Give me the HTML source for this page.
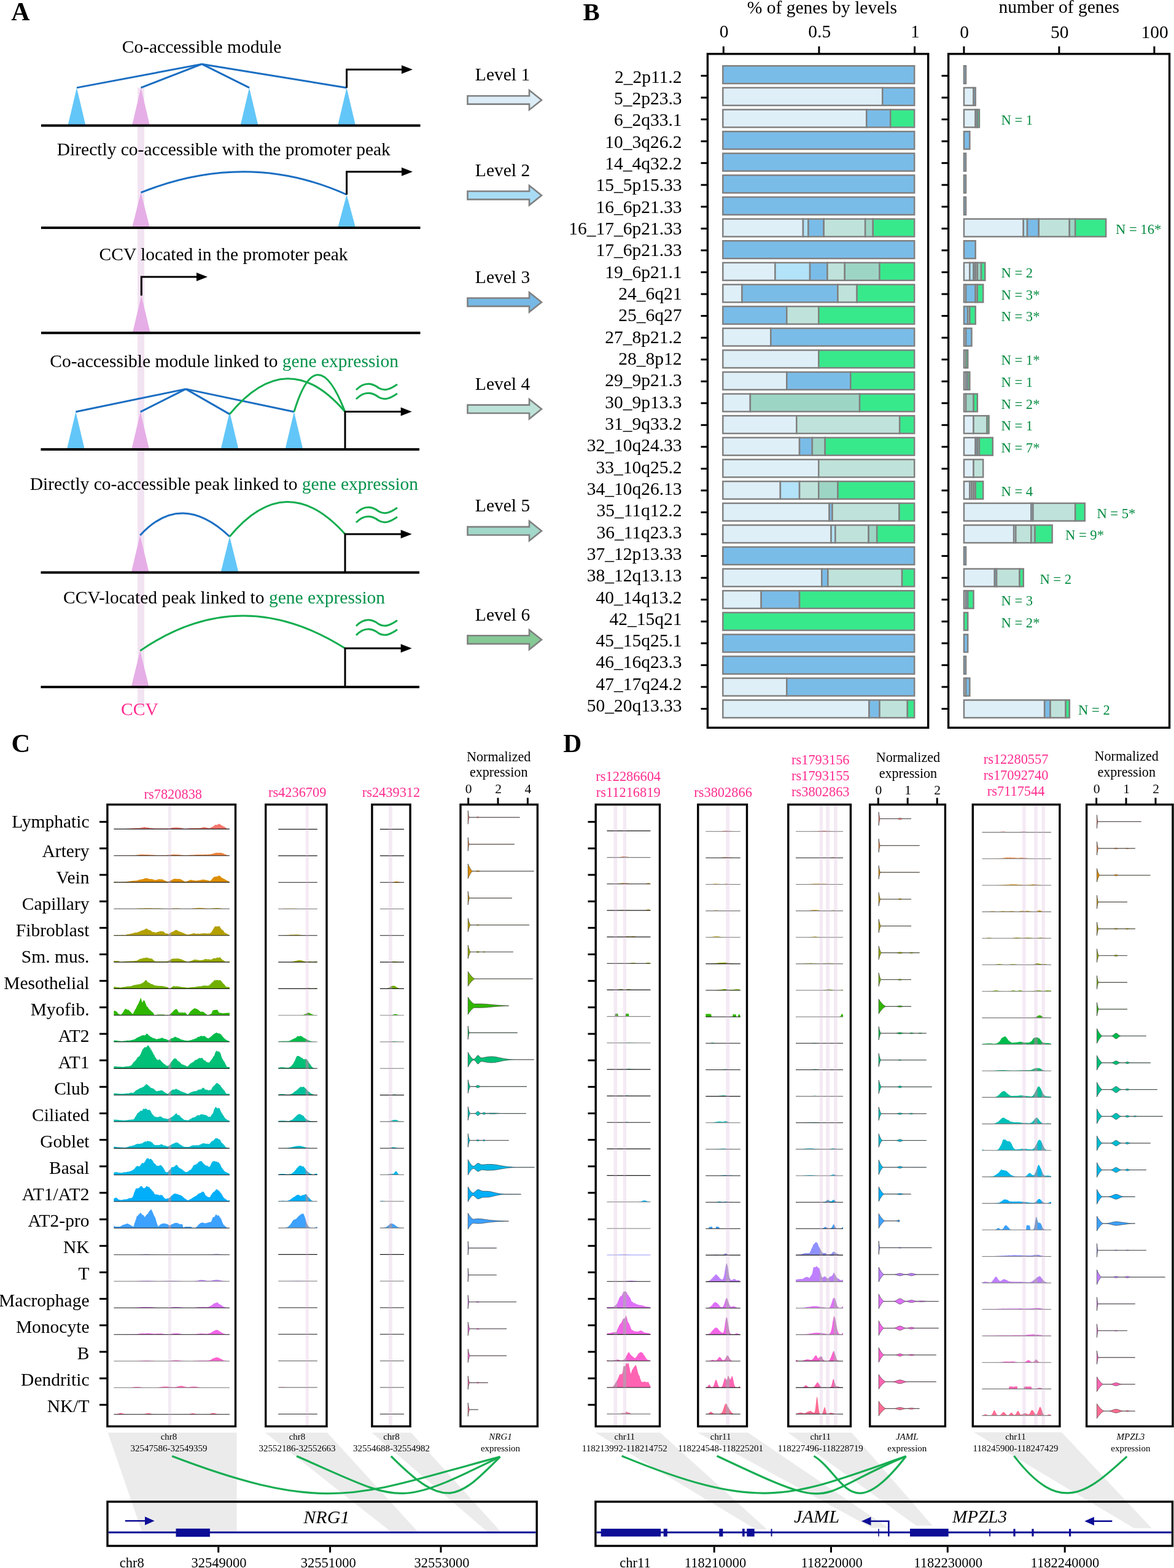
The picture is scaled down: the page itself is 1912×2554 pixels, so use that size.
<!DOCTYPE html><html><head><meta charset="utf-8"><title>Figure</title><style>html,body{margin:0;padding:0;background:#fff;}svg{display:block;}</style></head><body><svg xmlns="http://www.w3.org/2000/svg" width="1912" height="2554" viewBox="0 0 1912 2554" font-family="'Liberation Serif','Times New Roman',serif"><rect x="0" y="0" width="1912" height="2554" fill="#fff"/>
<text x="18.3" y="33.2" font-size="42" text-anchor="start" fill="#000" font-weight="bold">A</text>
<rect x="224.00" y="143.00" width="11.00" height="1010.00" fill="#f2e3f2" stroke="none" stroke-width="0"/>
<text x="328.6" y="85.8" font-size="29.5" text-anchor="middle" fill="#000">Co-accessible module</text>
<text x="364.3" y="252.7" font-size="29.5" text-anchor="middle" fill="#000">Directly co-accessible with the promoter peak</text>
<text x="364.1" y="423.5" font-size="29.5" text-anchor="middle" fill="#000">CCV located in the promoter peak</text>
<text x="365.2" y="597.7" font-size="29.5" text-anchor="middle" fill="#000">Co-accessible module linked to <tspan fill="#05924a">gene expression</tspan></text>
<text x="364.9" y="797.5" font-size="29.5" text-anchor="middle" fill="#000">Directly co-accessible peak linked to <tspan fill="#05924a">gene expression</tspan></text>
<text x="365.1" y="983.0" font-size="29.5" text-anchor="middle" fill="#000">CCV-located peak linked to <tspan fill="#05924a">gene expression</tspan></text>
<text x="227.4" y="1165.0" font-size="29.5" text-anchor="middle" fill="#ff2c90">CCV</text>
<polygon points="125.0,142.9 110.5,204.6 139.5,204.6" fill="#62c6f8" stroke="none" stroke-width="0"/>
<polygon points="229.5,142.9 215.0,204.6 244.0,204.6" fill="#e6aee6" stroke="none" stroke-width="0"/>
<polygon points="406.0,142.9 391.5,204.6 420.5,204.6" fill="#62c6f8" stroke="none" stroke-width="0"/>
<polygon points="564.6,142.9 550.1,204.6 579.1,204.6" fill="#62c6f8" stroke="none" stroke-width="0"/>
<line x1="328.8" y1="104.4" x2="125.0" y2="142.9" stroke="#1a6ec2" stroke-width="3"/>
<line x1="328.8" y1="104.4" x2="229.5" y2="142.9" stroke="#1a6ec2" stroke-width="3"/>
<line x1="328.8" y1="104.4" x2="406.0" y2="142.9" stroke="#1a6ec2" stroke-width="3"/>
<line x1="328.8" y1="104.4" x2="564.6" y2="142.9" stroke="#1a6ec2" stroke-width="3"/>
<path d="M564.6,142.9 L564.6,113.3 L656,113.3" fill="none" stroke="#000" stroke-width="3" stroke-linejoin="miter"/>
<polygon points="672.0,113.3 654.0,106.3 654.0,120.3" fill="#000" stroke="none" stroke-width="0"/>
<line x1="67.0" y1="204.6" x2="684.5" y2="204.6" stroke="#000" stroke-width="4"/>
<polygon points="229.5,313.6 215.0,371.0 244.0,371.0" fill="#e6aee6" stroke="none" stroke-width="0"/>
<polygon points="564.6,317.0 550.1,371.0 579.1,371.0" fill="#62c6f8" stroke="none" stroke-width="0"/>
<path d="M229.5,313.6 Q402.9,244.3 564.6,317.0" fill="none" stroke="#1a6ec2" stroke-width="3"/>
<path d="M564.6,317 L564.6,279.8 L656,279.8" fill="none" stroke="#000" stroke-width="3" stroke-linejoin="miter"/>
<polygon points="672.0,279.8 654.0,272.8 654.0,286.8" fill="#000" stroke="none" stroke-width="0"/>
<line x1="67.0" y1="371.0" x2="684.5" y2="371.0" stroke="#000" stroke-width="4"/>
<polygon points="230.3,481.4 215.8,542.3 244.8,542.3" fill="#e6aee6" stroke="none" stroke-width="0"/>
<path d="M230.3,481.4 L230.3,451 L322,451" fill="none" stroke="#000" stroke-width="3" stroke-linejoin="miter"/>
<polygon points="338.0,451.0 320.0,444.0 320.0,458.0" fill="#000" stroke="none" stroke-width="0"/>
<line x1="67.0" y1="542.3" x2="684.5" y2="542.3" stroke="#000" stroke-width="4"/>
<polygon points="123.4,670.8 108.9,732.0 137.9,732.0" fill="#62c6f8" stroke="none" stroke-width="0"/>
<polygon points="228.7,670.8 214.2,732.0 243.2,732.0" fill="#e6aee6" stroke="none" stroke-width="0"/>
<polygon points="374.0,670.8 359.5,732.0 388.5,732.0" fill="#62c6f8" stroke="none" stroke-width="0"/>
<polygon points="478.9,670.8 464.4,732.0 493.4,732.0" fill="#62c6f8" stroke="none" stroke-width="0"/>
<line x1="302.6" y1="633.6" x2="123.4" y2="670.8" stroke="#1a6ec2" stroke-width="3"/>
<line x1="302.6" y1="633.6" x2="228.7" y2="670.8" stroke="#1a6ec2" stroke-width="3"/>
<line x1="302.6" y1="633.6" x2="374.0" y2="674.6" stroke="#1a6ec2" stroke-width="3"/>
<line x1="302.6" y1="633.6" x2="478.9" y2="670.8" stroke="#1a6ec2" stroke-width="3"/>
<path d="M374.0,674.6 Q468.0,560.7 562.0,670.8" fill="none" stroke="#13ad4f" stroke-width="3"/>
<path d="M478.9,670.8 Q515.5,550.2 562.0,670.8" fill="none" stroke="#13ad4f" stroke-width="3"/>
<path d="M562,732 L562,670.5 L654.7,670.5" fill="none" stroke="#000" stroke-width="3" stroke-linejoin="miter"/>
<polygon points="670.7,670.5 652.7,663.5 652.7,677.5" fill="#000" stroke="none" stroke-width="0"/>
<path d="M580,635 C594.74,620 608.14,625 616.85,632 C626.9,638 636.95,633 647,626" fill="none" stroke="#13ad4f" stroke-width="3"/>
<path d="M580,650 C594.74,635 608.14,640 616.85,647 C626.9,653 636.95,648 647,641" fill="none" stroke="#13ad4f" stroke-width="3"/>
<line x1="66.5" y1="732.0" x2="683.0" y2="732.0" stroke="#000" stroke-width="4"/>
<polygon points="228.2,872.0 213.7,932.4 242.7,932.4" fill="#e6aee6" stroke="none" stroke-width="0"/>
<polygon points="374.0,874.0 359.5,932.4 388.5,932.4" fill="#62c6f8" stroke="none" stroke-width="0"/>
<path d="M228.2,872.0 Q294.9,799.0 374.0,874.0" fill="none" stroke="#1a6ec2" stroke-width="3"/>
<path d="M374.0,874.0 Q466.0,763.0 562.0,870.0" fill="none" stroke="#13ad4f" stroke-width="3"/>
<path d="M562,932.4 L562,870 L654.7,870" fill="none" stroke="#000" stroke-width="3" stroke-linejoin="miter"/>
<polygon points="670.7,870.0 652.7,863.0 652.7,877.0" fill="#000" stroke="none" stroke-width="0"/>
<path d="M580,836 C594.74,821 608.14,826 616.85,833 C626.9,839 636.95,834 647,827" fill="none" stroke="#13ad4f" stroke-width="3"/>
<path d="M580,851 C594.74,836 608.14,841 616.85,848 C626.9,854 636.95,849 647,842" fill="none" stroke="#13ad4f" stroke-width="3"/>
<line x1="66.5" y1="932.4" x2="683.0" y2="932.4" stroke="#000" stroke-width="4"/>
<polygon points="228.2,1060.0 213.7,1119.0 242.7,1119.0" fill="#e6aee6" stroke="none" stroke-width="0"/>
<path d="M228.2,1060.0 Q390.9,948.0 562.0,1056.0" fill="none" stroke="#13ad4f" stroke-width="3"/>
<path d="M562,1119 L562,1056 L654.7,1056" fill="none" stroke="#000" stroke-width="3" stroke-linejoin="miter"/>
<polygon points="670.7,1056.0 652.7,1049.0 652.7,1063.0" fill="#000" stroke="none" stroke-width="0"/>
<path d="M580,1019.6 C594.74,1004.6 608.14,1009.6 616.85,1016.6 C626.9,1022.6 636.95,1017.6 647,1010.6" fill="none" stroke="#13ad4f" stroke-width="3"/>
<path d="M580,1034.6 C594.74,1019.5999999999999 608.14,1024.6 616.85,1031.6 C626.9,1037.6 636.95,1032.6 647,1025.6" fill="none" stroke="#13ad4f" stroke-width="3"/>
<line x1="66.5" y1="1119.0" x2="683.0" y2="1119.0" stroke="#000" stroke-width="4"/>
<text x="818.5" y="131.4" font-size="29.5" text-anchor="middle" fill="#000">Level 1</text>
<polygon points="761.5,156.2 862.0,156.2 862.0,146.9 882.0,162.9 862.0,178.9 862.0,169.6 761.5,169.6" fill="#dcedf7" stroke="#808080" stroke-width="2.6"/>
<text x="818.5" y="287.2" font-size="29.5" text-anchor="middle" fill="#000">Level 2</text>
<polygon points="761.5,311.5 862.0,311.5 862.0,302.2 882.0,318.2 862.0,334.2 862.0,324.9 761.5,324.9" fill="#a8dcf5" stroke="#808080" stroke-width="2.6"/>
<text x="818.5" y="461.0" font-size="29.5" text-anchor="middle" fill="#000">Level 3</text>
<polygon points="761.5,485.5 862.0,485.5 862.0,476.2 882.0,492.2 862.0,508.2 862.0,498.9 761.5,498.9" fill="#76b9e6" stroke="#808080" stroke-width="2.6"/>
<text x="818.5" y="634.9" font-size="29.5" text-anchor="middle" fill="#000">Level 4</text>
<polygon points="761.5,659.6 862.0,659.6 862.0,650.3 882.0,666.3 862.0,682.3 862.0,673.0 761.5,673.0" fill="#bde3d9" stroke="#808080" stroke-width="2.6"/>
<text x="818.5" y="832.7" font-size="29.5" text-anchor="middle" fill="#000">Level 5</text>
<polygon points="761.5,858.1 862.0,858.1 862.0,848.8 882.0,864.8 862.0,880.8 862.0,871.5 761.5,871.5" fill="#a2d8c9" stroke="#808080" stroke-width="2.6"/>
<text x="818.5" y="1010.6" font-size="29.5" text-anchor="middle" fill="#000">Level 6</text>
<polygon points="761.5,1035.3 862.0,1035.3 862.0,1026.0 882.0,1042.0 862.0,1058.0 862.0,1048.7 761.5,1048.7" fill="#85c995" stroke="#808080" stroke-width="2.6"/>
<text x="949.6" y="33.2" font-size="40.8" text-anchor="start" fill="#000" font-weight="bold">B</text>
<text x="1338.9" y="21.7" font-size="29.5" text-anchor="middle" fill="#000">% of genes by levels</text>
<text x="1724.8" y="20.8" font-size="29.5" text-anchor="middle" fill="#000">number of genes</text>
<line x1="1178.3" y1="75.5" x2="1178.3" y2="88.0" stroke="#000" stroke-width="3"/>
<text x="1179.1" y="60.9" font-size="29.5" text-anchor="middle" fill="#000">0</text>
<line x1="1333.9" y1="75.5" x2="1333.9" y2="88.0" stroke="#000" stroke-width="3"/>
<text x="1334.7" y="60.9" font-size="29.5" text-anchor="middle" fill="#000">0.5</text>
<line x1="1489.6" y1="75.5" x2="1489.6" y2="88.0" stroke="#000" stroke-width="3"/>
<text x="1490.4" y="60.9" font-size="29.5" text-anchor="middle" fill="#000">1</text>
<line x1="1569.9" y1="75.5" x2="1569.9" y2="88.0" stroke="#000" stroke-width="3"/>
<text x="1570.7" y="62.0" font-size="29.5" text-anchor="middle" fill="#000">0</text>
<line x1="1724.9" y1="75.5" x2="1724.9" y2="88.0" stroke="#000" stroke-width="3"/>
<text x="1725.7" y="62.0" font-size="29.5" text-anchor="middle" fill="#000">50</text>
<line x1="1879.9" y1="75.5" x2="1879.9" y2="88.0" stroke="#000" stroke-width="3"/>
<text x="1880.7" y="62.0" font-size="29.5" text-anchor="middle" fill="#000">100</text>
<rect x="1152.40" y="87.80" width="359.30" height="1097.50" fill="none" stroke="#000" stroke-width="3.4"/>
<rect x="1544.60" y="87.80" width="360.00" height="1097.50" fill="none" stroke="#000" stroke-width="3.4"/>
<line x1="1141.5" y1="123.4" x2="1153.0" y2="123.4" stroke="#000" stroke-width="3"/>
<line x1="1533.5" y1="123.4" x2="1544.6" y2="123.4" stroke="#000" stroke-width="3"/>
<text x="1110.5" y="134.8" font-size="29.5" text-anchor="end" fill="#000">2_2p11.2</text>
<rect x="1177.30" y="107.30" width="311.90" height="28.80" fill="#7abce8" stroke="#808080" stroke-width="2.5"/>
<rect x="1569.90" y="107.30" width="3.12" height="28.80" fill="#7abce8" stroke="#808080" stroke-width="2.5"/>
<line x1="1141.5" y1="159.0" x2="1153.0" y2="159.0" stroke="#000" stroke-width="3"/>
<line x1="1533.5" y1="159.0" x2="1544.6" y2="159.0" stroke="#000" stroke-width="3"/>
<text x="1110.5" y="170.1" font-size="29.5" text-anchor="end" fill="#000">5_2p23.3</text>
<rect x="1177.30" y="142.92" width="259.92" height="28.80" fill="#dfeff8" stroke="#808080" stroke-width="2.5"/>
<rect x="1437.22" y="142.92" width="51.98" height="28.80" fill="#7abce8" stroke="#808080" stroke-width="2.5"/>
<rect x="1569.90" y="142.92" width="15.62" height="28.80" fill="#dfeff8" stroke="#808080" stroke-width="2.5"/>
<rect x="1585.53" y="142.92" width="3.12" height="28.80" fill="#7abce8" stroke="#808080" stroke-width="2.5"/>
<line x1="1141.5" y1="194.5" x2="1153.0" y2="194.5" stroke="#000" stroke-width="3"/>
<line x1="1533.5" y1="194.5" x2="1544.6" y2="194.5" stroke="#000" stroke-width="3"/>
<text x="1110.5" y="205.4" font-size="29.5" text-anchor="end" fill="#000">6_2q33.1</text>
<rect x="1177.30" y="178.54" width="233.92" height="28.80" fill="#dfeff8" stroke="#808080" stroke-width="2.5"/>
<rect x="1411.22" y="178.54" width="38.99" height="28.80" fill="#7abce8" stroke="#808080" stroke-width="2.5"/>
<rect x="1450.21" y="178.54" width="38.99" height="28.80" fill="#38e98c" stroke="#808080" stroke-width="2.5"/>
<rect x="1569.90" y="178.54" width="18.75" height="28.80" fill="#dfeff8" stroke="#808080" stroke-width="2.5"/>
<rect x="1588.65" y="178.54" width="3.12" height="28.80" fill="#7abce8" stroke="#808080" stroke-width="2.5"/>
<rect x="1591.78" y="178.54" width="3.12" height="28.80" fill="#38e98c" stroke="#808080" stroke-width="2.5"/>
<text x="1630.5" y="202.5" font-size="22.6" text-anchor="start" fill="#078c42">N = 1</text>
<line x1="1141.5" y1="230.1" x2="1153.0" y2="230.1" stroke="#000" stroke-width="3"/>
<line x1="1533.5" y1="230.1" x2="1544.6" y2="230.1" stroke="#000" stroke-width="3"/>
<text x="1110.5" y="240.8" font-size="29.5" text-anchor="end" fill="#000">10_3q26.2</text>
<rect x="1177.30" y="214.16" width="311.90" height="28.80" fill="#7abce8" stroke="#808080" stroke-width="2.5"/>
<rect x="1569.90" y="214.16" width="9.38" height="28.80" fill="#7abce8" stroke="#808080" stroke-width="2.5"/>
<line x1="1141.5" y1="265.6" x2="1153.0" y2="265.6" stroke="#000" stroke-width="3"/>
<line x1="1533.5" y1="265.6" x2="1544.6" y2="265.6" stroke="#000" stroke-width="3"/>
<text x="1110.5" y="276.1" font-size="29.5" text-anchor="end" fill="#000">14_4q32.2</text>
<rect x="1177.30" y="249.78" width="311.90" height="28.80" fill="#7abce8" stroke="#808080" stroke-width="2.5"/>
<rect x="1569.90" y="249.78" width="3.12" height="28.80" fill="#7abce8" stroke="#808080" stroke-width="2.5"/>
<line x1="1141.5" y1="301.2" x2="1153.0" y2="301.2" stroke="#000" stroke-width="3"/>
<line x1="1533.5" y1="301.2" x2="1544.6" y2="301.2" stroke="#000" stroke-width="3"/>
<text x="1110.5" y="311.4" font-size="29.5" text-anchor="end" fill="#000">15_5p15.33</text>
<rect x="1177.30" y="285.40" width="311.90" height="28.80" fill="#7abce8" stroke="#808080" stroke-width="2.5"/>
<rect x="1569.90" y="285.40" width="3.12" height="28.80" fill="#7abce8" stroke="#808080" stroke-width="2.5"/>
<line x1="1141.5" y1="336.7" x2="1153.0" y2="336.7" stroke="#000" stroke-width="3"/>
<line x1="1533.5" y1="336.7" x2="1544.6" y2="336.7" stroke="#000" stroke-width="3"/>
<text x="1110.5" y="346.7" font-size="29.5" text-anchor="end" fill="#000">16_6p21.33</text>
<rect x="1177.30" y="321.02" width="311.90" height="28.80" fill="#7abce8" stroke="#808080" stroke-width="2.5"/>
<rect x="1569.90" y="321.02" width="3.12" height="28.80" fill="#7abce8" stroke="#808080" stroke-width="2.5"/>
<line x1="1141.5" y1="372.3" x2="1153.0" y2="372.3" stroke="#000" stroke-width="3"/>
<line x1="1533.5" y1="372.3" x2="1544.6" y2="372.3" stroke="#000" stroke-width="3"/>
<text x="1110.5" y="382.0" font-size="29.5" text-anchor="end" fill="#000">16_17_6p21.33</text>
<rect x="1177.30" y="356.64" width="130.66" height="28.80" fill="#dfeff8" stroke="#808080" stroke-width="2.5"/>
<rect x="1307.96" y="356.64" width="8.43" height="28.80" fill="#b3e3f8" stroke="#808080" stroke-width="2.5"/>
<rect x="1316.39" y="356.64" width="25.29" height="28.80" fill="#7abce8" stroke="#808080" stroke-width="2.5"/>
<rect x="1341.68" y="356.64" width="67.44" height="28.80" fill="#bfe3da" stroke="#808080" stroke-width="2.5"/>
<rect x="1409.12" y="356.64" width="12.64" height="28.80" fill="#9dd5c5" stroke="#808080" stroke-width="2.5"/>
<rect x="1421.76" y="356.64" width="67.44" height="28.80" fill="#38e98c" stroke="#808080" stroke-width="2.5"/>
<rect x="1569.90" y="356.64" width="96.88" height="28.80" fill="#dfeff8" stroke="#808080" stroke-width="2.5"/>
<rect x="1666.78" y="356.64" width="6.25" height="28.80" fill="#b3e3f8" stroke="#808080" stroke-width="2.5"/>
<rect x="1673.03" y="356.64" width="18.75" height="28.80" fill="#7abce8" stroke="#808080" stroke-width="2.5"/>
<rect x="1691.78" y="356.64" width="50.00" height="28.80" fill="#bfe3da" stroke="#808080" stroke-width="2.5"/>
<rect x="1741.78" y="356.64" width="9.38" height="28.80" fill="#9dd5c5" stroke="#808080" stroke-width="2.5"/>
<rect x="1751.15" y="356.64" width="50.00" height="28.80" fill="#38e98c" stroke="#808080" stroke-width="2.5"/>
<text x="1817.0" y="380.6" font-size="22.6" text-anchor="start" fill="#078c42">N = 16*</text>
<line x1="1141.5" y1="407.8" x2="1153.0" y2="407.8" stroke="#000" stroke-width="3"/>
<line x1="1533.5" y1="407.8" x2="1544.6" y2="407.8" stroke="#000" stroke-width="3"/>
<text x="1110.5" y="417.4" font-size="29.5" text-anchor="end" fill="#000">17_6p21.33</text>
<rect x="1177.30" y="392.26" width="311.90" height="28.80" fill="#7abce8" stroke="#808080" stroke-width="2.5"/>
<rect x="1569.90" y="392.26" width="18.75" height="28.80" fill="#7abce8" stroke="#808080" stroke-width="2.5"/>
<line x1="1141.5" y1="443.4" x2="1153.0" y2="443.4" stroke="#000" stroke-width="3"/>
<line x1="1533.5" y1="443.4" x2="1544.6" y2="443.4" stroke="#000" stroke-width="3"/>
<text x="1110.5" y="452.7" font-size="29.5" text-anchor="end" fill="#000">19_6p21.1</text>
<rect x="1177.30" y="427.88" width="85.06" height="28.80" fill="#dfeff8" stroke="#808080" stroke-width="2.5"/>
<rect x="1262.36" y="427.88" width="56.71" height="28.80" fill="#b3e3f8" stroke="#808080" stroke-width="2.5"/>
<rect x="1319.07" y="427.88" width="28.35" height="28.80" fill="#7abce8" stroke="#808080" stroke-width="2.5"/>
<rect x="1347.43" y="427.88" width="28.35" height="28.80" fill="#bfe3da" stroke="#808080" stroke-width="2.5"/>
<rect x="1375.78" y="427.88" width="56.71" height="28.80" fill="#9dd5c5" stroke="#808080" stroke-width="2.5"/>
<rect x="1432.49" y="427.88" width="56.71" height="28.80" fill="#38e98c" stroke="#808080" stroke-width="2.5"/>
<rect x="1569.90" y="427.88" width="9.38" height="28.80" fill="#dfeff8" stroke="#808080" stroke-width="2.5"/>
<rect x="1579.28" y="427.88" width="6.25" height="28.80" fill="#b3e3f8" stroke="#808080" stroke-width="2.5"/>
<rect x="1585.53" y="427.88" width="3.12" height="28.80" fill="#7abce8" stroke="#808080" stroke-width="2.5"/>
<rect x="1588.65" y="427.88" width="3.12" height="28.80" fill="#bfe3da" stroke="#808080" stroke-width="2.5"/>
<rect x="1591.78" y="427.88" width="6.25" height="28.80" fill="#9dd5c5" stroke="#808080" stroke-width="2.5"/>
<rect x="1598.03" y="427.88" width="6.25" height="28.80" fill="#38e98c" stroke="#808080" stroke-width="2.5"/>
<text x="1630.5" y="451.9" font-size="22.6" text-anchor="start" fill="#078c42">N = 2</text>
<line x1="1141.5" y1="479.0" x2="1153.0" y2="479.0" stroke="#000" stroke-width="3"/>
<line x1="1533.5" y1="479.0" x2="1544.6" y2="479.0" stroke="#000" stroke-width="3"/>
<text x="1110.5" y="488.0" font-size="29.5" text-anchor="end" fill="#000">24_6q21</text>
<rect x="1177.30" y="463.50" width="31.19" height="28.80" fill="#dfeff8" stroke="#808080" stroke-width="2.5"/>
<rect x="1208.49" y="463.50" width="155.95" height="28.80" fill="#7abce8" stroke="#808080" stroke-width="2.5"/>
<rect x="1364.44" y="463.50" width="31.19" height="28.80" fill="#bfe3da" stroke="#808080" stroke-width="2.5"/>
<rect x="1395.63" y="463.50" width="93.57" height="28.80" fill="#38e98c" stroke="#808080" stroke-width="2.5"/>
<rect x="1569.90" y="463.50" width="3.12" height="28.80" fill="#dfeff8" stroke="#808080" stroke-width="2.5"/>
<rect x="1573.03" y="463.50" width="15.62" height="28.80" fill="#7abce8" stroke="#808080" stroke-width="2.5"/>
<rect x="1588.65" y="463.50" width="3.12" height="28.80" fill="#bfe3da" stroke="#808080" stroke-width="2.5"/>
<rect x="1591.78" y="463.50" width="9.38" height="28.80" fill="#38e98c" stroke="#808080" stroke-width="2.5"/>
<text x="1630.5" y="487.5" font-size="22.6" text-anchor="start" fill="#078c42">N = 3*</text>
<line x1="1141.5" y1="514.5" x2="1153.0" y2="514.5" stroke="#000" stroke-width="3"/>
<line x1="1533.5" y1="514.5" x2="1544.6" y2="514.5" stroke="#000" stroke-width="3"/>
<text x="1110.5" y="523.3" font-size="29.5" text-anchor="end" fill="#000">25_6q27</text>
<rect x="1177.30" y="499.12" width="103.97" height="28.80" fill="#7abce8" stroke="#808080" stroke-width="2.5"/>
<rect x="1281.27" y="499.12" width="51.98" height="28.80" fill="#bfe3da" stroke="#808080" stroke-width="2.5"/>
<rect x="1333.25" y="499.12" width="155.95" height="28.80" fill="#38e98c" stroke="#808080" stroke-width="2.5"/>
<rect x="1569.90" y="499.12" width="6.25" height="28.80" fill="#7abce8" stroke="#808080" stroke-width="2.5"/>
<rect x="1576.15" y="499.12" width="3.12" height="28.80" fill="#bfe3da" stroke="#808080" stroke-width="2.5"/>
<rect x="1579.28" y="499.12" width="9.38" height="28.80" fill="#38e98c" stroke="#808080" stroke-width="2.5"/>
<text x="1630.5" y="523.1" font-size="22.6" text-anchor="start" fill="#078c42">N = 3*</text>
<line x1="1141.5" y1="550.1" x2="1153.0" y2="550.1" stroke="#000" stroke-width="3"/>
<line x1="1533.5" y1="550.1" x2="1544.6" y2="550.1" stroke="#000" stroke-width="3"/>
<text x="1110.5" y="558.6" font-size="29.5" text-anchor="end" fill="#000">27_8p21.2</text>
<rect x="1177.30" y="534.74" width="77.98" height="28.80" fill="#dfeff8" stroke="#808080" stroke-width="2.5"/>
<rect x="1255.28" y="534.74" width="233.92" height="28.80" fill="#7abce8" stroke="#808080" stroke-width="2.5"/>
<rect x="1569.90" y="534.74" width="3.12" height="28.80" fill="#dfeff8" stroke="#808080" stroke-width="2.5"/>
<rect x="1573.03" y="534.74" width="9.38" height="28.80" fill="#7abce8" stroke="#808080" stroke-width="2.5"/>
<line x1="1141.5" y1="585.6" x2="1153.0" y2="585.6" stroke="#000" stroke-width="3"/>
<line x1="1533.5" y1="585.6" x2="1544.6" y2="585.6" stroke="#000" stroke-width="3"/>
<text x="1110.5" y="594.0" font-size="29.5" text-anchor="end" fill="#000">28_8p12</text>
<rect x="1177.30" y="570.36" width="155.95" height="28.80" fill="#dfeff8" stroke="#808080" stroke-width="2.5"/>
<rect x="1333.25" y="570.36" width="155.95" height="28.80" fill="#38e98c" stroke="#808080" stroke-width="2.5"/>
<rect x="1569.90" y="570.36" width="3.12" height="28.80" fill="#dfeff8" stroke="#808080" stroke-width="2.5"/>
<rect x="1573.03" y="570.36" width="3.12" height="28.80" fill="#38e98c" stroke="#808080" stroke-width="2.5"/>
<text x="1630.5" y="594.4" font-size="22.6" text-anchor="start" fill="#078c42">N = 1*</text>
<line x1="1141.5" y1="621.2" x2="1153.0" y2="621.2" stroke="#000" stroke-width="3"/>
<line x1="1533.5" y1="621.2" x2="1544.6" y2="621.2" stroke="#000" stroke-width="3"/>
<text x="1110.5" y="629.3" font-size="29.5" text-anchor="end" fill="#000">29_9p21.3</text>
<rect x="1177.30" y="605.98" width="103.97" height="28.80" fill="#dfeff8" stroke="#808080" stroke-width="2.5"/>
<rect x="1281.27" y="605.98" width="103.97" height="28.80" fill="#7abce8" stroke="#808080" stroke-width="2.5"/>
<rect x="1385.23" y="605.98" width="103.97" height="28.80" fill="#38e98c" stroke="#808080" stroke-width="2.5"/>
<rect x="1569.90" y="605.98" width="3.12" height="28.80" fill="#dfeff8" stroke="#808080" stroke-width="2.5"/>
<rect x="1573.03" y="605.98" width="3.12" height="28.80" fill="#7abce8" stroke="#808080" stroke-width="2.5"/>
<rect x="1576.15" y="605.98" width="3.12" height="28.80" fill="#38e98c" stroke="#808080" stroke-width="2.5"/>
<text x="1630.5" y="630.0" font-size="22.6" text-anchor="start" fill="#078c42">N = 1</text>
<line x1="1141.5" y1="656.7" x2="1153.0" y2="656.7" stroke="#000" stroke-width="3"/>
<line x1="1533.5" y1="656.7" x2="1544.6" y2="656.7" stroke="#000" stroke-width="3"/>
<text x="1110.5" y="664.6" font-size="29.5" text-anchor="end" fill="#000">30_9p13.3</text>
<rect x="1177.30" y="641.60" width="44.56" height="28.80" fill="#dfeff8" stroke="#808080" stroke-width="2.5"/>
<rect x="1221.86" y="641.60" width="178.23" height="28.80" fill="#9dd5c5" stroke="#808080" stroke-width="2.5"/>
<rect x="1400.09" y="641.60" width="89.11" height="28.80" fill="#38e98c" stroke="#808080" stroke-width="2.5"/>
<rect x="1569.90" y="641.60" width="3.12" height="28.80" fill="#dfeff8" stroke="#808080" stroke-width="2.5"/>
<rect x="1573.03" y="641.60" width="12.50" height="28.80" fill="#9dd5c5" stroke="#808080" stroke-width="2.5"/>
<rect x="1585.53" y="641.60" width="6.25" height="28.80" fill="#38e98c" stroke="#808080" stroke-width="2.5"/>
<text x="1630.5" y="665.6" font-size="22.6" text-anchor="start" fill="#078c42">N = 2*</text>
<line x1="1141.5" y1="692.3" x2="1153.0" y2="692.3" stroke="#000" stroke-width="3"/>
<line x1="1533.5" y1="692.3" x2="1544.6" y2="692.3" stroke="#000" stroke-width="3"/>
<text x="1110.5" y="699.9" font-size="29.5" text-anchor="end" fill="#000">31_9q33.2</text>
<rect x="1177.30" y="677.22" width="119.96" height="28.80" fill="#dfeff8" stroke="#808080" stroke-width="2.5"/>
<rect x="1297.26" y="677.22" width="167.95" height="28.80" fill="#bfe3da" stroke="#808080" stroke-width="2.5"/>
<rect x="1465.21" y="677.22" width="23.99" height="28.80" fill="#38e98c" stroke="#808080" stroke-width="2.5"/>
<rect x="1569.90" y="677.22" width="15.62" height="28.80" fill="#dfeff8" stroke="#808080" stroke-width="2.5"/>
<rect x="1585.53" y="677.22" width="21.88" height="28.80" fill="#bfe3da" stroke="#808080" stroke-width="2.5"/>
<rect x="1607.40" y="677.22" width="3.12" height="28.80" fill="#38e98c" stroke="#808080" stroke-width="2.5"/>
<text x="1630.5" y="701.2" font-size="22.6" text-anchor="start" fill="#078c42">N = 1</text>
<line x1="1141.5" y1="727.8" x2="1153.0" y2="727.8" stroke="#000" stroke-width="3"/>
<line x1="1533.5" y1="727.8" x2="1544.6" y2="727.8" stroke="#000" stroke-width="3"/>
<text x="1110.5" y="735.2" font-size="29.5" text-anchor="end" fill="#000">32_10q24.33</text>
<rect x="1177.30" y="712.84" width="124.76" height="28.80" fill="#dfeff8" stroke="#808080" stroke-width="2.5"/>
<rect x="1302.06" y="712.84" width="20.79" height="28.80" fill="#7abce8" stroke="#808080" stroke-width="2.5"/>
<rect x="1322.85" y="712.84" width="20.79" height="28.80" fill="#9dd5c5" stroke="#808080" stroke-width="2.5"/>
<rect x="1343.65" y="712.84" width="145.55" height="28.80" fill="#38e98c" stroke="#808080" stroke-width="2.5"/>
<rect x="1569.90" y="712.84" width="18.75" height="28.80" fill="#dfeff8" stroke="#808080" stroke-width="2.5"/>
<rect x="1588.65" y="712.84" width="3.12" height="28.80" fill="#7abce8" stroke="#808080" stroke-width="2.5"/>
<rect x="1591.78" y="712.84" width="3.12" height="28.80" fill="#9dd5c5" stroke="#808080" stroke-width="2.5"/>
<rect x="1594.90" y="712.84" width="21.88" height="28.80" fill="#38e98c" stroke="#808080" stroke-width="2.5"/>
<text x="1630.5" y="736.8" font-size="22.6" text-anchor="start" fill="#078c42">N = 7*</text>
<line x1="1141.5" y1="763.4" x2="1153.0" y2="763.4" stroke="#000" stroke-width="3"/>
<line x1="1533.5" y1="763.4" x2="1544.6" y2="763.4" stroke="#000" stroke-width="3"/>
<text x="1110.5" y="770.6" font-size="29.5" text-anchor="end" fill="#000">33_10q25.2</text>
<rect x="1177.30" y="748.46" width="155.95" height="28.80" fill="#dfeff8" stroke="#808080" stroke-width="2.5"/>
<rect x="1333.25" y="748.46" width="155.95" height="28.80" fill="#bfe3da" stroke="#808080" stroke-width="2.5"/>
<rect x="1569.90" y="748.46" width="15.62" height="28.80" fill="#dfeff8" stroke="#808080" stroke-width="2.5"/>
<rect x="1585.53" y="748.46" width="15.62" height="28.80" fill="#bfe3da" stroke="#808080" stroke-width="2.5"/>
<line x1="1141.5" y1="798.9" x2="1153.0" y2="798.9" stroke="#000" stroke-width="3"/>
<line x1="1533.5" y1="798.9" x2="1544.6" y2="798.9" stroke="#000" stroke-width="3"/>
<text x="1110.5" y="805.9" font-size="29.5" text-anchor="end" fill="#000">34_10q26.13</text>
<rect x="1177.30" y="784.08" width="93.57" height="28.80" fill="#dfeff8" stroke="#808080" stroke-width="2.5"/>
<rect x="1270.87" y="784.08" width="31.19" height="28.80" fill="#b3e3f8" stroke="#808080" stroke-width="2.5"/>
<rect x="1302.06" y="784.08" width="31.19" height="28.80" fill="#bfe3da" stroke="#808080" stroke-width="2.5"/>
<rect x="1333.25" y="784.08" width="31.19" height="28.80" fill="#9dd5c5" stroke="#808080" stroke-width="2.5"/>
<rect x="1364.44" y="784.08" width="124.76" height="28.80" fill="#38e98c" stroke="#808080" stroke-width="2.5"/>
<rect x="1569.90" y="784.08" width="9.38" height="28.80" fill="#dfeff8" stroke="#808080" stroke-width="2.5"/>
<rect x="1579.28" y="784.08" width="3.12" height="28.80" fill="#b3e3f8" stroke="#808080" stroke-width="2.5"/>
<rect x="1582.40" y="784.08" width="3.12" height="28.80" fill="#bfe3da" stroke="#808080" stroke-width="2.5"/>
<rect x="1585.53" y="784.08" width="3.12" height="28.80" fill="#9dd5c5" stroke="#808080" stroke-width="2.5"/>
<rect x="1588.65" y="784.08" width="12.50" height="28.80" fill="#38e98c" stroke="#808080" stroke-width="2.5"/>
<text x="1630.5" y="808.1" font-size="22.6" text-anchor="start" fill="#078c42">N = 4</text>
<line x1="1141.5" y1="834.5" x2="1153.0" y2="834.5" stroke="#000" stroke-width="3"/>
<line x1="1533.5" y1="834.5" x2="1544.6" y2="834.5" stroke="#000" stroke-width="3"/>
<text x="1110.5" y="841.2" font-size="29.5" text-anchor="end" fill="#000">35_11q12.2</text>
<rect x="1177.30" y="819.70" width="173.28" height="28.80" fill="#dfeff8" stroke="#808080" stroke-width="2.5"/>
<rect x="1350.58" y="819.70" width="4.95" height="28.80" fill="#7abce8" stroke="#808080" stroke-width="2.5"/>
<rect x="1355.53" y="819.70" width="108.92" height="28.80" fill="#bfe3da" stroke="#808080" stroke-width="2.5"/>
<rect x="1464.45" y="819.70" width="24.75" height="28.80" fill="#38e98c" stroke="#808080" stroke-width="2.5"/>
<rect x="1569.90" y="819.70" width="109.38" height="28.80" fill="#dfeff8" stroke="#808080" stroke-width="2.5"/>
<rect x="1679.28" y="819.70" width="3.12" height="28.80" fill="#7abce8" stroke="#808080" stroke-width="2.5"/>
<rect x="1682.40" y="819.70" width="68.75" height="28.80" fill="#bfe3da" stroke="#808080" stroke-width="2.5"/>
<rect x="1751.15" y="819.70" width="15.62" height="28.80" fill="#38e98c" stroke="#808080" stroke-width="2.5"/>
<text x="1786.4" y="843.7" font-size="22.6" text-anchor="start" fill="#078c42">N = 5*</text>
<line x1="1141.5" y1="870.1" x2="1153.0" y2="870.1" stroke="#000" stroke-width="3"/>
<line x1="1533.5" y1="870.1" x2="1544.6" y2="870.1" stroke="#000" stroke-width="3"/>
<text x="1110.5" y="876.5" font-size="29.5" text-anchor="end" fill="#000">36_11q23.3</text>
<rect x="1177.30" y="855.32" width="176.29" height="28.80" fill="#dfeff8" stroke="#808080" stroke-width="2.5"/>
<rect x="1353.59" y="855.32" width="6.78" height="28.80" fill="#b3e3f8" stroke="#808080" stroke-width="2.5"/>
<rect x="1360.37" y="855.32" width="54.24" height="28.80" fill="#bfe3da" stroke="#808080" stroke-width="2.5"/>
<rect x="1414.62" y="855.32" width="13.56" height="28.80" fill="#9dd5c5" stroke="#808080" stroke-width="2.5"/>
<rect x="1428.18" y="855.32" width="61.02" height="28.80" fill="#38e98c" stroke="#808080" stroke-width="2.5"/>
<rect x="1569.90" y="855.32" width="81.25" height="28.80" fill="#dfeff8" stroke="#808080" stroke-width="2.5"/>
<rect x="1651.15" y="855.32" width="3.12" height="28.80" fill="#b3e3f8" stroke="#808080" stroke-width="2.5"/>
<rect x="1654.28" y="855.32" width="25.00" height="28.80" fill="#bfe3da" stroke="#808080" stroke-width="2.5"/>
<rect x="1679.28" y="855.32" width="6.25" height="28.80" fill="#9dd5c5" stroke="#808080" stroke-width="2.5"/>
<rect x="1685.53" y="855.32" width="28.12" height="28.80" fill="#38e98c" stroke="#808080" stroke-width="2.5"/>
<text x="1735.0" y="879.3" font-size="22.6" text-anchor="start" fill="#078c42">N = 9*</text>
<line x1="1141.5" y1="905.6" x2="1153.0" y2="905.6" stroke="#000" stroke-width="3"/>
<line x1="1533.5" y1="905.6" x2="1544.6" y2="905.6" stroke="#000" stroke-width="3"/>
<text x="1110.5" y="911.8" font-size="29.5" text-anchor="end" fill="#000">37_12p13.33</text>
<rect x="1177.30" y="890.94" width="311.90" height="28.80" fill="#7abce8" stroke="#808080" stroke-width="2.5"/>
<rect x="1569.90" y="890.94" width="3.12" height="28.80" fill="#7abce8" stroke="#808080" stroke-width="2.5"/>
<line x1="1141.5" y1="941.2" x2="1153.0" y2="941.2" stroke="#000" stroke-width="3"/>
<line x1="1533.5" y1="941.2" x2="1544.6" y2="941.2" stroke="#000" stroke-width="3"/>
<text x="1110.5" y="947.2" font-size="29.5" text-anchor="end" fill="#000">38_12q13.13</text>
<rect x="1177.30" y="926.56" width="160.98" height="28.80" fill="#dfeff8" stroke="#808080" stroke-width="2.5"/>
<rect x="1338.28" y="926.56" width="10.06" height="28.80" fill="#7abce8" stroke="#808080" stroke-width="2.5"/>
<rect x="1348.34" y="926.56" width="120.74" height="28.80" fill="#bfe3da" stroke="#808080" stroke-width="2.5"/>
<rect x="1469.08" y="926.56" width="20.12" height="28.80" fill="#38e98c" stroke="#808080" stroke-width="2.5"/>
<rect x="1569.90" y="926.56" width="50.00" height="28.80" fill="#dfeff8" stroke="#808080" stroke-width="2.5"/>
<rect x="1619.90" y="926.56" width="3.12" height="28.80" fill="#7abce8" stroke="#808080" stroke-width="2.5"/>
<rect x="1623.03" y="926.56" width="37.50" height="28.80" fill="#bfe3da" stroke="#808080" stroke-width="2.5"/>
<rect x="1660.53" y="926.56" width="6.25" height="28.80" fill="#38e98c" stroke="#808080" stroke-width="2.5"/>
<text x="1693.4" y="950.6" font-size="22.6" text-anchor="start" fill="#078c42">N = 2</text>
<line x1="1141.5" y1="976.7" x2="1153.0" y2="976.7" stroke="#000" stroke-width="3"/>
<line x1="1533.5" y1="976.7" x2="1544.6" y2="976.7" stroke="#000" stroke-width="3"/>
<text x="1110.5" y="982.5" font-size="29.5" text-anchor="end" fill="#000">40_14q13.2</text>
<rect x="1177.30" y="962.18" width="62.38" height="28.80" fill="#dfeff8" stroke="#808080" stroke-width="2.5"/>
<rect x="1239.68" y="962.18" width="62.38" height="28.80" fill="#7abce8" stroke="#808080" stroke-width="2.5"/>
<rect x="1302.06" y="962.18" width="187.14" height="28.80" fill="#38e98c" stroke="#808080" stroke-width="2.5"/>
<rect x="1569.90" y="962.18" width="3.12" height="28.80" fill="#dfeff8" stroke="#808080" stroke-width="2.5"/>
<rect x="1573.03" y="962.18" width="3.12" height="28.80" fill="#7abce8" stroke="#808080" stroke-width="2.5"/>
<rect x="1576.15" y="962.18" width="9.38" height="28.80" fill="#38e98c" stroke="#808080" stroke-width="2.5"/>
<text x="1630.5" y="986.2" font-size="22.6" text-anchor="start" fill="#078c42">N = 3</text>
<line x1="1141.5" y1="1012.3" x2="1153.0" y2="1012.3" stroke="#000" stroke-width="3"/>
<line x1="1533.5" y1="1012.3" x2="1544.6" y2="1012.3" stroke="#000" stroke-width="3"/>
<text x="1110.5" y="1017.8" font-size="29.5" text-anchor="end" fill="#000">42_15q21</text>
<rect x="1177.30" y="997.80" width="311.90" height="28.80" fill="#38e98c" stroke="#808080" stroke-width="2.5"/>
<rect x="1569.90" y="997.80" width="6.25" height="28.80" fill="#38e98c" stroke="#808080" stroke-width="2.5"/>
<text x="1630.5" y="1021.8" font-size="22.6" text-anchor="start" fill="#078c42">N = 2*</text>
<line x1="1141.5" y1="1047.8" x2="1153.0" y2="1047.8" stroke="#000" stroke-width="3"/>
<line x1="1533.5" y1="1047.8" x2="1544.6" y2="1047.8" stroke="#000" stroke-width="3"/>
<text x="1110.5" y="1053.1" font-size="29.5" text-anchor="end" fill="#000">45_15q25.1</text>
<rect x="1177.30" y="1033.42" width="311.90" height="28.80" fill="#7abce8" stroke="#808080" stroke-width="2.5"/>
<rect x="1569.90" y="1033.42" width="6.25" height="28.80" fill="#7abce8" stroke="#808080" stroke-width="2.5"/>
<line x1="1141.5" y1="1083.4" x2="1153.0" y2="1083.4" stroke="#000" stroke-width="3"/>
<line x1="1533.5" y1="1083.4" x2="1544.6" y2="1083.4" stroke="#000" stroke-width="3"/>
<text x="1110.5" y="1088.4" font-size="29.5" text-anchor="end" fill="#000">46_16q23.3</text>
<rect x="1177.30" y="1069.04" width="311.90" height="28.80" fill="#7abce8" stroke="#808080" stroke-width="2.5"/>
<rect x="1569.90" y="1069.04" width="3.12" height="28.80" fill="#7abce8" stroke="#808080" stroke-width="2.5"/>
<line x1="1141.5" y1="1118.9" x2="1153.0" y2="1118.9" stroke="#000" stroke-width="3"/>
<line x1="1533.5" y1="1118.9" x2="1544.6" y2="1118.9" stroke="#000" stroke-width="3"/>
<text x="1110.5" y="1123.8" font-size="29.5" text-anchor="end" fill="#000">47_17q24.2</text>
<rect x="1177.30" y="1104.66" width="103.97" height="28.80" fill="#dfeff8" stroke="#808080" stroke-width="2.5"/>
<rect x="1281.27" y="1104.66" width="207.93" height="28.80" fill="#7abce8" stroke="#808080" stroke-width="2.5"/>
<rect x="1569.90" y="1104.66" width="3.12" height="28.80" fill="#dfeff8" stroke="#808080" stroke-width="2.5"/>
<rect x="1573.03" y="1104.66" width="6.25" height="28.80" fill="#7abce8" stroke="#808080" stroke-width="2.5"/>
<line x1="1141.5" y1="1154.5" x2="1153.0" y2="1154.5" stroke="#000" stroke-width="3"/>
<line x1="1533.5" y1="1154.5" x2="1544.6" y2="1154.5" stroke="#000" stroke-width="3"/>
<text x="1110.5" y="1159.1" font-size="29.5" text-anchor="end" fill="#000">50_20q13.33</text>
<rect x="1177.30" y="1140.28" width="238.18" height="28.80" fill="#dfeff8" stroke="#808080" stroke-width="2.5"/>
<rect x="1415.48" y="1140.28" width="17.01" height="28.80" fill="#7abce8" stroke="#808080" stroke-width="2.5"/>
<rect x="1432.49" y="1140.28" width="45.37" height="28.80" fill="#bfe3da" stroke="#808080" stroke-width="2.5"/>
<rect x="1477.86" y="1140.28" width="11.34" height="28.80" fill="#38e98c" stroke="#808080" stroke-width="2.5"/>
<rect x="1569.90" y="1140.28" width="131.25" height="28.80" fill="#dfeff8" stroke="#808080" stroke-width="2.5"/>
<rect x="1701.15" y="1140.28" width="9.38" height="28.80" fill="#7abce8" stroke="#808080" stroke-width="2.5"/>
<rect x="1710.53" y="1140.28" width="25.00" height="28.80" fill="#bfe3da" stroke="#808080" stroke-width="2.5"/>
<rect x="1735.53" y="1140.28" width="6.25" height="28.80" fill="#38e98c" stroke="#808080" stroke-width="2.5"/>
<text x="1756.1" y="1164.3" font-size="22.6" text-anchor="start" fill="#078c42">N = 2</text>
<text x="18.6" y="1225.2" font-size="42.5" text-anchor="start" fill="#000" font-weight="bold">C</text>
<text x="917.3" y="1224.8" font-size="41.5" text-anchor="start" fill="#000" font-weight="bold">D</text>
<line x1="162.0" y1="1338.7" x2="175.0" y2="1338.7" stroke="#000" stroke-width="3"/>
<line x1="957.5" y1="1338.7" x2="970.0" y2="1338.7" stroke="#000" stroke-width="3"/>
<text x="145.5" y="1348.4" font-size="29.5" text-anchor="end" fill="#000">Lymphatic</text>
<line x1="162.0" y1="1381.9" x2="175.0" y2="1381.9" stroke="#000" stroke-width="3"/>
<line x1="957.5" y1="1381.9" x2="970.0" y2="1381.9" stroke="#000" stroke-width="3"/>
<text x="145.5" y="1395.8" font-size="29.5" text-anchor="end" fill="#000">Artery</text>
<line x1="162.0" y1="1425.0" x2="175.0" y2="1425.0" stroke="#000" stroke-width="3"/>
<line x1="957.5" y1="1425.0" x2="970.0" y2="1425.0" stroke="#000" stroke-width="3"/>
<text x="145.5" y="1438.8" font-size="29.5" text-anchor="end" fill="#000">Vein</text>
<line x1="162.0" y1="1468.2" x2="175.0" y2="1468.2" stroke="#000" stroke-width="3"/>
<line x1="957.5" y1="1468.2" x2="970.0" y2="1468.2" stroke="#000" stroke-width="3"/>
<text x="145.5" y="1481.9" font-size="29.5" text-anchor="end" fill="#000">Capillary</text>
<line x1="162.0" y1="1511.3" x2="175.0" y2="1511.3" stroke="#000" stroke-width="3"/>
<line x1="957.5" y1="1511.3" x2="970.0" y2="1511.3" stroke="#000" stroke-width="3"/>
<text x="145.5" y="1524.9" font-size="29.5" text-anchor="end" fill="#000">Fibroblast</text>
<line x1="162.0" y1="1554.5" x2="175.0" y2="1554.5" stroke="#000" stroke-width="3"/>
<line x1="957.5" y1="1554.5" x2="970.0" y2="1554.5" stroke="#000" stroke-width="3"/>
<text x="145.5" y="1568.0" font-size="29.5" text-anchor="end" fill="#000">Sm. mus.</text>
<line x1="162.0" y1="1597.7" x2="175.0" y2="1597.7" stroke="#000" stroke-width="3"/>
<line x1="957.5" y1="1597.7" x2="970.0" y2="1597.7" stroke="#000" stroke-width="3"/>
<text x="145.5" y="1611.0" font-size="29.5" text-anchor="end" fill="#000">Mesothelial</text>
<line x1="162.0" y1="1640.8" x2="175.0" y2="1640.8" stroke="#000" stroke-width="3"/>
<line x1="957.5" y1="1640.8" x2="970.0" y2="1640.8" stroke="#000" stroke-width="3"/>
<text x="145.5" y="1654.0" font-size="29.5" text-anchor="end" fill="#000">Myofib.</text>
<line x1="162.0" y1="1684.0" x2="175.0" y2="1684.0" stroke="#000" stroke-width="3"/>
<line x1="957.5" y1="1684.0" x2="970.0" y2="1684.0" stroke="#000" stroke-width="3"/>
<text x="145.5" y="1697.1" font-size="29.5" text-anchor="end" fill="#000">AT2</text>
<line x1="162.0" y1="1727.1" x2="175.0" y2="1727.1" stroke="#000" stroke-width="3"/>
<line x1="957.5" y1="1727.1" x2="970.0" y2="1727.1" stroke="#000" stroke-width="3"/>
<text x="145.5" y="1740.1" font-size="29.5" text-anchor="end" fill="#000">AT1</text>
<line x1="162.0" y1="1770.3" x2="175.0" y2="1770.3" stroke="#000" stroke-width="3"/>
<line x1="957.5" y1="1770.3" x2="970.0" y2="1770.3" stroke="#000" stroke-width="3"/>
<text x="145.5" y="1783.2" font-size="29.5" text-anchor="end" fill="#000">Club</text>
<line x1="162.0" y1="1813.5" x2="175.0" y2="1813.5" stroke="#000" stroke-width="3"/>
<line x1="957.5" y1="1813.5" x2="970.0" y2="1813.5" stroke="#000" stroke-width="3"/>
<text x="145.5" y="1826.2" font-size="29.5" text-anchor="end" fill="#000">Ciliated</text>
<line x1="162.0" y1="1856.6" x2="175.0" y2="1856.6" stroke="#000" stroke-width="3"/>
<line x1="957.5" y1="1856.6" x2="970.0" y2="1856.6" stroke="#000" stroke-width="3"/>
<text x="145.5" y="1869.2" font-size="29.5" text-anchor="end" fill="#000">Goblet</text>
<line x1="162.0" y1="1899.8" x2="175.0" y2="1899.8" stroke="#000" stroke-width="3"/>
<line x1="957.5" y1="1899.8" x2="970.0" y2="1899.8" stroke="#000" stroke-width="3"/>
<text x="145.5" y="1912.3" font-size="29.5" text-anchor="end" fill="#000">Basal</text>
<line x1="162.0" y1="1942.9" x2="175.0" y2="1942.9" stroke="#000" stroke-width="3"/>
<line x1="957.5" y1="1942.9" x2="970.0" y2="1942.9" stroke="#000" stroke-width="3"/>
<text x="145.5" y="1955.3" font-size="29.5" text-anchor="end" fill="#000">AT1/AT2</text>
<line x1="162.0" y1="1986.1" x2="175.0" y2="1986.1" stroke="#000" stroke-width="3"/>
<line x1="957.5" y1="1986.1" x2="970.0" y2="1986.1" stroke="#000" stroke-width="3"/>
<text x="145.5" y="1998.4" font-size="29.5" text-anchor="end" fill="#000">AT2-pro</text>
<line x1="162.0" y1="2029.3" x2="175.0" y2="2029.3" stroke="#000" stroke-width="3"/>
<line x1="957.5" y1="2029.3" x2="970.0" y2="2029.3" stroke="#000" stroke-width="3"/>
<text x="145.5" y="2041.4" font-size="29.5" text-anchor="end" fill="#000">NK</text>
<line x1="162.0" y1="2072.4" x2="175.0" y2="2072.4" stroke="#000" stroke-width="3"/>
<line x1="957.5" y1="2072.4" x2="970.0" y2="2072.4" stroke="#000" stroke-width="3"/>
<text x="145.5" y="2084.4" font-size="29.5" text-anchor="end" fill="#000">T</text>
<line x1="162.0" y1="2115.6" x2="175.0" y2="2115.6" stroke="#000" stroke-width="3"/>
<line x1="957.5" y1="2115.6" x2="970.0" y2="2115.6" stroke="#000" stroke-width="3"/>
<text x="145.5" y="2127.5" font-size="29.5" text-anchor="end" fill="#000">Macrophage</text>
<line x1="162.0" y1="2158.7" x2="175.0" y2="2158.7" stroke="#000" stroke-width="3"/>
<line x1="957.5" y1="2158.7" x2="970.0" y2="2158.7" stroke="#000" stroke-width="3"/>
<text x="145.5" y="2170.5" font-size="29.5" text-anchor="end" fill="#000">Monocyte</text>
<line x1="162.0" y1="2201.9" x2="175.0" y2="2201.9" stroke="#000" stroke-width="3"/>
<line x1="957.5" y1="2201.9" x2="970.0" y2="2201.9" stroke="#000" stroke-width="3"/>
<text x="145.5" y="2213.6" font-size="29.5" text-anchor="end" fill="#000">B</text>
<line x1="162.0" y1="2245.1" x2="175.0" y2="2245.1" stroke="#000" stroke-width="3"/>
<line x1="957.5" y1="2245.1" x2="970.0" y2="2245.1" stroke="#000" stroke-width="3"/>
<text x="145.5" y="2256.6" font-size="29.5" text-anchor="end" fill="#000">Dendritic</text>
<line x1="162.0" y1="2288.2" x2="175.0" y2="2288.2" stroke="#000" stroke-width="3"/>
<line x1="957.5" y1="2288.2" x2="970.0" y2="2288.2" stroke="#000" stroke-width="3"/>
<text x="145.5" y="2299.6" font-size="29.5" text-anchor="end" fill="#000">NK/T</text>
<path d="M185.4,1350.4 185.4,1350.4 186.2,1350.4 187.0,1350.4 187.8,1350.3 188.6,1350.3 189.4,1350.3 190.2,1350.3 191.0,1350.2 191.8,1350.2 192.6,1350.2 193.4,1350.2 194.2,1350.1 195.0,1350.1 195.8,1350.1 196.6,1350.1 197.4,1350.1 198.2,1350.0 199.0,1350.0 199.8,1349.9 200.6,1349.9 201.4,1349.9 202.2,1349.9 203.0,1349.9 203.8,1349.9 204.7,1349.9 205.5,1349.8 206.3,1349.8 207.1,1349.8 207.9,1349.8 208.7,1349.8 209.5,1349.8 210.3,1349.7 211.1,1349.6 211.9,1349.5 212.7,1349.4 213.5,1349.4 214.3,1349.3 215.1,1349.3 215.9,1349.3 216.7,1349.3 217.5,1349.2 218.3,1349.1 219.1,1349.1 219.9,1349.0 220.7,1348.9 221.5,1348.8 222.3,1348.8 223.1,1348.8 223.9,1348.8 224.7,1348.8 225.5,1348.7 226.3,1348.7 227.1,1348.6 227.9,1348.4 228.7,1348.4 229.5,1348.3 230.3,1348.2 231.1,1348.0 231.9,1347.8 232.7,1347.6 233.5,1347.5 234.3,1347.2 235.1,1347.0 235.9,1347.1 236.7,1347.3 237.5,1347.6 238.3,1347.9 239.1,1347.9 239.9,1347.8 240.7,1348.0 241.5,1348.1 242.4,1348.3 243.2,1348.5 244.0,1348.6 244.8,1348.5 245.6,1348.7 246.4,1348.7 247.2,1348.8 248.0,1348.9 248.8,1349.1 249.6,1349.2 250.4,1349.3 251.2,1349.4 252.0,1349.4 252.8,1349.4 253.6,1349.4 254.4,1349.5 255.2,1349.5 256.0,1349.5 256.8,1349.6 257.6,1349.6 258.4,1349.6 259.2,1349.6 260.0,1349.6 260.8,1349.5 261.6,1349.5 262.4,1349.5 263.2,1349.5 264.0,1349.6 264.8,1349.6 265.6,1349.6 266.4,1349.7 267.2,1349.7 268.0,1349.6 268.8,1349.6 269.6,1349.6 270.4,1349.6 271.2,1349.6 272.0,1349.6 272.8,1349.5 273.6,1349.4 274.4,1349.3 275.2,1349.2 276.0,1349.0 276.8,1348.9 277.6,1348.8 278.4,1348.6 279.2,1348.4 280.1,1348.3 280.9,1348.1 281.7,1348.0 282.5,1347.9 283.3,1347.9 284.1,1348.0 284.9,1347.7 285.7,1347.7 286.5,1347.7 287.3,1347.7 288.1,1347.7 288.9,1347.7 289.7,1347.9 290.5,1348.0 291.3,1348.2 292.1,1348.2 292.9,1348.2 293.7,1348.3 294.5,1348.3 295.3,1348.6 296.1,1348.7 296.9,1349.0 297.7,1349.2 298.5,1349.5 299.3,1349.6 300.1,1349.9 300.9,1350.0 301.7,1350.0 302.5,1349.8 303.3,1349.7 304.1,1349.6 304.9,1349.5 305.7,1349.5 306.5,1349.4 307.3,1349.3 308.1,1349.2 308.9,1349.2 309.7,1349.1 310.5,1349.0 311.3,1349.1 312.1,1349.1 312.9,1349.1 313.7,1349.1 314.5,1349.1 315.3,1349.0 316.1,1349.0 316.9,1349.0 317.8,1348.9 318.6,1348.9 319.4,1348.9 320.2,1348.8 321.0,1348.8 321.8,1348.8 322.6,1348.8 323.4,1348.8 324.2,1348.8 325.0,1348.8 325.8,1348.7 326.6,1348.5 327.4,1348.5 328.2,1348.2 329.0,1348.0 329.8,1347.7 330.6,1347.5 331.4,1347.4 332.2,1347.1 333.0,1347.2 333.8,1347.6 334.6,1347.7 335.4,1347.8 336.2,1348.0 337.0,1348.1 337.8,1348.3 338.6,1348.5 339.4,1348.7 340.2,1348.8 341.0,1348.9 341.8,1349.0 342.6,1348.6 343.4,1348.1 344.2,1347.6 345.0,1347.1 345.8,1346.9 346.6,1346.4 347.4,1345.9 348.2,1345.2 349.0,1344.6 349.8,1344.0 350.6,1343.8 351.4,1343.3 352.2,1343.4 353.0,1343.5 353.8,1343.7 354.6,1342.9 355.5,1342.6 356.3,1341.8 357.1,1341.9 357.9,1342.4 358.7,1342.9 359.5,1343.3 360.3,1344.1 361.1,1344.6 361.9,1344.9 362.7,1345.2 363.5,1345.7 364.3,1346.0 365.1,1346.4 365.9,1346.7 366.7,1347.4 367.5,1348.1 368.3,1348.7 369.1,1349.3 369.9,1349.8 370.7,1349.9 371.5,1350.0 372.3,1350.1 373.1,1350.3 373.9,1350.4 373.9,1350.4Z" fill="#F8766D" stroke="none" stroke-width="0"/>
<line x1="185.4" y1="1350.4" x2="373.9" y2="1350.4" stroke="#1a1a1a" stroke-width="1.1"/>
<path d="M185.4,1393.7 185.4,1393.7 186.2,1393.7 187.0,1393.7 187.8,1393.7 188.6,1393.7 189.4,1393.7 190.2,1393.7 191.0,1393.6 191.8,1393.6 192.6,1393.6 193.4,1393.6 194.2,1393.6 195.0,1393.6 195.8,1393.6 196.6,1393.6 197.4,1393.6 198.2,1393.5 199.0,1393.5 199.8,1393.5 200.6,1393.5 201.4,1393.5 202.2,1393.5 203.0,1393.5 203.8,1393.5 204.7,1393.5 205.5,1393.4 206.3,1393.4 207.1,1393.4 207.9,1393.4 208.7,1393.4 209.5,1393.4 210.3,1393.4 211.1,1393.3 211.9,1393.3 212.7,1393.3 213.5,1393.3 214.3,1393.4 215.1,1393.3 215.9,1393.3 216.7,1393.3 217.5,1393.3 218.3,1393.3 219.1,1393.2 219.9,1393.1 220.7,1392.9 221.5,1392.8 222.3,1392.7 223.1,1392.6 223.9,1392.5 224.7,1392.4 225.5,1392.3 226.3,1392.2 227.1,1392.0 227.9,1391.9 228.7,1391.9 229.5,1391.7 230.3,1391.7 231.1,1391.7 231.9,1391.8 232.7,1391.8 233.5,1391.8 234.3,1391.9 235.1,1392.0 235.9,1392.0 236.7,1392.0 237.5,1392.0 238.3,1392.0 239.1,1392.0 239.9,1392.1 240.7,1392.1 241.5,1392.2 242.4,1392.3 243.2,1392.4 244.0,1392.3 244.8,1392.3 245.6,1392.3 246.4,1392.4 247.2,1392.4 248.0,1392.5 248.8,1392.6 249.6,1392.6 250.4,1392.7 251.2,1392.7 252.0,1392.8 252.8,1392.8 253.6,1392.8 254.4,1392.9 255.2,1392.9 256.0,1392.9 256.8,1392.9 257.6,1392.9 258.4,1392.9 259.2,1392.9 260.0,1392.9 260.8,1392.9 261.6,1392.9 262.4,1392.9 263.2,1392.9 264.0,1392.9 264.8,1392.8 265.6,1392.9 266.4,1392.9 267.2,1392.9 268.0,1392.9 268.8,1392.9 269.6,1392.9 270.4,1392.9 271.2,1392.8 272.0,1392.7 272.8,1392.7 273.6,1392.6 274.4,1392.5 275.2,1392.5 276.0,1392.5 276.8,1392.4 277.6,1392.2 278.4,1392.1 279.2,1392.0 280.1,1392.0 280.9,1392.0 281.7,1392.0 282.5,1391.8 283.3,1391.7 284.1,1391.7 284.9,1391.8 285.7,1391.8 286.5,1392.0 287.3,1392.1 288.1,1392.1 288.9,1392.1 289.7,1392.1 290.5,1392.1 291.3,1392.2 292.1,1392.3 292.9,1392.3 293.7,1392.5 294.5,1392.5 295.3,1392.6 296.1,1392.7 296.9,1392.7 297.7,1392.8 298.5,1392.8 299.3,1392.9 300.1,1393.0 300.9,1393.1 301.7,1393.1 302.5,1393.0 303.3,1393.0 304.1,1393.0 304.9,1392.9 305.7,1392.9 306.5,1392.8 307.3,1392.8 308.1,1392.8 308.9,1392.7 309.7,1392.7 310.5,1392.6 311.3,1392.6 312.1,1392.5 312.9,1392.5 313.7,1392.4 314.5,1392.5 315.3,1392.4 316.1,1392.3 316.9,1392.3 317.8,1392.2 318.6,1392.2 319.4,1392.1 320.2,1392.1 321.0,1392.0 321.8,1392.0 322.6,1391.9 323.4,1392.1 324.2,1392.0 325.0,1392.1 325.8,1392.0 326.6,1392.0 327.4,1391.9 328.2,1392.0 329.0,1391.9 329.8,1391.9 330.6,1391.9 331.4,1391.9 332.2,1391.9 333.0,1391.8 333.8,1391.8 334.6,1391.7 335.4,1391.8 336.2,1391.8 337.0,1391.9 337.8,1391.8 338.6,1391.8 339.4,1391.6 340.2,1391.6 341.0,1391.6 341.8,1391.7 342.6,1391.5 343.4,1391.3 344.2,1391.1 345.0,1391.0 345.8,1390.8 346.6,1390.6 347.4,1390.3 348.2,1390.2 349.0,1389.8 349.8,1389.6 350.6,1389.5 351.4,1389.1 352.2,1389.1 353.0,1389.0 353.8,1389.0 354.6,1389.2 355.5,1389.1 356.3,1389.3 357.1,1389.2 357.9,1389.0 358.7,1389.0 359.5,1389.1 360.3,1389.1 361.1,1389.4 361.9,1389.5 362.7,1389.7 363.5,1390.1 364.3,1390.5 365.1,1390.9 365.9,1391.4 366.7,1391.6 367.5,1391.8 368.3,1392.1 369.1,1392.5 369.9,1392.9 370.7,1393.2 371.5,1393.3 372.3,1393.5 373.1,1393.6 373.9,1393.7 373.9,1393.7Z" fill="#EC823C" stroke="none" stroke-width="0"/>
<line x1="185.4" y1="1393.7" x2="373.9" y2="1393.7" stroke="#1a1a1a" stroke-width="1.1"/>
<path d="M185.4,1437.1 185.4,1436.2 186.2,1436.2 187.0,1436.3 187.8,1436.4 188.6,1436.5 189.4,1436.6 190.2,1436.7 191.0,1436.7 191.8,1436.8 192.6,1436.8 193.4,1436.8 194.2,1436.8 195.0,1436.7 195.8,1436.7 196.6,1436.7 197.4,1436.7 198.2,1436.7 199.0,1436.7 199.8,1436.6 200.6,1436.6 201.4,1436.6 202.2,1436.6 203.0,1436.6 203.8,1436.5 204.7,1436.4 205.5,1436.3 206.3,1436.1 207.1,1436.0 207.9,1435.9 208.7,1435.8 209.5,1435.7 210.3,1435.6 211.1,1435.5 211.9,1435.4 212.7,1435.2 213.5,1435.1 214.3,1434.9 215.1,1434.8 215.9,1434.8 216.7,1434.7 217.5,1434.7 218.3,1434.6 219.1,1434.6 219.9,1434.5 220.7,1434.5 221.5,1434.4 222.3,1434.3 223.1,1434.2 223.9,1434.1 224.7,1433.7 225.5,1433.4 226.3,1433.0 227.1,1432.8 227.9,1432.8 228.7,1432.7 229.5,1432.4 230.3,1432.3 231.1,1432.2 231.9,1432.1 232.7,1432.0 233.5,1431.6 234.3,1431.4 235.1,1431.0 235.9,1430.6 236.7,1430.6 237.5,1430.3 238.3,1430.7 239.1,1430.5 239.9,1430.5 240.7,1430.5 241.5,1431.2 242.4,1431.4 243.2,1431.7 244.0,1431.7 244.8,1431.7 245.6,1431.8 246.4,1431.8 247.2,1432.0 248.0,1432.2 248.8,1432.3 249.6,1432.5 250.4,1432.8 251.2,1433.0 252.0,1433.4 252.8,1433.4 253.6,1433.3 254.4,1433.2 255.2,1433.1 256.0,1432.8 256.8,1432.5 257.6,1432.2 258.4,1432.3 259.2,1432.0 260.0,1432.2 260.8,1432.2 261.6,1432.3 262.4,1432.4 263.2,1432.2 264.0,1432.3 264.8,1432.4 265.6,1432.9 266.4,1433.4 267.2,1433.7 268.0,1434.1 268.8,1434.5 269.6,1434.8 270.4,1435.2 271.2,1435.5 272.0,1435.8 272.8,1436.2 273.6,1436.1 274.4,1435.8 275.2,1435.4 276.0,1435.0 276.8,1434.6 277.6,1434.3 278.4,1433.7 279.2,1433.4 280.1,1433.0 280.9,1432.5 281.7,1432.2 282.5,1431.9 283.3,1431.6 284.1,1431.4 284.9,1431.3 285.7,1431.3 286.5,1431.5 287.3,1431.6 288.1,1431.6 288.9,1431.7 289.7,1431.7 290.5,1431.7 291.3,1431.6 292.1,1431.6 292.9,1431.7 293.7,1431.9 294.5,1432.4 295.3,1432.6 296.1,1433.1 296.9,1433.5 297.7,1434.1 298.5,1434.5 299.3,1434.9 300.1,1435.4 300.9,1435.8 301.7,1436.2 302.5,1436.1 303.3,1435.8 304.1,1435.5 304.9,1435.2 305.7,1435.0 306.5,1434.7 307.3,1434.3 308.1,1434.1 308.9,1433.7 309.7,1433.3 310.5,1433.1 311.3,1433.2 312.1,1433.4 312.9,1433.5 313.7,1433.6 314.5,1433.9 315.3,1434.0 316.1,1434.0 316.9,1434.1 317.8,1434.2 318.6,1434.2 319.4,1434.4 320.2,1434.5 321.0,1434.3 321.8,1434.1 322.6,1434.0 323.4,1433.8 324.2,1433.8 325.0,1433.7 325.8,1433.6 326.6,1433.4 327.4,1433.3 328.2,1433.1 329.0,1433.0 329.8,1432.7 330.6,1432.6 331.4,1432.7 332.2,1432.7 333.0,1432.9 333.8,1433.2 334.6,1433.3 335.4,1433.3 336.2,1433.5 337.0,1433.4 337.8,1433.8 338.6,1434.0 339.4,1434.1 340.2,1434.4 341.0,1434.7 341.8,1435.0 342.6,1434.5 343.4,1433.8 344.2,1433.2 345.0,1432.2 345.8,1431.2 346.6,1430.1 347.4,1429.4 348.2,1428.8 349.0,1427.9 349.8,1427.9 350.6,1428.0 351.4,1428.1 352.2,1427.8 353.0,1427.6 353.8,1427.8 354.6,1427.2 355.5,1426.8 356.3,1426.2 357.1,1426.3 357.9,1426.8 358.7,1426.9 359.5,1428.0 360.3,1428.7 361.1,1429.8 361.9,1429.9 362.7,1430.2 363.5,1430.9 364.3,1431.2 365.1,1431.4 365.9,1431.9 366.7,1432.5 367.5,1433.1 368.3,1433.5 369.1,1433.9 369.9,1434.2 370.7,1434.7 371.5,1435.2 372.3,1435.5 373.1,1436.0 373.9,1436.4 373.9,1437.1Z" fill="#DD8D00" stroke="none" stroke-width="0"/>
<line x1="185.4" y1="1437.1" x2="373.9" y2="1437.1" stroke="#1a1a1a" stroke-width="1.1"/>
<path d="M185.4,1480.4 185.4,1480.3 186.2,1480.3 187.0,1480.3 187.8,1480.3 188.6,1480.3 189.4,1480.3 190.2,1480.3 191.0,1480.3 191.8,1480.3 192.6,1480.3 193.4,1480.3 194.2,1480.3 195.0,1480.3 195.8,1480.3 196.6,1480.3 197.4,1480.3 198.2,1480.3 199.0,1480.3 199.8,1480.3 200.6,1480.3 201.4,1480.3 202.2,1480.3 203.0,1480.3 203.8,1480.3 204.7,1480.3 205.5,1480.3 206.3,1480.3 207.1,1480.2 207.9,1480.2 208.7,1480.2 209.5,1480.2 210.3,1480.2 211.1,1480.2 211.9,1480.2 212.7,1480.2 213.5,1480.2 214.3,1480.2 215.1,1480.1 215.9,1480.1 216.7,1480.1 217.5,1480.0 218.3,1480.0 219.1,1480.0 219.9,1479.9 220.7,1479.9 221.5,1479.9 222.3,1479.9 223.1,1479.8 223.9,1479.8 224.7,1479.8 225.5,1479.7 226.3,1479.7 227.1,1479.6 227.9,1479.6 228.7,1479.6 229.5,1479.5 230.3,1479.4 231.1,1479.4 231.9,1479.4 232.7,1479.4 233.5,1479.4 234.3,1479.3 235.1,1479.3 235.9,1479.2 236.7,1479.2 237.5,1479.2 238.3,1479.1 239.1,1479.2 239.9,1479.2 240.7,1479.2 241.5,1479.2 242.4,1479.2 243.2,1479.3 244.0,1479.3 244.8,1479.3 245.6,1479.3 246.4,1479.3 247.2,1479.4 248.0,1479.4 248.8,1479.4 249.6,1479.4 250.4,1479.4 251.2,1479.5 252.0,1479.6 252.8,1479.6 253.6,1479.6 254.4,1479.6 255.2,1479.6 256.0,1479.6 256.8,1479.6 257.6,1479.6 258.4,1479.6 259.2,1479.6 260.0,1479.6 260.8,1479.6 261.6,1479.6 262.4,1479.7 263.2,1479.8 264.0,1479.8 264.8,1479.9 265.6,1479.9 266.4,1480.0 267.2,1480.0 268.0,1480.1 268.8,1480.1 269.6,1480.1 270.4,1480.1 271.2,1480.2 272.0,1480.2 272.8,1480.2 273.6,1480.1 274.4,1480.1 275.2,1480.1 276.0,1480.1 276.8,1480.0 277.6,1479.9 278.4,1479.9 279.2,1479.8 280.1,1479.7 280.9,1479.7 281.7,1479.6 282.5,1479.6 283.3,1479.5 284.1,1479.4 284.9,1479.4 285.7,1479.4 286.5,1479.4 287.3,1479.4 288.1,1479.4 288.9,1479.4 289.7,1479.5 290.5,1479.6 291.3,1479.7 292.1,1479.7 292.9,1479.8 293.7,1479.8 294.5,1479.9 295.3,1480.0 296.1,1480.0 296.9,1480.1 297.7,1480.1 298.5,1480.2 299.3,1480.2 300.1,1480.2 300.9,1480.2 301.7,1480.2 302.5,1480.2 303.3,1480.2 304.1,1480.2 304.9,1480.2 305.7,1480.1 306.5,1480.1 307.3,1480.1 308.1,1480.0 308.9,1480.0 309.7,1480.0 310.5,1479.9 311.3,1479.9 312.1,1479.8 312.9,1479.7 313.7,1479.6 314.5,1479.5 315.3,1479.4 316.1,1479.3 316.9,1479.3 317.8,1479.2 318.6,1479.2 319.4,1479.1 320.2,1479.1 321.0,1479.0 321.8,1478.9 322.6,1478.8 323.4,1478.8 324.2,1478.8 325.0,1478.7 325.8,1478.7 326.6,1478.8 327.4,1478.8 328.2,1478.9 329.0,1478.9 329.8,1478.9 330.6,1478.9 331.4,1479.0 332.2,1479.1 333.0,1479.2 333.8,1479.3 334.6,1479.4 335.4,1479.5 336.2,1479.6 337.0,1479.6 337.8,1479.7 338.6,1479.8 339.4,1479.8 340.2,1479.8 341.0,1479.8 341.8,1479.8 342.6,1479.8 343.4,1479.8 344.2,1479.7 345.0,1479.6 345.8,1479.5 346.6,1479.4 347.4,1479.4 348.2,1479.3 349.0,1479.2 349.8,1479.1 350.6,1479.0 351.4,1478.9 352.2,1478.9 353.0,1478.9 353.8,1478.8 354.6,1478.9 355.5,1479.0 356.3,1479.1 357.1,1479.2 357.9,1479.3 358.7,1479.4 359.5,1479.5 360.3,1479.6 361.1,1479.7 361.9,1479.9 362.7,1479.9 363.5,1480.0 364.3,1480.1 365.1,1480.1 365.9,1480.2 366.7,1480.2 367.5,1480.2 368.3,1480.2 369.1,1480.3 369.9,1480.3 370.7,1480.3 371.5,1480.3 372.3,1480.3 373.1,1480.3 373.9,1480.3 373.9,1480.4Z" fill="#CA9700" stroke="none" stroke-width="0"/>
<line x1="185.4" y1="1480.4" x2="373.9" y2="1480.4" stroke="#777" stroke-width="1.1"/>
<path d="M185.4,1523.7 185.4,1523.1 186.2,1523.0 187.0,1523.0 187.8,1523.0 188.6,1523.0 189.4,1523.0 190.2,1523.0 191.0,1523.0 191.8,1523.0 192.6,1523.0 193.4,1523.0 194.2,1523.0 195.0,1523.0 195.8,1522.9 196.6,1522.9 197.4,1522.9 198.2,1522.8 199.0,1522.8 199.8,1522.8 200.6,1522.8 201.4,1522.9 202.2,1522.9 203.0,1522.9 203.8,1522.8 204.7,1522.7 205.5,1522.5 206.3,1522.3 207.1,1522.0 207.9,1521.9 208.7,1521.8 209.5,1521.8 210.3,1521.5 211.1,1521.2 211.9,1521.0 212.7,1520.9 213.5,1520.8 214.3,1520.7 215.1,1520.4 215.9,1520.2 216.7,1520.0 217.5,1519.7 218.3,1519.6 219.1,1519.3 219.9,1519.1 220.7,1519.0 221.5,1519.0 222.3,1519.0 223.1,1518.6 223.9,1518.4 224.7,1518.3 225.5,1518.0 226.3,1517.5 227.1,1517.4 227.9,1517.0 228.7,1516.5 229.5,1516.0 230.3,1515.9 231.1,1515.4 231.9,1515.2 232.7,1515.3 233.5,1514.9 234.3,1514.6 235.1,1513.9 235.9,1513.7 236.7,1513.4 237.5,1512.8 238.3,1512.3 239.1,1512.6 239.9,1513.2 240.7,1513.7 241.5,1514.2 242.4,1514.7 243.2,1515.1 244.0,1515.1 244.8,1515.5 245.6,1515.6 246.4,1516.4 247.2,1517.2 248.0,1517.7 248.8,1517.9 249.6,1517.9 250.4,1518.2 251.2,1518.2 252.0,1518.6 252.8,1518.8 253.6,1519.3 254.4,1518.9 255.2,1518.5 256.0,1518.1 256.8,1517.9 257.6,1517.8 258.4,1517.4 259.2,1517.4 260.0,1517.3 260.8,1517.1 261.6,1516.6 262.4,1516.7 263.2,1516.7 264.0,1517.2 264.8,1517.3 265.6,1517.0 266.4,1517.4 267.2,1517.9 268.0,1518.7 268.8,1519.7 269.6,1520.4 270.4,1520.3 271.2,1520.3 272.0,1520.4 272.8,1520.8 273.6,1521.1 274.4,1521.2 275.2,1520.8 276.0,1520.3 276.8,1519.7 277.6,1519.3 278.4,1518.8 279.2,1518.3 280.1,1518.1 280.9,1517.7 281.7,1517.7 282.5,1517.1 283.3,1516.6 284.1,1516.0 284.9,1515.7 285.7,1515.1 286.5,1514.4 287.3,1514.9 288.1,1515.3 288.9,1515.3 289.7,1516.1 290.5,1516.6 291.3,1517.2 292.1,1517.5 292.9,1517.5 293.7,1517.4 294.5,1517.9 295.3,1518.3 296.1,1518.9 296.9,1518.9 297.7,1519.2 298.5,1519.4 299.3,1519.9 300.1,1520.3 300.9,1520.7 301.7,1521.1 302.5,1521.4 303.3,1521.7 304.1,1521.9 304.9,1522.2 305.7,1522.5 306.5,1522.3 307.3,1522.1 308.1,1522.0 308.9,1521.9 309.7,1521.7 310.5,1521.4 311.3,1521.3 312.1,1521.1 312.9,1521.0 313.7,1520.7 314.5,1520.3 315.3,1519.9 316.1,1520.2 316.9,1520.2 317.8,1520.5 318.6,1520.7 319.4,1520.7 320.2,1520.9 321.0,1520.8 321.8,1520.8 322.6,1520.8 323.4,1520.8 324.2,1520.8 325.0,1521.0 325.8,1520.9 326.6,1520.8 327.4,1520.6 328.2,1520.6 329.0,1520.4 329.8,1520.4 330.6,1520.2 331.4,1520.2 332.2,1520.1 333.0,1520.2 333.8,1520.2 334.6,1520.2 335.4,1520.3 336.2,1520.4 337.0,1520.5 337.8,1520.5 338.6,1520.4 339.4,1520.3 340.2,1520.5 341.0,1520.4 341.8,1520.0 342.6,1519.4 343.4,1519.0 344.2,1518.6 345.0,1517.3 345.8,1516.0 346.6,1514.6 347.4,1513.0 348.2,1511.9 349.0,1510.5 349.8,1509.1 350.6,1509.1 351.4,1509.2 352.2,1509.0 353.0,1509.0 353.8,1508.9 354.6,1508.7 355.5,1508.7 356.3,1508.8 357.1,1508.7 357.9,1508.8 358.7,1510.4 359.5,1511.7 360.3,1513.1 361.1,1514.0 361.9,1514.6 362.7,1515.0 363.5,1515.3 364.3,1516.5 365.1,1517.9 365.9,1518.9 366.7,1519.4 367.5,1519.8 368.3,1520.2 369.1,1520.5 369.9,1521.0 370.7,1521.4 371.5,1521.9 372.3,1522.4 373.1,1522.8 373.9,1523.2 373.9,1523.7Z" fill="#B3A000" stroke="none" stroke-width="0"/>
<line x1="185.4" y1="1523.7" x2="373.9" y2="1523.7" stroke="#1a1a1a" stroke-width="1.1"/>
<path d="M185.4,1567.1 185.4,1565.0 186.2,1565.0 187.0,1565.2 187.8,1565.3 188.6,1565.3 189.4,1565.2 190.2,1565.3 191.0,1565.3 191.8,1565.3 192.6,1565.3 193.4,1565.5 194.2,1566.1 195.0,1566.6 195.8,1567.0 196.6,1566.9 197.4,1566.8 198.2,1566.7 199.0,1566.6 199.8,1566.5 200.6,1566.4 201.4,1566.3 202.2,1566.2 203.0,1566.1 203.8,1566.1 204.7,1566.0 205.5,1566.0 206.3,1565.8 207.1,1565.7 207.9,1565.7 208.7,1565.7 209.5,1565.8 210.3,1565.7 211.1,1565.6 211.9,1565.5 212.7,1565.4 213.5,1565.5 214.3,1565.4 215.1,1565.4 215.9,1565.4 216.7,1565.4 217.5,1565.3 218.3,1565.2 219.1,1565.1 219.9,1565.0 220.7,1565.1 221.5,1565.0 222.3,1564.9 223.1,1564.6 223.9,1564.1 224.7,1563.7 225.5,1563.3 226.3,1562.8 227.1,1562.5 227.9,1562.1 228.7,1561.7 229.5,1561.6 230.3,1561.6 231.1,1561.4 231.9,1561.2 232.7,1560.7 233.5,1560.4 234.3,1560.3 235.1,1560.5 235.9,1560.6 236.7,1560.3 237.5,1559.7 238.3,1559.6 239.1,1559.8 239.9,1560.2 240.7,1560.2 241.5,1560.3 242.4,1560.6 243.2,1560.9 244.0,1561.2 244.8,1561.3 245.6,1561.3 246.4,1561.2 247.2,1561.6 248.0,1562.1 248.8,1562.7 249.6,1563.4 250.4,1564.1 251.2,1564.9 252.0,1565.6 252.8,1566.1 253.6,1566.1 254.4,1566.1 255.2,1566.2 256.0,1566.1 256.8,1566.0 257.6,1566.0 258.4,1566.0 259.2,1566.0 260.0,1566.0 260.8,1566.0 261.6,1566.0 262.4,1566.0 263.2,1566.0 264.0,1566.0 264.8,1566.0 265.6,1566.0 266.4,1566.0 267.2,1566.0 268.0,1566.0 268.8,1566.0 269.6,1566.0 270.4,1566.0 271.2,1566.1 272.0,1566.0 272.8,1565.5 273.6,1565.2 274.4,1564.8 275.2,1564.4 276.0,1564.0 276.8,1563.6 277.6,1563.0 278.4,1562.7 279.2,1562.2 280.1,1561.7 280.9,1561.6 281.7,1561.6 282.5,1561.5 283.3,1561.4 284.1,1561.3 284.9,1561.3 285.7,1561.4 286.5,1561.4 287.3,1561.4 288.1,1561.2 288.9,1561.3 289.7,1561.1 290.5,1561.5 291.3,1561.4 292.1,1561.7 292.9,1562.1 293.7,1562.1 294.5,1562.4 295.3,1562.6 296.1,1562.8 296.9,1563.2 297.7,1563.5 298.5,1563.8 299.3,1564.2 300.1,1564.7 300.9,1565.1 301.7,1565.3 302.5,1565.6 303.3,1565.9 304.1,1566.2 304.9,1566.5 305.7,1566.7 306.5,1566.4 307.3,1566.2 308.1,1565.9 308.9,1565.7 309.7,1565.5 310.5,1565.2 311.3,1565.0 312.1,1564.7 312.9,1564.4 313.7,1564.2 314.5,1563.8 315.3,1563.5 316.1,1563.1 316.9,1563.0 317.8,1563.0 318.6,1563.1 319.4,1563.3 320.2,1563.3 321.0,1563.4 321.8,1563.6 322.6,1563.6 323.4,1563.8 324.2,1564.0 325.0,1564.2 325.8,1564.1 326.6,1564.1 327.4,1564.0 328.2,1563.9 329.0,1563.7 329.8,1563.5 330.6,1563.4 331.4,1563.3 332.2,1563.1 333.0,1562.8 333.8,1562.3 334.6,1562.0 335.4,1562.0 336.2,1562.3 337.0,1562.7 337.8,1562.6 338.6,1562.5 339.4,1562.5 340.2,1562.5 341.0,1562.7 341.8,1562.8 342.6,1562.9 343.4,1563.0 344.2,1562.9 345.0,1562.6 345.8,1562.0 346.6,1561.5 347.4,1561.3 348.2,1560.9 349.0,1560.5 349.8,1560.7 350.6,1560.9 351.4,1560.9 352.2,1560.4 353.0,1560.1 353.8,1559.6 354.6,1559.8 355.5,1560.0 356.3,1560.0 357.1,1559.4 357.9,1559.1 358.7,1559.5 359.5,1560.4 360.3,1561.4 361.1,1562.2 361.9,1562.9 362.7,1563.5 363.5,1564.0 364.3,1564.5 365.1,1565.0 365.9,1565.5 366.7,1566.2 367.5,1566.7 368.3,1566.6 369.1,1566.6 369.9,1566.5 370.7,1566.4 371.5,1566.3 372.3,1566.2 373.1,1566.1 373.9,1566.0 373.9,1567.1Z" fill="#97A900" stroke="none" stroke-width="0"/>
<line x1="185.4" y1="1567.1" x2="373.9" y2="1567.1" stroke="#1a1a1a" stroke-width="1.1"/>
<path d="M185.4,1610.4 185.4,1607.3 186.2,1607.2 187.0,1607.4 187.8,1607.5 188.6,1607.7 189.4,1607.9 190.2,1608.2 191.0,1608.1 191.8,1608.1 192.6,1608.0 193.4,1608.2 194.2,1608.2 195.0,1608.4 195.8,1608.5 196.6,1608.5 197.4,1608.5 198.2,1608.3 199.0,1608.1 199.8,1607.8 200.6,1607.7 201.4,1607.5 202.2,1607.4 203.0,1607.4 203.8,1607.4 204.7,1607.4 205.5,1607.1 206.3,1606.9 207.1,1606.5 207.9,1606.7 208.7,1606.7 209.5,1606.7 210.3,1606.6 211.1,1606.5 211.9,1606.4 212.7,1606.4 213.5,1606.2 214.3,1605.9 215.1,1605.6 215.9,1605.4 216.7,1605.1 217.5,1604.9 218.3,1604.6 219.1,1604.3 219.9,1604.2 220.7,1604.3 221.5,1604.4 222.3,1603.8 223.1,1603.7 223.9,1603.3 224.7,1603.4 225.5,1603.4 226.3,1603.3 227.1,1603.3 227.9,1602.8 228.7,1602.8 229.5,1602.3 230.3,1602.0 231.1,1601.4 231.9,1601.2 232.7,1600.5 233.5,1600.3 234.3,1599.6 235.1,1598.6 235.9,1597.9 236.7,1596.4 237.5,1596.6 238.3,1596.6 239.1,1597.5 239.9,1598.7 240.7,1599.9 241.5,1599.9 242.4,1600.4 243.2,1600.5 244.0,1601.2 244.8,1602.0 245.6,1602.6 246.4,1602.9 247.2,1602.9 248.0,1603.0 248.8,1603.6 249.6,1604.1 250.4,1604.6 251.2,1604.7 252.0,1604.9 252.8,1605.2 253.6,1605.2 254.4,1605.4 255.2,1605.4 256.0,1605.4 256.8,1605.5 257.6,1605.9 258.4,1605.7 259.2,1605.7 260.0,1605.9 260.8,1605.9 261.6,1605.8 262.4,1606.0 263.2,1606.1 264.0,1606.1 264.8,1606.2 265.6,1606.3 266.4,1606.6 267.2,1606.7 268.0,1606.9 268.8,1607.0 269.6,1607.2 270.4,1607.3 271.2,1607.5 272.0,1607.7 272.8,1608.0 273.6,1608.4 274.4,1608.8 275.2,1609.1 276.0,1609.6 276.8,1609.7 277.6,1609.2 278.4,1608.8 279.2,1608.3 280.1,1607.7 280.9,1607.2 281.7,1606.6 282.5,1606.1 283.3,1606.3 284.1,1606.4 284.9,1606.4 285.7,1606.5 286.5,1606.5 287.3,1606.4 288.1,1606.3 288.9,1606.4 289.7,1606.6 290.5,1606.8 291.3,1607.1 292.1,1607.1 292.9,1607.1 293.7,1607.2 294.5,1607.4 295.3,1607.6 296.1,1607.8 296.9,1607.9 297.7,1607.9 298.5,1608.0 299.3,1608.1 300.1,1608.1 300.9,1608.2 301.7,1608.3 302.5,1608.5 303.3,1608.6 304.1,1608.7 304.9,1608.8 305.7,1608.8 306.5,1608.8 307.3,1608.6 308.1,1608.5 308.9,1608.4 309.7,1608.3 310.5,1608.2 311.3,1608.1 312.1,1608.2 312.9,1608.1 313.7,1608.0 314.5,1607.9 315.3,1607.7 316.1,1607.7 316.9,1607.7 317.8,1607.7 318.6,1607.5 319.4,1607.3 320.2,1607.2 321.0,1607.1 321.8,1606.8 322.6,1606.8 323.4,1606.7 324.2,1606.5 325.0,1606.4 325.8,1606.5 326.6,1606.4 327.4,1606.4 328.2,1606.1 329.0,1606.0 329.8,1605.8 330.6,1605.6 331.4,1605.4 332.2,1605.3 333.0,1605.2 333.8,1605.3 334.6,1605.2 335.4,1605.5 336.2,1605.4 337.0,1605.7 337.8,1605.5 338.6,1605.6 339.4,1605.4 340.2,1605.3 341.0,1604.7 341.8,1603.8 342.6,1602.9 343.4,1602.2 344.2,1601.4 345.0,1600.7 345.8,1599.8 346.6,1599.4 347.4,1598.7 348.2,1597.8 349.0,1596.6 349.8,1596.4 350.6,1596.6 351.4,1596.6 352.2,1596.8 353.0,1596.2 353.8,1596.0 354.6,1596.6 355.5,1596.6 356.3,1597.1 357.1,1596.8 357.9,1596.0 358.7,1596.7 359.5,1597.1 360.3,1598.1 361.1,1598.9 361.9,1599.7 362.7,1600.9 363.5,1602.0 364.3,1602.6 365.1,1603.3 365.9,1604.2 366.7,1605.2 367.5,1606.3 368.3,1607.2 369.1,1607.5 369.9,1607.5 370.7,1607.5 371.5,1607.5 372.3,1607.7 373.1,1607.8 373.9,1608.0 373.9,1610.4Z" fill="#71B000" stroke="none" stroke-width="0"/>
<line x1="185.4" y1="1610.4" x2="373.9" y2="1610.4" stroke="#1a1a1a" stroke-width="1.1"/>
<path d="M185.4,1653.7 185.4,1646.3 186.2,1646.4 187.0,1646.3 187.8,1646.6 188.6,1647.1 189.4,1647.6 190.2,1648.1 191.0,1648.8 191.8,1649.9 192.6,1650.9 193.4,1651.7 194.2,1652.0 195.0,1652.3 195.8,1652.5 196.6,1652.8 197.4,1652.3 198.2,1651.4 199.0,1650.5 199.8,1649.7 200.6,1648.4 201.4,1647.0 202.2,1645.5 203.0,1644.5 203.8,1643.6 204.7,1643.0 205.5,1643.6 206.3,1644.1 207.1,1644.9 207.9,1644.6 208.7,1644.8 209.5,1644.9 210.3,1646.0 211.1,1646.5 211.9,1647.5 212.7,1648.1 213.5,1648.9 214.3,1649.9 215.1,1650.8 215.9,1651.8 216.7,1651.3 217.5,1649.6 218.3,1647.9 219.1,1646.5 219.9,1644.9 220.7,1643.6 221.5,1642.4 222.3,1640.3 223.1,1639.1 223.9,1637.1 224.7,1635.7 225.5,1634.6 226.3,1632.3 227.1,1630.8 227.9,1628.7 228.7,1626.6 229.5,1625.3 230.3,1628.2 231.1,1631.5 231.9,1633.3 232.7,1631.2 233.5,1629.8 234.3,1629.3 235.1,1629.9 235.9,1630.6 236.7,1633.4 237.5,1635.3 238.3,1637.5 239.1,1639.3 239.9,1639.8 240.7,1640.2 241.5,1642.0 242.4,1642.9 243.2,1644.2 244.0,1644.8 244.8,1645.7 245.6,1646.3 246.4,1647.0 247.2,1647.8 248.0,1648.6 248.8,1649.1 249.6,1649.8 250.4,1651.2 251.2,1653.5 252.0,1653.6 252.8,1653.4 253.6,1653.2 254.4,1653.1 255.2,1653.0 256.0,1652.8 256.8,1652.6 257.6,1652.5 258.4,1652.5 259.2,1652.5 260.0,1652.5 260.8,1652.5 261.6,1652.5 262.4,1652.6 263.2,1652.6 264.0,1652.5 264.8,1652.5 265.6,1652.5 266.4,1652.5 267.2,1652.6 268.0,1653.0 268.8,1653.4 269.6,1653.7 270.4,1653.6 271.2,1653.5 272.0,1653.4 272.8,1653.3 273.6,1653.3 274.4,1653.2 275.2,1653.1 276.0,1652.5 276.8,1651.8 277.6,1651.3 278.4,1650.6 279.2,1650.1 280.1,1649.1 280.9,1648.4 281.7,1647.5 282.5,1646.4 283.3,1645.7 284.1,1645.1 284.9,1644.5 285.7,1644.2 286.5,1643.6 287.3,1643.4 288.1,1643.9 288.9,1645.1 289.7,1646.5 290.5,1648.0 291.3,1649.2 292.1,1649.1 292.9,1649.2 293.7,1649.3 294.5,1649.2 295.3,1649.2 296.1,1649.2 296.9,1649.2 297.7,1649.2 298.5,1649.4 299.3,1649.4 300.1,1649.3 300.9,1649.2 301.7,1649.3 302.5,1649.9 303.3,1650.8 304.1,1651.9 304.9,1652.9 305.7,1653.6 306.5,1652.6 307.3,1651.5 308.1,1650.4 308.9,1649.4 309.7,1648.1 310.5,1647.0 311.3,1646.3 312.1,1645.9 312.9,1645.0 313.7,1644.3 314.5,1643.9 315.3,1643.2 316.1,1642.5 316.9,1642.2 317.8,1642.4 318.6,1643.0 319.4,1642.9 320.2,1643.1 321.0,1643.9 321.8,1644.3 322.6,1644.4 323.4,1645.1 324.2,1646.1 325.0,1646.5 325.8,1647.3 326.6,1648.0 327.4,1647.9 328.2,1648.0 329.0,1647.9 329.8,1647.8 330.6,1648.1 331.4,1648.3 332.2,1649.0 333.0,1649.5 333.8,1650.2 334.6,1650.7 335.4,1651.4 336.2,1652.0 337.0,1652.7 337.8,1653.4 338.6,1653.6 339.4,1653.3 340.2,1653.0 341.0,1652.6 341.8,1652.3 342.6,1651.9 343.4,1651.6 344.2,1651.2 345.0,1649.4 345.8,1647.7 346.6,1645.8 347.4,1645.5 348.2,1645.4 349.0,1645.1 349.8,1645.0 350.6,1645.0 351.4,1645.0 352.2,1645.0 353.0,1644.7 353.8,1644.4 354.6,1645.7 355.5,1647.2 356.3,1648.9 357.1,1649.4 357.9,1649.6 358.7,1649.7 359.5,1649.8 360.3,1649.9 361.1,1649.9 361.9,1650.2 362.7,1650.3 363.5,1650.5 364.3,1650.3 365.1,1650.3 365.9,1650.1 366.7,1650.1 367.5,1649.9 368.3,1649.9 369.1,1649.9 369.9,1649.7 370.7,1649.7 371.5,1649.7 372.3,1649.8 373.1,1649.8 373.9,1649.8 373.9,1653.7Z" fill="#2FB600" stroke="none" stroke-width="0"/>
<line x1="185.4" y1="1653.7" x2="373.9" y2="1653.7" stroke="#1a1a1a" stroke-width="1.1"/>
<path d="M185.4,1697.0 185.4,1694.8 186.2,1694.8 187.0,1694.7 187.8,1694.7 188.6,1694.8 189.4,1694.9 190.2,1695.0 191.0,1695.0 191.8,1695.2 192.6,1695.4 193.4,1695.4 194.2,1695.5 195.0,1695.6 195.8,1695.7 196.6,1695.8 197.4,1695.8 198.2,1695.9 199.0,1695.8 199.8,1695.8 200.6,1695.7 201.4,1695.6 202.2,1695.5 203.0,1695.5 203.8,1695.3 204.7,1695.3 205.5,1695.2 206.3,1694.9 207.1,1694.8 207.9,1694.8 208.7,1694.8 209.5,1694.9 210.3,1694.8 211.1,1694.7 211.9,1694.7 212.7,1694.4 213.5,1694.2 214.3,1694.0 215.1,1694.0 215.9,1693.8 216.7,1693.5 217.5,1693.3 218.3,1693.2 219.1,1692.9 219.9,1692.5 220.7,1692.1 221.5,1691.6 222.3,1690.9 223.1,1690.2 223.9,1689.7 224.7,1689.5 225.5,1689.2 226.3,1689.0 227.1,1688.6 227.9,1687.9 228.7,1687.7 229.5,1687.5 230.3,1686.9 231.1,1686.8 231.9,1686.2 232.7,1686.0 233.5,1686.2 234.3,1686.2 235.1,1686.1 235.9,1686.7 236.7,1685.9 237.5,1685.2 238.3,1684.0 239.1,1683.4 239.9,1684.0 240.7,1684.4 241.5,1685.7 242.4,1686.2 243.2,1686.9 244.0,1687.6 244.8,1688.4 245.6,1689.0 246.4,1689.0 247.2,1689.5 248.0,1690.0 248.8,1690.5 249.6,1691.0 250.4,1691.1 251.2,1691.3 252.0,1691.6 252.8,1691.8 253.6,1692.0 254.4,1692.4 255.2,1692.9 256.0,1692.6 256.8,1692.1 257.6,1691.9 258.4,1691.7 259.2,1691.8 260.0,1691.8 260.8,1691.3 261.6,1691.2 262.4,1690.7 263.2,1690.6 264.0,1690.6 264.8,1690.4 265.6,1690.9 266.4,1691.6 267.2,1691.9 268.0,1692.1 268.8,1692.3 269.6,1692.3 270.4,1692.6 271.2,1692.9 272.0,1693.2 272.8,1693.7 273.6,1694.1 274.4,1694.3 275.2,1693.9 276.0,1693.4 276.8,1693.0 277.6,1692.3 278.4,1691.8 279.2,1691.1 280.1,1691.0 280.9,1690.9 281.7,1690.7 282.5,1690.2 283.3,1689.7 284.1,1689.0 284.9,1688.6 285.7,1688.9 286.5,1689.0 287.3,1689.5 288.1,1690.2 288.9,1690.3 289.7,1690.6 290.5,1690.9 291.3,1691.0 292.1,1691.6 292.9,1692.1 293.7,1692.6 294.5,1692.9 295.3,1693.2 296.1,1693.4 296.9,1693.6 297.7,1693.8 298.5,1693.9 299.3,1694.2 300.1,1694.5 300.9,1694.7 301.7,1694.8 302.5,1694.8 303.3,1694.8 304.1,1695.0 304.9,1695.2 305.7,1695.3 306.5,1695.1 307.3,1694.9 308.1,1694.6 308.9,1694.5 309.7,1694.4 310.5,1694.3 311.3,1694.0 312.1,1693.7 312.9,1693.4 313.7,1693.1 314.5,1693.1 315.3,1693.0 316.1,1692.6 316.9,1692.0 317.8,1691.8 318.6,1691.4 319.4,1691.2 320.2,1690.9 321.0,1689.9 321.8,1689.6 322.6,1688.6 323.4,1688.9 324.2,1688.8 325.0,1688.6 325.8,1688.3 326.6,1687.5 327.4,1687.1 328.2,1687.2 329.0,1687.8 329.8,1688.0 330.6,1687.8 331.4,1687.5 332.2,1687.1 333.0,1687.6 333.8,1687.9 334.6,1688.4 335.4,1689.1 336.2,1690.0 337.0,1690.6 337.8,1690.8 338.6,1691.0 339.4,1691.2 340.2,1690.7 341.0,1690.4 341.8,1689.8 342.6,1689.2 343.4,1688.5 344.2,1688.1 345.0,1687.4 345.8,1686.3 346.6,1685.5 347.4,1685.1 348.2,1684.4 349.0,1683.5 349.8,1683.4 350.6,1682.9 351.4,1682.5 352.2,1682.1 353.0,1681.9 353.8,1682.6 354.6,1682.9 355.5,1682.8 356.3,1683.4 357.1,1683.2 357.9,1683.5 358.7,1684.3 359.5,1684.5 360.3,1685.1 361.1,1686.6 361.9,1687.1 362.7,1688.4 363.5,1689.4 364.3,1690.2 365.1,1690.9 365.9,1691.7 366.7,1692.5 367.5,1693.3 368.3,1693.5 369.1,1694.0 369.9,1694.4 370.7,1694.9 371.5,1695.1 372.3,1695.5 373.1,1695.9 373.9,1696.2 373.9,1697.0Z" fill="#00BB4B" stroke="none" stroke-width="0"/>
<line x1="185.4" y1="1697.0" x2="373.9" y2="1697.0" stroke="#1a1a1a" stroke-width="1.1"/>
<path d="M185.4,1740.4 185.4,1736.9 186.2,1736.9 187.0,1736.9 187.8,1736.9 188.6,1736.9 189.4,1737.1 190.2,1737.2 191.0,1737.3 191.8,1737.4 192.6,1737.6 193.4,1737.5 194.2,1737.6 195.0,1737.6 195.8,1737.4 196.6,1737.5 197.4,1737.5 198.2,1737.7 199.0,1737.7 199.8,1737.8 200.6,1738.0 201.4,1737.7 202.2,1737.7 203.0,1737.5 203.8,1737.3 204.7,1737.1 205.5,1737.0 206.3,1737.1 207.1,1737.0 207.9,1737.0 208.7,1736.9 209.5,1736.7 210.3,1736.6 211.1,1736.3 211.9,1735.9 212.7,1735.9 213.5,1735.4 214.3,1734.8 215.1,1733.7 215.9,1732.7 216.7,1731.5 217.5,1730.3 218.3,1729.8 219.1,1728.6 219.9,1728.5 220.7,1727.3 221.5,1726.2 222.3,1725.3 223.1,1723.5 223.9,1722.6 224.7,1721.8 225.5,1721.4 226.3,1720.7 227.1,1720.2 227.9,1718.8 228.7,1717.8 229.5,1715.7 230.3,1714.0 231.1,1711.8 231.9,1710.3 232.7,1708.6 233.5,1708.0 234.3,1707.2 235.1,1705.9 235.9,1705.6 236.7,1705.7 237.5,1705.7 238.3,1706.1 239.1,1704.3 239.9,1703.9 240.7,1702.3 241.5,1703.5 242.4,1703.5 243.2,1705.5 244.0,1706.2 244.8,1707.0 245.6,1709.7 246.4,1709.5 247.2,1711.7 248.0,1712.8 248.8,1714.3 249.6,1715.9 250.4,1717.8 251.2,1718.3 252.0,1720.2 252.8,1721.7 253.6,1723.2 254.4,1723.8 255.2,1725.5 256.0,1725.9 256.8,1726.3 257.6,1726.8 258.4,1726.4 259.2,1725.6 260.0,1725.3 260.8,1726.6 261.6,1727.1 262.4,1728.1 263.2,1728.9 264.0,1729.7 264.8,1730.8 265.6,1731.5 266.4,1731.9 267.2,1732.9 268.0,1733.2 268.8,1733.8 269.6,1734.6 270.4,1735.5 271.2,1735.9 272.0,1735.7 272.8,1735.9 273.6,1735.8 274.4,1735.6 275.2,1734.7 276.0,1733.5 276.8,1732.4 277.6,1731.5 278.4,1730.3 279.2,1729.5 280.1,1728.4 280.9,1727.2 281.7,1726.1 282.5,1725.3 283.3,1724.4 284.1,1724.0 284.9,1724.1 285.7,1724.0 286.5,1724.5 287.3,1724.7 288.1,1725.8 288.9,1727.5 289.7,1727.5 290.5,1728.4 291.3,1728.8 292.1,1729.6 292.9,1730.1 293.7,1731.0 294.5,1731.9 295.3,1732.7 296.1,1733.5 296.9,1733.7 297.7,1734.0 298.5,1734.3 299.3,1734.5 300.1,1734.7 300.9,1735.3 301.7,1735.6 302.5,1736.1 303.3,1736.5 304.1,1736.6 304.9,1736.9 305.7,1737.1 306.5,1736.2 307.3,1735.3 308.1,1734.4 308.9,1733.6 309.7,1732.7 310.5,1732.0 311.3,1731.7 312.1,1731.1 312.9,1730.8 313.7,1730.3 314.5,1730.0 315.3,1729.4 316.1,1728.4 316.9,1727.6 317.8,1726.7 318.6,1726.2 319.4,1726.3 320.2,1726.3 321.0,1725.5 321.8,1725.1 322.6,1724.5 323.4,1724.3 324.2,1723.5 325.0,1723.0 325.8,1723.6 326.6,1723.7 327.4,1723.6 328.2,1723.0 329.0,1722.9 329.8,1724.0 330.6,1724.5 331.4,1726.2 332.2,1726.7 333.0,1727.4 333.8,1727.3 334.6,1727.4 335.4,1728.7 336.2,1729.5 337.0,1730.1 337.8,1730.3 338.6,1730.3 339.4,1730.7 340.2,1730.5 341.0,1730.4 341.8,1729.5 342.6,1728.1 343.4,1727.4 344.2,1726.2 345.0,1724.9 345.8,1724.2 346.6,1722.6 347.4,1721.1 348.2,1720.4 349.0,1719.2 349.8,1716.7 350.6,1714.3 351.4,1713.1 352.2,1712.1 353.0,1711.0 353.8,1712.6 354.6,1712.8 355.5,1712.7 356.3,1712.3 357.1,1713.3 357.9,1714.2 358.7,1714.8 359.5,1716.7 360.3,1719.5 361.1,1722.0 361.9,1723.9 362.7,1725.1 363.5,1727.1 364.3,1727.9 365.1,1729.1 365.9,1730.3 366.7,1732.1 367.5,1733.8 368.3,1735.2 369.1,1736.8 369.9,1737.9 370.7,1737.8 371.5,1737.9 372.3,1737.9 373.1,1738.0 373.9,1738.0 373.9,1740.4Z" fill="#00BF76" stroke="none" stroke-width="0"/>
<line x1="185.4" y1="1740.4" x2="373.9" y2="1740.4" stroke="#1a1a1a" stroke-width="1.1"/>
<path d="M185.4,1783.7 185.4,1780.6 186.2,1780.8 187.0,1780.9 187.8,1781.0 188.6,1781.0 189.4,1781.0 190.2,1781.0 191.0,1781.1 191.8,1781.3 192.6,1781.4 193.4,1781.4 194.2,1781.4 195.0,1781.4 195.8,1781.6 196.6,1781.6 197.4,1781.7 198.2,1781.7 199.0,1781.5 199.8,1781.4 200.6,1781.4 201.4,1781.4 202.2,1781.4 203.0,1781.4 203.8,1781.2 204.7,1781.1 205.5,1781.1 206.3,1781.0 207.1,1781.0 207.9,1780.9 208.7,1781.0 209.5,1780.9 210.3,1780.6 211.1,1780.5 211.9,1780.1 212.7,1780.0 213.5,1780.0 214.3,1779.8 215.1,1779.9 215.9,1780.0 216.7,1780.2 217.5,1780.0 218.3,1779.2 219.1,1778.3 219.9,1777.7 220.7,1776.8 221.5,1776.1 222.3,1775.8 223.1,1775.1 223.9,1774.7 224.7,1774.6 225.5,1773.9 226.3,1773.5 227.1,1773.0 227.9,1772.3 228.7,1772.2 229.5,1771.9 230.3,1771.7 231.1,1771.5 231.9,1770.9 232.7,1770.5 233.5,1770.3 234.3,1769.8 235.1,1768.8 235.9,1768.3 236.7,1767.4 237.5,1766.6 238.3,1765.2 239.1,1766.3 239.9,1766.9 240.7,1767.1 241.5,1768.2 242.4,1768.7 243.2,1769.4 244.0,1770.2 244.8,1771.2 245.6,1771.6 246.4,1771.9 247.2,1772.4 248.0,1772.4 248.8,1772.8 249.6,1773.1 250.4,1773.7 251.2,1774.2 252.0,1775.1 252.8,1775.7 253.6,1776.4 254.4,1777.1 255.2,1777.7 256.0,1777.3 256.8,1777.1 257.6,1776.7 258.4,1776.8 259.2,1776.8 260.0,1776.5 260.8,1776.4 261.6,1776.0 262.4,1775.9 263.2,1776.1 264.0,1776.3 264.8,1776.6 265.6,1777.1 266.4,1777.8 267.2,1778.4 268.0,1779.0 268.8,1779.4 269.6,1779.9 270.4,1780.4 271.2,1780.9 272.0,1781.3 272.8,1781.7 273.6,1781.3 274.4,1780.7 275.2,1780.0 276.0,1779.1 276.8,1778.3 277.6,1777.6 278.4,1776.8 279.2,1776.1 280.1,1775.7 280.9,1774.9 281.7,1774.6 282.5,1774.7 283.3,1774.7 284.1,1775.1 284.9,1774.5 285.7,1773.9 286.5,1773.3 287.3,1773.5 288.1,1774.4 288.9,1774.8 289.7,1774.8 290.5,1775.3 291.3,1775.4 292.1,1775.9 292.9,1776.5 293.7,1777.2 294.5,1777.5 295.3,1777.8 296.1,1778.1 296.9,1778.3 297.7,1778.7 298.5,1779.0 299.3,1779.2 300.1,1779.5 300.9,1779.8 301.7,1780.1 302.5,1780.5 303.3,1780.7 304.1,1781.1 304.9,1781.4 305.7,1781.7 306.5,1781.4 307.3,1781.1 308.1,1780.9 308.9,1780.3 309.7,1779.8 310.5,1779.3 311.3,1778.9 312.1,1779.0 312.9,1778.6 313.7,1778.2 314.5,1777.9 315.3,1777.5 316.1,1777.4 316.9,1777.3 317.8,1777.3 318.6,1777.3 319.4,1777.2 320.2,1777.1 321.0,1776.4 321.8,1775.7 322.6,1774.8 323.4,1774.9 324.2,1774.7 325.0,1774.8 325.8,1774.5 326.6,1774.8 327.4,1774.5 328.2,1773.8 329.0,1772.8 329.8,1772.3 330.6,1771.9 331.4,1771.6 332.2,1772.3 333.0,1773.3 333.8,1774.4 334.6,1775.1 335.4,1774.8 336.2,1774.8 337.0,1774.7 337.8,1775.2 338.6,1775.8 339.4,1775.9 340.2,1775.9 341.0,1775.6 341.8,1775.6 342.6,1775.6 343.4,1775.4 344.2,1774.4 345.0,1772.9 345.8,1771.6 346.6,1770.0 347.4,1769.6 348.2,1768.6 349.0,1768.3 349.8,1767.5 350.6,1766.1 351.4,1765.5 352.2,1764.6 353.0,1763.7 353.8,1764.2 354.6,1764.5 355.5,1765.0 356.3,1766.0 357.1,1766.5 357.9,1767.3 358.7,1767.6 359.5,1769.0 360.3,1770.3 361.1,1771.3 361.9,1772.4 362.7,1773.2 363.5,1774.3 364.3,1775.2 365.1,1775.9 365.9,1777.1 366.7,1778.5 367.5,1779.8 368.3,1781.0 369.1,1781.4 369.9,1781.4 370.7,1781.6 371.5,1781.6 372.3,1781.6 373.1,1781.7 373.9,1781.8 373.9,1783.7Z" fill="#00C098" stroke="none" stroke-width="0"/>
<line x1="185.4" y1="1783.7" x2="373.9" y2="1783.7" stroke="#1a1a1a" stroke-width="1.1"/>
<path d="M185.4,1827.0 185.4,1823.3 186.2,1823.5 187.0,1823.7 187.8,1823.9 188.6,1823.8 189.4,1823.8 190.2,1823.7 191.0,1823.9 191.8,1824.1 192.6,1824.2 193.4,1824.2 194.2,1824.4 195.0,1824.4 195.8,1824.4 196.6,1824.5 197.4,1824.6 198.2,1824.7 199.0,1824.8 199.8,1825.0 200.6,1825.0 201.4,1825.1 202.2,1825.1 203.0,1824.9 203.8,1824.8 204.7,1824.7 205.5,1824.6 206.3,1824.6 207.1,1824.5 207.9,1824.4 208.7,1824.2 209.5,1824.0 210.3,1823.9 211.1,1823.9 211.9,1823.8 212.7,1823.7 213.5,1823.7 214.3,1823.6 215.1,1823.6 215.9,1823.4 216.7,1823.4 217.5,1823.3 218.3,1822.2 219.1,1821.4 219.9,1819.8 220.7,1818.8 221.5,1817.4 222.3,1816.0 223.1,1814.4 223.9,1813.2 224.7,1812.4 225.5,1812.2 226.3,1811.9 227.1,1810.8 227.9,1810.2 228.7,1809.3 229.5,1809.1 230.3,1809.4 231.1,1809.6 231.9,1808.4 232.7,1806.7 233.5,1805.9 234.3,1805.9 235.1,1806.3 235.9,1806.7 236.7,1805.3 237.5,1805.9 238.3,1805.9 239.1,1806.6 239.9,1807.5 240.7,1808.2 241.5,1807.8 242.4,1807.4 243.2,1807.7 244.0,1808.1 244.8,1809.3 245.6,1810.0 246.4,1812.0 247.2,1813.4 248.0,1814.7 248.8,1815.6 249.6,1816.3 250.4,1817.6 251.2,1818.0 252.0,1818.8 252.8,1818.9 253.6,1819.3 254.4,1819.3 255.2,1819.5 256.0,1819.5 256.8,1819.5 257.6,1819.5 258.4,1819.2 259.2,1819.0 260.0,1818.6 260.8,1818.5 261.6,1818.6 262.4,1818.8 263.2,1819.2 264.0,1819.9 264.8,1820.8 265.6,1821.0 266.4,1821.3 267.2,1821.5 268.0,1821.7 268.8,1821.6 269.6,1821.9 270.4,1822.0 271.2,1822.1 272.0,1822.4 272.8,1822.8 273.6,1822.6 274.4,1822.1 275.2,1821.7 276.0,1821.4 276.8,1821.0 277.6,1820.6 278.4,1820.0 279.2,1819.5 280.1,1819.1 280.9,1818.7 281.7,1818.2 282.5,1817.5 283.3,1816.8 284.1,1816.3 284.9,1815.3 285.7,1814.4 286.5,1813.4 287.3,1813.1 288.1,1814.4 288.9,1815.8 289.7,1816.1 290.5,1816.3 291.3,1816.2 292.1,1816.8 292.9,1817.6 293.7,1818.5 294.5,1819.6 295.3,1820.3 296.1,1821.3 296.9,1821.7 297.7,1822.1 298.5,1822.7 299.3,1823.5 300.1,1823.9 300.9,1824.2 301.7,1824.2 302.5,1824.2 303.3,1824.2 304.1,1824.5 304.9,1824.7 305.7,1824.9 306.5,1824.4 307.3,1824.2 308.1,1823.8 308.9,1823.4 309.7,1822.8 310.5,1822.5 311.3,1821.9 312.1,1821.4 312.9,1820.7 313.7,1820.5 314.5,1820.3 315.3,1820.4 316.1,1820.1 316.9,1819.7 317.8,1819.5 318.6,1818.9 319.4,1818.0 320.2,1817.4 321.0,1816.9 321.8,1816.5 322.6,1816.2 323.4,1816.4 324.2,1816.4 325.0,1817.0 325.8,1816.1 326.6,1815.6 327.4,1814.4 328.2,1815.0 329.0,1815.1 329.8,1815.6 330.6,1815.5 331.4,1815.4 332.2,1815.5 333.0,1815.7 333.8,1816.0 334.6,1815.9 335.4,1816.4 336.2,1816.8 337.0,1816.8 337.8,1817.7 338.6,1818.7 339.4,1819.5 340.2,1819.1 341.0,1819.0 341.8,1818.7 342.6,1818.9 343.4,1818.3 344.2,1816.4 345.0,1815.3 345.8,1814.4 346.6,1814.1 347.4,1811.4 348.2,1808.7 349.0,1806.4 349.8,1805.0 350.6,1804.0 351.4,1802.4 352.2,1803.5 353.0,1804.9 353.8,1805.1 354.6,1805.4 355.5,1805.1 356.3,1804.2 357.1,1805.3 357.9,1805.7 358.7,1808.2 359.5,1809.7 360.3,1811.4 361.1,1813.1 361.9,1813.9 362.7,1815.3 363.5,1816.7 364.3,1817.6 365.1,1819.2 365.9,1820.2 366.7,1821.6 367.5,1822.4 368.3,1822.6 369.1,1823.3 369.9,1823.8 370.7,1824.4 371.5,1824.7 372.3,1824.9 373.1,1825.2 373.9,1825.5 373.9,1827.0Z" fill="#00C0B7" stroke="none" stroke-width="0"/>
<line x1="185.4" y1="1827.0" x2="373.9" y2="1827.0" stroke="#1a1a1a" stroke-width="1.1"/>
<path d="M185.4,1870.4 185.4,1867.6 186.2,1867.7 187.0,1867.8 187.8,1868.0 188.6,1868.1 189.4,1868.2 190.2,1868.4 191.0,1868.6 191.8,1868.7 192.6,1868.7 193.4,1868.8 194.2,1868.8 195.0,1868.8 195.8,1868.9 196.6,1868.9 197.4,1869.0 198.2,1869.1 199.0,1869.2 199.8,1869.3 200.6,1869.3 201.4,1869.3 202.2,1869.3 203.0,1869.4 203.8,1869.4 204.7,1869.2 205.5,1869.0 206.3,1868.8 207.1,1868.5 207.9,1868.2 208.7,1868.0 209.5,1867.5 210.3,1867.3 211.1,1867.1 211.9,1866.9 212.7,1866.8 213.5,1866.5 214.3,1866.4 215.1,1866.2 215.9,1865.9 216.7,1865.8 217.5,1865.6 218.3,1865.4 219.1,1865.1 219.9,1864.7 220.7,1864.3 221.5,1863.8 222.3,1863.5 223.1,1863.2 223.9,1862.9 224.7,1862.9 225.5,1863.0 226.3,1863.4 227.1,1863.0 227.9,1863.1 228.7,1862.8 229.5,1862.5 230.3,1862.6 231.1,1862.5 231.9,1862.1 232.7,1861.7 233.5,1860.5 234.3,1860.5 235.1,1860.0 235.9,1859.6 236.7,1859.2 237.5,1859.3 238.3,1859.7 239.1,1859.2 239.9,1858.5 240.7,1857.8 241.5,1858.7 242.4,1858.9 243.2,1858.7 244.0,1859.0 244.8,1859.3 245.6,1859.5 246.4,1860.2 247.2,1860.5 248.0,1861.2 248.8,1862.0 249.6,1863.2 250.4,1864.0 251.2,1864.5 252.0,1865.0 252.8,1865.2 253.6,1865.3 254.4,1865.2 255.2,1865.1 256.0,1865.2 256.8,1865.1 257.6,1865.3 258.4,1865.1 259.2,1865.1 260.0,1864.9 260.8,1864.4 261.6,1864.2 262.4,1863.8 263.2,1863.7 264.0,1864.0 264.8,1864.7 265.6,1864.9 266.4,1865.4 267.2,1865.8 268.0,1866.0 268.8,1866.0 269.6,1866.1 270.4,1866.4 271.2,1866.8 272.0,1867.1 272.8,1867.5 273.6,1867.2 274.4,1866.9 275.2,1866.5 276.0,1866.0 276.8,1865.6 277.6,1865.3 278.4,1864.8 279.2,1864.5 280.1,1863.8 280.9,1863.3 281.7,1862.9 282.5,1862.6 283.3,1862.4 284.1,1862.2 284.9,1861.6 285.7,1860.9 286.5,1860.8 287.3,1861.0 288.1,1860.9 288.9,1860.9 289.7,1861.5 290.5,1862.0 291.3,1862.7 292.1,1863.1 292.9,1863.9 293.7,1864.5 294.5,1864.9 295.3,1865.3 296.1,1865.8 296.9,1866.2 297.7,1866.9 298.5,1867.3 299.3,1867.5 300.1,1867.8 300.9,1868.0 301.7,1867.9 302.5,1868.0 303.3,1868.0 304.1,1868.1 304.9,1868.0 305.7,1868.0 306.5,1868.2 307.3,1868.1 308.1,1867.9 308.9,1867.6 309.7,1867.3 310.5,1867.0 311.3,1866.6 312.1,1866.0 312.9,1865.7 313.7,1865.6 314.5,1865.5 315.3,1865.5 316.1,1865.4 316.9,1865.5 317.8,1865.4 318.6,1865.4 319.4,1865.3 320.2,1865.3 321.0,1865.3 321.8,1865.6 322.6,1865.6 323.4,1865.5 324.2,1865.1 325.0,1864.7 325.8,1864.4 326.6,1864.1 327.4,1863.6 328.2,1863.4 329.0,1862.8 329.8,1862.4 330.6,1862.5 331.4,1862.2 332.2,1862.1 333.0,1862.4 333.8,1862.8 334.6,1862.8 335.4,1863.0 336.2,1863.0 337.0,1862.8 337.8,1862.9 338.6,1863.1 339.4,1863.3 340.2,1863.6 341.0,1863.2 341.8,1862.6 342.6,1861.5 343.4,1860.4 344.2,1859.6 345.0,1858.8 345.8,1858.7 346.6,1858.2 347.4,1857.7 348.2,1856.9 349.0,1855.9 349.8,1855.5 350.6,1854.3 351.4,1854.0 352.2,1854.0 353.0,1853.8 353.8,1854.2 354.6,1854.4 355.5,1854.9 356.3,1855.5 357.1,1855.9 357.9,1856.0 358.7,1857.0 359.5,1858.4 360.3,1859.9 361.1,1861.6 361.9,1862.3 362.7,1862.6 363.5,1863.4 364.3,1864.3 365.1,1865.2 365.9,1866.1 366.7,1867.1 367.5,1868.2 368.3,1869.1 369.1,1869.4 369.9,1869.5 370.7,1869.6 371.5,1869.7 372.3,1869.9 373.1,1870.0 373.9,1870.0 373.9,1870.4Z" fill="#00BDD1" stroke="none" stroke-width="0"/>
<line x1="185.4" y1="1870.4" x2="373.9" y2="1870.4" stroke="#1a1a1a" stroke-width="1.1"/>
<path d="M185.4,1913.7 185.4,1909.9 186.2,1909.5 187.0,1909.4 187.8,1909.1 188.6,1909.3 189.4,1909.2 190.2,1909.2 191.0,1909.5 191.8,1909.6 192.6,1910.0 193.4,1909.9 194.2,1909.9 195.0,1909.9 195.8,1910.0 196.6,1910.3 197.4,1910.5 198.2,1910.4 199.0,1910.2 199.8,1909.9 200.6,1909.6 201.4,1909.6 202.2,1909.3 203.0,1909.4 203.8,1909.3 204.7,1909.4 205.5,1909.1 206.3,1909.0 207.1,1908.8 207.9,1908.6 208.7,1908.5 209.5,1908.4 210.3,1908.3 211.1,1908.1 211.9,1907.9 212.7,1907.5 213.5,1907.0 214.3,1906.7 215.1,1906.6 215.9,1906.2 216.7,1905.6 217.5,1904.9 218.3,1904.3 219.1,1903.5 219.9,1902.8 220.7,1901.4 221.5,1900.0 222.3,1899.9 223.1,1899.5 223.9,1898.8 224.7,1899.2 225.5,1899.7 226.3,1900.1 227.1,1899.6 227.9,1898.9 228.7,1897.7 229.5,1897.0 230.3,1895.5 231.1,1894.3 231.9,1894.4 232.7,1894.6 233.5,1894.7 234.3,1893.8 235.1,1893.4 235.9,1892.3 236.7,1890.6 237.5,1889.4 238.3,1888.0 239.1,1886.8 239.9,1886.7 240.7,1886.6 241.5,1886.2 242.4,1888.1 243.2,1888.5 244.0,1887.7 244.8,1887.8 245.6,1887.5 246.4,1888.1 247.2,1889.3 248.0,1890.2 248.8,1890.6 249.6,1892.3 250.4,1894.0 251.2,1894.4 252.0,1895.2 252.8,1895.9 253.6,1896.7 254.4,1897.8 255.2,1899.0 256.0,1898.5 256.8,1899.0 257.6,1899.0 258.4,1899.0 259.2,1898.5 260.0,1898.4 260.8,1897.8 261.6,1898.0 262.4,1898.1 263.2,1898.8 264.0,1899.7 264.8,1900.8 265.6,1901.5 266.4,1903.2 267.2,1904.1 268.0,1905.8 268.8,1907.5 269.6,1908.7 270.4,1908.9 271.2,1909.4 272.0,1909.5 272.8,1909.5 273.6,1908.6 274.4,1907.2 275.2,1906.5 276.0,1905.8 276.8,1905.3 277.6,1904.2 278.4,1903.1 279.2,1901.6 280.1,1901.0 280.9,1901.1 281.7,1901.2 282.5,1900.9 283.3,1900.3 284.1,1900.2 284.9,1899.2 285.7,1898.4 286.5,1897.7 287.3,1897.3 288.1,1897.7 288.9,1898.0 289.7,1899.7 290.5,1900.7 291.3,1901.8 292.1,1902.3 292.9,1902.8 293.7,1903.1 294.5,1903.6 295.3,1904.0 296.1,1904.5 296.9,1905.1 297.7,1905.6 298.5,1906.4 299.3,1906.9 300.1,1907.7 300.9,1908.3 301.7,1908.8 302.5,1909.0 303.3,1909.3 304.1,1909.0 304.9,1908.7 305.7,1908.6 306.5,1907.9 307.3,1907.2 308.1,1906.3 308.9,1905.9 309.7,1905.7 310.5,1905.6 311.3,1904.6 312.1,1903.4 312.9,1902.2 313.7,1901.0 314.5,1899.2 315.3,1898.1 316.1,1897.3 316.9,1897.6 317.8,1897.5 318.6,1896.8 319.4,1896.3 320.2,1896.5 321.0,1895.1 321.8,1895.1 322.6,1893.4 323.4,1892.7 324.2,1892.3 325.0,1891.7 325.8,1891.3 326.6,1891.4 327.4,1891.3 328.2,1891.3 329.0,1892.1 329.8,1893.3 330.6,1894.1 331.4,1895.2 332.2,1896.0 333.0,1896.2 333.8,1897.4 334.6,1898.0 335.4,1898.0 336.2,1898.7 337.0,1898.7 337.8,1898.6 338.6,1899.7 339.4,1900.2 340.2,1900.2 341.0,1900.3 341.8,1900.6 342.6,1898.6 343.4,1896.4 344.2,1895.2 345.0,1892.9 345.8,1892.4 346.6,1892.0 347.4,1891.6 348.2,1891.0 349.0,1891.0 349.8,1891.7 350.6,1891.6 351.4,1891.9 352.2,1891.9 353.0,1892.0 353.8,1892.8 354.6,1892.9 355.5,1893.1 356.3,1893.4 357.1,1894.8 357.9,1895.6 358.7,1896.6 359.5,1898.6 360.3,1900.2 361.1,1901.9 361.9,1902.7 362.7,1904.0 363.5,1904.9 364.3,1905.8 365.1,1906.9 365.9,1908.1 366.7,1908.6 367.5,1909.0 368.3,1909.3 369.1,1909.7 369.9,1910.1 370.7,1910.6 371.5,1910.8 372.3,1911.3 373.1,1911.6 373.9,1911.9 373.9,1913.7Z" fill="#00B7E8" stroke="none" stroke-width="0"/>
<line x1="185.4" y1="1913.7" x2="373.9" y2="1913.7" stroke="#1a1a1a" stroke-width="1.1"/>
<path d="M185.4,1957.0 185.4,1951.7 186.2,1951.7 187.0,1951.6 187.8,1951.2 188.6,1950.7 189.4,1950.7 190.2,1951.2 191.0,1952.1 191.8,1952.8 192.6,1953.6 193.4,1954.1 194.2,1954.1 195.0,1954.2 195.8,1954.3 196.6,1954.5 197.4,1954.7 198.2,1954.6 199.0,1954.3 199.8,1953.9 200.6,1953.9 201.4,1953.7 202.2,1953.6 203.0,1953.5 203.8,1953.5 204.7,1953.5 205.5,1953.4 206.3,1953.3 207.1,1953.2 207.9,1952.8 208.7,1952.3 209.5,1951.9 210.3,1951.8 211.1,1951.4 211.9,1951.4 212.7,1951.4 213.5,1951.2 214.3,1951.2 215.1,1951.0 215.9,1949.6 216.7,1948.2 217.5,1946.1 218.3,1943.3 219.1,1940.9 219.9,1939.5 220.7,1937.2 221.5,1936.1 222.3,1935.6 223.1,1935.9 223.9,1935.7 224.7,1935.2 225.5,1935.3 226.3,1935.6 227.1,1934.0 227.9,1933.2 228.7,1932.2 229.5,1932.2 230.3,1932.1 231.1,1932.6 231.9,1932.8 232.7,1934.7 233.5,1935.3 234.3,1935.3 235.1,1935.5 235.9,1934.6 236.7,1934.4 237.5,1933.4 238.3,1931.6 239.1,1932.2 239.9,1932.6 240.7,1933.1 241.5,1933.4 242.4,1933.3 243.2,1933.6 244.0,1935.1 244.8,1936.2 245.6,1936.7 246.4,1937.2 247.2,1938.8 248.0,1939.6 248.8,1940.4 249.6,1940.7 250.4,1942.2 251.2,1943.7 252.0,1944.9 252.8,1945.8 253.6,1945.5 254.4,1945.3 255.2,1945.4 256.0,1945.4 256.8,1945.9 257.6,1946.0 258.4,1946.3 259.2,1946.8 260.0,1947.0 260.8,1946.5 261.6,1946.5 262.4,1946.2 263.2,1946.5 264.0,1946.7 264.8,1947.2 265.6,1948.8 266.4,1949.7 267.2,1951.0 268.0,1951.6 268.8,1952.2 269.6,1952.7 270.4,1952.6 271.2,1952.4 272.0,1952.2 272.8,1952.1 273.6,1951.9 274.4,1951.5 275.2,1951.7 276.0,1950.9 276.8,1950.5 277.6,1949.6 278.4,1948.6 279.2,1947.8 280.1,1946.9 280.9,1946.4 281.7,1945.6 282.5,1945.2 283.3,1944.8 284.1,1943.7 284.9,1944.4 285.7,1944.1 286.5,1944.4 287.3,1944.4 288.1,1944.9 288.9,1944.7 289.7,1944.9 290.5,1945.8 291.3,1946.0 292.1,1946.1 292.9,1946.4 293.7,1946.5 294.5,1947.0 295.3,1947.5 296.1,1947.6 296.9,1948.6 297.7,1949.1 298.5,1949.9 299.3,1950.7 300.1,1951.2 300.9,1951.9 301.7,1952.5 302.5,1952.8 303.3,1953.4 304.1,1954.1 304.9,1954.8 305.7,1955.3 306.5,1954.9 307.3,1954.5 308.1,1954.1 308.9,1953.8 309.7,1953.4 310.5,1953.1 311.3,1952.7 312.1,1952.1 312.9,1951.5 313.7,1950.9 314.5,1950.6 315.3,1950.1 316.1,1949.7 316.9,1949.1 317.8,1948.6 318.6,1948.3 319.4,1947.5 320.2,1947.3 321.0,1946.6 321.8,1945.4 322.6,1944.8 323.4,1944.4 324.2,1943.8 325.0,1943.9 325.8,1943.1 326.6,1943.2 327.4,1942.5 328.2,1942.2 329.0,1941.1 329.8,1941.0 330.6,1940.9 331.4,1941.2 332.2,1942.0 333.0,1943.3 333.8,1945.0 334.6,1946.8 335.4,1947.5 336.2,1947.7 337.0,1948.5 337.8,1949.2 338.6,1949.5 339.4,1950.0 340.2,1950.0 341.0,1949.9 341.8,1949.9 342.6,1948.7 343.4,1947.1 344.2,1946.0 345.0,1944.6 345.8,1943.8 346.6,1942.8 347.4,1941.8 348.2,1941.2 349.0,1940.8 349.8,1940.3 350.6,1938.9 351.4,1938.2 352.2,1937.2 353.0,1936.7 353.8,1937.5 354.6,1938.4 355.5,1938.7 356.3,1939.1 357.1,1940.1 357.9,1940.9 358.7,1942.3 359.5,1942.9 360.3,1943.9 361.1,1944.9 361.9,1946.5 362.7,1948.1 363.5,1949.5 364.3,1950.7 365.1,1951.6 365.9,1952.1 366.7,1952.5 367.5,1953.1 368.3,1953.7 369.1,1954.3 369.9,1955.0 370.7,1955.6 371.5,1955.5 372.3,1955.2 373.1,1955.0 373.9,1954.7 373.9,1957.0Z" fill="#00AEFA" stroke="none" stroke-width="0"/>
<line x1="185.4" y1="1957.0" x2="373.9" y2="1957.0" stroke="#1a1a1a" stroke-width="1.1"/>
<path d="M185.4,2000.3 185.4,1995.7 186.2,1996.8 187.0,1997.8 187.8,1998.1 188.6,1998.1 189.4,1998.1 190.2,1998.1 191.0,1998.1 191.8,1998.1 192.6,1998.1 193.4,1998.0 194.2,1997.9 195.0,1997.8 195.8,1997.8 196.6,1997.2 197.4,1996.9 198.2,1996.4 199.0,1995.8 199.8,1995.3 200.6,1995.1 201.4,1994.7 202.2,1994.6 203.0,1994.5 203.8,1994.2 204.7,1993.8 205.5,1993.5 206.3,1993.3 207.1,1992.9 207.9,1992.8 208.7,1993.6 209.5,1994.1 210.3,1994.3 211.1,1994.6 211.9,1995.1 212.7,1995.6 213.5,1996.1 214.3,1996.6 215.1,1997.1 215.9,1997.4 216.7,1997.8 217.5,1997.8 218.3,1995.2 219.1,1992.5 219.9,1990.4 220.7,1987.7 221.5,1985.7 222.3,1982.6 223.1,1981.1 223.9,1980.6 224.7,1979.9 225.5,1978.4 226.3,1977.5 227.1,1977.4 227.9,1975.9 228.7,1975.3 229.5,1975.8 230.3,1976.9 231.1,1978.1 231.9,1978.7 232.7,1979.1 233.5,1979.3 234.3,1980.2 235.1,1981.4 235.9,1982.7 236.7,1981.1 237.5,1980.1 238.3,1979.0 239.1,1978.1 239.9,1977.8 240.7,1977.0 241.5,1975.5 242.4,1973.8 243.2,1972.7 244.0,1972.1 244.8,1971.0 245.6,1970.4 246.4,1969.6 247.2,1971.5 248.0,1973.2 248.8,1974.4 249.6,1976.9 250.4,1978.8 251.2,1980.4 252.0,1981.7 252.8,1983.3 253.6,1985.8 254.4,1988.4 255.2,1991.4 256.0,1993.8 256.8,1996.3 257.6,1997.6 258.4,1996.9 259.2,1996.2 260.0,1995.6 260.8,1994.8 261.6,1994.3 262.4,1993.6 263.2,1993.5 264.0,1993.3 264.8,1993.0 265.6,1992.9 266.4,1992.9 267.2,1992.5 268.0,1992.5 268.8,1992.9 269.6,1993.5 270.4,1993.3 271.2,1993.4 272.0,1993.5 272.8,1994.0 273.6,1994.4 274.4,1995.1 275.2,1995.5 276.0,1996.0 276.8,1996.2 277.6,1995.6 278.4,1994.9 279.2,1994.3 280.1,1994.1 280.9,1993.9 281.7,1993.6 282.5,1993.0 283.3,1992.7 284.1,1992.0 284.9,1992.1 285.7,1991.9 286.5,1992.1 287.3,1991.8 288.1,1992.1 288.9,1992.1 289.7,1992.3 290.5,1992.8 291.3,1993.2 292.1,1993.7 292.9,1994.0 293.7,1994.1 294.5,1994.1 295.3,1994.0 296.1,1994.0 296.9,1993.9 297.7,1996.5 298.5,1999.7 299.3,1999.3 300.1,1998.8 300.9,1998.4 301.7,1998.0 302.5,1998.0 303.3,1998.0 304.1,1998.1 304.9,1998.1 305.7,1998.2 306.5,1998.1 307.3,1998.0 308.1,1997.9 308.9,1998.1 309.7,1998.1 310.5,1998.2 311.3,1998.2 312.1,1998.6 312.9,1999.3 313.7,2000.0 314.5,2000.3 315.3,2000.2 316.1,2000.1 316.9,2000.0 317.8,1999.9 318.6,1999.8 319.4,1999.3 320.2,1998.3 321.0,1997.4 321.8,1996.4 322.6,1995.5 323.4,1994.7 324.2,1993.9 325.0,1993.4 325.8,1992.6 326.6,1992.0 327.4,1992.1 328.2,1991.9 329.0,1991.3 329.8,1991.0 330.6,1991.6 331.4,1992.0 332.2,1992.0 333.0,1992.2 333.8,1992.6 334.6,1992.6 335.4,1992.1 336.2,1992.2 337.0,1991.9 337.8,1991.4 338.6,1991.3 339.4,1991.2 340.2,1990.9 341.0,1990.8 341.8,1990.5 342.6,1990.4 343.4,1990.2 344.2,1989.4 345.0,1987.0 345.8,1984.7 346.6,1983.0 347.4,1982.2 348.2,1982.2 349.0,1982.8 349.8,1980.9 350.6,1980.0 351.4,1978.0 352.2,1978.6 353.0,1978.8 353.8,1979.9 354.6,1980.3 355.5,1979.3 356.3,1979.7 357.1,1981.0 357.9,1982.2 358.7,1984.1 359.5,1984.1 360.3,1985.8 361.1,1987.9 361.9,1990.2 362.7,1992.0 363.5,1994.1 364.3,1995.1 365.1,1995.7 365.9,1996.2 366.7,1997.0 367.5,1997.9 368.3,1998.6 369.1,1999.3 369.9,1999.8 370.7,1999.9 371.5,2000.0 372.3,2000.1 373.1,2000.2 373.9,2000.3 373.9,2000.3Z" fill="#3DA1FF" stroke="none" stroke-width="0"/>
<line x1="185.4" y1="2000.3" x2="373.9" y2="2000.3" stroke="#1a1a1a" stroke-width="1.1"/>
<path d="M185.4,2043.7 185.4,2043.7 186.2,2043.7 187.0,2043.7 187.8,2043.7 188.6,2043.7 189.4,2043.7 190.2,2043.7 191.0,2043.7 191.8,2043.7 192.6,2043.7 193.4,2043.7 194.2,2043.7 195.0,2043.7 195.8,2043.7 196.6,2043.7 197.4,2043.7 198.2,2043.7 199.0,2043.7 199.8,2043.7 200.6,2043.7 201.4,2043.7 202.2,2043.7 203.0,2043.7 203.8,2043.7 204.7,2043.7 205.5,2043.7 206.3,2043.7 207.1,2043.7 207.9,2043.7 208.7,2043.7 209.5,2043.7 210.3,2043.7 211.1,2043.7 211.9,2043.7 212.7,2043.7 213.5,2043.7 214.3,2043.7 215.1,2043.7 215.9,2043.7 216.7,2043.7 217.5,2043.7 218.3,2043.7 219.1,2043.7 219.9,2043.7 220.7,2043.7 221.5,2043.7 222.3,2043.7 223.1,2043.7 223.9,2043.6 224.7,2043.6 225.5,2043.6 226.3,2043.6 227.1,2043.5 227.9,2043.5 228.7,2043.4 229.5,2043.4 230.3,2043.3 231.1,2043.2 231.9,2043.1 232.7,2043.0 233.5,2042.9 234.3,2042.9 235.1,2042.8 235.9,2042.8 236.7,2042.7 237.5,2042.7 238.3,2042.6 239.1,2042.7 239.9,2042.7 240.7,2042.8 241.5,2042.9 242.4,2042.9 243.2,2043.0 244.0,2043.1 244.8,2043.2 245.6,2043.3 246.4,2043.4 247.2,2043.4 248.0,2043.5 248.8,2043.5 249.6,2043.6 250.4,2043.6 251.2,2043.6 252.0,2043.6 252.8,2043.6 253.6,2043.7 254.4,2043.7 255.2,2043.7 256.0,2043.7 256.8,2043.7 257.6,2043.7 258.4,2043.7 259.2,2043.7 260.0,2043.7 260.8,2043.7 261.6,2043.7 262.4,2043.7 263.2,2043.7 264.0,2043.7 264.8,2043.7 265.6,2043.7 266.4,2043.7 267.2,2043.7 268.0,2043.7 268.8,2043.7 269.6,2043.7 270.4,2043.7 271.2,2043.7 272.0,2043.7 272.8,2043.7 273.6,2043.7 274.4,2043.7 275.2,2043.7 276.0,2043.7 276.8,2043.7 277.6,2043.7 278.4,2043.7 279.2,2043.7 280.1,2043.7 280.9,2043.7 281.7,2043.7 282.5,2043.7 283.3,2043.7 284.1,2043.7 284.9,2043.7 285.7,2043.7 286.5,2043.7 287.3,2043.7 288.1,2043.7 288.9,2043.7 289.7,2043.7 290.5,2043.7 291.3,2043.7 292.1,2043.7 292.9,2043.7 293.7,2043.7 294.5,2043.7 295.3,2043.7 296.1,2043.7 296.9,2043.7 297.7,2043.7 298.5,2043.7 299.3,2043.7 300.1,2043.7 300.9,2043.7 301.7,2043.7 302.5,2043.7 303.3,2043.7 304.1,2043.7 304.9,2043.7 305.7,2043.7 306.5,2043.7 307.3,2043.7 308.1,2043.7 308.9,2043.7 309.7,2043.7 310.5,2043.7 311.3,2043.7 312.1,2043.7 312.9,2043.7 313.7,2043.7 314.5,2043.7 315.3,2043.7 316.1,2043.7 316.9,2043.7 317.8,2043.7 318.6,2043.7 319.4,2043.7 320.2,2043.7 321.0,2043.7 321.8,2043.7 322.6,2043.7 323.4,2043.7 324.2,2043.7 325.0,2043.7 325.8,2043.7 326.6,2043.7 327.4,2043.7 328.2,2043.7 329.0,2043.7 329.8,2043.7 330.6,2043.7 331.4,2043.7 332.2,2043.7 333.0,2043.7 333.8,2043.7 334.6,2043.7 335.4,2043.7 336.2,2043.7 337.0,2043.7 337.8,2043.6 338.6,2043.6 339.4,2043.6 340.2,2043.6 341.0,2043.5 341.8,2043.5 342.6,2043.4 343.4,2043.3 344.2,2043.3 345.0,2043.2 345.8,2043.1 346.6,2043.0 347.4,2042.9 348.2,2042.8 349.0,2042.7 349.8,2042.6 350.6,2042.5 351.4,2042.4 352.2,2042.4 353.0,2042.4 353.8,2042.5 354.6,2042.6 355.5,2042.6 356.3,2042.7 357.1,2042.8 357.9,2042.9 358.7,2043.0 359.5,2043.1 360.3,2043.2 361.1,2043.3 361.9,2043.4 362.7,2043.4 363.5,2043.5 364.3,2043.5 365.1,2043.6 365.9,2043.6 366.7,2043.6 367.5,2043.6 368.3,2043.7 369.1,2043.7 369.9,2043.7 370.7,2043.7 371.5,2043.7 372.3,2043.7 373.1,2043.7 373.9,2043.7 373.9,2043.7Z" fill="#8F91FF" stroke="none" stroke-width="0"/>
<line x1="185.4" y1="2043.7" x2="373.9" y2="2043.7" stroke="#333" stroke-width="1.1"/>
<path d="M185.4,2087.0 185.4,2087.0 186.2,2087.0 187.0,2087.0 187.8,2087.0 188.6,2087.0 189.4,2087.0 190.2,2087.0 191.0,2087.0 191.8,2087.0 192.6,2087.0 193.4,2087.0 194.2,2087.0 195.0,2087.0 195.8,2087.0 196.6,2087.0 197.4,2087.0 198.2,2087.0 199.0,2087.0 199.8,2087.0 200.6,2087.0 201.4,2087.0 202.2,2087.0 203.0,2087.0 203.8,2087.0 204.7,2087.0 205.5,2087.0 206.3,2087.0 207.1,2087.0 207.9,2087.0 208.7,2087.0 209.5,2087.0 210.3,2087.0 211.1,2087.0 211.9,2087.0 212.7,2087.0 213.5,2087.0 214.3,2087.0 215.1,2087.0 215.9,2087.0 216.7,2086.9 217.5,2086.9 218.3,2086.9 219.1,2086.9 219.9,2086.9 220.7,2086.8 221.5,2086.8 222.3,2086.8 223.1,2086.8 223.9,2086.7 224.7,2086.7 225.5,2086.6 226.3,2086.5 227.1,2086.5 227.9,2086.5 228.7,2086.4 229.5,2086.4 230.3,2086.3 231.1,2086.2 231.9,2086.2 232.7,2086.1 233.5,2086.1 234.3,2086.0 235.1,2086.0 235.9,2086.0 236.7,2086.0 237.5,2086.0 238.3,2086.0 239.1,2086.0 239.9,2086.0 240.7,2086.0 241.5,2086.0 242.4,2086.1 243.2,2086.1 244.0,2086.1 244.8,2086.2 245.6,2086.2 246.4,2086.3 247.2,2086.4 248.0,2086.5 248.8,2086.5 249.6,2086.6 250.4,2086.6 251.2,2086.6 252.0,2086.7 252.8,2086.7 253.6,2086.7 254.4,2086.7 255.2,2086.8 256.0,2086.8 256.8,2086.8 257.6,2086.9 258.4,2086.9 259.2,2086.9 260.0,2086.9 260.8,2086.9 261.6,2086.8 262.4,2086.8 263.2,2086.8 264.0,2086.8 264.8,2086.8 265.6,2086.7 266.4,2086.7 267.2,2086.7 268.0,2086.7 268.8,2086.6 269.6,2086.6 270.4,2086.5 271.2,2086.5 272.0,2086.4 272.8,2086.4 273.6,2086.3 274.4,2086.3 275.2,2086.2 276.0,2086.2 276.8,2086.2 277.6,2086.2 278.4,2086.2 279.2,2086.1 280.1,2086.2 280.9,2086.3 281.7,2086.3 282.5,2086.3 283.3,2086.3 284.1,2086.3 284.9,2086.3 285.7,2086.3 286.5,2086.4 287.3,2086.4 288.1,2086.4 288.9,2086.5 289.7,2086.6 290.5,2086.6 291.3,2086.6 292.1,2086.7 292.9,2086.7 293.7,2086.8 294.5,2086.8 295.3,2086.8 296.1,2086.8 296.9,2086.8 297.7,2086.9 298.5,2086.9 299.3,2086.9 300.1,2086.9 300.9,2086.9 301.7,2087.0 302.5,2087.0 303.3,2087.0 304.1,2087.0 304.9,2087.0 305.7,2087.0 306.5,2087.0 307.3,2087.0 308.1,2087.0 308.9,2087.0 309.7,2087.0 310.5,2087.0 311.3,2087.0 312.1,2087.0 312.9,2087.0 313.7,2086.9 314.5,2086.9 315.3,2086.9 316.1,2086.8 316.9,2086.7 317.8,2086.6 318.6,2086.5 319.4,2086.3 320.2,2086.2 321.0,2086.0 321.8,2085.9 322.6,2085.7 323.4,2085.5 324.2,2085.3 325.0,2085.1 325.8,2084.9 326.6,2084.8 327.4,2084.7 328.2,2084.7 329.0,2084.7 329.8,2084.9 330.6,2084.8 331.4,2084.9 332.2,2085.1 333.0,2085.2 333.8,2085.3 334.6,2085.4 335.4,2085.7 336.2,2085.9 337.0,2086.1 337.8,2086.2 338.6,2086.3 339.4,2086.4 340.2,2086.3 341.0,2086.3 341.8,2086.2 342.6,2086.1 343.4,2086.0 344.2,2085.9 345.0,2085.7 345.8,2085.5 346.6,2085.3 347.4,2085.2 348.2,2085.1 349.0,2085.0 349.8,2084.9 350.6,2084.7 351.4,2084.6 352.2,2084.6 353.0,2084.6 353.8,2084.7 354.6,2084.7 355.5,2084.7 356.3,2084.7 357.1,2085.0 357.9,2085.2 358.7,2085.4 359.5,2085.6 360.3,2085.7 361.1,2085.9 361.9,2086.0 362.7,2086.2 363.5,2086.3 364.3,2086.5 365.1,2086.6 365.9,2086.7 366.7,2086.8 367.5,2086.8 368.3,2086.9 369.1,2086.9 369.9,2086.9 370.7,2087.0 371.5,2087.0 372.3,2087.0 373.1,2087.0 373.9,2087.0 373.9,2087.0Z" fill="#BE80FF" stroke="none" stroke-width="0"/>
<line x1="185.4" y1="2087.0" x2="373.9" y2="2087.0" stroke="#777" stroke-width="1.1"/>
<path d="M185.4,2130.3 185.4,2130.3 186.2,2130.3 187.0,2130.3 187.8,2130.3 188.6,2130.3 189.4,2130.3 190.2,2130.3 191.0,2130.3 191.8,2130.3 192.6,2130.3 193.4,2130.3 194.2,2130.3 195.0,2130.3 195.8,2130.3 196.6,2130.3 197.4,2130.3 198.2,2130.3 199.0,2130.3 199.8,2130.3 200.6,2130.3 201.4,2130.3 202.2,2130.3 203.0,2130.3 203.8,2130.3 204.7,2130.3 205.5,2130.3 206.3,2130.3 207.1,2130.3 207.9,2130.3 208.7,2130.3 209.5,2130.3 210.3,2130.3 211.1,2130.3 211.9,2130.2 212.7,2130.2 213.5,2130.2 214.3,2130.2 215.1,2130.1 215.9,2130.1 216.7,2130.1 217.5,2130.0 218.3,2130.0 219.1,2130.0 219.9,2130.0 220.7,2129.9 221.5,2129.9 222.3,2129.8 223.1,2129.8 223.9,2129.7 224.7,2129.6 225.5,2129.6 226.3,2129.6 227.1,2129.4 227.9,2129.3 228.7,2129.2 229.5,2129.2 230.3,2129.0 231.1,2129.0 231.9,2129.0 232.7,2129.0 233.5,2129.0 234.3,2128.9 235.1,2128.9 235.9,2128.8 236.7,2128.8 237.5,2128.9 238.3,2129.0 239.1,2128.9 239.9,2128.8 240.7,2128.8 241.5,2128.9 242.4,2129.0 243.2,2129.1 244.0,2129.1 244.8,2129.0 245.6,2129.0 246.4,2129.1 247.2,2129.2 248.0,2129.3 248.8,2129.3 249.6,2129.4 250.4,2129.5 251.2,2129.5 252.0,2129.6 252.8,2129.7 253.6,2129.7 254.4,2129.8 255.2,2129.9 256.0,2129.9 256.8,2130.0 257.6,2130.0 258.4,2130.1 259.2,2130.1 260.0,2130.1 260.8,2130.1 261.6,2130.2 262.4,2130.2 263.2,2130.2 264.0,2130.2 264.8,2130.2 265.6,2130.2 266.4,2130.2 267.2,2130.2 268.0,2130.2 268.8,2130.2 269.6,2130.2 270.4,2130.2 271.2,2130.1 272.0,2130.1 272.8,2130.1 273.6,2130.0 274.4,2130.0 275.2,2129.9 276.0,2129.8 276.8,2129.6 277.6,2129.5 278.4,2129.4 279.2,2129.3 280.1,2129.3 280.9,2129.2 281.7,2129.2 282.5,2129.1 283.3,2128.9 284.1,2128.9 284.9,2128.8 285.7,2128.8 286.5,2128.9 287.3,2128.9 288.1,2128.9 288.9,2129.0 289.7,2129.0 290.5,2129.0 291.3,2129.0 292.1,2129.2 292.9,2129.3 293.7,2129.4 294.5,2129.5 295.3,2129.6 296.1,2129.7 296.9,2129.8 297.7,2129.8 298.5,2129.9 299.3,2130.0 300.1,2130.0 300.9,2130.1 301.7,2130.1 302.5,2130.2 303.3,2130.2 304.1,2130.2 304.9,2130.2 305.7,2130.3 306.5,2130.3 307.3,2130.3 308.1,2130.3 308.9,2130.3 309.7,2130.3 310.5,2130.3 311.3,2130.2 312.1,2130.2 312.9,2130.2 313.7,2130.1 314.5,2130.1 315.3,2130.0 316.1,2129.9 316.9,2129.9 317.8,2129.8 318.6,2129.7 319.4,2129.7 320.2,2129.6 321.0,2129.5 321.8,2129.4 322.6,2129.2 323.4,2129.1 324.2,2129.0 325.0,2128.9 325.8,2128.9 326.6,2128.9 327.4,2129.0 328.2,2128.9 329.0,2128.9 329.8,2128.8 330.6,2128.8 331.4,2128.8 332.2,2128.8 333.0,2128.9 333.8,2129.0 334.6,2129.1 335.4,2129.1 336.2,2129.0 337.0,2128.9 337.8,2128.9 338.6,2128.7 339.4,2128.7 340.2,2128.4 341.0,2128.1 341.8,2127.6 342.6,2127.3 343.4,2126.9 344.2,2126.6 345.0,2126.0 345.8,2125.2 346.6,2124.5 347.4,2123.8 348.2,2123.4 349.0,2123.1 349.8,2122.6 350.6,2122.6 351.4,2122.3 352.2,2122.0 353.0,2121.6 353.8,2121.1 354.6,2121.7 355.5,2122.8 356.3,2123.5 357.1,2124.1 357.9,2124.5 358.7,2125.1 359.5,2125.3 360.3,2125.9 361.1,2126.3 361.9,2127.1 362.7,2127.6 363.5,2128.3 364.3,2128.5 365.1,2128.8 365.9,2129.1 366.7,2129.4 367.5,2129.7 368.3,2129.8 369.1,2130.0 369.9,2130.1 370.7,2130.1 371.5,2130.2 372.3,2130.2 373.1,2130.3 373.9,2130.3 373.9,2130.3Z" fill="#DE71F9" stroke="none" stroke-width="0"/>
<line x1="185.4" y1="2130.3" x2="373.9" y2="2130.3" stroke="#1a1a1a" stroke-width="1.1"/>
<path d="M185.4,2173.7 185.4,2173.7 186.2,2173.7 187.0,2173.7 187.8,2173.7 188.6,2173.7 189.4,2173.7 190.2,2173.7 191.0,2173.7 191.8,2173.7 192.6,2173.7 193.4,2173.7 194.2,2173.7 195.0,2173.7 195.8,2173.7 196.6,2173.7 197.4,2173.7 198.2,2173.7 199.0,2173.7 199.8,2173.7 200.6,2173.7 201.4,2173.7 202.2,2173.7 203.0,2173.7 203.8,2173.7 204.7,2173.6 205.5,2173.6 206.3,2173.6 207.1,2173.6 207.9,2173.6 208.7,2173.6 209.5,2173.6 210.3,2173.6 211.1,2173.6 211.9,2173.5 212.7,2173.5 213.5,2173.5 214.3,2173.4 215.1,2173.4 215.9,2173.4 216.7,2173.4 217.5,2173.3 218.3,2173.2 219.1,2173.2 219.9,2173.1 220.7,2173.1 221.5,2173.0 222.3,2172.9 223.1,2172.9 223.9,2172.8 224.7,2172.7 225.5,2172.6 226.3,2172.5 227.1,2172.4 227.9,2172.3 228.7,2172.2 229.5,2172.1 230.3,2172.0 231.1,2172.0 231.9,2172.0 232.7,2171.9 233.5,2171.9 234.3,2171.9 235.1,2171.9 235.9,2171.9 236.7,2171.9 237.5,2171.9 238.3,2171.9 239.1,2171.8 239.9,2171.7 240.7,2171.5 241.5,2171.6 242.4,2171.7 243.2,2171.8 244.0,2171.9 244.8,2171.9 245.6,2172.0 246.4,2172.1 247.2,2172.2 248.0,2172.2 248.8,2172.3 249.6,2172.4 250.4,2172.5 251.2,2172.5 252.0,2172.5 252.8,2172.5 253.6,2172.5 254.4,2172.4 255.2,2172.3 256.0,2172.3 256.8,2172.3 257.6,2172.3 258.4,2172.3 259.2,2172.2 260.0,2172.2 260.8,2172.2 261.6,2172.1 262.4,2172.2 263.2,2172.2 264.0,2172.3 264.8,2172.5 265.6,2172.6 266.4,2172.8 267.2,2172.9 268.0,2173.0 268.8,2173.1 269.6,2173.1 270.4,2173.2 271.2,2173.2 272.0,2173.3 272.8,2173.3 273.6,2173.3 274.4,2173.2 275.2,2173.2 276.0,2173.1 276.8,2173.0 277.6,2172.9 278.4,2172.8 279.2,2172.6 280.1,2172.5 280.9,2172.4 281.7,2172.2 282.5,2172.1 283.3,2172.0 284.1,2171.9 284.9,2171.7 285.7,2171.8 286.5,2171.7 287.3,2171.7 288.1,2171.7 288.9,2171.8 289.7,2171.9 290.5,2172.0 291.3,2172.1 292.1,2172.3 292.9,2172.4 293.7,2172.6 294.5,2172.7 295.3,2172.8 296.1,2172.9 296.9,2173.0 297.7,2173.2 298.5,2173.3 299.3,2173.4 300.1,2173.4 300.9,2173.5 301.7,2173.5 302.5,2173.6 303.3,2173.6 304.1,2173.6 304.9,2173.6 305.7,2173.6 306.5,2173.6 307.3,2173.6 308.1,2173.6 308.9,2173.6 309.7,2173.6 310.5,2173.6 311.3,2173.6 312.1,2173.5 312.9,2173.5 313.7,2173.5 314.5,2173.4 315.3,2173.4 316.1,2173.3 316.9,2173.2 317.8,2173.2 318.6,2173.1 319.4,2172.9 320.2,2172.8 321.0,2172.7 321.8,2172.6 322.6,2172.5 323.4,2172.5 324.2,2172.4 325.0,2172.3 325.8,2172.2 326.6,2172.1 327.4,2172.1 328.2,2172.1 329.0,2172.2 329.8,2172.3 330.6,2172.3 331.4,2172.2 332.2,2172.2 333.0,2172.3 333.8,2172.4 334.6,2172.5 335.4,2172.5 336.2,2172.5 337.0,2172.5 337.8,2172.4 338.6,2172.3 339.4,2172.0 340.2,2171.9 341.0,2171.8 341.8,2171.6 342.6,2171.2 343.4,2170.8 344.2,2170.3 345.0,2169.8 345.8,2169.2 346.6,2168.8 347.4,2168.3 348.2,2168.1 349.0,2167.7 349.8,2167.0 350.6,2166.8 351.4,2166.4 352.2,2166.2 353.0,2166.2 353.8,2166.2 354.6,2166.5 355.5,2167.0 356.3,2167.7 357.1,2168.1 357.9,2168.5 358.7,2169.3 359.5,2169.5 360.3,2170.0 361.1,2170.4 361.9,2171.0 362.7,2171.5 363.5,2172.0 364.3,2172.3 365.1,2172.6 365.9,2172.8 366.7,2173.0 367.5,2173.1 368.3,2173.2 369.1,2173.4 369.9,2173.5 370.7,2173.5 371.5,2173.6 372.3,2173.6 373.1,2173.6 373.9,2173.6 373.9,2173.7Z" fill="#F265E7" stroke="none" stroke-width="0"/>
<line x1="185.4" y1="2173.7" x2="373.9" y2="2173.7" stroke="#1a1a1a" stroke-width="1.1"/>
<path d="M185.4,2217.0 185.4,2217.0 186.2,2217.0 187.0,2217.0 187.8,2217.0 188.6,2217.0 189.4,2217.0 190.2,2217.0 191.0,2217.0 191.8,2217.0 192.6,2217.0 193.4,2217.0 194.2,2217.0 195.0,2217.0 195.8,2217.0 196.6,2217.0 197.4,2217.0 198.2,2217.0 199.0,2217.0 199.8,2217.0 200.6,2217.0 201.4,2217.0 202.2,2217.0 203.0,2217.0 203.8,2217.0 204.7,2217.0 205.5,2217.0 206.3,2217.0 207.1,2217.0 207.9,2217.0 208.7,2217.0 209.5,2217.0 210.3,2217.0 211.1,2217.0 211.9,2217.0 212.7,2217.0 213.5,2217.0 214.3,2217.0 215.1,2217.0 215.9,2217.0 216.7,2217.0 217.5,2217.0 218.3,2217.0 219.1,2217.0 219.9,2217.0 220.7,2216.9 221.5,2216.9 222.3,2216.9 223.1,2216.9 223.9,2216.8 224.7,2216.8 225.5,2216.8 226.3,2216.7 227.1,2216.7 227.9,2216.6 228.7,2216.5 229.5,2216.5 230.3,2216.4 231.1,2216.4 231.9,2216.3 232.7,2216.3 233.5,2216.2 234.3,2216.2 235.1,2216.1 235.9,2216.1 236.7,2216.0 237.5,2216.0 238.3,2215.9 239.1,2215.9 239.9,2216.0 240.7,2216.0 241.5,2216.1 242.4,2216.2 243.2,2216.2 244.0,2216.3 244.8,2216.3 245.6,2216.3 246.4,2216.4 247.2,2216.5 248.0,2216.6 248.8,2216.6 249.6,2216.7 250.4,2216.7 251.2,2216.8 252.0,2216.8 252.8,2216.8 253.6,2216.9 254.4,2216.9 255.2,2216.9 256.0,2216.9 256.8,2217.0 257.6,2217.0 258.4,2217.0 259.2,2217.0 260.0,2217.0 260.8,2217.0 261.6,2217.0 262.4,2217.0 263.2,2217.0 264.0,2217.0 264.8,2217.0 265.6,2217.0 266.4,2217.0 267.2,2217.0 268.0,2217.0 268.8,2217.0 269.6,2216.9 270.4,2216.9 271.2,2216.9 272.0,2216.9 272.8,2216.8 273.6,2216.8 274.4,2216.7 275.2,2216.7 276.0,2216.6 276.8,2216.5 277.6,2216.4 278.4,2216.3 279.2,2216.2 280.1,2216.0 280.9,2216.0 281.7,2215.8 282.5,2215.8 283.3,2215.7 284.1,2215.7 284.9,2215.6 285.7,2215.6 286.5,2215.5 287.3,2215.5 288.1,2215.5 288.9,2215.5 289.7,2215.7 290.5,2215.7 291.3,2215.8 292.1,2216.0 292.9,2216.1 293.7,2216.2 294.5,2216.3 295.3,2216.4 296.1,2216.5 296.9,2216.5 297.7,2216.6 298.5,2216.7 299.3,2216.8 300.1,2216.8 300.9,2216.8 301.7,2216.9 302.5,2216.9 303.3,2216.9 304.1,2217.0 304.9,2217.0 305.7,2217.0 306.5,2217.0 307.3,2217.0 308.1,2217.0 308.9,2217.0 309.7,2217.0 310.5,2216.9 311.3,2216.9 312.1,2216.9 312.9,2216.9 313.7,2216.9 314.5,2216.8 315.3,2216.8 316.1,2216.7 316.9,2216.7 317.8,2216.6 318.6,2216.6 319.4,2216.6 320.2,2216.5 321.0,2216.4 321.8,2216.4 322.6,2216.3 323.4,2216.2 324.2,2216.2 325.0,2216.1 325.8,2216.0 326.6,2216.0 327.4,2215.9 328.2,2216.0 329.0,2216.0 329.8,2216.1 330.6,2216.0 331.4,2216.0 332.2,2216.0 333.0,2216.0 333.8,2216.0 334.6,2216.1 335.4,2216.1 336.2,2216.1 337.0,2216.2 337.8,2216.1 338.6,2216.0 339.4,2215.8 340.2,2215.7 341.0,2215.5 341.8,2215.3 342.6,2215.0 343.4,2214.7 344.2,2214.4 345.0,2213.9 345.8,2213.3 346.6,2212.6 347.4,2212.4 348.2,2212.2 349.0,2212.1 349.8,2211.7 350.6,2211.5 351.4,2211.3 352.2,2210.9 353.0,2210.9 353.8,2210.8 354.6,2211.2 355.5,2211.3 356.3,2211.8 357.1,2211.9 357.9,2212.5 358.7,2212.8 359.5,2213.2 360.3,2213.7 361.1,2214.1 361.9,2214.6 362.7,2215.1 363.5,2215.5 364.3,2215.8 365.1,2216.0 365.9,2216.3 366.7,2216.4 367.5,2216.5 368.3,2216.6 369.1,2216.7 369.9,2216.8 370.7,2216.9 371.5,2216.9 372.3,2216.9 373.1,2217.0 373.9,2217.0 373.9,2217.0Z" fill="#FE61CF" stroke="none" stroke-width="0"/>
<line x1="185.4" y1="2217.0" x2="373.9" y2="2217.0" stroke="#777" stroke-width="1.1"/>
<path d="M185.4,2260.3 185.4,2260.3 186.2,2260.3 187.0,2260.3 187.8,2260.3 188.6,2260.3 189.4,2260.3 190.2,2260.3 191.0,2260.3 191.8,2260.3 192.6,2260.3 193.4,2260.3 194.2,2260.3 195.0,2260.3 195.8,2260.3 196.6,2260.3 197.4,2260.3 198.2,2260.3 199.0,2260.3 199.8,2260.3 200.6,2260.3 201.4,2260.3 202.2,2260.3 203.0,2260.3 203.8,2260.3 204.7,2260.3 205.5,2260.3 206.3,2260.3 207.1,2260.3 207.9,2260.3 208.7,2260.3 209.5,2260.2 210.3,2260.2 211.1,2260.2 211.9,2260.1 212.7,2260.0 213.5,2259.9 214.3,2259.9 215.1,2259.8 215.9,2259.6 216.7,2259.5 217.5,2259.4 218.3,2259.3 219.1,2259.1 219.9,2259.0 220.7,2259.0 221.5,2259.0 222.3,2258.9 223.1,2258.9 223.9,2258.9 224.7,2258.9 225.5,2258.9 226.3,2258.9 227.1,2259.1 227.9,2259.2 228.7,2259.4 229.5,2259.5 230.3,2259.7 231.1,2259.8 231.9,2259.9 232.7,2260.0 233.5,2260.1 234.3,2260.1 235.1,2260.2 235.9,2260.2 236.7,2260.2 237.5,2260.3 238.3,2260.3 239.1,2260.3 239.9,2260.3 240.7,2260.3 241.5,2260.3 242.4,2260.3 243.2,2260.3 244.0,2260.3 244.8,2260.3 245.6,2260.3 246.4,2260.3 247.2,2260.3 248.0,2260.3 248.8,2260.3 249.6,2260.3 250.4,2260.3 251.2,2260.3 252.0,2260.2 252.8,2260.2 253.6,2260.2 254.4,2260.1 255.2,2260.1 256.0,2260.0 256.8,2259.9 257.6,2259.9 258.4,2259.8 259.2,2259.7 260.0,2259.6 260.8,2259.5 261.6,2259.3 262.4,2259.2 263.2,2259.1 264.0,2258.9 264.8,2258.7 265.6,2258.6 266.4,2258.4 267.2,2258.3 268.0,2258.4 268.8,2258.4 269.6,2258.6 270.4,2258.5 271.2,2258.5 272.0,2258.6 272.8,2258.5 273.6,2258.5 274.4,2258.5 275.2,2258.7 276.0,2258.9 276.8,2259.1 277.6,2259.2 278.4,2259.3 279.2,2259.3 280.1,2259.4 280.9,2259.4 281.7,2259.5 282.5,2259.5 283.3,2259.5 284.1,2259.5 284.9,2259.4 285.7,2259.3 286.5,2259.2 287.3,2258.9 288.1,2258.7 288.9,2258.4 289.7,2258.2 290.5,2257.9 291.3,2257.7 292.1,2257.6 292.9,2257.7 293.7,2257.7 294.5,2257.4 295.3,2257.3 296.1,2257.3 296.9,2257.5 297.7,2257.7 298.5,2258.0 299.3,2258.2 300.1,2258.4 300.9,2258.6 301.7,2258.8 302.5,2259.0 303.3,2259.2 304.1,2259.3 304.9,2259.3 305.7,2259.4 306.5,2259.4 307.3,2259.3 308.1,2259.2 308.9,2259.2 309.7,2259.1 310.5,2259.0 311.3,2258.8 312.1,2258.7 312.9,2258.6 313.7,2258.5 314.5,2258.5 315.3,2258.5 316.1,2258.5 316.9,2258.6 317.8,2258.6 318.6,2258.7 319.4,2258.7 320.2,2258.8 321.0,2259.0 321.8,2259.2 322.6,2259.3 323.4,2259.5 324.2,2259.7 325.0,2259.8 325.8,2260.0 326.6,2260.0 327.4,2260.1 328.2,2260.2 329.0,2260.2 329.8,2260.2 330.6,2260.3 331.4,2260.3 332.2,2260.3 333.0,2260.3 333.8,2260.3 334.6,2260.3 335.4,2260.3 336.2,2260.3 337.0,2260.3 337.8,2260.3 338.6,2260.3 339.4,2260.3 340.2,2260.3 341.0,2260.3 341.8,2260.3 342.6,2260.3 343.4,2260.3 344.2,2260.3 345.0,2260.3 345.8,2260.3 346.6,2260.3 347.4,2260.3 348.2,2260.3 349.0,2260.3 349.8,2260.3 350.6,2260.3 351.4,2260.3 352.2,2260.3 353.0,2260.3 353.8,2260.3 354.6,2260.3 355.5,2260.3 356.3,2260.3 357.1,2260.3 357.9,2260.3 358.7,2260.3 359.5,2260.3 360.3,2260.3 361.1,2260.3 361.9,2260.3 362.7,2260.3 363.5,2260.3 364.3,2260.3 365.1,2260.3 365.9,2260.3 366.7,2260.3 367.5,2260.3 368.3,2260.3 369.1,2260.3 369.9,2260.3 370.7,2260.3 371.5,2260.3 372.3,2260.3 373.1,2260.3 373.9,2260.3 373.9,2260.3Z" fill="#FF64B3" stroke="none" stroke-width="0"/>
<line x1="185.4" y1="2260.3" x2="373.9" y2="2260.3" stroke="#777" stroke-width="1.1"/>
<path d="M185.4,2303.7 185.4,2303.6 186.2,2303.6 187.0,2303.6 187.8,2303.5 188.6,2303.5 189.4,2303.4 190.2,2303.2 191.0,2303.0 191.8,2302.8 192.6,2302.5 193.4,2302.2 194.2,2302.0 195.0,2301.7 195.8,2301.6 196.6,2301.5 197.4,2301.6 198.2,2301.7 199.0,2302.0 199.8,2302.3 200.6,2302.5 201.4,2302.7 202.2,2302.9 203.0,2303.1 203.8,2303.3 204.7,2303.4 205.5,2303.5 206.3,2303.6 207.1,2303.6 207.9,2303.6 208.7,2303.6 209.5,2303.7 210.3,2303.7 211.1,2303.7 211.9,2303.7 212.7,2303.7 213.5,2303.7 214.3,2303.7 215.1,2303.7 215.9,2303.7 216.7,2303.7 217.5,2303.7 218.3,2303.7 219.1,2303.7 219.9,2303.7 220.7,2303.7 221.5,2303.7 222.3,2303.7 223.1,2303.7 223.9,2303.7 224.7,2303.7 225.5,2303.7 226.3,2303.7 227.1,2303.7 227.9,2303.7 228.7,2303.7 229.5,2303.7 230.3,2303.6 231.1,2303.6 231.9,2303.6 232.7,2303.6 233.5,2303.5 234.3,2303.4 235.1,2303.2 235.9,2303.0 236.7,2302.8 237.5,2302.6 238.3,2302.4 239.1,2302.2 239.9,2301.9 240.7,2301.8 241.5,2301.7 242.4,2301.8 243.2,2301.9 244.0,2302.0 244.8,2302.2 245.6,2302.4 246.4,2302.7 247.2,2302.9 248.0,2303.1 248.8,2303.3 249.6,2303.4 250.4,2303.5 251.2,2303.6 252.0,2303.6 252.8,2303.6 253.6,2303.6 254.4,2303.7 255.2,2303.7 256.0,2303.7 256.8,2303.7 257.6,2303.7 258.4,2303.7 259.2,2303.7 260.0,2303.7 260.8,2303.7 261.6,2303.7 262.4,2303.7 263.2,2303.7 264.0,2303.7 264.8,2303.7 265.6,2303.7 266.4,2303.7 267.2,2303.7 268.0,2303.7 268.8,2303.7 269.6,2303.7 270.4,2303.7 271.2,2303.7 272.0,2303.7 272.8,2303.7 273.6,2303.7 274.4,2303.7 275.2,2303.7 276.0,2303.7 276.8,2303.7 277.6,2303.7 278.4,2303.7 279.2,2303.7 280.1,2303.7 280.9,2303.7 281.7,2303.7 282.5,2303.7 283.3,2303.7 284.1,2303.7 284.9,2303.7 285.7,2303.7 286.5,2303.7 287.3,2303.7 288.1,2303.7 288.9,2303.7 289.7,2303.7 290.5,2303.7 291.3,2303.7 292.1,2303.7 292.9,2303.7 293.7,2303.7 294.5,2303.7 295.3,2303.7 296.1,2303.7 296.9,2303.7 297.7,2303.7 298.5,2303.7 299.3,2303.7 300.1,2303.7 300.9,2303.7 301.7,2303.6 302.5,2303.6 303.3,2303.6 304.1,2303.6 304.9,2303.6 305.7,2303.5 306.5,2303.4 307.3,2303.3 308.1,2303.1 308.9,2302.9 309.7,2302.8 310.5,2302.7 311.3,2302.5 312.1,2302.3 312.9,2302.2 313.7,2302.1 314.5,2302.1 315.3,2302.2 316.1,2302.4 316.9,2302.6 317.8,2302.8 318.6,2303.0 319.4,2303.2 320.2,2303.3 321.0,2303.4 321.8,2303.5 322.6,2303.6 323.4,2303.6 324.2,2303.6 325.0,2303.6 325.8,2303.7 326.6,2303.7 327.4,2303.7 328.2,2303.7 329.0,2303.7 329.8,2303.7 330.6,2303.7 331.4,2303.7 332.2,2303.7 333.0,2303.7 333.8,2303.7 334.6,2303.7 335.4,2303.6 336.2,2303.6 337.0,2303.6 337.8,2303.6 338.6,2303.5 339.4,2303.5 340.2,2303.4 341.0,2303.2 341.8,2303.1 342.6,2302.8 343.4,2302.5 344.2,2302.2 345.0,2301.9 345.8,2301.8 346.6,2301.6 347.4,2301.5 348.2,2301.5 349.0,2301.7 349.8,2302.0 350.6,2302.3 351.4,2302.6 352.2,2302.8 353.0,2303.0 353.8,2303.2 354.6,2303.3 355.5,2303.5 356.3,2303.5 357.1,2303.6 357.9,2303.6 358.7,2303.6 359.5,2303.6 360.3,2303.7 361.1,2303.7 361.9,2303.7 362.7,2303.7 363.5,2303.7 364.3,2303.7 365.1,2303.7 365.9,2303.7 366.7,2303.7 367.5,2303.7 368.3,2303.7 369.1,2303.7 369.9,2303.7 370.7,2303.7 371.5,2303.7 372.3,2303.7 373.1,2303.7 373.9,2303.7 373.9,2303.7Z" fill="#FF6C92" stroke="none" stroke-width="0"/>
<line x1="185.4" y1="2303.7" x2="373.9" y2="2303.7" stroke="#1a1a1a" stroke-width="1.1"/>
<rect x="273.90" y="1312.20" width="4.90" height="1009.40" fill="#808080" stroke="none" stroke-width="0" opacity="0.6" style="mix-blend-mode:saturation"/>
<rect x="273.90" y="1312.20" width="4.90" height="1009.40" fill="#d2aad2" stroke="none" stroke-width="0" fill-opacity="0.25"/>
<line x1="453.2" y1="1350.6" x2="516.8" y2="1350.6" stroke="#1a1a1a" stroke-width="1.1"/>
<line x1="453.2" y1="1393.9" x2="516.8" y2="1393.9" stroke="#1a1a1a" stroke-width="1.1"/>
<line x1="453.2" y1="1437.2" x2="516.8" y2="1437.2" stroke="#1a1a1a" stroke-width="1.1"/>
<path d="M453.2,1480.5 453.2,1480.1 454.0,1480.0 454.8,1480.0 455.6,1479.9 456.4,1479.9 457.2,1479.9 458.0,1479.9 458.8,1479.9 459.6,1479.9 460.4,1479.9 461.3,1479.8 462.1,1479.8 462.9,1479.7 463.7,1479.8 464.5,1479.7 465.3,1479.8 466.1,1479.7 466.9,1479.7 467.7,1479.7 468.5,1479.7 469.3,1479.7 470.1,1479.7 470.9,1479.7 471.7,1479.7 472.5,1479.7 473.3,1479.7 474.1,1479.7 474.9,1479.7 475.7,1479.7 476.5,1479.7 477.4,1479.7 478.2,1479.8 479.0,1479.8 479.8,1479.8 480.6,1479.8 481.4,1479.8 482.2,1479.7 483.0,1479.8 483.8,1479.9 484.6,1479.9 485.4,1479.9 486.2,1479.9 487.0,1479.9 487.8,1479.9 488.6,1479.9 489.4,1479.9 490.2,1480.0 491.0,1480.0 491.8,1480.0 492.6,1480.1 493.5,1480.1 494.3,1480.1 495.1,1480.1 495.9,1480.1 496.7,1480.2 497.5,1480.2 498.3,1480.2 499.1,1480.2 499.9,1480.2 500.7,1480.2 501.5,1480.2 502.3,1480.3 503.1,1480.3 503.9,1480.3 504.7,1480.3 505.5,1480.3 506.3,1480.3 507.1,1480.4 507.9,1480.4 508.7,1480.4 509.6,1480.4 510.4,1480.4 511.2,1480.4 512.0,1480.4 512.8,1480.4 513.6,1480.4 514.4,1480.4 515.2,1480.4 516.0,1480.4 516.8,1480.4 516.8,1480.5Z" fill="#CA9700" stroke="none" stroke-width="0"/>
<line x1="453.2" y1="1480.5" x2="516.8" y2="1480.5" stroke="#777" stroke-width="1.1"/>
<path d="M453.2,1523.8 453.2,1523.8 454.0,1523.8 454.8,1523.8 455.6,1523.8 456.4,1523.8 457.2,1523.8 458.0,1523.7 458.8,1523.7 459.6,1523.7 460.4,1523.7 461.3,1523.6 462.1,1523.6 462.9,1523.5 463.7,1523.5 464.5,1523.4 465.3,1523.3 466.1,1523.3 466.9,1523.1 467.7,1523.0 468.5,1523.0 469.3,1523.0 470.1,1522.9 470.9,1522.8 471.7,1522.7 472.5,1522.6 473.3,1522.6 474.1,1522.6 474.9,1522.7 475.7,1522.6 476.5,1522.6 477.4,1522.6 478.2,1522.5 479.0,1522.4 479.8,1522.4 480.6,1522.4 481.4,1522.3 482.2,1522.3 483.0,1522.3 483.8,1522.3 484.6,1522.4 485.4,1522.4 486.2,1522.4 487.0,1522.5 487.8,1522.6 488.6,1522.7 489.4,1522.8 490.2,1522.9 491.0,1523.0 491.8,1523.0 492.6,1523.1 493.5,1523.2 494.3,1523.2 495.1,1523.3 495.9,1523.4 496.7,1523.4 497.5,1523.5 498.3,1523.6 499.1,1523.6 499.9,1523.6 500.7,1523.7 501.5,1523.7 502.3,1523.7 503.1,1523.7 503.9,1523.7 504.7,1523.8 505.5,1523.8 506.3,1523.8 507.1,1523.8 507.9,1523.8 508.7,1523.8 509.6,1523.8 510.4,1523.8 511.2,1523.8 512.0,1523.8 512.8,1523.8 513.6,1523.8 514.4,1523.8 515.2,1523.8 516.0,1523.8 516.8,1523.8 516.8,1523.8Z" fill="#B3A000" stroke="none" stroke-width="0"/>
<line x1="453.2" y1="1523.8" x2="516.8" y2="1523.8" stroke="#1a1a1a" stroke-width="1.1"/>
<path d="M453.2,1567.1 453.2,1567.1 454.0,1567.1 454.8,1567.1 455.6,1567.1 456.4,1567.1 457.2,1567.1 458.0,1567.1 458.8,1567.1 459.6,1567.1 460.4,1567.1 461.3,1567.1 462.1,1567.1 462.9,1567.1 463.7,1567.1 464.5,1567.1 465.3,1567.1 466.1,1567.1 466.9,1567.1 467.7,1567.1 468.5,1567.1 469.3,1567.1 470.1,1567.0 470.9,1567.0 471.7,1567.0 472.5,1566.9 473.3,1566.9 474.1,1566.8 474.9,1566.7 475.7,1566.5 476.5,1566.4 477.4,1566.3 478.2,1566.1 479.0,1565.8 479.8,1565.5 480.6,1565.4 481.4,1565.1 482.2,1564.9 483.0,1564.8 483.8,1564.7 484.6,1564.6 485.4,1564.2 486.2,1564.1 487.0,1563.9 487.8,1564.0 488.6,1564.2 489.4,1564.3 490.2,1564.3 491.0,1564.4 491.8,1564.6 492.6,1564.8 493.5,1565.2 494.3,1565.6 495.1,1565.7 495.9,1565.9 496.7,1566.0 497.5,1566.1 498.3,1566.2 499.1,1566.2 499.9,1566.2 500.7,1566.2 501.5,1566.1 502.3,1566.1 503.1,1566.0 503.9,1566.0 504.7,1566.1 505.5,1566.2 506.3,1566.3 507.1,1566.4 507.9,1566.5 508.7,1566.6 509.6,1566.6 510.4,1566.5 511.2,1566.4 512.0,1566.2 512.8,1566.1 513.6,1566.1 514.4,1566.1 515.2,1566.3 516.0,1566.4 516.8,1566.6 516.8,1567.1Z" fill="#97A900" stroke="none" stroke-width="0"/>
<line x1="453.2" y1="1567.1" x2="516.8" y2="1567.1" stroke="#1a1a1a" stroke-width="1.1"/>
<path d="M453.2,1610.4 453.2,1610.4 454.0,1610.4 454.8,1610.4 455.6,1610.4 456.4,1610.4 457.2,1610.4 458.0,1610.4 458.8,1610.4 459.6,1610.4 460.4,1610.4 461.3,1610.4 462.1,1610.4 462.9,1610.4 463.7,1610.4 464.5,1610.4 465.3,1610.4 466.1,1610.4 466.9,1610.4 467.7,1610.4 468.5,1610.4 469.3,1610.4 470.1,1610.4 470.9,1610.4 471.7,1610.4 472.5,1610.4 473.3,1610.4 474.1,1610.4 474.9,1610.4 475.7,1610.4 476.5,1610.4 477.4,1610.4 478.2,1610.4 479.0,1610.4 479.8,1610.4 480.6,1610.4 481.4,1610.4 482.2,1610.4 483.0,1610.4 483.8,1610.4 484.6,1610.4 485.4,1610.4 486.2,1610.4 487.0,1610.4 487.8,1610.4 488.6,1610.4 489.4,1610.4 490.2,1610.4 491.0,1610.4 491.8,1610.4 492.6,1610.3 493.5,1610.3 494.3,1610.2 495.1,1610.2 495.9,1610.1 496.7,1610.0 497.5,1609.8 498.3,1609.7 499.1,1609.6 499.9,1609.5 500.7,1609.4 501.5,1609.3 502.3,1609.4 503.1,1609.5 503.9,1609.6 504.7,1609.7 505.5,1609.8 506.3,1610.0 507.1,1610.1 507.9,1610.1 508.7,1610.1 509.6,1610.1 510.4,1610.0 511.2,1609.8 512.0,1609.7 512.8,1609.6 513.6,1609.6 514.4,1609.6 515.2,1609.7 516.0,1609.9 516.8,1610.0 516.8,1610.4Z" fill="#71B000" stroke="none" stroke-width="0"/>
<line x1="453.2" y1="1610.4" x2="516.8" y2="1610.4" stroke="#1a1a1a" stroke-width="1.1"/>
<path d="M453.2,1653.7 453.2,1653.7 454.0,1653.7 454.8,1653.7 455.6,1653.7 456.4,1653.7 457.2,1653.7 458.0,1653.7 458.8,1653.7 459.6,1653.7 460.4,1653.7 461.3,1653.7 462.1,1653.7 462.9,1653.7 463.7,1653.7 464.5,1653.7 465.3,1653.7 466.1,1653.7 466.9,1653.7 467.7,1653.7 468.5,1653.7 469.3,1653.7 470.1,1653.7 470.9,1653.7 471.7,1653.7 472.5,1653.7 473.3,1653.7 474.1,1653.7 474.9,1653.7 475.7,1653.7 476.5,1653.7 477.4,1653.7 478.2,1653.7 479.0,1653.7 479.8,1653.7 480.6,1653.7 481.4,1653.7 482.2,1653.7 483.0,1653.7 483.8,1653.7 484.6,1653.7 485.4,1653.7 486.2,1653.7 487.0,1653.7 487.8,1653.7 488.6,1653.7 489.4,1653.6 490.2,1653.6 491.0,1653.5 491.8,1653.4 492.6,1653.3 493.5,1653.2 494.3,1652.9 495.1,1652.6 495.9,1652.3 496.7,1652.0 497.5,1651.6 498.3,1651.3 499.1,1650.9 499.9,1650.3 500.7,1649.8 501.5,1649.6 502.3,1649.5 503.1,1649.7 503.9,1649.8 504.7,1650.3 505.5,1650.7 506.3,1651.2 507.1,1651.6 507.9,1651.9 508.7,1652.3 509.6,1652.6 510.4,1652.9 511.2,1653.1 512.0,1653.3 512.8,1653.5 513.6,1653.6 514.4,1653.6 515.2,1653.6 516.0,1653.7 516.8,1653.7 516.8,1653.7Z" fill="#2FB600" stroke="none" stroke-width="0"/>
<line x1="453.2" y1="1653.7" x2="516.8" y2="1653.7" stroke="#888" stroke-width="1.1"/>
<path d="M453.2,1697.0 453.2,1696.3 454.0,1696.2 454.8,1696.1 455.6,1696.0 456.4,1695.9 457.2,1695.9 458.0,1695.9 458.8,1695.8 459.6,1695.7 460.4,1695.7 461.3,1695.7 462.1,1695.8 462.9,1695.9 463.7,1695.8 464.5,1695.8 465.3,1695.8 466.1,1695.8 466.9,1695.8 467.7,1695.7 468.5,1695.7 469.3,1695.7 470.1,1695.6 470.9,1695.4 471.7,1695.2 472.5,1694.8 473.3,1694.4 474.1,1694.1 474.9,1693.5 475.7,1693.3 476.5,1692.8 477.4,1692.5 478.2,1692.1 479.0,1691.5 479.8,1691.2 480.6,1691.0 481.4,1690.4 482.2,1690.2 483.0,1689.1 483.8,1688.3 484.6,1687.6 485.4,1687.7 486.2,1688.1 487.0,1687.9 487.8,1687.9 488.6,1687.4 489.4,1687.0 490.2,1687.6 491.0,1687.9 491.8,1688.2 492.6,1688.8 493.5,1689.5 494.3,1690.3 495.1,1690.5 495.9,1690.9 496.7,1691.2 497.5,1691.6 498.3,1692.2 499.1,1692.6 499.9,1693.0 500.7,1693.5 501.5,1693.9 502.3,1694.3 503.1,1694.8 503.9,1695.2 504.7,1695.4 505.5,1695.6 506.3,1695.8 507.1,1696.0 507.9,1696.2 508.7,1696.4 509.6,1696.5 510.4,1696.6 511.2,1696.7 512.0,1696.7 512.8,1696.8 513.6,1696.8 514.4,1696.9 515.2,1696.9 516.0,1696.9 516.8,1696.9 516.8,1697.0Z" fill="#00BB4B" stroke="none" stroke-width="0"/>
<line x1="453.2" y1="1697.0" x2="516.8" y2="1697.0" stroke="#777" stroke-width="1.1"/>
<path d="M453.2,1740.3 453.2,1739.1 454.0,1739.0 454.8,1738.9 455.6,1738.8 456.4,1738.6 457.2,1738.4 458.0,1738.2 458.8,1738.2 459.6,1738.3 460.4,1738.4 461.3,1738.4 462.1,1738.5 462.9,1738.5 463.7,1738.7 464.5,1738.8 465.3,1739.0 466.1,1739.0 466.9,1739.1 467.7,1739.2 468.5,1739.1 469.3,1739.0 470.1,1738.9 470.9,1738.6 471.7,1738.2 472.5,1737.7 473.3,1737.2 474.1,1736.6 474.9,1735.8 475.7,1734.9 476.5,1733.7 477.4,1732.6 478.2,1731.4 479.0,1729.6 479.8,1728.5 480.6,1726.7 481.4,1724.6 482.2,1722.6 483.0,1721.3 483.8,1720.0 484.6,1719.7 485.4,1720.0 486.2,1720.3 487.0,1719.9 487.8,1721.0 488.6,1721.0 489.4,1722.0 490.2,1722.4 491.0,1722.7 491.8,1723.1 492.6,1723.6 493.5,1724.8 494.3,1725.0 495.1,1725.5 495.9,1725.2 496.7,1725.3 497.5,1725.1 498.3,1724.8 499.1,1725.2 499.9,1725.9 500.7,1726.9 501.5,1727.9 502.3,1729.0 503.1,1730.7 503.9,1732.0 504.7,1733.1 505.5,1734.1 506.3,1735.3 507.1,1736.5 507.9,1737.5 508.7,1738.3 509.6,1738.9 510.4,1739.4 511.2,1739.7 512.0,1739.9 512.8,1740.1 513.6,1740.2 514.4,1740.2 515.2,1740.3 516.0,1740.3 516.8,1740.3 516.8,1740.3Z" fill="#00BF76" stroke="none" stroke-width="0"/>
<line x1="453.2" y1="1740.3" x2="516.8" y2="1740.3" stroke="#1a1a1a" stroke-width="1.1"/>
<path d="M453.2,1783.6 453.2,1782.7 454.0,1782.6 454.8,1782.5 455.6,1782.3 456.4,1782.2 457.2,1782.2 458.0,1782.0 458.8,1782.1 459.6,1782.1 460.4,1782.1 461.3,1782.2 462.1,1782.3 462.9,1782.3 463.7,1782.4 464.5,1782.5 465.3,1782.6 466.1,1782.7 466.9,1782.7 467.7,1782.8 468.5,1782.8 469.3,1782.8 470.1,1782.8 470.9,1782.7 471.7,1782.6 472.5,1782.5 473.3,1782.3 474.1,1781.9 474.9,1781.6 475.7,1781.2 476.5,1780.7 477.4,1780.3 478.2,1779.5 479.0,1778.8 479.8,1777.9 480.6,1777.5 481.4,1777.0 482.2,1776.7 483.0,1775.8 483.8,1775.1 484.6,1774.7 485.4,1773.8 486.2,1773.0 487.0,1772.2 487.8,1771.6 488.6,1771.1 489.4,1770.1 490.2,1770.6 491.0,1770.8 491.8,1770.5 492.6,1770.5 493.5,1770.2 494.3,1770.0 495.1,1770.4 495.9,1771.3 496.7,1772.0 497.5,1772.4 498.3,1773.4 499.1,1774.0 499.9,1774.9 500.7,1776.1 501.5,1777.2 502.3,1777.9 503.1,1778.2 503.9,1778.7 504.7,1779.6 505.5,1780.4 506.3,1781.1 507.1,1781.3 507.9,1781.7 508.7,1782.0 509.6,1782.3 510.4,1782.6 511.2,1782.7 512.0,1783.0 512.8,1783.1 513.6,1783.2 514.4,1783.3 515.2,1783.4 516.0,1783.4 516.8,1783.5 516.8,1783.6Z" fill="#00C098" stroke="none" stroke-width="0"/>
<line x1="453.2" y1="1783.6" x2="516.8" y2="1783.6" stroke="#1a1a1a" stroke-width="1.1"/>
<path d="M453.2,1826.9 453.2,1826.0 454.0,1825.8 454.8,1825.7 455.6,1825.6 456.4,1825.6 457.2,1825.6 458.0,1825.6 458.8,1825.5 459.6,1825.4 460.4,1825.3 461.3,1825.4 462.1,1825.5 462.9,1825.5 463.7,1825.6 464.5,1825.7 465.3,1825.7 466.1,1825.8 466.9,1825.8 467.7,1825.8 468.5,1825.9 469.3,1825.9 470.1,1825.9 470.9,1825.7 471.7,1825.5 472.5,1825.2 473.3,1824.9 474.1,1824.5 474.9,1824.1 475.7,1823.7 476.5,1823.4 477.4,1823.0 478.2,1822.0 479.0,1821.1 479.8,1820.2 480.6,1819.6 481.4,1819.0 482.2,1818.3 483.0,1817.1 483.8,1816.4 484.6,1815.7 485.4,1815.2 486.2,1814.9 487.0,1814.6 487.8,1814.7 488.6,1814.6 489.4,1814.9 490.2,1815.2 491.0,1815.9 491.8,1816.5 492.6,1816.9 493.5,1817.0 494.3,1817.5 495.1,1818.8 495.9,1819.9 496.7,1821.0 497.5,1821.7 498.3,1822.4 499.1,1822.9 499.9,1823.5 500.7,1823.8 501.5,1824.2 502.3,1824.8 503.1,1825.1 503.9,1825.5 504.7,1825.7 505.5,1826.0 506.3,1826.1 507.1,1826.3 507.9,1826.5 508.7,1826.6 509.6,1826.7 510.4,1826.7 511.2,1826.8 512.0,1826.8 512.8,1826.8 513.6,1826.8 514.4,1826.9 515.2,1826.9 516.0,1826.9 516.8,1826.9 516.8,1826.9Z" fill="#00C0B7" stroke="none" stroke-width="0"/>
<line x1="453.2" y1="1826.9" x2="516.8" y2="1826.9" stroke="#1a1a1a" stroke-width="1.1"/>
<path d="M453.2,1870.2 453.2,1870.2 454.0,1870.2 454.8,1870.2 455.6,1870.2 456.4,1870.2 457.2,1870.2 458.0,1870.2 458.8,1870.2 459.6,1870.2 460.4,1870.2 461.3,1870.2 462.1,1870.1 462.9,1870.1 463.7,1870.1 464.5,1870.1 465.3,1870.1 466.1,1870.0 466.9,1870.0 467.7,1869.9 468.5,1869.8 469.3,1869.7 470.1,1869.6 470.9,1869.4 471.7,1869.3 472.5,1869.1 473.3,1869.0 474.1,1868.8 474.9,1868.6 475.7,1868.4 476.5,1868.2 477.4,1867.8 478.2,1867.8 479.0,1867.5 479.8,1867.5 480.6,1867.3 481.4,1867.1 482.2,1866.9 483.0,1866.8 483.8,1866.5 484.6,1866.5 485.4,1866.5 486.2,1866.5 487.0,1866.5 487.8,1866.5 488.6,1866.2 489.4,1866.4 490.2,1866.6 491.0,1866.9 491.8,1867.3 492.6,1867.3 493.5,1867.6 494.3,1867.7 495.1,1868.0 495.9,1868.3 496.7,1868.6 497.5,1868.7 498.3,1868.9 499.1,1869.1 499.9,1869.2 500.7,1869.3 501.5,1869.5 502.3,1869.6 503.1,1869.7 503.9,1869.8 504.7,1869.9 505.5,1869.9 506.3,1870.0 507.1,1870.0 507.9,1870.1 508.7,1870.1 509.6,1870.1 510.4,1870.1 511.2,1870.2 512.0,1870.2 512.8,1870.2 513.6,1870.2 514.4,1870.2 515.2,1870.2 516.0,1870.2 516.8,1870.2 516.8,1870.2Z" fill="#00BDD1" stroke="none" stroke-width="0"/>
<line x1="453.2" y1="1870.2" x2="516.8" y2="1870.2" stroke="#1a1a1a" stroke-width="1.1"/>
<path d="M453.2,1913.5 453.2,1912.7 454.0,1912.5 454.8,1912.4 455.6,1912.3 456.4,1912.3 457.2,1912.2 458.0,1912.2 458.8,1912.1 459.6,1912.1 460.4,1912.1 461.3,1912.1 462.1,1912.1 462.9,1912.2 463.7,1912.2 464.5,1912.4 465.3,1912.4 466.1,1912.5 466.9,1912.6 467.7,1912.6 468.5,1912.7 469.3,1912.7 470.1,1912.6 470.9,1912.6 471.7,1912.5 472.5,1912.3 473.3,1912.1 474.1,1911.8 474.9,1911.5 475.7,1911.0 476.5,1910.4 477.4,1909.8 478.2,1909.0 479.0,1908.3 479.8,1907.6 480.6,1906.5 481.4,1905.6 482.2,1904.4 483.0,1903.2 483.8,1902.3 484.6,1901.7 485.4,1900.9 486.2,1899.7 487.0,1899.3 487.8,1899.3 488.6,1898.3 489.4,1898.6 490.2,1898.8 491.0,1899.4 491.8,1899.5 492.6,1899.8 493.5,1900.0 494.3,1899.7 495.1,1901.1 495.9,1902.0 496.7,1902.9 497.5,1904.1 498.3,1905.5 499.1,1906.4 499.9,1907.2 500.7,1908.1 501.5,1909.0 502.3,1909.6 503.1,1910.1 503.9,1910.6 504.7,1911.2 505.5,1911.7 506.3,1912.0 507.1,1912.3 507.9,1912.6 508.7,1912.8 509.6,1912.9 510.4,1913.0 511.2,1912.9 512.0,1912.6 512.8,1912.3 513.6,1911.9 514.4,1911.6 515.2,1911.6 516.0,1911.9 516.8,1912.3 516.8,1913.5Z" fill="#00B7E8" stroke="none" stroke-width="0"/>
<line x1="453.2" y1="1913.5" x2="516.8" y2="1913.5" stroke="#1a1a1a" stroke-width="1.1"/>
<path d="M453.2,1956.8 453.2,1956.3 454.0,1956.3 454.8,1956.2 455.6,1956.1 456.4,1956.0 457.2,1955.9 458.0,1955.9 458.8,1955.8 459.6,1955.8 460.4,1955.8 461.3,1955.7 462.1,1955.8 462.9,1955.8 463.7,1955.9 464.5,1955.9 465.3,1956.0 466.1,1955.9 466.9,1955.9 467.7,1955.9 468.5,1955.7 469.3,1955.5 470.1,1955.3 470.9,1954.9 471.7,1954.4 472.5,1953.9 473.3,1953.5 474.1,1952.9 474.9,1952.3 475.7,1951.7 476.5,1951.0 477.4,1950.5 478.2,1950.0 479.0,1949.5 479.8,1949.4 480.6,1948.4 481.4,1948.1 482.2,1947.3 483.0,1946.8 483.8,1946.5 484.6,1945.9 485.4,1946.2 486.2,1946.2 487.0,1946.2 487.8,1946.8 488.6,1947.6 489.4,1948.2 490.2,1948.0 491.0,1947.4 491.8,1946.8 492.6,1946.8 493.5,1946.5 494.3,1946.3 495.1,1946.2 495.9,1946.0 496.7,1945.4 497.5,1945.0 498.3,1945.3 499.1,1945.0 499.9,1946.5 500.7,1947.8 501.5,1949.0 502.3,1950.0 503.1,1950.8 503.9,1951.7 504.7,1952.6 505.5,1953.5 506.3,1954.2 507.1,1954.9 507.9,1955.5 508.7,1955.9 509.6,1956.2 510.4,1956.4 511.2,1956.5 512.0,1956.7 512.8,1956.7 513.6,1956.7 514.4,1956.8 515.2,1956.8 516.0,1956.8 516.8,1956.8 516.8,1956.8Z" fill="#00AEFA" stroke="none" stroke-width="0"/>
<line x1="453.2" y1="1956.8" x2="516.8" y2="1956.8" stroke="#666" stroke-width="1.1"/>
<path d="M453.2,2000.1 453.2,2000.1 454.0,2000.1 454.8,2000.1 455.6,2000.1 456.4,2000.1 457.2,2000.1 458.0,2000.1 458.8,2000.1 459.6,2000.1 460.4,2000.0 461.3,2000.0 462.1,2000.0 462.9,1999.9 463.7,1999.9 464.5,1999.8 465.3,1999.6 466.1,1999.4 466.9,1999.2 467.7,1998.8 468.5,1998.4 469.3,1997.9 470.1,1997.2 470.9,1996.4 471.7,1995.7 472.5,1994.7 473.3,1993.8 474.1,1992.7 474.9,1991.6 475.7,1990.1 476.5,1988.7 477.4,1987.9 478.2,1986.8 479.0,1986.7 479.8,1986.3 480.6,1985.9 481.4,1985.8 482.2,1985.5 483.0,1984.4 483.8,1983.7 484.6,1982.6 485.4,1982.2 486.2,1980.8 487.0,1980.0 487.8,1979.8 488.6,1979.5 489.4,1978.0 490.2,1978.1 491.0,1977.7 491.8,1977.0 492.6,1976.7 493.5,1976.8 494.3,1977.0 495.1,1979.1 495.9,1980.6 496.7,1983.0 497.5,1985.3 498.3,1988.5 499.1,1991.1 499.9,1993.0 500.7,1994.8 501.5,1996.2 502.3,1997.4 503.1,1998.2 503.9,1998.8 504.7,1999.3 505.5,1999.6 506.3,1999.8 507.1,1999.9 507.9,2000.0 508.7,2000.0 509.6,2000.1 510.4,2000.1 511.2,2000.1 512.0,2000.1 512.8,1999.9 513.6,1999.5 514.4,1998.8 515.2,1998.2 516.0,1998.2 516.8,1998.9 516.8,2000.1Z" fill="#3DA1FF" stroke="none" stroke-width="0"/>
<line x1="453.2" y1="2000.1" x2="516.8" y2="2000.1" stroke="#777" stroke-width="1.1"/>
<line x1="453.2" y1="2043.4" x2="516.8" y2="2043.4" stroke="#1a1a1a" stroke-width="1.1"/>
<path d="M453.2,2086.7 453.2,2086.7 454.0,2086.7 454.8,2086.7 455.6,2086.7 456.4,2086.7 457.2,2086.7 458.0,2086.7 458.8,2086.7 459.6,2086.7 460.4,2086.7 461.3,2086.7 462.1,2086.7 462.9,2086.7 463.7,2086.7 464.5,2086.7 465.3,2086.7 466.1,2086.7 466.9,2086.7 467.7,2086.7 468.5,2086.7 469.3,2086.7 470.1,2086.6 470.9,2086.6 471.7,2086.6 472.5,2086.6 473.3,2086.6 474.1,2086.5 474.9,2086.5 475.7,2086.4 476.5,2086.4 477.4,2086.3 478.2,2086.3 479.0,2086.2 479.8,2086.2 480.6,2086.1 481.4,2086.1 482.2,2086.0 483.0,2085.9 483.8,2085.9 484.6,2085.9 485.4,2085.9 486.2,2085.9 487.0,2086.0 487.8,2086.0 488.6,2086.1 489.4,2086.1 490.2,2086.2 491.0,2086.2 491.8,2086.2 492.6,2086.3 493.5,2086.3 494.3,2086.4 495.1,2086.5 495.9,2086.5 496.7,2086.5 497.5,2086.6 498.3,2086.6 499.1,2086.6 499.9,2086.7 500.7,2086.7 501.5,2086.7 502.3,2086.7 503.1,2086.7 503.9,2086.7 504.7,2086.7 505.5,2086.7 506.3,2086.7 507.1,2086.7 507.9,2086.7 508.7,2086.7 509.6,2086.7 510.4,2086.7 511.2,2086.7 512.0,2086.7 512.8,2086.7 513.6,2086.7 514.4,2086.7 515.2,2086.7 516.0,2086.7 516.8,2086.7 516.8,2086.7Z" fill="#BE80FF" stroke="none" stroke-width="0"/>
<line x1="453.2" y1="2086.7" x2="516.8" y2="2086.7" stroke="#777" stroke-width="1.1"/>
<line x1="453.2" y1="2130.0" x2="516.8" y2="2130.0" stroke="#1a1a1a" stroke-width="1.1"/>
<line x1="453.2" y1="2173.3" x2="516.8" y2="2173.3" stroke="#1a1a1a" stroke-width="1.1"/>
<line x1="453.2" y1="2216.6" x2="516.8" y2="2216.6" stroke="#777" stroke-width="1.1"/>
<path d="M453.2,2259.9 453.2,2259.9 454.0,2259.8 454.8,2259.7 455.6,2259.6 456.4,2259.5 457.2,2259.3 458.0,2259.1 458.8,2259.0 459.6,2258.9 460.4,2258.9 461.3,2259.1 462.1,2259.3 462.9,2259.5 463.7,2259.6 464.5,2259.7 465.3,2259.8 466.1,2259.9 466.9,2259.9 467.7,2259.9 468.5,2259.9 469.3,2259.9 470.1,2259.9 470.9,2259.9 471.7,2259.9 472.5,2259.9 473.3,2259.9 474.1,2259.9 474.9,2259.9 475.7,2259.9 476.5,2259.9 477.4,2259.9 478.2,2259.9 479.0,2259.9 479.8,2259.9 480.6,2259.9 481.4,2259.9 482.2,2259.9 483.0,2259.9 483.8,2259.9 484.6,2259.9 485.4,2259.9 486.2,2259.9 487.0,2259.9 487.8,2259.9 488.6,2259.9 489.4,2259.9 490.2,2259.9 491.0,2259.9 491.8,2259.9 492.6,2259.9 493.5,2259.9 494.3,2259.9 495.1,2259.9 495.9,2259.9 496.7,2259.9 497.5,2259.9 498.3,2259.9 499.1,2259.9 499.9,2259.9 500.7,2259.9 501.5,2259.9 502.3,2259.9 503.1,2259.9 503.9,2259.9 504.7,2259.9 505.5,2259.9 506.3,2259.9 507.1,2259.9 507.9,2259.9 508.7,2259.9 509.6,2259.9 510.4,2259.9 511.2,2259.9 512.0,2259.9 512.8,2259.9 513.6,2259.9 514.4,2259.9 515.2,2259.9 516.0,2259.9 516.8,2259.9 516.8,2259.9Z" fill="#FF64B3" stroke="none" stroke-width="0"/>
<line x1="453.2" y1="2259.9" x2="516.8" y2="2259.9" stroke="#777" stroke-width="1.1"/>
<line x1="453.2" y1="2303.2" x2="516.8" y2="2303.2" stroke="#1a1a1a" stroke-width="1.1"/>
<rect x="497.70" y="1312.20" width="5.00" height="1009.40" fill="#808080" stroke="none" stroke-width="0" opacity="0.6" style="mix-blend-mode:saturation"/>
<rect x="497.70" y="1312.20" width="5.00" height="1009.40" fill="#d2aad2" stroke="none" stroke-width="0" fill-opacity="0.25"/>
<line x1="618.8" y1="1350.6" x2="657.9" y2="1350.6" stroke="#1a1a1a" stroke-width="1.1"/>
<line x1="618.8" y1="1393.9" x2="657.9" y2="1393.9" stroke="#1a1a1a" stroke-width="1.1"/>
<path d="M618.8,1437.2 618.8,1437.2 619.6,1437.2 620.4,1437.2 621.2,1437.2 622.1,1437.2 622.9,1437.2 623.7,1437.2 624.5,1437.2 625.3,1437.2 626.1,1437.2 626.9,1437.2 627.8,1437.2 628.6,1437.2 629.4,1437.2 630.2,1437.2 631.0,1437.2 631.8,1437.2 632.6,1437.2 633.5,1437.2 634.3,1437.2 635.1,1437.2 635.9,1437.2 636.7,1437.2 637.5,1437.2 638.3,1437.1 639.2,1437.1 640.0,1437.0 640.8,1436.9 641.6,1436.7 642.4,1436.4 643.2,1436.1 644.1,1435.9 644.9,1435.8 645.7,1435.8 646.5,1435.8 647.3,1435.8 648.1,1436.0 648.9,1436.2 649.8,1436.5 650.6,1436.7 651.4,1436.8 652.2,1437.0 653.0,1437.1 653.8,1437.1 654.6,1437.2 655.5,1437.2 656.3,1437.2 657.1,1437.2 657.9,1437.2 657.9,1437.2Z" fill="#DD8D00" stroke="none" stroke-width="0"/>
<line x1="618.8" y1="1437.2" x2="657.9" y2="1437.2" stroke="#1a1a1a" stroke-width="1.1"/>
<line x1="618.8" y1="1480.5" x2="657.9" y2="1480.5" stroke="#777" stroke-width="1.1"/>
<line x1="618.8" y1="1523.8" x2="657.9" y2="1523.8" stroke="#1a1a1a" stroke-width="1.1"/>
<path d="M618.8,1567.1 618.8,1567.1 619.6,1567.1 620.4,1567.1 621.2,1567.1 622.1,1567.1 622.9,1567.1 623.7,1567.1 624.5,1567.1 625.3,1567.1 626.1,1567.1 626.9,1567.1 627.8,1567.1 628.6,1567.1 629.4,1567.1 630.2,1567.1 631.0,1567.1 631.8,1567.1 632.6,1567.1 633.5,1567.0 634.3,1567.0 635.1,1566.9 635.9,1566.8 636.7,1566.8 637.5,1566.6 638.3,1566.5 639.2,1566.3 640.0,1566.2 640.8,1566.1 641.6,1566.1 642.4,1566.0 643.2,1566.1 644.1,1566.2 644.9,1566.2 645.7,1566.4 646.5,1566.5 647.3,1566.6 648.1,1566.7 648.9,1566.9 649.8,1566.9 650.6,1567.0 651.4,1567.0 652.2,1567.1 653.0,1567.1 653.8,1567.1 654.6,1567.1 655.5,1567.1 656.3,1567.1 657.1,1567.1 657.9,1567.1 657.9,1567.1Z" fill="#97A900" stroke="none" stroke-width="0"/>
<line x1="618.8" y1="1567.1" x2="657.9" y2="1567.1" stroke="#1a1a1a" stroke-width="1.1"/>
<path d="M618.8,1610.4 618.8,1610.4 619.6,1610.4 620.4,1610.4 621.2,1610.4 622.1,1610.4 622.9,1610.4 623.7,1610.4 624.5,1610.4 625.3,1610.4 626.1,1610.4 626.9,1610.3 627.8,1610.3 628.6,1610.2 629.4,1610.1 630.2,1609.9 631.0,1609.7 631.8,1609.5 632.6,1609.1 633.5,1608.8 634.3,1608.4 635.1,1607.7 635.9,1607.2 636.7,1606.7 637.5,1606.1 638.3,1605.7 639.2,1605.7 640.0,1605.7 640.8,1605.9 641.6,1605.6 642.4,1605.8 643.2,1605.8 644.1,1606.5 644.9,1607.3 645.7,1607.9 646.5,1608.3 647.3,1608.6 648.1,1609.0 648.9,1609.4 649.8,1609.7 650.6,1610.0 651.4,1610.1 652.2,1610.2 653.0,1610.2 653.8,1610.3 654.6,1610.3 655.5,1610.4 656.3,1610.4 657.1,1610.4 657.9,1610.4 657.9,1610.4Z" fill="#71B000" stroke="none" stroke-width="0"/>
<line x1="618.8" y1="1610.4" x2="657.9" y2="1610.4" stroke="#1a1a1a" stroke-width="1.1"/>
<path d="M618.8,1653.7 618.8,1653.7 619.6,1653.7 620.4,1653.7 621.2,1653.7 622.1,1653.7 622.9,1653.7 623.7,1653.7 624.5,1653.7 625.3,1653.7 626.1,1653.7 626.9,1653.7 627.8,1653.7 628.6,1653.7 629.4,1653.7 630.2,1653.7 631.0,1653.7 631.8,1653.7 632.6,1653.7 633.5,1653.7 634.3,1653.7 635.1,1653.7 635.9,1653.6 636.7,1653.6 637.5,1653.4 638.3,1653.3 639.2,1653.1 640.0,1652.8 640.8,1652.5 641.6,1652.2 642.4,1652.0 643.2,1651.8 644.1,1651.7 644.9,1651.8 645.7,1651.9 646.5,1652.3 647.3,1652.6 648.1,1652.9 648.9,1653.2 649.8,1653.3 650.6,1653.5 651.4,1653.6 652.2,1653.6 653.0,1653.7 653.8,1653.7 654.6,1653.7 655.5,1653.7 656.3,1653.7 657.1,1653.7 657.9,1653.7 657.9,1653.7Z" fill="#2FB600" stroke="none" stroke-width="0"/>
<line x1="618.8" y1="1653.7" x2="657.9" y2="1653.7" stroke="#888" stroke-width="1.1"/>
<path d="M618.8,1697.0 618.8,1697.0 619.6,1697.0 620.4,1697.0 621.2,1697.0 622.1,1697.0 622.9,1697.0 623.7,1697.0 624.5,1697.0 625.3,1697.0 626.1,1697.0 626.9,1697.0 627.8,1697.0 628.6,1697.0 629.4,1697.0 630.2,1697.0 631.0,1697.0 631.8,1697.0 632.6,1697.0 633.5,1696.9 634.3,1696.9 635.1,1696.8 635.9,1696.8 636.7,1696.7 637.5,1696.6 638.3,1696.5 639.2,1696.4 640.0,1696.3 640.8,1696.3 641.6,1696.3 642.4,1696.2 643.2,1696.3 644.1,1696.3 644.9,1696.4 645.7,1696.4 646.5,1696.6 647.3,1696.7 648.1,1696.8 648.9,1696.8 649.8,1696.9 650.6,1696.9 651.4,1697.0 652.2,1697.0 653.0,1697.0 653.8,1697.0 654.6,1697.0 655.5,1697.0 656.3,1697.0 657.1,1697.0 657.9,1697.0 657.9,1697.0Z" fill="#00BB4B" stroke="none" stroke-width="0"/>
<line x1="618.8" y1="1697.0" x2="657.9" y2="1697.0" stroke="#777" stroke-width="1.1"/>
<line x1="618.8" y1="1740.3" x2="657.9" y2="1740.3" stroke="#777" stroke-width="1.1"/>
<path d="M618.8,1783.6 618.8,1783.6 619.6,1783.6 620.4,1783.6 621.2,1783.6 622.1,1783.6 622.9,1783.6 623.7,1783.6 624.5,1783.6 625.3,1783.6 626.1,1783.6 626.9,1783.6 627.8,1783.6 628.6,1783.6 629.4,1783.6 630.2,1783.6 631.0,1783.6 631.8,1783.6 632.6,1783.6 633.5,1783.5 634.3,1783.5 635.1,1783.4 635.9,1783.3 636.7,1783.2 637.5,1783.1 638.3,1783.0 639.2,1782.9 640.0,1782.8 640.8,1782.7 641.6,1782.6 642.4,1782.6 643.2,1782.6 644.1,1782.7 644.9,1782.7 645.7,1782.9 646.5,1783.0 647.3,1783.2 648.1,1783.3 648.9,1783.4 649.8,1783.4 650.6,1783.5 651.4,1783.5 652.2,1783.6 653.0,1783.6 653.8,1783.6 654.6,1783.6 655.5,1783.6 656.3,1783.6 657.1,1783.6 657.9,1783.6 657.9,1783.6Z" fill="#00C098" stroke="none" stroke-width="0"/>
<line x1="618.8" y1="1783.6" x2="657.9" y2="1783.6" stroke="#1a1a1a" stroke-width="1.1"/>
<path d="M618.8,1826.9 618.8,1826.9 619.6,1826.9 620.4,1826.9 621.2,1826.9 622.1,1826.9 622.9,1826.9 623.7,1826.9 624.5,1826.9 625.3,1826.9 626.1,1826.9 626.9,1826.9 627.8,1826.9 628.6,1826.9 629.4,1826.8 630.2,1826.8 631.0,1826.8 631.8,1826.7 632.6,1826.6 633.5,1826.5 634.3,1826.3 635.1,1826.1 635.9,1825.8 636.7,1825.6 637.5,1825.3 638.3,1825.0 639.2,1824.7 640.0,1824.5 640.8,1824.3 641.6,1824.0 642.4,1824.0 643.2,1824.0 644.1,1824.1 644.9,1824.2 645.7,1824.3 646.5,1824.6 647.3,1825.0 648.1,1825.3 648.9,1825.7 649.8,1825.9 650.6,1826.2 651.4,1826.3 652.2,1826.5 653.0,1826.6 653.8,1826.7 654.6,1826.8 655.5,1826.8 656.3,1826.9 657.1,1826.9 657.9,1826.9 657.9,1826.9Z" fill="#00C0B7" stroke="none" stroke-width="0"/>
<line x1="618.8" y1="1826.9" x2="657.9" y2="1826.9" stroke="#777" stroke-width="1.1"/>
<path d="M618.8,1870.2 618.8,1870.2 619.6,1870.2 620.4,1870.2 621.2,1870.2 622.1,1870.2 622.9,1870.2 623.7,1870.2 624.5,1870.2 625.3,1870.2 626.1,1870.2 626.9,1870.2 627.8,1870.2 628.6,1870.2 629.4,1870.2 630.2,1870.1 631.0,1870.1 631.8,1870.1 632.6,1870.0 633.5,1869.9 634.3,1869.7 635.1,1869.6 635.9,1869.4 636.7,1869.2 637.5,1869.0 638.3,1868.7 639.2,1868.7 640.0,1868.6 640.8,1868.6 641.6,1868.7 642.4,1868.9 643.2,1869.1 644.1,1869.3 644.9,1869.5 645.7,1869.6 646.5,1869.8 647.3,1869.9 648.1,1870.0 648.9,1870.1 649.8,1870.1 650.6,1870.1 651.4,1870.2 652.2,1870.2 653.0,1870.2 653.8,1870.2 654.6,1870.2 655.5,1870.2 656.3,1870.2 657.1,1870.2 657.9,1870.2 657.9,1870.2Z" fill="#00BDD1" stroke="none" stroke-width="0"/>
<line x1="618.8" y1="1870.2" x2="657.9" y2="1870.2" stroke="#1a1a1a" stroke-width="1.1"/>
<path d="M618.8,1913.5 618.8,1913.5 619.6,1913.5 620.4,1913.5 621.2,1913.5 622.1,1913.5 622.9,1913.5 623.7,1913.5 624.5,1913.5 625.3,1913.5 626.1,1913.4 626.9,1913.4 627.8,1913.4 628.6,1913.3 629.4,1913.2 630.2,1913.1 631.0,1912.9 631.8,1912.8 632.6,1912.6 633.5,1912.4 634.3,1912.3 635.1,1912.2 635.9,1912.2 636.7,1912.1 637.5,1912.1 638.3,1912.1 639.2,1912.1 640.0,1912.0 640.8,1911.7 641.6,1910.9 642.4,1910.1 643.2,1909.0 644.1,1908.1 644.9,1907.6 645.7,1907.9 646.5,1909.0 647.3,1910.3 648.1,1911.4 648.9,1912.2 649.8,1912.9 650.6,1913.2 651.4,1913.4 652.2,1913.5 653.0,1913.5 653.8,1913.5 654.6,1913.5 655.5,1913.5 656.3,1913.5 657.1,1913.5 657.9,1913.5 657.9,1913.5Z" fill="#00B7E8" stroke="none" stroke-width="0"/>
<line x1="618.8" y1="1913.5" x2="657.9" y2="1913.5" stroke="#777" stroke-width="1.1"/>
<path d="M618.8,1956.8 618.8,1956.5 619.6,1956.3 620.4,1956.1 621.2,1955.9 622.1,1955.7 622.9,1955.7 623.7,1955.8 624.5,1956.0 625.3,1956.2 626.1,1956.4 626.9,1956.6 627.8,1956.7 628.6,1956.7 629.4,1956.8 630.2,1956.8 631.0,1956.8 631.8,1956.8 632.6,1956.8 633.5,1956.8 634.3,1956.8 635.1,1956.8 635.9,1956.8 636.7,1956.8 637.5,1956.8 638.3,1956.8 639.2,1956.8 640.0,1956.8 640.8,1956.8 641.6,1956.8 642.4,1956.8 643.2,1956.8 644.1,1956.8 644.9,1956.8 645.7,1956.8 646.5,1956.8 647.3,1956.8 648.1,1956.8 648.9,1956.8 649.8,1956.8 650.6,1956.8 651.4,1956.8 652.2,1956.8 653.0,1956.8 653.8,1956.8 654.6,1956.8 655.5,1956.8 656.3,1956.8 657.1,1956.8 657.9,1956.8 657.9,1956.8Z" fill="#00AEFA" stroke="none" stroke-width="0"/>
<line x1="618.8" y1="1956.8" x2="657.9" y2="1956.8" stroke="#777" stroke-width="1.1"/>
<path d="M618.8,2000.1 618.8,2000.1 619.6,2000.1 620.4,2000.1 621.2,2000.0 622.1,2000.0 622.9,2000.0 623.7,1999.9 624.5,1999.8 625.3,1999.7 626.1,1999.5 626.9,1999.3 627.8,1999.0 628.6,1998.7 629.4,1998.3 630.2,1997.8 631.0,1997.2 631.8,1996.5 632.6,1995.9 633.5,1995.3 634.3,1994.6 635.1,1993.6 635.9,1992.9 636.7,1992.8 637.5,1992.8 638.3,1993.1 639.2,1993.1 640.0,1993.5 640.8,1994.0 641.6,1994.2 642.4,1995.0 643.2,1995.4 644.1,1996.1 644.9,1996.7 645.7,1997.2 646.5,1997.7 647.3,1998.2 648.1,1998.6 648.9,1998.9 649.8,1999.2 650.6,1999.4 651.4,1999.6 652.2,1999.8 653.0,1999.9 653.8,2000.0 654.6,2000.0 655.5,2000.0 656.3,2000.1 657.1,2000.1 657.9,2000.1 657.9,2000.1Z" fill="#3DA1FF" stroke="none" stroke-width="0"/>
<line x1="618.8" y1="2000.1" x2="657.9" y2="2000.1" stroke="#777" stroke-width="1.1"/>
<line x1="618.8" y1="2043.4" x2="657.9" y2="2043.4" stroke="#1a1a1a" stroke-width="1.1"/>
<line x1="618.8" y1="2086.7" x2="657.9" y2="2086.7" stroke="#777" stroke-width="1.1"/>
<line x1="618.8" y1="2130.0" x2="657.9" y2="2130.0" stroke="#1a1a1a" stroke-width="1.1"/>
<line x1="618.8" y1="2173.3" x2="657.9" y2="2173.3" stroke="#1a1a1a" stroke-width="1.1"/>
<line x1="618.8" y1="2216.6" x2="657.9" y2="2216.6" stroke="#777" stroke-width="1.1"/>
<line x1="618.8" y1="2259.9" x2="657.9" y2="2259.9" stroke="#777" stroke-width="1.1"/>
<line x1="618.8" y1="2303.2" x2="657.9" y2="2303.2" stroke="#1a1a1a" stroke-width="1.1"/>
<rect x="632.90" y="1312.20" width="5.90" height="1009.40" fill="#808080" stroke="none" stroke-width="0" opacity="0.6" style="mix-blend-mode:saturation"/>
<rect x="632.90" y="1312.20" width="5.90" height="1009.40" fill="#d2aad2" stroke="none" stroke-width="0" fill-opacity="0.25"/>
<path d="M762.2,1320.3 762.6,1323.4 762.9,1326.1 763.2,1328.4 763.6,1330.1 764.0,1331.2 774.0,1331.2 776.0,1331.0 778.0,1330.5 778.8,1330.6 779.6,1330.8 780.4,1331.0 782.4,1331.2 846.5,1331.2 846.5,1331.4 782.4,1331.4 780.4,1331.6 779.6,1331.8 778.8,1332.0 778.0,1332.1 776.0,1331.6 774.0,1331.4 764.0,1331.4 763.6,1332.5 763.2,1334.2 762.9,1336.5 762.6,1339.2 762.2,1342.3Z" fill="#F8766D" stroke="#1a1a1a" stroke-width="0.55" stroke-linejoin="round"/>
<path d="M762.2,1364.1 762.6,1367.3 762.9,1370.0 763.2,1372.2 763.6,1374.0 764.0,1375.0 837.8,1375.0 837.8,1375.2 764.0,1375.3 763.6,1376.3 763.2,1378.1 762.9,1380.3 762.6,1383.0 762.2,1386.1Z" fill="#EC823C" stroke="#1a1a1a" stroke-width="0.55" stroke-linejoin="round"/>
<path d="M762.2,1407.0 762.6,1407.9 762.9,1408.7 763.2,1409.5 763.6,1410.3 764.0,1411.0 764.3,1411.8 764.7,1412.5 765.0,1413.1 765.4,1413.8 766.2,1415.2 767.0,1416.4 767.8,1417.4 768.6,1418.2 769.4,1418.8 771.4,1418.9 773.4,1418.9 775.4,1418.7 777.4,1418.3 779.0,1418.3 779.8,1418.4 780.6,1418.6 781.4,1418.8 783.4,1418.9 869.6,1418.9 869.6,1419.1 783.4,1419.1 781.4,1419.2 780.6,1419.4 779.8,1419.6 779.0,1419.7 777.4,1419.7 775.4,1419.3 773.4,1419.1 771.4,1419.1 769.4,1419.2 768.6,1419.8 767.8,1420.6 767.0,1421.6 766.2,1422.8 765.4,1424.2 765.0,1424.9 764.7,1425.5 764.3,1426.2 764.0,1427.0 763.6,1427.7 763.2,1428.5 762.9,1429.3 762.6,1430.1 762.2,1431.0Z" fill="#DD8D00" stroke="#1a1a1a" stroke-width="0.55" stroke-linejoin="round"/>
<path d="M762.2,1451.8 762.6,1454.2 762.9,1456.4 763.2,1458.3 763.6,1459.9 764.0,1461.3 764.3,1462.3 764.7,1462.8 833.8,1462.8 833.8,1462.9 764.7,1462.9 764.3,1463.4 764.0,1464.4 763.6,1465.8 763.2,1467.4 762.9,1469.3 762.6,1471.5 762.2,1473.8Z" fill="#CA9700" stroke="#1a1a1a" stroke-width="0.55" stroke-linejoin="round"/>
<path d="M762.2,1495.7 762.6,1497.1 762.9,1498.4 763.2,1499.6 763.6,1500.8 764.0,1501.9 764.3,1502.9 764.7,1503.8 765.0,1504.6 765.4,1505.3 766.2,1506.5 768.2,1506.6 774.2,1506.6 776.2,1506.4 778.2,1506.0 779.0,1506.1 779.8,1506.3 780.6,1506.5 782.6,1506.6 861.9,1506.6 861.9,1506.8 782.6,1506.8 780.6,1506.9 779.8,1507.1 779.0,1507.3 778.2,1507.4 776.2,1507.0 774.2,1506.8 768.2,1506.8 766.2,1506.9 765.4,1508.1 765.0,1508.8 764.7,1509.6 764.3,1510.5 764.0,1511.5 763.6,1512.6 763.2,1513.8 762.9,1515.0 762.6,1516.3 762.2,1517.7Z" fill="#B3A000" stroke="#1a1a1a" stroke-width="0.55" stroke-linejoin="round"/>
<path d="M762.2,1539.5 762.6,1540.9 762.9,1542.2 763.2,1543.5 763.6,1544.7 764.0,1545.7 764.3,1546.7 764.7,1547.6 765.0,1548.5 765.4,1549.2 766.2,1550.3 768.2,1550.5 774.2,1550.5 776.2,1550.2 778.2,1549.6 779.0,1549.7 779.8,1550.0 780.6,1550.3 782.6,1550.5 784.6,1550.5 786.6,1550.2 788.6,1550.0 789.4,1550.1 790.2,1550.3 792.2,1550.5 835.8,1550.5 835.8,1550.6 792.2,1550.6 790.2,1550.8 789.4,1551.0 788.6,1551.1 786.6,1550.9 784.6,1550.6 782.6,1550.6 780.6,1550.8 779.8,1551.1 779.0,1551.4 778.2,1551.5 776.2,1550.9 774.2,1550.6 768.2,1550.6 766.2,1550.8 765.4,1551.9 765.0,1552.6 764.7,1553.5 764.3,1554.4 764.0,1555.4 763.6,1556.4 763.2,1557.6 762.9,1558.9 762.6,1560.2 762.2,1561.5Z" fill="#97A900" stroke="#1a1a1a" stroke-width="0.55" stroke-linejoin="round"/>
<path d="M762.2,1582.4 762.6,1583.0 762.9,1583.5 763.2,1584.1 763.6,1584.6 764.0,1585.1 764.3,1585.6 764.7,1586.1 765.0,1586.6 765.4,1587.1 766.2,1588.2 767.0,1589.1 767.8,1590.1 768.6,1590.9 769.4,1591.7 770.2,1592.4 771.0,1593.0 771.8,1593.6 772.6,1594.0 773.4,1594.3 867.8,1594.3 867.8,1594.5 773.4,1594.5 772.6,1594.8 771.8,1595.2 771.0,1595.8 770.2,1596.4 769.4,1597.1 768.6,1597.9 767.8,1598.7 767.0,1599.7 766.2,1600.6 765.4,1601.7 765.0,1602.2 764.7,1602.7 764.3,1603.2 764.0,1603.7 763.6,1604.2 763.2,1604.7 762.9,1605.3 762.6,1605.8 762.2,1606.4Z" fill="#71B000" stroke="#1a1a1a" stroke-width="0.55" stroke-linejoin="round"/>
<path d="M762.2,1624.1 762.6,1624.7 762.9,1625.3 763.2,1625.8 763.6,1626.4 764.0,1626.9 764.3,1627.4 764.7,1627.9 765.0,1628.4 765.4,1628.9 766.2,1629.9 767.0,1630.9 767.8,1631.8 768.6,1632.6 769.4,1633.3 770.2,1634.0 771.0,1634.5 771.8,1634.9 772.6,1635.2 776.6,1635.1 786.2,1635.2 787.8,1635.3 789.4,1635.4 791.0,1635.5 792.6,1635.6 794.2,1635.7 795.8,1635.9 797.4,1636.0 799.0,1636.2 800.6,1636.3 802.2,1636.5 803.8,1636.7 805.4,1636.8 807.0,1636.9 808.6,1637.1 810.1,1637.2 811.8,1637.3 813.4,1637.4 815.0,1637.5 816.5,1637.6 818.1,1637.7 820.5,1637.8 823.4,1637.9 827.3,1638.1 828.6,1638.1 828.6,1638.4 827.3,1638.4 823.4,1638.6 820.5,1638.7 818.1,1638.8 816.5,1638.9 815.0,1639.0 813.4,1639.1 811.8,1639.2 810.1,1639.3 808.6,1639.4 807.0,1639.6 805.4,1639.7 803.8,1639.8 802.2,1640.0 800.6,1640.2 799.0,1640.3 797.4,1640.5 795.8,1640.6 794.2,1640.8 792.6,1640.9 791.0,1641.0 789.4,1641.1 787.8,1641.2 786.2,1641.3 776.6,1641.4 772.6,1641.3 771.8,1641.6 771.0,1642.0 770.2,1642.5 769.4,1643.2 768.6,1643.9 767.8,1644.7 767.0,1645.6 766.2,1646.6 765.4,1647.6 765.0,1648.1 764.7,1648.6 764.3,1649.1 764.0,1649.6 763.6,1650.1 763.2,1650.7 762.9,1651.2 762.6,1651.8 762.2,1652.4Z" fill="#2FB600" stroke="#1a1a1a" stroke-width="0.55" stroke-linejoin="round"/>
<path d="M762.2,1671.1 762.6,1673.8 762.9,1676.2 763.2,1678.3 763.6,1680.0 764.0,1681.3 764.3,1682.0 842.7,1682.0 842.7,1682.2 764.3,1682.2 764.0,1682.9 763.6,1684.2 763.2,1685.9 762.9,1688.0 762.6,1690.4 762.2,1693.1Z" fill="#00BB4B" stroke="#1a1a1a" stroke-width="0.55" stroke-linejoin="round"/>
<path d="M762.2,1713.8 762.6,1714.5 762.9,1715.2 763.2,1715.9 763.6,1716.5 764.0,1717.2 764.3,1717.8 764.7,1718.4 765.0,1719.0 765.4,1719.5 766.2,1720.7 767.0,1721.8 767.8,1722.8 768.6,1723.6 769.4,1724.3 770.2,1724.9 771.0,1725.2 771.8,1725.1 772.6,1724.8 773.4,1724.3 774.2,1723.6 775.0,1722.6 775.8,1721.5 776.6,1720.3 777.4,1719.4 778.2,1719.0 779.0,1719.1 779.8,1719.7 780.6,1720.5 781.4,1721.4 782.2,1722.2 783.0,1722.7 783.8,1723.0 785.4,1723.0 786.2,1722.9 787.0,1722.7 787.8,1722.6 788.6,1722.4 789.4,1722.2 790.2,1722.1 791.0,1721.9 791.8,1721.8 792.6,1721.6 793.4,1721.5 794.2,1721.4 795.0,1721.3 795.8,1721.2 797.4,1721.1 799.0,1721.0 803.8,1721.1 804.6,1721.2 805.4,1721.3 806.1,1721.4 807.0,1721.5 807.8,1721.6 808.6,1721.8 809.4,1721.9 810.1,1722.1 811.0,1722.2 811.8,1722.4 812.5,1722.6 813.4,1722.7 814.1,1722.9 815.0,1723.1 815.8,1723.3 816.5,1723.4 817.4,1723.6 818.1,1723.8 818.9,1723.9 819.8,1724.1 820.5,1724.2 821.4,1724.4 822.1,1724.5 822.9,1724.6 823.8,1724.7 824.5,1724.8 825.3,1725.0 826.1,1725.1 826.9,1725.1 827.8,1725.2 829.3,1725.4 830.9,1725.5 831.8,1725.6 833.8,1725.7 835.8,1725.8 839.8,1725.9 869.7,1725.9 869.7,1726.0 839.8,1726.0 835.8,1726.1 833.8,1726.2 831.8,1726.3 830.9,1726.4 829.3,1726.5 827.8,1726.7 826.9,1726.8 826.1,1726.8 825.3,1726.9 824.5,1727.1 823.8,1727.2 822.9,1727.3 822.1,1727.4 821.4,1727.5 820.5,1727.7 819.8,1727.8 818.9,1728.0 818.1,1728.1 817.4,1728.3 816.5,1728.5 815.8,1728.6 815.0,1728.8 814.1,1729.0 813.4,1729.2 812.5,1729.3 811.8,1729.5 811.0,1729.7 810.1,1729.8 809.4,1730.0 808.6,1730.1 807.8,1730.3 807.0,1730.4 806.1,1730.5 805.4,1730.6 804.6,1730.7 803.8,1730.8 799.0,1730.9 797.4,1730.8 795.8,1730.7 795.0,1730.6 794.2,1730.5 793.4,1730.4 792.6,1730.3 791.8,1730.1 791.0,1730.0 790.2,1729.8 789.4,1729.7 788.6,1729.5 787.8,1729.3 787.0,1729.2 786.2,1729.0 785.4,1728.9 783.8,1728.9 783.0,1729.2 782.2,1729.7 781.4,1730.5 780.6,1731.4 779.8,1732.2 779.0,1732.8 778.2,1732.9 777.4,1732.5 776.6,1731.6 775.8,1730.4 775.0,1729.3 774.2,1728.3 773.4,1727.6 772.6,1727.1 771.8,1726.8 771.0,1726.7 770.2,1727.0 769.4,1727.6 768.6,1728.3 767.8,1729.1 767.0,1730.1 766.2,1731.2 765.4,1732.4 765.0,1732.9 764.7,1733.5 764.3,1734.1 764.0,1734.7 763.6,1735.4 763.2,1736.0 762.9,1736.7 762.6,1737.4 762.2,1738.1Z" fill="#00BF76" stroke="#1a1a1a" stroke-width="0.55" stroke-linejoin="round"/>
<path d="M762.2,1758.8 762.6,1760.4 762.9,1761.9 763.2,1763.3 763.6,1764.6 764.0,1765.8 764.3,1766.9 764.7,1767.8 765.0,1768.6 765.4,1769.3 766.2,1769.7 772.2,1769.7 774.2,1769.5 776.2,1768.6 777.0,1768.2 777.8,1767.8 778.6,1767.8 779.4,1768.1 780.2,1768.6 781.0,1769.0 781.8,1769.4 782.6,1769.6 784.6,1769.7 857.9,1769.7 857.9,1769.9 784.6,1769.9 782.6,1770.0 781.8,1770.2 781.0,1770.6 780.2,1771.0 779.4,1771.5 778.6,1771.8 777.8,1771.8 777.0,1771.4 776.2,1771.0 774.2,1770.1 772.2,1769.9 766.2,1769.9 765.4,1770.3 765.0,1771.0 764.7,1771.8 764.3,1772.7 764.0,1773.8 763.6,1775.0 763.2,1776.3 762.9,1777.7 762.6,1779.2 762.2,1780.8Z" fill="#00C098" stroke="#1a1a1a" stroke-width="0.55" stroke-linejoin="round"/>
<path d="M762.2,1802.6 762.6,1804.3 762.9,1805.8 763.2,1807.2 763.6,1808.5 764.0,1809.7 764.3,1810.7 764.7,1811.7 765.0,1812.5 765.4,1813.1 766.2,1813.6 772.2,1813.6 774.2,1813.2 775.0,1812.7 775.8,1812.0 776.6,1811.2 777.4,1810.4 778.2,1810.1 779.0,1810.4 779.8,1811.0 780.6,1811.9 781.4,1812.6 782.2,1813.1 783.0,1813.4 785.0,1813.4 787.0,1812.5 787.8,1812.1 788.6,1812.0 789.4,1812.3 790.2,1812.8 791.0,1813.1 791.8,1813.3 795.4,1813.2 797.8,1813.1 801.0,1813.0 806.5,1813.0 809.0,1813.2 810.5,1813.2 811.4,1813.3 813.4,1813.4 815.4,1813.5 819.4,1813.6 856.6,1813.6 856.6,1813.8 819.4,1813.8 815.4,1813.8 813.4,1813.9 811.4,1814.0 810.5,1814.1 809.0,1814.1 806.5,1814.3 801.0,1814.3 797.8,1814.2 795.4,1814.1 791.8,1814.0 791.0,1814.2 790.2,1814.5 789.4,1815.0 788.6,1815.3 787.8,1815.2 787.0,1814.8 785.0,1813.9 783.0,1813.9 782.2,1814.2 781.4,1814.7 780.6,1815.4 779.8,1816.3 779.0,1816.9 778.2,1817.2 777.4,1816.9 776.6,1816.1 775.8,1815.3 775.0,1814.6 774.2,1814.1 772.2,1813.8 766.2,1813.8 765.4,1814.2 765.0,1814.8 764.7,1815.6 764.3,1816.6 764.0,1817.6 763.6,1818.8 763.2,1820.1 762.9,1821.5 762.6,1823.0 762.2,1824.7Z" fill="#00C0B7" stroke="#1a1a1a" stroke-width="0.55" stroke-linejoin="round"/>
<path d="M762.2,1846.5 762.6,1848.4 762.9,1850.2 763.2,1851.8 763.6,1853.3 764.0,1854.6 764.3,1855.7 764.7,1856.6 765.0,1857.2 767.0,1857.4 775.0,1857.4 777.0,1856.8 777.8,1856.5 778.6,1856.5 779.4,1856.8 780.2,1857.1 781.0,1857.3 785.0,1857.4 787.0,1856.9 787.8,1856.6 788.6,1856.6 789.4,1856.9 790.2,1857.3 792.2,1857.4 828.6,1857.4 828.6,1857.6 792.2,1857.6 790.2,1857.7 789.4,1858.1 788.6,1858.4 787.8,1858.4 787.0,1858.1 785.0,1857.6 781.0,1857.7 780.2,1857.9 779.4,1858.2 778.6,1858.5 777.8,1858.5 777.0,1858.2 775.0,1857.6 767.0,1857.6 765.0,1857.8 764.7,1858.4 764.3,1859.3 764.0,1860.4 763.6,1861.7 763.2,1863.2 762.9,1864.8 762.6,1866.6 762.2,1868.5Z" fill="#00BDD1" stroke="#1a1a1a" stroke-width="0.55" stroke-linejoin="round"/>
<path d="M762.2,1888.7 762.6,1889.4 762.9,1890.1 763.2,1890.8 763.6,1891.4 764.0,1892.0 764.3,1892.6 764.7,1893.2 765.0,1893.8 765.4,1894.3 766.2,1895.5 767.0,1896.5 767.8,1897.4 768.6,1898.2 769.4,1898.8 770.2,1899.3 771.0,1899.5 771.8,1899.3 772.6,1898.9 773.4,1898.4 774.2,1897.7 775.0,1897.0 775.8,1896.2 776.6,1895.5 777.4,1895.0 778.2,1894.7 779.0,1894.7 779.8,1894.9 780.6,1895.3 781.4,1895.8 782.2,1896.3 783.0,1896.7 783.8,1897.0 784.6,1897.1 787.0,1897.1 787.8,1897.0 788.6,1896.9 789.4,1896.9 790.2,1896.8 791.0,1896.7 792.6,1896.5 794.2,1896.4 802.2,1896.6 803.8,1896.7 804.6,1896.8 805.4,1896.9 806.1,1897.0 807.0,1897.1 807.8,1897.2 808.6,1897.3 809.4,1897.5 810.1,1897.6 811.0,1897.7 811.8,1897.9 812.5,1898.0 813.4,1898.2 814.1,1898.3 815.0,1898.5 815.8,1898.6 816.5,1898.7 817.4,1898.9 818.1,1899.0 818.9,1899.1 819.8,1899.3 820.5,1899.4 821.4,1899.5 822.1,1899.6 822.9,1899.8 823.8,1899.9 824.5,1900.0 825.3,1900.1 826.1,1900.2 826.9,1900.3 827.8,1900.4 828.5,1900.4 830.1,1900.6 831.8,1900.7 833.3,1900.8 834.9,1900.9 835.7,1901.0 837.7,1901.1 841.7,1901.2 870.3,1901.2 870.3,1901.4 841.7,1901.5 837.7,1901.6 835.7,1901.7 834.9,1901.8 833.3,1901.9 831.8,1902.0 830.1,1902.1 828.5,1902.3 827.8,1902.3 826.9,1902.4 826.1,1902.5 825.3,1902.6 824.5,1902.7 823.8,1902.8 822.9,1902.9 822.1,1903.1 821.4,1903.2 820.5,1903.3 819.8,1903.4 818.9,1903.6 818.1,1903.7 817.4,1903.8 816.5,1904.0 815.8,1904.1 815.0,1904.2 814.1,1904.4 813.4,1904.5 812.5,1904.7 811.8,1904.8 811.0,1905.0 810.1,1905.1 809.4,1905.2 808.6,1905.4 807.8,1905.5 807.0,1905.6 806.1,1905.7 805.4,1905.8 804.6,1905.9 803.8,1906.0 802.2,1906.1 794.2,1906.3 792.6,1906.2 791.0,1906.0 790.2,1905.9 789.4,1905.8 788.6,1905.8 787.8,1905.7 787.0,1905.6 784.6,1905.6 783.8,1905.7 783.0,1906.0 782.2,1906.4 781.4,1906.9 780.6,1907.4 779.8,1907.8 779.0,1908.0 778.2,1908.0 777.4,1907.7 776.6,1907.2 775.8,1906.5 775.0,1905.7 774.2,1905.0 773.4,1904.3 772.6,1903.8 771.8,1903.4 771.0,1903.2 770.2,1903.4 769.4,1903.9 768.6,1904.5 767.8,1905.3 767.0,1906.2 766.2,1907.2 765.4,1908.4 765.0,1908.9 764.7,1909.5 764.3,1910.1 764.0,1910.7 763.6,1911.3 763.2,1911.9 762.9,1912.6 762.6,1913.3 762.2,1914.0Z" fill="#00B7E8" stroke="#1a1a1a" stroke-width="0.55" stroke-linejoin="round"/>
<path d="M762.2,1933.0 762.6,1933.7 762.9,1934.4 763.2,1935.0 763.6,1935.7 764.0,1936.3 764.3,1936.9 764.7,1937.5 765.0,1938.0 765.4,1938.6 766.2,1939.7 767.0,1940.7 767.8,1941.6 768.6,1942.3 769.4,1942.8 770.2,1943.1 771.0,1943.1 771.8,1942.7 772.6,1942.0 773.4,1941.3 774.2,1940.6 775.0,1939.8 775.8,1939.1 776.6,1938.5 777.4,1938.0 778.2,1937.7 779.0,1937.6 779.8,1937.6 780.6,1937.9 781.4,1938.2 782.2,1938.6 783.0,1939.0 783.8,1939.4 784.6,1939.7 785.4,1939.9 786.2,1940.1 787.0,1940.2 795.0,1940.3 795.8,1940.4 796.6,1940.5 797.4,1940.6 798.2,1940.8 799.0,1940.9 799.8,1941.1 800.6,1941.3 801.4,1941.5 802.2,1941.7 803.0,1941.9 803.8,1942.1 804.6,1942.3 805.4,1942.5 806.1,1942.7 807.0,1942.9 807.8,1943.0 808.6,1943.2 809.4,1943.4 810.1,1943.6 811.0,1943.7 811.8,1943.9 812.5,1944.0 813.4,1944.1 814.1,1944.3 815.0,1944.4 815.8,1944.5 816.5,1944.6 817.4,1944.6 818.9,1944.8 819.8,1944.8 821.8,1945.0 823.8,1945.0 848.5,1945.1 848.5,1945.3 823.8,1945.4 821.8,1945.4 819.8,1945.6 818.9,1945.6 817.4,1945.8 816.5,1945.8 815.8,1945.9 815.0,1946.0 814.1,1946.1 813.4,1946.3 812.5,1946.4 811.8,1946.5 811.0,1946.7 810.1,1946.8 809.4,1947.0 808.6,1947.2 807.8,1947.4 807.0,1947.5 806.1,1947.7 805.4,1947.9 804.6,1948.1 803.8,1948.3 803.0,1948.5 802.2,1948.7 801.4,1948.9 800.6,1949.1 799.8,1949.3 799.0,1949.5 798.2,1949.6 797.4,1949.8 796.6,1949.9 795.8,1950.0 795.0,1950.1 787.0,1950.2 786.2,1950.3 785.4,1950.5 784.6,1950.7 783.8,1951.0 783.0,1951.4 782.2,1951.8 781.4,1952.2 780.6,1952.5 779.8,1952.8 779.0,1952.8 778.2,1952.7 777.4,1952.4 776.6,1951.9 775.8,1951.3 775.0,1950.6 774.2,1949.8 773.4,1949.1 772.6,1948.4 771.8,1947.7 771.0,1947.3 770.2,1947.3 769.4,1947.6 768.6,1948.1 767.8,1948.8 767.0,1949.7 766.2,1950.7 765.4,1951.8 765.0,1952.4 764.7,1952.9 764.3,1953.5 764.0,1954.1 763.6,1954.7 763.2,1955.4 762.9,1956.0 762.6,1956.7 762.2,1957.4Z" fill="#00AEFA" stroke="#1a1a1a" stroke-width="0.55" stroke-linejoin="round"/>
<path d="M762.2,1975.9 762.6,1976.5 762.9,1977.2 763.2,1977.8 763.6,1978.4 764.0,1979.0 764.3,1979.5 764.7,1980.1 765.0,1980.6 765.4,1981.1 766.2,1982.1 767.0,1983.1 767.8,1983.9 768.6,1984.6 769.4,1985.2 770.2,1985.7 771.0,1985.9 771.8,1985.9 772.6,1985.7 773.4,1985.6 774.2,1985.5 775.0,1985.4 775.8,1985.3 777.4,1985.1 783.0,1985.3 783.8,1985.3 784.6,1985.4 785.4,1985.5 786.2,1985.7 787.0,1985.8 787.8,1985.9 788.6,1986.0 789.4,1986.1 790.2,1986.3 791.0,1986.4 791.8,1986.5 792.6,1986.6 793.4,1986.7 794.2,1986.8 795.0,1987.0 795.8,1987.1 796.6,1987.2 797.4,1987.2 798.2,1987.3 799.0,1987.4 800.6,1987.6 802.2,1987.7 803.8,1987.8 805.4,1988.0 807.0,1988.1 808.6,1988.2 810.1,1988.3 811.8,1988.4 813.4,1988.5 815.0,1988.6 817.4,1988.7 821.4,1988.8 825.4,1988.9 828.6,1989.0 828.6,1989.1 825.4,1989.2 821.4,1989.3 817.4,1989.4 815.0,1989.5 813.4,1989.6 811.8,1989.7 810.1,1989.8 808.6,1989.9 807.0,1990.0 805.4,1990.1 803.8,1990.3 802.2,1990.4 800.6,1990.5 799.0,1990.7 798.2,1990.8 797.4,1990.9 796.6,1990.9 795.8,1991.0 795.0,1991.1 794.2,1991.3 793.4,1991.4 792.6,1991.5 791.8,1991.6 791.0,1991.7 790.2,1991.8 789.4,1992.0 788.6,1992.1 787.8,1992.2 787.0,1992.3 786.2,1992.4 785.4,1992.6 784.6,1992.7 783.8,1992.8 783.0,1992.8 777.4,1993.0 775.8,1992.8 775.0,1992.7 774.2,1992.6 773.4,1992.5 772.6,1992.4 771.8,1992.2 771.0,1992.2 770.2,1992.4 769.4,1992.9 768.6,1993.5 767.8,1994.2 767.0,1995.0 766.2,1996.0 765.4,1997.0 765.0,1997.5 764.7,1998.0 764.3,1998.6 764.0,1999.1 763.6,1999.7 763.2,2000.3 762.9,2000.9 762.6,2001.6 762.2,2002.2Z" fill="#3DA1FF" stroke="#1a1a1a" stroke-width="0.55" stroke-linejoin="round"/>
<path d="M762.2,2021.9 762.6,2026.4 762.9,2030.0 763.2,2032.4 763.6,2032.8 808.7,2032.8 808.7,2033.0 763.6,2033.0 763.2,2033.4 762.9,2035.8 762.6,2039.4 762.2,2043.9Z" fill="#8F91FF" stroke="#1a1a1a" stroke-width="0.55" stroke-linejoin="round"/>
<path d="M762.2,2065.8 762.6,2070.3 762.9,2073.8 763.2,2076.2 763.6,2076.7 808.7,2076.7 808.7,2076.8 763.6,2076.8 763.2,2077.3 762.9,2079.7 762.6,2083.2 762.2,2087.8Z" fill="#BE80FF" stroke="#1a1a1a" stroke-width="0.55" stroke-linejoin="round"/>
<path d="M762.2,2109.6 762.6,2112.7 762.9,2115.4 763.2,2117.7 763.6,2119.4 764.0,2120.5 774.0,2120.5 776.0,2120.3 778.0,2119.8 778.8,2119.9 779.6,2120.1 780.4,2120.3 782.4,2120.5 840.9,2120.5 840.9,2120.7 782.4,2120.7 780.4,2120.9 779.6,2121.1 778.8,2121.3 778.0,2121.4 776.0,2120.9 774.0,2120.7 764.0,2120.7 763.6,2121.8 763.2,2123.5 762.9,2125.8 762.6,2128.5 762.2,2131.6Z" fill="#DE71F9" stroke="#1a1a1a" stroke-width="0.55" stroke-linejoin="round"/>
<path d="M762.2,2153.4 762.6,2155.6 762.9,2157.5 763.2,2159.3 763.6,2160.8 764.0,2162.2 764.3,2163.3 764.7,2164.1 766.7,2164.3 774.7,2164.3 776.7,2164.0 777.5,2163.7 778.2,2163.7 779.1,2163.8 779.9,2164.0 780.7,2164.2 782.7,2164.3 825.0,2164.3 825.0,2164.5 782.7,2164.5 780.7,2164.7 779.9,2164.9 779.1,2165.1 778.2,2165.2 777.5,2165.2 776.7,2164.9 774.7,2164.5 766.7,2164.5 764.7,2164.8 764.3,2165.6 764.0,2166.7 763.6,2168.1 763.2,2169.6 762.9,2171.4 762.6,2173.3 762.2,2175.4Z" fill="#F265E7" stroke="#1a1a1a" stroke-width="0.55" stroke-linejoin="round"/>
<path d="M762.2,2197.3 762.6,2199.2 762.9,2201.0 763.2,2202.6 763.6,2204.1 764.0,2205.4 764.3,2206.5 764.7,2207.4 765.0,2208.0 767.0,2208.2 825.0,2208.2 825.0,2208.4 767.0,2208.4 765.0,2208.6 764.7,2209.2 764.3,2210.1 764.0,2211.2 763.6,2212.5 763.2,2214.0 762.9,2215.6 762.6,2217.4 762.2,2219.3Z" fill="#FE61CF" stroke="#1a1a1a" stroke-width="0.55" stroke-linejoin="round"/>
<path d="M762.2,2241.2 762.6,2243.5 762.9,2245.7 763.2,2247.6 763.6,2249.2 764.0,2250.6 764.3,2251.6 764.7,2252.1 774.7,2252.1 776.7,2251.7 777.5,2251.4 778.2,2251.4 779.1,2251.5 779.9,2251.7 780.7,2251.9 782.7,2252.1 794.7,2252.1 794.7,2252.2 782.7,2252.2 780.7,2252.4 779.9,2252.6 779.1,2252.8 778.2,2252.9 777.5,2252.9 776.7,2252.6 774.7,2252.2 764.7,2252.2 764.3,2252.7 764.0,2253.7 763.6,2255.1 763.2,2256.7 762.9,2258.6 762.6,2260.8 762.2,2263.2Z" fill="#FF64B3" stroke="#1a1a1a" stroke-width="0.55" stroke-linejoin="round"/>
<path d="M762.2,2285.0 762.6,2287.4 762.9,2289.5 763.2,2291.4 763.6,2293.1 764.0,2294.4 764.3,2295.5 764.7,2295.9 778.8,2295.9 778.8,2296.1 764.7,2296.1 764.3,2296.5 764.0,2297.6 763.6,2298.9 763.2,2300.6 762.9,2302.5 762.6,2304.6 762.2,2307.0Z" fill="#FF6C92" stroke="#1a1a1a" stroke-width="0.55" stroke-linejoin="round"/>
<line x1="988.4" y1="1353.4" x2="1059.4" y2="1353.4" stroke="#1a1a1a" stroke-width="1.1"/>
<path d="M988.4,1396.6 988.4,1396.6 989.2,1396.6 990.0,1396.6 990.8,1396.6 991.6,1396.6 992.4,1396.6 993.2,1396.6 994.0,1396.6 994.9,1396.6 995.7,1396.6 996.5,1396.6 997.3,1396.6 998.1,1396.6 998.9,1396.6 999.7,1396.6 1000.5,1396.5 1001.3,1396.5 1002.1,1396.5 1002.9,1396.5 1003.7,1396.5 1004.5,1396.4 1005.3,1396.4 1006.1,1396.3 1007.0,1396.2 1007.8,1396.1 1008.6,1396.0 1009.4,1395.9 1010.2,1395.8 1011.0,1395.7 1011.8,1395.6 1012.6,1395.5 1013.4,1395.3 1014.2,1395.1 1015.0,1395.0 1015.8,1395.0 1016.6,1395.0 1017.4,1395.1 1018.3,1395.1 1019.1,1395.2 1019.9,1395.4 1020.7,1395.4 1021.5,1395.5 1022.3,1395.6 1023.1,1395.7 1023.9,1395.9 1024.7,1396.0 1025.5,1396.1 1026.3,1396.2 1027.1,1396.3 1027.9,1396.4 1028.7,1396.4 1029.5,1396.5 1030.4,1396.5 1031.2,1396.5 1032.0,1396.5 1032.8,1396.5 1033.6,1396.5 1034.4,1396.6 1035.2,1396.6 1036.0,1396.6 1036.8,1396.6 1037.6,1396.6 1038.4,1396.6 1039.2,1396.6 1040.0,1396.6 1040.8,1396.6 1041.7,1396.6 1042.5,1396.6 1043.3,1396.6 1044.1,1396.6 1044.9,1396.6 1045.7,1396.6 1046.5,1396.6 1047.3,1396.6 1048.1,1396.6 1048.9,1396.6 1049.7,1396.6 1050.5,1396.6 1051.3,1396.6 1052.1,1396.6 1052.9,1396.6 1053.8,1396.6 1054.6,1396.6 1055.4,1396.6 1056.2,1396.6 1057.0,1396.6 1057.8,1396.6 1058.6,1396.6 1059.4,1396.6 1059.4,1396.6Z" fill="#EC823C" stroke="none" stroke-width="0"/>
<line x1="988.4" y1="1396.6" x2="1059.4" y2="1396.6" stroke="#777" stroke-width="1.1"/>
<path d="M988.4,1439.7 988.4,1439.7 989.2,1439.7 990.0,1439.7 990.8,1439.7 991.6,1439.7 992.4,1439.7 993.2,1439.7 994.0,1439.7 994.9,1439.7 995.7,1439.7 996.5,1439.7 997.3,1439.7 998.1,1439.7 998.9,1439.7 999.7,1439.7 1000.5,1439.7 1001.3,1439.7 1002.1,1439.7 1002.9,1439.7 1003.7,1439.6 1004.5,1439.6 1005.3,1439.5 1006.1,1439.5 1007.0,1439.4 1007.8,1439.3 1008.6,1439.2 1009.4,1439.1 1010.2,1439.0 1011.0,1438.9 1011.8,1438.7 1012.6,1438.6 1013.4,1438.4 1014.2,1438.3 1015.0,1438.3 1015.8,1438.2 1016.6,1438.2 1017.4,1438.2 1018.3,1438.3 1019.1,1438.3 1019.9,1438.4 1020.7,1438.5 1021.5,1438.6 1022.3,1438.8 1023.1,1438.9 1023.9,1439.0 1024.7,1439.2 1025.5,1439.3 1026.3,1439.4 1027.1,1439.5 1027.9,1439.5 1028.7,1439.6 1029.5,1439.6 1030.4,1439.6 1031.2,1439.7 1032.0,1439.7 1032.8,1439.7 1033.6,1439.7 1034.4,1439.7 1035.2,1439.7 1036.0,1439.7 1036.8,1439.7 1037.6,1439.7 1038.4,1439.7 1039.2,1439.7 1040.0,1439.7 1040.8,1439.7 1041.7,1439.7 1042.5,1439.7 1043.3,1439.7 1044.1,1439.7 1044.9,1439.7 1045.7,1439.7 1046.5,1439.7 1047.3,1439.7 1048.1,1439.7 1048.9,1439.7 1049.7,1439.7 1050.5,1439.7 1051.3,1439.6 1052.1,1439.4 1052.9,1439.1 1053.8,1438.8 1054.6,1438.5 1055.4,1438.3 1056.2,1438.3 1057.0,1438.5 1057.8,1438.8 1058.6,1439.1 1059.4,1439.4 1059.4,1439.7Z" fill="#DD8D00" stroke="none" stroke-width="0"/>
<line x1="988.4" y1="1439.7" x2="1059.4" y2="1439.7" stroke="#1a1a1a" stroke-width="1.1"/>
<path d="M988.4,1482.9 988.4,1482.9 989.2,1482.9 990.0,1482.9 990.8,1482.9 991.6,1482.9 992.4,1482.9 993.2,1482.9 994.0,1482.9 994.9,1482.9 995.7,1482.9 996.5,1482.9 997.3,1482.9 998.1,1482.9 998.9,1482.9 999.7,1482.9 1000.5,1482.9 1001.3,1482.9 1002.1,1482.9 1002.9,1482.9 1003.7,1482.9 1004.5,1482.9 1005.3,1482.9 1006.1,1482.9 1007.0,1482.8 1007.8,1482.8 1008.6,1482.7 1009.4,1482.7 1010.2,1482.6 1011.0,1482.5 1011.8,1482.4 1012.6,1482.3 1013.4,1482.1 1014.2,1482.0 1015.0,1481.9 1015.8,1481.9 1016.6,1481.9 1017.4,1481.9 1018.3,1482.0 1019.1,1482.0 1019.9,1482.1 1020.7,1482.2 1021.5,1482.3 1022.3,1482.4 1023.1,1482.6 1023.9,1482.6 1024.7,1482.7 1025.5,1482.8 1026.3,1482.8 1027.1,1482.9 1027.9,1482.9 1028.7,1482.9 1029.5,1482.9 1030.4,1482.9 1031.2,1482.9 1032.0,1482.9 1032.8,1482.9 1033.6,1482.9 1034.4,1482.9 1035.2,1482.9 1036.0,1482.9 1036.8,1482.9 1037.6,1482.9 1038.4,1482.9 1039.2,1482.9 1040.0,1482.9 1040.8,1482.9 1041.7,1482.9 1042.5,1482.9 1043.3,1482.9 1044.1,1482.9 1044.9,1482.9 1045.7,1482.9 1046.5,1482.9 1047.3,1482.9 1048.1,1482.9 1048.9,1482.8 1049.7,1482.8 1050.5,1482.6 1051.3,1482.5 1052.1,1482.2 1052.9,1482.0 1053.8,1481.7 1054.6,1481.4 1055.4,1481.3 1056.2,1481.2 1057.0,1481.4 1057.8,1481.7 1058.6,1481.9 1059.4,1482.2 1059.4,1482.9Z" fill="#CA9700" stroke="none" stroke-width="0"/>
<line x1="988.4" y1="1482.9" x2="1059.4" y2="1482.9" stroke="#1a1a1a" stroke-width="1.1"/>
<path d="M988.4,1526.1 988.4,1526.1 989.2,1526.1 990.0,1526.1 990.8,1526.1 991.6,1526.1 992.4,1526.1 993.2,1526.1 994.0,1526.1 994.9,1526.1 995.7,1526.1 996.5,1526.1 997.3,1526.1 998.1,1526.1 998.9,1526.1 999.7,1526.1 1000.5,1526.1 1001.3,1526.1 1002.1,1526.1 1002.9,1526.1 1003.7,1526.1 1004.5,1526.1 1005.3,1526.1 1006.1,1526.1 1007.0,1526.1 1007.8,1526.1 1008.6,1526.1 1009.4,1526.1 1010.2,1526.1 1011.0,1526.0 1011.8,1526.0 1012.6,1526.0 1013.4,1525.9 1014.2,1525.9 1015.0,1525.7 1015.8,1525.6 1016.6,1525.5 1017.4,1525.4 1018.3,1525.3 1019.1,1525.2 1019.9,1525.1 1020.7,1525.1 1021.5,1525.1 1022.3,1525.2 1023.1,1525.3 1023.9,1525.4 1024.7,1525.5 1025.5,1525.6 1026.3,1525.6 1027.1,1525.5 1027.9,1525.4 1028.7,1525.2 1029.5,1525.0 1030.4,1524.9 1031.2,1524.9 1032.0,1525.0 1032.8,1525.1 1033.6,1525.3 1034.4,1525.5 1035.2,1525.7 1036.0,1525.8 1036.8,1525.9 1037.6,1526.0 1038.4,1526.0 1039.2,1526.1 1040.0,1526.1 1040.8,1526.1 1041.7,1526.1 1042.5,1526.1 1043.3,1526.1 1044.1,1526.1 1044.9,1526.1 1045.7,1526.1 1046.5,1526.1 1047.3,1526.1 1048.1,1526.1 1048.9,1526.1 1049.7,1526.1 1050.5,1526.1 1051.3,1526.1 1052.1,1526.1 1052.9,1526.1 1053.8,1526.1 1054.6,1526.1 1055.4,1526.1 1056.2,1526.1 1057.0,1526.1 1057.8,1526.1 1058.6,1526.1 1059.4,1526.1 1059.4,1526.1Z" fill="#B3A000" stroke="none" stroke-width="0"/>
<line x1="988.4" y1="1526.1" x2="1059.4" y2="1526.1" stroke="#1a1a1a" stroke-width="1.1"/>
<path d="M988.4,1569.2 988.4,1569.2 989.2,1569.2 990.0,1569.2 990.8,1569.2 991.6,1569.2 992.4,1569.2 993.2,1569.2 994.0,1569.2 994.9,1569.2 995.7,1569.2 996.5,1569.2 997.3,1569.2 998.1,1569.2 998.9,1569.2 999.7,1569.2 1000.5,1569.2 1001.3,1569.2 1002.1,1569.2 1002.9,1569.2 1003.7,1569.2 1004.5,1569.2 1005.3,1569.2 1006.1,1569.2 1007.0,1569.2 1007.8,1569.2 1008.6,1569.2 1009.4,1569.2 1010.2,1569.2 1011.0,1569.2 1011.8,1569.2 1012.6,1569.2 1013.4,1569.2 1014.2,1569.2 1015.0,1569.2 1015.8,1569.2 1016.6,1569.2 1017.4,1569.2 1018.3,1569.2 1019.1,1569.2 1019.9,1569.2 1020.7,1569.2 1021.5,1569.2 1022.3,1569.2 1023.1,1569.2 1023.9,1569.1 1024.7,1569.0 1025.5,1568.9 1026.3,1568.8 1027.1,1568.7 1027.9,1568.6 1028.7,1568.5 1029.5,1568.4 1030.4,1568.3 1031.2,1568.2 1032.0,1568.2 1032.8,1568.3 1033.6,1568.4 1034.4,1568.6 1035.2,1568.8 1036.0,1568.9 1036.8,1569.0 1037.6,1569.1 1038.4,1569.1 1039.2,1569.2 1040.0,1569.2 1040.8,1569.2 1041.7,1569.2 1042.5,1569.2 1043.3,1569.2 1044.1,1569.2 1044.9,1569.2 1045.7,1569.2 1046.5,1569.2 1047.3,1569.2 1048.1,1569.2 1048.9,1569.2 1049.7,1569.1 1050.5,1569.0 1051.3,1568.9 1052.1,1568.7 1052.9,1568.5 1053.8,1568.3 1054.6,1568.1 1055.4,1568.1 1056.2,1568.1 1057.0,1568.1 1057.8,1568.3 1058.6,1568.5 1059.4,1568.7 1059.4,1569.2Z" fill="#97A900" stroke="none" stroke-width="0"/>
<line x1="988.4" y1="1569.2" x2="1059.4" y2="1569.2" stroke="#1a1a1a" stroke-width="1.1"/>
<path d="M988.4,1612.4 988.4,1612.4 989.2,1612.4 990.0,1612.4 990.8,1612.4 991.6,1612.4 992.4,1612.4 993.2,1612.4 994.0,1612.4 994.9,1612.4 995.7,1612.4 996.5,1612.4 997.3,1612.4 998.1,1612.4 998.9,1612.4 999.7,1612.4 1000.5,1612.4 1001.3,1612.4 1002.1,1612.4 1002.9,1612.4 1003.7,1612.4 1004.5,1612.3 1005.3,1612.3 1006.1,1612.2 1007.0,1612.0 1007.8,1611.8 1008.6,1611.7 1009.4,1611.5 1010.2,1611.3 1011.0,1611.2 1011.8,1611.2 1012.6,1611.2 1013.4,1611.5 1014.2,1611.7 1015.0,1611.9 1015.8,1612.1 1016.6,1612.2 1017.4,1612.2 1018.3,1612.2 1019.1,1612.1 1019.9,1612.0 1020.7,1611.8 1021.5,1611.6 1022.3,1611.3 1023.1,1611.2 1023.9,1611.2 1024.7,1611.2 1025.5,1611.3 1026.3,1611.5 1027.1,1611.8 1027.9,1612.0 1028.7,1612.1 1029.5,1612.3 1030.4,1612.3 1031.2,1612.4 1032.0,1612.4 1032.8,1612.4 1033.6,1612.4 1034.4,1612.4 1035.2,1612.4 1036.0,1612.4 1036.8,1612.4 1037.6,1612.4 1038.4,1612.4 1039.2,1612.4 1040.0,1612.4 1040.8,1612.4 1041.7,1612.4 1042.5,1612.4 1043.3,1612.4 1044.1,1612.4 1044.9,1612.4 1045.7,1612.4 1046.5,1612.4 1047.3,1612.4 1048.1,1612.4 1048.9,1612.4 1049.7,1612.4 1050.5,1612.4 1051.3,1612.4 1052.1,1612.4 1052.9,1612.4 1053.8,1612.4 1054.6,1612.4 1055.4,1612.4 1056.2,1612.4 1057.0,1612.4 1057.8,1612.4 1058.6,1612.4 1059.4,1612.4 1059.4,1612.4Z" fill="#71B000" stroke="none" stroke-width="0"/>
<line x1="988.4" y1="1612.4" x2="1059.4" y2="1612.4" stroke="#1a1a1a" stroke-width="1.1"/>
<path d="M988.4,1655.6 988.4,1655.6 989.2,1655.6 990.0,1655.6 990.8,1655.6 991.6,1655.6 992.4,1655.6 993.2,1655.6 994.0,1655.6 994.9,1655.6 995.7,1655.6 996.5,1655.6 997.3,1655.6 998.1,1655.6 998.9,1655.6 999.7,1655.6 1000.5,1655.6 1001.3,1655.6 1002.1,1650.9 1002.9,1651.0 1003.7,1651.0 1004.5,1650.9 1005.3,1651.1 1006.1,1651.2 1007.0,1655.6 1007.8,1655.6 1008.6,1655.6 1009.4,1655.6 1010.2,1655.6 1011.0,1655.6 1011.8,1655.6 1012.6,1655.6 1013.4,1655.6 1014.2,1655.6 1015.0,1655.6 1015.8,1655.6 1016.6,1655.6 1017.4,1655.6 1018.3,1655.6 1019.1,1650.9 1019.9,1651.1 1020.7,1651.0 1021.5,1651.2 1022.3,1651.1 1023.1,1651.3 1023.9,1651.4 1024.7,1655.6 1025.5,1655.6 1026.3,1655.6 1027.1,1655.6 1027.9,1655.6 1028.7,1655.6 1029.5,1655.6 1030.4,1655.6 1031.2,1655.6 1032.0,1655.6 1032.8,1655.6 1033.6,1655.6 1034.4,1655.6 1035.2,1655.6 1036.0,1655.6 1036.8,1655.6 1037.6,1655.6 1038.4,1655.6 1039.2,1655.6 1040.0,1655.6 1040.8,1655.6 1041.7,1655.6 1042.5,1655.6 1043.3,1655.6 1044.1,1655.6 1044.9,1655.6 1045.7,1655.6 1046.5,1655.6 1047.3,1655.6 1048.1,1655.6 1048.9,1655.6 1049.7,1655.6 1050.5,1655.6 1051.3,1655.6 1052.1,1655.6 1052.9,1655.6 1053.8,1655.6 1054.6,1655.6 1055.4,1655.6 1056.2,1655.6 1057.0,1655.6 1057.8,1655.6 1058.6,1655.6 1059.4,1655.6 1059.4,1655.6Z" fill="#2FB600" stroke="none" stroke-width="0"/>
<line x1="988.4" y1="1655.6" x2="1059.4" y2="1655.6" stroke="#888" stroke-width="1.1"/>
<path d="M988.4,1698.8 988.4,1698.8 989.2,1698.8 990.0,1698.8 990.8,1698.8 991.6,1698.8 992.4,1698.8 993.2,1698.8 994.0,1698.8 994.9,1698.8 995.7,1698.8 996.5,1698.8 997.3,1698.8 998.1,1698.8 998.9,1698.8 999.7,1698.8 1000.5,1698.8 1001.3,1698.8 1002.1,1698.8 1002.9,1698.8 1003.7,1698.7 1004.5,1698.7 1005.3,1698.7 1006.1,1698.7 1007.0,1698.7 1007.8,1698.7 1008.6,1698.7 1009.4,1698.7 1010.2,1698.6 1011.0,1698.6 1011.8,1698.6 1012.6,1698.5 1013.4,1698.5 1014.2,1698.4 1015.0,1698.4 1015.8,1698.3 1016.6,1698.3 1017.4,1698.2 1018.3,1698.2 1019.1,1698.1 1019.9,1698.1 1020.7,1698.0 1021.5,1698.0 1022.3,1698.0 1023.1,1697.9 1023.9,1697.9 1024.7,1697.9 1025.5,1697.9 1026.3,1697.9 1027.1,1698.0 1027.9,1698.1 1028.7,1698.2 1029.5,1698.2 1030.4,1698.3 1031.2,1698.3 1032.0,1698.4 1032.8,1698.4 1033.6,1698.5 1034.4,1698.5 1035.2,1698.6 1036.0,1698.6 1036.8,1698.6 1037.6,1698.6 1038.4,1698.7 1039.2,1698.7 1040.0,1698.7 1040.8,1698.7 1041.7,1698.7 1042.5,1698.7 1043.3,1698.7 1044.1,1698.7 1044.9,1698.7 1045.7,1698.8 1046.5,1698.8 1047.3,1698.8 1048.1,1698.8 1048.9,1698.8 1049.7,1698.8 1050.5,1698.8 1051.3,1698.8 1052.1,1698.8 1052.9,1698.8 1053.8,1698.8 1054.6,1698.8 1055.4,1698.8 1056.2,1698.8 1057.0,1698.8 1057.8,1698.8 1058.6,1698.8 1059.4,1698.8 1059.4,1698.8Z" fill="#00BB4B" stroke="none" stroke-width="0"/>
<line x1="988.4" y1="1698.8" x2="1059.4" y2="1698.8" stroke="#777" stroke-width="1.1"/>
<path d="M988.4,1741.9 988.4,1741.9 989.2,1741.9 990.0,1741.9 990.8,1741.9 991.6,1741.9 992.4,1741.9 993.2,1741.9 994.0,1741.9 994.9,1741.9 995.7,1741.9 996.5,1741.9 997.3,1741.9 998.1,1741.9 998.9,1741.9 999.7,1741.9 1000.5,1741.9 1001.3,1741.9 1002.1,1741.9 1002.9,1741.9 1003.7,1741.9 1004.5,1741.9 1005.3,1741.9 1006.1,1741.9 1007.0,1741.9 1007.8,1741.9 1008.6,1741.9 1009.4,1741.9 1010.2,1741.9 1011.0,1741.9 1011.8,1741.9 1012.6,1741.9 1013.4,1741.9 1014.2,1741.8 1015.0,1741.8 1015.8,1741.7 1016.6,1741.7 1017.4,1741.6 1018.3,1741.4 1019.1,1741.3 1019.9,1741.2 1020.7,1741.0 1021.5,1741.0 1022.3,1740.9 1023.1,1740.8 1023.9,1740.7 1024.7,1740.7 1025.5,1740.8 1026.3,1740.9 1027.1,1741.0 1027.9,1741.2 1028.7,1741.3 1029.5,1741.5 1030.4,1741.6 1031.2,1741.7 1032.0,1741.7 1032.8,1741.8 1033.6,1741.8 1034.4,1741.9 1035.2,1741.9 1036.0,1741.9 1036.8,1741.9 1037.6,1741.9 1038.4,1741.9 1039.2,1741.9 1040.0,1741.9 1040.8,1741.9 1041.7,1741.9 1042.5,1741.9 1043.3,1741.9 1044.1,1741.9 1044.9,1741.9 1045.7,1741.9 1046.5,1741.9 1047.3,1741.9 1048.1,1741.9 1048.9,1741.9 1049.7,1741.9 1050.5,1741.9 1051.3,1741.9 1052.1,1741.9 1052.9,1741.9 1053.8,1741.9 1054.6,1741.9 1055.4,1741.9 1056.2,1741.9 1057.0,1741.9 1057.8,1741.9 1058.6,1741.9 1059.4,1741.9 1059.4,1741.9Z" fill="#00BF76" stroke="none" stroke-width="0"/>
<line x1="988.4" y1="1741.9" x2="1059.4" y2="1741.9" stroke="#1a1a1a" stroke-width="1.1"/>
<path d="M988.4,1785.1 988.4,1785.1 989.2,1785.1 990.0,1785.1 990.8,1785.1 991.6,1785.1 992.4,1785.1 993.2,1785.1 994.0,1785.1 994.9,1785.1 995.7,1785.1 996.5,1785.1 997.3,1785.1 998.1,1785.1 998.9,1785.1 999.7,1785.1 1000.5,1785.1 1001.3,1785.1 1002.1,1785.1 1002.9,1785.1 1003.7,1785.1 1004.5,1785.1 1005.3,1785.1 1006.1,1785.1 1007.0,1785.1 1007.8,1785.1 1008.6,1785.1 1009.4,1785.1 1010.2,1785.1 1011.0,1785.1 1011.8,1785.1 1012.6,1785.1 1013.4,1785.1 1014.2,1785.1 1015.0,1785.1 1015.8,1785.0 1016.6,1784.9 1017.4,1784.7 1018.3,1784.5 1019.1,1784.3 1019.9,1784.2 1020.7,1784.2 1021.5,1784.3 1022.3,1784.5 1023.1,1784.7 1023.9,1784.9 1024.7,1785.0 1025.5,1785.0 1026.3,1785.1 1027.1,1785.1 1027.9,1785.1 1028.7,1785.1 1029.5,1785.1 1030.4,1785.1 1031.2,1785.1 1032.0,1785.1 1032.8,1785.1 1033.6,1785.1 1034.4,1785.1 1035.2,1785.1 1036.0,1785.1 1036.8,1785.1 1037.6,1785.1 1038.4,1785.1 1039.2,1785.1 1040.0,1785.1 1040.8,1785.1 1041.7,1785.1 1042.5,1785.1 1043.3,1785.1 1044.1,1785.1 1044.9,1785.1 1045.7,1785.1 1046.5,1785.1 1047.3,1785.1 1048.1,1785.1 1048.9,1785.1 1049.7,1785.1 1050.5,1785.1 1051.3,1785.1 1052.1,1785.1 1052.9,1785.1 1053.8,1785.1 1054.6,1785.1 1055.4,1785.1 1056.2,1785.1 1057.0,1785.1 1057.8,1785.1 1058.6,1785.1 1059.4,1785.1 1059.4,1785.1Z" fill="#00C098" stroke="none" stroke-width="0"/>
<line x1="988.4" y1="1785.1" x2="1059.4" y2="1785.1" stroke="#1a1a1a" stroke-width="1.1"/>
<path d="M988.4,1828.3 988.4,1828.3 989.2,1828.3 990.0,1828.3 990.8,1828.3 991.6,1828.3 992.4,1828.3 993.2,1828.3 994.0,1828.3 994.9,1828.3 995.7,1828.3 996.5,1828.3 997.3,1828.3 998.1,1828.3 998.9,1828.3 999.7,1828.3 1000.5,1828.3 1001.3,1828.3 1002.1,1828.3 1002.9,1828.3 1003.7,1828.3 1004.5,1828.3 1005.3,1828.3 1006.1,1828.3 1007.0,1828.3 1007.8,1828.3 1008.6,1828.3 1009.4,1828.3 1010.2,1828.3 1011.0,1828.3 1011.8,1828.3 1012.6,1828.3 1013.4,1828.3 1014.2,1828.3 1015.0,1828.2 1015.8,1828.2 1016.6,1828.1 1017.4,1827.9 1018.3,1827.8 1019.1,1827.6 1019.9,1827.5 1020.7,1827.5 1021.5,1827.6 1022.3,1827.7 1023.1,1827.9 1023.9,1828.1 1024.7,1828.2 1025.5,1828.2 1026.3,1828.3 1027.1,1828.3 1027.9,1828.3 1028.7,1828.3 1029.5,1828.3 1030.4,1828.3 1031.2,1828.3 1032.0,1828.3 1032.8,1828.3 1033.6,1828.3 1034.4,1828.3 1035.2,1828.3 1036.0,1828.3 1036.8,1828.3 1037.6,1828.3 1038.4,1828.3 1039.2,1828.3 1040.0,1828.3 1040.8,1828.3 1041.7,1828.3 1042.5,1828.3 1043.3,1828.3 1044.1,1828.3 1044.9,1828.3 1045.7,1828.3 1046.5,1828.3 1047.3,1828.3 1048.1,1828.3 1048.9,1828.3 1049.7,1828.3 1050.5,1828.3 1051.3,1828.3 1052.1,1828.3 1052.9,1828.3 1053.8,1828.3 1054.6,1828.3 1055.4,1828.3 1056.2,1828.3 1057.0,1828.3 1057.8,1828.3 1058.6,1828.3 1059.4,1828.3 1059.4,1828.3Z" fill="#00C0B7" stroke="none" stroke-width="0"/>
<line x1="988.4" y1="1828.3" x2="1059.4" y2="1828.3" stroke="#1a1a1a" stroke-width="1.1"/>
<line x1="988.4" y1="1871.4" x2="1059.4" y2="1871.4" stroke="#1a1a1a" stroke-width="1.1"/>
<line x1="988.4" y1="1914.6" x2="1059.4" y2="1914.6" stroke="#1a1a1a" stroke-width="1.1"/>
<path d="M988.4,1957.8 988.4,1957.8 989.2,1957.8 990.0,1957.8 990.8,1957.8 991.6,1957.8 992.4,1957.8 993.2,1957.8 994.0,1957.8 994.9,1957.8 995.7,1957.8 996.5,1957.8 997.3,1957.8 998.1,1957.8 998.9,1957.8 999.7,1957.8 1000.5,1957.8 1001.3,1957.8 1002.1,1957.8 1002.9,1957.8 1003.7,1957.8 1004.5,1957.8 1005.3,1957.8 1006.1,1957.8 1007.0,1957.8 1007.8,1957.8 1008.6,1957.8 1009.4,1957.8 1010.2,1957.8 1011.0,1957.8 1011.8,1957.8 1012.6,1957.8 1013.4,1957.8 1014.2,1957.8 1015.0,1957.8 1015.8,1957.8 1016.6,1957.8 1017.4,1957.8 1018.3,1957.8 1019.1,1957.8 1019.9,1957.8 1020.7,1957.8 1021.5,1957.8 1022.3,1957.8 1023.1,1957.8 1023.9,1957.8 1024.7,1957.8 1025.5,1957.8 1026.3,1957.8 1027.1,1957.8 1027.9,1957.8 1028.7,1957.8 1029.5,1957.8 1030.4,1957.8 1031.2,1957.8 1032.0,1957.8 1032.8,1957.8 1033.6,1957.8 1034.4,1957.8 1035.2,1957.8 1036.0,1957.8 1036.8,1957.8 1037.6,1957.7 1038.4,1957.7 1039.2,1957.7 1040.0,1957.6 1040.8,1957.5 1041.7,1957.3 1042.5,1957.2 1043.3,1957.0 1044.1,1956.9 1044.9,1956.5 1045.7,1956.2 1046.5,1955.8 1047.3,1955.7 1048.1,1955.5 1048.9,1955.4 1049.7,1955.3 1050.5,1955.4 1051.3,1955.6 1052.1,1955.9 1052.9,1956.1 1053.8,1956.5 1054.6,1956.7 1055.4,1956.9 1056.2,1957.1 1057.0,1957.3 1057.8,1957.4 1058.6,1957.6 1059.4,1957.6 1059.4,1957.8Z" fill="#00AEFA" stroke="none" stroke-width="0"/>
<line x1="988.4" y1="1957.8" x2="1059.4" y2="1957.8" stroke="#777" stroke-width="1.1"/>
<line x1="988.4" y1="2001.0" x2="1059.4" y2="2001.0" stroke="#777" stroke-width="1.1"/>
<path d="M988.4,2044.1 988.4,2044.1 989.2,2044.1 990.0,2044.1 990.8,2044.1 991.6,2044.1 992.4,2044.1 993.2,2044.1 994.0,2044.1 994.9,2044.1 995.7,2044.1 996.5,2044.1 997.3,2044.1 998.1,2044.1 998.9,2044.1 999.7,2044.1 1000.5,2044.1 1001.3,2044.1 1002.1,2044.0 1002.9,2044.0 1003.7,2044.0 1004.5,2043.9 1005.3,2043.9 1006.1,2043.9 1007.0,2043.8 1007.8,2043.8 1008.6,2043.7 1009.4,2043.6 1010.2,2043.6 1011.0,2043.5 1011.8,2043.5 1012.6,2043.4 1013.4,2043.4 1014.2,2043.4 1015.0,2043.4 1015.8,2043.3 1016.6,2043.3 1017.4,2043.2 1018.3,2043.3 1019.1,2043.3 1019.9,2043.4 1020.7,2043.4 1021.5,2043.4 1022.3,2043.5 1023.1,2043.6 1023.9,2043.6 1024.7,2043.7 1025.5,2043.8 1026.3,2043.8 1027.1,2043.9 1027.9,2043.9 1028.7,2043.9 1029.5,2044.0 1030.4,2044.0 1031.2,2044.0 1032.0,2044.0 1032.8,2044.1 1033.6,2044.1 1034.4,2044.1 1035.2,2044.1 1036.0,2044.1 1036.8,2044.1 1037.6,2044.1 1038.4,2044.1 1039.2,2044.1 1040.0,2044.1 1040.8,2044.1 1041.7,2044.1 1042.5,2044.1 1043.3,2044.1 1044.1,2044.1 1044.9,2044.1 1045.7,2044.1 1046.5,2044.1 1047.3,2044.1 1048.1,2044.1 1048.9,2044.1 1049.7,2044.1 1050.5,2044.1 1051.3,2044.1 1052.1,2044.1 1052.9,2044.1 1053.8,2044.1 1054.6,2044.1 1055.4,2044.1 1056.2,2044.1 1057.0,2044.1 1057.8,2044.1 1058.6,2044.1 1059.4,2044.1 1059.4,2044.1Z" fill="#8F91FF" stroke="none" stroke-width="0"/>
<line x1="988.4" y1="2044.1" x2="1059.4" y2="2044.1" stroke="#aaf" stroke-width="1.1"/>
<path d="M988.4,2087.3 988.4,2087.3 989.2,2087.3 990.0,2087.3 990.8,2087.3 991.6,2087.3 992.4,2087.3 993.2,2087.3 994.0,2087.3 994.9,2087.3 995.7,2087.3 996.5,2087.3 997.3,2087.3 998.1,2087.3 998.9,2087.3 999.7,2087.3 1000.5,2087.3 1001.3,2087.3 1002.1,2087.3 1002.9,2087.3 1003.7,2087.3 1004.5,2087.3 1005.3,2087.3 1006.1,2087.3 1007.0,2087.3 1007.8,2087.3 1008.6,2087.3 1009.4,2087.2 1010.2,2087.2 1011.0,2087.2 1011.8,2087.2 1012.6,2087.2 1013.4,2087.1 1014.2,2087.1 1015.0,2087.0 1015.8,2087.0 1016.6,2086.9 1017.4,2086.9 1018.3,2086.8 1019.1,2086.7 1019.9,2086.7 1020.7,2086.6 1021.5,2086.5 1022.3,2086.4 1023.1,2086.3 1023.9,2086.2 1024.7,2086.2 1025.5,2086.1 1026.3,2086.0 1027.1,2086.0 1027.9,2086.0 1028.7,2086.1 1029.5,2086.1 1030.4,2086.2 1031.2,2086.3 1032.0,2086.4 1032.8,2086.5 1033.6,2086.5 1034.4,2086.5 1035.2,2086.6 1036.0,2086.7 1036.8,2086.8 1037.6,2086.9 1038.4,2086.9 1039.2,2087.0 1040.0,2087.1 1040.8,2087.1 1041.7,2087.1 1042.5,2087.2 1043.3,2087.2 1044.1,2087.2 1044.9,2087.2 1045.7,2087.2 1046.5,2087.3 1047.3,2087.3 1048.1,2087.3 1048.9,2087.3 1049.7,2087.3 1050.5,2087.3 1051.3,2087.3 1052.1,2087.3 1052.9,2087.3 1053.8,2087.3 1054.6,2087.3 1055.4,2087.3 1056.2,2087.3 1057.0,2087.3 1057.8,2087.3 1058.6,2087.3 1059.4,2087.3 1059.4,2087.3Z" fill="#BE80FF" stroke="none" stroke-width="0"/>
<line x1="988.4" y1="2087.3" x2="1059.4" y2="2087.3" stroke="#1a1a1a" stroke-width="1.1"/>
<path d="M988.4,2130.5 988.4,2129.0 989.2,2129.1 990.0,2129.0 990.8,2129.1 991.6,2129.0 992.4,2129.1 993.2,2129.1 994.0,2129.0 994.9,2129.0 995.7,2128.9 996.5,2129.0 997.3,2129.0 998.1,2129.1 998.9,2129.0 999.7,2128.2 1000.5,2127.3 1001.3,2126.7 1002.1,2126.3 1002.9,2125.8 1003.7,2124.8 1004.5,2124.1 1005.3,2122.8 1006.1,2120.4 1007.0,2118.5 1007.8,2115.8 1008.6,2114.5 1009.4,2112.9 1010.2,2111.5 1011.0,2111.1 1011.8,2111.2 1012.6,2110.3 1013.4,2108.8 1014.2,2106.9 1015.0,2104.2 1015.8,2104.3 1016.6,2103.6 1017.4,2103.9 1018.3,2103.5 1019.1,2102.9 1019.9,2104.1 1020.7,2105.4 1021.5,2106.9 1022.3,2109.0 1023.1,2109.4 1023.9,2110.2 1024.7,2111.9 1025.5,2112.9 1026.3,2114.2 1027.1,2115.2 1027.9,2118.0 1028.7,2119.8 1029.5,2120.1 1030.4,2120.7 1031.2,2121.6 1032.0,2122.6 1032.8,2122.4 1033.6,2122.8 1034.4,2122.6 1035.2,2123.4 1036.0,2123.8 1036.8,2124.6 1037.6,2124.6 1038.4,2124.8 1039.2,2124.9 1040.0,2125.3 1040.8,2125.4 1041.7,2125.7 1042.5,2125.8 1043.3,2125.9 1044.1,2125.7 1044.9,2126.0 1045.7,2126.2 1046.5,2126.4 1047.3,2126.6 1048.1,2126.8 1048.9,2127.2 1049.7,2127.5 1050.5,2127.7 1051.3,2127.9 1052.1,2128.1 1052.9,2128.3 1053.8,2128.5 1054.6,2128.6 1055.4,2128.6 1056.2,2128.7 1057.0,2128.9 1057.8,2129.1 1058.6,2129.3 1059.4,2129.4 1059.4,2130.5Z" fill="#DE71F9" stroke="none" stroke-width="0"/>
<line x1="988.4" y1="2130.5" x2="1059.4" y2="2130.5" stroke="#1a1a1a" stroke-width="1.1"/>
<path d="M988.4,2173.6 988.4,2172.1 989.2,2171.9 990.0,2171.8 990.8,2171.5 991.6,2171.5 992.4,2171.4 993.2,2171.3 994.0,2171.3 994.9,2171.0 995.7,2170.8 996.5,2170.6 997.3,2170.4 998.1,2170.1 998.9,2170.1 999.7,2170.0 1000.5,2170.1 1001.3,2170.0 1002.1,2169.8 1002.9,2169.7 1003.7,2169.4 1004.5,2167.9 1005.3,2165.8 1006.1,2164.1 1007.0,2161.9 1007.8,2160.1 1008.6,2158.6 1009.4,2157.3 1010.2,2156.4 1011.0,2155.1 1011.8,2154.7 1012.6,2153.3 1013.4,2151.2 1014.2,2149.6 1015.0,2147.7 1015.8,2148.1 1016.6,2147.4 1017.4,2147.6 1018.3,2145.7 1019.1,2143.4 1019.9,2142.7 1020.7,2146.1 1021.5,2148.3 1022.3,2152.4 1023.1,2153.6 1023.9,2155.0 1024.7,2155.9 1025.5,2158.0 1026.3,2159.9 1027.1,2162.6 1027.9,2164.3 1028.7,2166.3 1029.5,2166.5 1030.4,2166.7 1031.2,2167.1 1032.0,2167.7 1032.8,2167.9 1033.6,2168.4 1034.4,2168.6 1035.2,2168.7 1036.0,2168.7 1036.8,2168.6 1037.6,2168.8 1038.4,2168.7 1039.2,2168.7 1040.0,2168.5 1040.8,2168.2 1041.7,2167.7 1042.5,2167.2 1043.3,2166.9 1044.1,2167.5 1044.9,2167.6 1045.7,2168.1 1046.5,2168.6 1047.3,2169.1 1048.1,2169.6 1048.9,2169.9 1049.7,2170.4 1050.5,2170.5 1051.3,2170.7 1052.1,2170.7 1052.9,2170.9 1053.8,2171.0 1054.6,2171.1 1055.4,2171.3 1056.2,2171.5 1057.0,2171.7 1057.8,2171.9 1058.6,2172.1 1059.4,2172.2 1059.4,2173.6Z" fill="#F265E7" stroke="none" stroke-width="0"/>
<line x1="988.4" y1="2173.6" x2="1059.4" y2="2173.6" stroke="#1a1a1a" stroke-width="1.1"/>
<path d="M988.4,2216.8 988.4,2215.4 989.2,2215.5 990.0,2215.7 990.8,2215.8 991.6,2216.0 992.4,2216.2 993.2,2216.5 994.0,2216.6 994.9,2216.8 995.7,2216.6 996.5,2216.4 997.3,2216.2 998.1,2216.0 998.9,2215.7 999.7,2215.5 1000.5,2215.3 1001.3,2215.2 1002.1,2215.1 1002.9,2215.0 1003.7,2214.8 1004.5,2214.5 1005.3,2214.5 1006.1,2214.6 1007.0,2214.8 1007.8,2214.8 1008.6,2215.2 1009.4,2215.5 1010.2,2215.7 1011.0,2215.9 1011.8,2216.0 1012.6,2216.2 1013.4,2215.9 1014.2,2215.5 1015.0,2215.1 1015.8,2214.6 1016.6,2214.1 1017.4,2213.7 1018.3,2212.3 1019.1,2210.7 1019.9,2208.8 1020.7,2207.5 1021.5,2206.0 1022.3,2204.4 1023.1,2202.7 1023.9,2202.6 1024.7,2202.8 1025.5,2204.4 1026.3,2205.3 1027.1,2206.6 1027.9,2207.5 1028.7,2208.0 1029.5,2209.0 1030.4,2209.6 1031.2,2210.1 1032.0,2211.0 1032.8,2211.4 1033.6,2212.1 1034.4,2212.3 1035.2,2211.3 1036.0,2210.3 1036.8,2209.4 1037.6,2208.0 1038.4,2207.1 1039.2,2205.6 1040.0,2204.6 1040.8,2204.2 1041.7,2203.4 1042.5,2202.6 1043.3,2202.0 1044.1,2202.9 1044.9,2202.8 1045.7,2202.9 1046.5,2203.2 1047.3,2204.9 1048.1,2205.8 1048.9,2207.2 1049.7,2208.2 1050.5,2209.7 1051.3,2210.7 1052.1,2212.0 1052.9,2213.3 1053.8,2214.4 1054.6,2214.6 1055.4,2214.9 1056.2,2215.1 1057.0,2215.4 1057.8,2215.7 1058.6,2216.0 1059.4,2216.3 1059.4,2216.8Z" fill="#FE61CF" stroke="none" stroke-width="0"/>
<line x1="988.4" y1="2216.8" x2="1059.4" y2="2216.8" stroke="#1a1a1a" stroke-width="1.1"/>
<path d="M988.4,2260.0 988.4,2259.5 989.2,2259.5 990.0,2259.5 990.8,2259.5 991.6,2259.5 992.4,2259.4 993.2,2259.4 994.0,2259.5 994.9,2259.5 995.7,2259.5 996.5,2259.5 997.3,2259.5 998.1,2259.2 998.9,2258.0 999.7,2256.8 1000.5,2255.6 1001.3,2254.3 1002.1,2252.9 1002.9,2251.4 1003.7,2250.2 1004.5,2249.3 1005.3,2247.9 1006.1,2246.2 1007.0,2243.9 1007.8,2241.7 1008.6,2240.1 1009.4,2238.6 1010.2,2238.8 1011.0,2238.3 1011.8,2238.0 1012.6,2238.6 1013.4,2236.8 1014.2,2233.9 1015.0,2227.0 1015.8,2225.6 1016.6,2224.5 1017.4,2226.1 1018.3,2224.4 1019.1,2222.3 1019.9,2219.6 1020.7,2221.1 1021.5,2221.2 1022.3,2221.3 1023.1,2220.7 1023.9,2220.2 1024.7,2225.4 1025.5,2228.6 1026.3,2233.7 1027.1,2237.5 1027.9,2236.2 1028.7,2233.7 1029.5,2231.2 1030.4,2229.9 1031.2,2229.1 1032.0,2227.6 1032.8,2226.3 1033.6,2225.4 1034.4,2224.0 1035.2,2223.3 1036.0,2224.6 1036.8,2226.2 1037.6,2230.1 1038.4,2233.2 1039.2,2236.3 1040.0,2239.0 1040.8,2239.9 1041.7,2241.7 1042.5,2245.0 1043.3,2247.3 1044.1,2249.5 1044.9,2250.1 1045.7,2251.1 1046.5,2251.2 1047.3,2250.9 1048.1,2250.4 1048.9,2250.3 1049.7,2250.3 1050.5,2250.8 1051.3,2250.7 1052.1,2251.2 1052.9,2251.2 1053.8,2251.5 1054.6,2250.9 1055.4,2250.4 1056.2,2251.5 1057.0,2253.3 1057.8,2254.9 1058.6,2256.4 1059.4,2258.0 1059.4,2260.0Z" fill="#FF64B3" stroke="none" stroke-width="0"/>
<line x1="988.4" y1="2260.0" x2="1059.4" y2="2260.0" stroke="#1a1a1a" stroke-width="1.1"/>
<path d="M988.4,2303.1 988.4,2303.1 989.2,2303.1 990.0,2303.1 990.8,2303.1 991.6,2303.1 992.4,2303.1 993.2,2303.1 994.0,2303.1 994.9,2303.1 995.7,2303.1 996.5,2303.1 997.3,2303.1 998.1,2303.1 998.9,2303.1 999.7,2303.1 1000.5,2303.1 1001.3,2303.1 1002.1,2303.1 1002.9,2303.1 1003.7,2303.1 1004.5,2303.1 1005.3,2303.1 1006.1,2303.1 1007.0,2303.1 1007.8,2303.1 1008.6,2303.1 1009.4,2303.1 1010.2,2303.0 1011.0,2302.7 1011.8,2302.4 1012.6,2302.1 1013.4,2301.8 1014.2,2301.6 1015.0,2301.6 1015.8,2301.6 1016.6,2301.6 1017.4,2301.6 1018.3,2301.6 1019.1,2300.4 1019.9,2299.0 1020.7,2299.6 1021.5,2300.3 1022.3,2300.7 1023.1,2300.8 1023.9,2300.9 1024.7,2301.1 1025.5,2301.3 1026.3,2301.6 1027.1,2302.1 1027.9,2302.9 1028.7,2303.1 1029.5,2303.1 1030.4,2303.1 1031.2,2303.1 1032.0,2303.1 1032.8,2303.1 1033.6,2303.1 1034.4,2303.1 1035.2,2303.1 1036.0,2303.1 1036.8,2303.1 1037.6,2303.1 1038.4,2303.1 1039.2,2303.1 1040.0,2303.1 1040.8,2303.1 1041.7,2303.1 1042.5,2303.1 1043.3,2303.1 1044.1,2303.1 1044.9,2303.1 1045.7,2303.1 1046.5,2303.1 1047.3,2303.1 1048.1,2303.1 1048.9,2303.1 1049.7,2303.1 1050.5,2303.1 1051.3,2303.1 1052.1,2303.1 1052.9,2303.1 1053.8,2303.1 1054.6,2303.1 1055.4,2303.1 1056.2,2303.1 1057.0,2303.1 1057.8,2303.1 1058.6,2303.1 1059.4,2303.1 1059.4,2303.1Z" fill="#FF6C92" stroke="none" stroke-width="0"/>
<line x1="988.4" y1="2303.1" x2="1059.4" y2="2303.1" stroke="#777" stroke-width="1.1"/>
<rect x="999.40" y="1312.20" width="5.80" height="1009.40" fill="#808080" stroke="none" stroke-width="0" opacity="0.6" style="mix-blend-mode:saturation"/>
<rect x="999.40" y="1312.20" width="5.80" height="1009.40" fill="#d2aad2" stroke="none" stroke-width="0" fill-opacity="0.25"/>
<rect x="1014.80" y="1312.20" width="5.20" height="1009.40" fill="#808080" stroke="none" stroke-width="0" opacity="0.6" style="mix-blend-mode:saturation"/>
<rect x="1014.80" y="1312.20" width="5.20" height="1009.40" fill="#d2aad2" stroke="none" stroke-width="0" fill-opacity="0.25"/>
<path d="M1149.3,1354.2 1149.3,1354.2 1150.1,1354.2 1150.9,1354.2 1151.7,1354.2 1152.5,1354.2 1153.3,1354.2 1154.1,1354.2 1155.0,1354.2 1155.8,1354.2 1156.6,1354.2 1157.4,1354.2 1158.2,1354.2 1159.0,1354.2 1159.8,1354.2 1160.6,1354.2 1161.4,1354.2 1162.2,1354.2 1163.0,1354.2 1163.8,1354.2 1164.6,1354.2 1165.4,1354.2 1166.2,1354.2 1167.1,1354.2 1167.9,1354.2 1168.7,1354.2 1169.5,1354.1 1170.3,1354.1 1171.1,1354.1 1171.9,1354.1 1172.7,1354.0 1173.5,1354.0 1174.3,1353.9 1175.1,1353.9 1175.9,1353.8 1176.7,1353.7 1177.5,1353.6 1178.4,1353.5 1179.2,1353.4 1180.0,1353.4 1180.8,1353.3 1181.6,1353.3 1182.4,1353.2 1183.2,1353.1 1184.0,1353.2 1184.8,1353.3 1185.6,1353.4 1186.4,1353.4 1187.2,1353.5 1188.0,1353.5 1188.8,1353.6 1189.7,1353.7 1190.5,1353.8 1191.3,1353.9 1192.1,1353.9 1192.9,1354.0 1193.7,1354.0 1194.5,1354.1 1195.3,1354.1 1196.1,1354.1 1196.9,1354.1 1197.7,1354.2 1198.5,1354.2 1199.3,1354.2 1200.1,1354.2 1201.0,1354.2 1201.8,1354.2 1202.6,1354.2 1203.4,1354.2 1204.2,1354.2 1205.0,1354.2 1205.8,1354.2 1205.8,1354.2Z" fill="#F8766D" stroke="none" stroke-width="0"/>
<line x1="1149.3" y1="1354.2" x2="1205.8" y2="1354.2" stroke="#777" stroke-width="1.1"/>
<path d="M1149.3,1397.3 1149.3,1397.3 1150.1,1397.3 1150.9,1397.3 1151.7,1397.3 1152.5,1397.3 1153.3,1397.3 1154.1,1397.3 1155.0,1397.3 1155.8,1397.3 1156.6,1397.3 1157.4,1397.3 1158.2,1397.3 1159.0,1397.3 1159.8,1397.3 1160.6,1397.3 1161.4,1397.3 1162.2,1397.3 1163.0,1397.3 1163.8,1397.3 1164.6,1397.3 1165.4,1397.3 1166.2,1397.3 1167.1,1397.3 1167.9,1397.3 1168.7,1397.3 1169.5,1397.3 1170.3,1397.3 1171.1,1397.2 1171.9,1397.2 1172.7,1397.1 1173.5,1397.1 1174.3,1397.0 1175.1,1396.9 1175.9,1396.9 1176.7,1396.7 1177.5,1396.6 1178.4,1396.5 1179.2,1396.4 1180.0,1396.4 1180.8,1396.3 1181.6,1396.2 1182.4,1396.2 1183.2,1396.2 1184.0,1396.1 1184.8,1396.1 1185.6,1396.2 1186.4,1396.3 1187.2,1396.4 1188.0,1396.5 1188.8,1396.6 1189.7,1396.7 1190.5,1396.8 1191.3,1396.9 1192.1,1397.0 1192.9,1397.1 1193.7,1397.1 1194.5,1397.2 1195.3,1397.2 1196.1,1397.3 1196.9,1397.3 1197.7,1397.3 1198.5,1397.3 1199.3,1397.3 1200.1,1397.3 1201.0,1397.3 1201.8,1397.3 1202.6,1397.3 1203.4,1397.3 1204.2,1397.3 1205.0,1397.3 1205.8,1397.3 1205.8,1397.3Z" fill="#EC823C" stroke="none" stroke-width="0"/>
<line x1="1149.3" y1="1397.3" x2="1205.8" y2="1397.3" stroke="#1a1a1a" stroke-width="1.1"/>
<path d="M1149.3,1440.5 1149.3,1440.5 1150.1,1440.5 1150.9,1440.5 1151.7,1440.4 1152.5,1440.4 1153.3,1440.4 1154.1,1440.4 1155.0,1440.3 1155.8,1440.3 1156.6,1440.2 1157.4,1440.2 1158.2,1440.1 1159.0,1440.0 1159.8,1440.0 1160.6,1439.9 1161.4,1439.8 1162.2,1439.7 1163.0,1439.6 1163.8,1439.5 1164.6,1439.4 1165.4,1439.4 1166.2,1439.4 1167.1,1439.5 1167.9,1439.6 1168.7,1439.7 1169.5,1439.7 1170.3,1439.7 1171.1,1439.8 1171.9,1439.9 1172.7,1440.0 1173.5,1440.1 1174.3,1440.1 1175.1,1440.2 1175.9,1440.2 1176.7,1440.2 1177.5,1440.2 1178.4,1440.2 1179.2,1440.1 1180.0,1439.9 1180.8,1439.7 1181.6,1439.6 1182.4,1439.5 1183.2,1439.6 1184.0,1439.6 1184.8,1439.7 1185.6,1439.8 1186.4,1440.0 1187.2,1440.1 1188.0,1440.2 1188.8,1440.3 1189.7,1440.4 1190.5,1440.4 1191.3,1440.5 1192.1,1440.5 1192.9,1440.5 1193.7,1440.5 1194.5,1440.5 1195.3,1440.5 1196.1,1440.5 1196.9,1440.5 1197.7,1440.5 1198.5,1440.5 1199.3,1440.5 1200.1,1440.5 1201.0,1440.5 1201.8,1440.5 1202.6,1440.5 1203.4,1440.5 1204.2,1440.5 1205.0,1440.5 1205.8,1440.5 1205.8,1440.5Z" fill="#DD8D00" stroke="none" stroke-width="0"/>
<line x1="1149.3" y1="1440.5" x2="1205.8" y2="1440.5" stroke="#777" stroke-width="1.1"/>
<path d="M1149.3,1483.6 1149.3,1483.6 1150.1,1483.6 1150.9,1483.6 1151.7,1483.6 1152.5,1483.6 1153.3,1483.6 1154.1,1483.5 1155.0,1483.5 1155.8,1483.5 1156.6,1483.4 1157.4,1483.3 1158.2,1483.2 1159.0,1483.1 1159.8,1483.1 1160.6,1483.0 1161.4,1483.0 1162.2,1482.9 1163.0,1482.8 1163.8,1482.7 1164.6,1482.6 1165.4,1482.6 1166.2,1482.6 1167.1,1482.6 1167.9,1482.7 1168.7,1482.8 1169.5,1482.8 1170.3,1482.9 1171.1,1483.0 1171.9,1483.0 1172.7,1483.1 1173.5,1483.2 1174.3,1483.2 1175.1,1483.3 1175.9,1483.4 1176.7,1483.4 1177.5,1483.5 1178.4,1483.5 1179.2,1483.5 1180.0,1483.6 1180.8,1483.6 1181.6,1483.6 1182.4,1483.6 1183.2,1483.6 1184.0,1483.6 1184.8,1483.6 1185.6,1483.6 1186.4,1483.6 1187.2,1483.6 1188.0,1483.6 1188.8,1483.6 1189.7,1483.6 1190.5,1483.6 1191.3,1483.6 1192.1,1483.6 1192.9,1483.6 1193.7,1483.6 1194.5,1483.6 1195.3,1483.6 1196.1,1483.6 1196.9,1483.6 1197.7,1483.6 1198.5,1483.6 1199.3,1483.6 1200.1,1483.6 1201.0,1483.6 1201.8,1483.6 1202.6,1483.6 1203.4,1483.6 1204.2,1483.6 1205.0,1483.6 1205.8,1483.6 1205.8,1483.6Z" fill="#CA9700" stroke="none" stroke-width="0"/>
<line x1="1149.3" y1="1483.6" x2="1205.8" y2="1483.6" stroke="#777" stroke-width="1.1"/>
<path d="M1149.3,1526.8 1149.3,1526.7 1150.1,1526.7 1150.9,1526.6 1151.7,1526.6 1152.5,1526.6 1153.3,1526.5 1154.1,1526.4 1155.0,1526.4 1155.8,1526.3 1156.6,1526.2 1157.4,1526.1 1158.2,1526.0 1159.0,1526.0 1159.8,1525.9 1160.6,1525.8 1161.4,1525.7 1162.2,1525.5 1163.0,1525.4 1163.8,1525.3 1164.6,1525.2 1165.4,1525.2 1166.2,1525.2 1167.1,1525.2 1167.9,1525.2 1168.7,1525.3 1169.5,1525.3 1170.3,1525.4 1171.1,1525.5 1171.9,1525.6 1172.7,1525.8 1173.5,1525.9 1174.3,1526.0 1175.1,1526.2 1175.9,1526.2 1176.7,1526.3 1177.5,1526.4 1178.4,1526.5 1179.2,1526.5 1180.0,1526.6 1180.8,1526.6 1181.6,1526.6 1182.4,1526.7 1183.2,1526.7 1184.0,1526.7 1184.8,1526.7 1185.6,1526.7 1186.4,1526.7 1187.2,1526.7 1188.0,1526.8 1188.8,1526.8 1189.7,1526.8 1190.5,1526.8 1191.3,1526.8 1192.1,1526.8 1192.9,1526.8 1193.7,1526.8 1194.5,1526.8 1195.3,1526.8 1196.1,1526.8 1196.9,1526.8 1197.7,1526.8 1198.5,1526.8 1199.3,1526.8 1200.1,1526.8 1201.0,1526.8 1201.8,1526.8 1202.6,1526.8 1203.4,1526.8 1204.2,1526.8 1205.0,1526.8 1205.8,1526.8 1205.8,1526.8Z" fill="#B3A000" stroke="none" stroke-width="0"/>
<line x1="1149.3" y1="1526.8" x2="1205.8" y2="1526.8" stroke="#777" stroke-width="1.1"/>
<path d="M1149.3,1569.9 1149.3,1569.9 1150.1,1569.9 1150.9,1569.9 1151.7,1569.9 1152.5,1569.9 1153.3,1569.9 1154.1,1569.9 1155.0,1569.8 1155.8,1569.8 1156.6,1569.8 1157.4,1569.7 1158.2,1569.7 1159.0,1569.7 1159.8,1569.6 1160.6,1569.5 1161.4,1569.4 1162.2,1569.3 1163.0,1569.2 1163.8,1569.1 1164.6,1569.1 1165.4,1569.0 1166.2,1568.9 1167.1,1568.7 1167.9,1568.5 1168.7,1568.4 1169.5,1568.3 1170.3,1568.2 1171.1,1568.2 1171.9,1568.1 1172.7,1568.1 1173.5,1568.1 1174.3,1568.1 1175.1,1568.0 1175.9,1568.0 1176.7,1567.9 1177.5,1567.9 1178.4,1567.8 1179.2,1567.8 1180.0,1567.8 1180.8,1567.8 1181.6,1567.8 1182.4,1567.8 1183.2,1567.9 1184.0,1568.0 1184.8,1568.1 1185.6,1568.2 1186.4,1568.4 1187.2,1568.5 1188.0,1568.7 1188.8,1568.9 1189.7,1569.1 1190.5,1569.3 1191.3,1569.4 1192.1,1569.5 1192.9,1569.6 1193.7,1569.6 1194.5,1569.7 1195.3,1569.7 1196.1,1569.8 1196.9,1569.8 1197.7,1569.8 1198.5,1569.9 1199.3,1569.9 1200.1,1569.9 1201.0,1569.9 1201.8,1569.9 1202.6,1569.9 1203.4,1569.9 1204.2,1569.9 1205.0,1569.9 1205.8,1569.9 1205.8,1569.9Z" fill="#97A900" stroke="none" stroke-width="0"/>
<line x1="1149.3" y1="1569.9" x2="1205.8" y2="1569.9" stroke="#1a1a1a" stroke-width="1.1"/>
<path d="M1149.3,1613.0 1149.3,1613.0 1150.1,1613.0 1150.9,1613.0 1151.7,1613.0 1152.5,1613.0 1153.3,1613.0 1154.1,1613.0 1155.0,1613.0 1155.8,1613.0 1156.6,1613.0 1157.4,1613.0 1158.2,1613.0 1159.0,1613.0 1159.8,1613.0 1160.6,1613.0 1161.4,1613.0 1162.2,1613.0 1163.0,1613.0 1163.8,1612.9 1164.6,1612.9 1165.4,1612.9 1166.2,1612.8 1167.1,1612.8 1167.9,1612.7 1168.7,1612.6 1169.5,1612.5 1170.3,1612.4 1171.1,1612.3 1171.9,1612.2 1172.7,1612.0 1173.5,1611.9 1174.3,1611.8 1175.1,1611.8 1175.9,1611.7 1176.7,1611.5 1177.5,1611.3 1178.4,1611.2 1179.2,1611.1 1180.0,1611.1 1180.8,1611.1 1181.6,1611.1 1182.4,1611.2 1183.2,1611.3 1184.0,1611.5 1184.8,1611.6 1185.6,1611.8 1186.4,1611.9 1187.2,1611.9 1188.0,1612.0 1188.8,1612.1 1189.7,1612.2 1190.5,1612.2 1191.3,1612.2 1192.1,1612.2 1192.9,1612.2 1193.7,1612.1 1194.5,1612.0 1195.3,1611.8 1196.1,1611.7 1196.9,1611.6 1197.7,1611.6 1198.5,1611.4 1199.3,1611.3 1200.1,1611.2 1201.0,1611.2 1201.8,1611.4 1202.6,1611.6 1203.4,1611.6 1204.2,1611.8 1205.0,1611.9 1205.8,1612.2 1205.8,1613.0Z" fill="#71B000" stroke="none" stroke-width="0"/>
<line x1="1149.3" y1="1613.0" x2="1205.8" y2="1613.0" stroke="#1a1a1a" stroke-width="1.1"/>
<path d="M1149.3,1656.2 1149.3,1651.6 1150.1,1651.6 1150.9,1651.7 1151.7,1651.6 1152.5,1651.6 1153.3,1651.4 1154.1,1651.2 1155.0,1651.4 1155.8,1651.6 1156.6,1651.7 1157.4,1651.7 1158.2,1651.9 1159.0,1656.2 1159.8,1656.2 1160.6,1656.2 1161.4,1656.2 1162.2,1656.2 1163.0,1656.2 1163.8,1656.2 1164.6,1656.2 1165.4,1656.2 1166.2,1656.2 1167.1,1656.2 1167.9,1656.2 1168.7,1656.2 1169.5,1656.2 1170.3,1656.2 1171.1,1656.2 1171.9,1656.2 1172.7,1656.2 1173.5,1656.2 1174.3,1656.2 1175.1,1656.2 1175.9,1656.2 1176.7,1656.2 1177.5,1656.2 1178.4,1656.2 1179.2,1656.2 1180.0,1656.2 1180.8,1656.2 1181.6,1656.2 1182.4,1656.2 1183.2,1656.2 1184.0,1656.2 1184.8,1656.2 1185.6,1656.2 1186.4,1656.2 1187.2,1656.2 1188.0,1656.2 1188.8,1656.2 1189.7,1656.2 1190.5,1656.2 1191.3,1656.2 1192.1,1656.2 1192.9,1656.2 1193.7,1652.0 1194.5,1652.1 1195.3,1652.2 1196.1,1652.3 1196.9,1652.4 1197.7,1652.3 1198.5,1652.2 1199.3,1656.2 1200.1,1656.2 1201.0,1656.2 1201.8,1656.2 1202.6,1652.4 1203.4,1652.4 1204.2,1652.2 1205.0,1652.4 1205.8,1656.2 1205.8,1656.2Z" fill="#2FB600" stroke="none" stroke-width="0"/>
<line x1="1149.3" y1="1656.2" x2="1205.8" y2="1656.2" stroke="#1a1a1a" stroke-width="1.1"/>
<path d="M1149.3,1699.3 1149.3,1699.3 1150.1,1699.3 1150.9,1699.3 1151.7,1699.3 1152.5,1699.3 1153.3,1699.3 1154.1,1699.3 1155.0,1699.2 1155.8,1699.1 1156.6,1699.1 1157.4,1698.9 1158.2,1698.8 1159.0,1698.6 1159.8,1698.6 1160.6,1698.6 1161.4,1698.6 1162.2,1698.7 1163.0,1698.8 1163.8,1698.9 1164.6,1699.0 1165.4,1699.1 1166.2,1699.2 1167.1,1699.3 1167.9,1699.3 1168.7,1699.3 1169.5,1699.3 1170.3,1699.3 1171.1,1699.3 1171.9,1699.3 1172.7,1699.3 1173.5,1699.3 1174.3,1699.3 1175.1,1699.3 1175.9,1699.3 1176.7,1699.3 1177.5,1699.3 1178.4,1699.3 1179.2,1699.3 1180.0,1699.3 1180.8,1699.3 1181.6,1699.3 1182.4,1699.3 1183.2,1699.3 1184.0,1699.3 1184.8,1699.3 1185.6,1699.3 1186.4,1699.3 1187.2,1699.3 1188.0,1699.3 1188.8,1699.3 1189.7,1699.3 1190.5,1699.3 1191.3,1699.3 1192.1,1699.3 1192.9,1699.3 1193.7,1699.3 1194.5,1699.3 1195.3,1699.3 1196.1,1699.3 1196.9,1699.3 1197.7,1699.3 1198.5,1699.3 1199.3,1699.3 1200.1,1699.3 1201.0,1699.3 1201.8,1699.3 1202.6,1699.3 1203.4,1699.3 1204.2,1699.3 1205.0,1699.3 1205.8,1699.3 1205.8,1699.3Z" fill="#00BB4B" stroke="none" stroke-width="0"/>
<line x1="1149.3" y1="1699.3" x2="1205.8" y2="1699.3" stroke="#1a1a1a" stroke-width="1.1"/>
<path d="M1149.3,1742.5 1149.3,1742.5 1150.1,1742.5 1150.9,1742.5 1151.7,1742.5 1152.5,1742.5 1153.3,1742.5 1154.1,1742.5 1155.0,1742.5 1155.8,1742.5 1156.6,1742.5 1157.4,1742.5 1158.2,1742.5 1159.0,1742.5 1159.8,1742.5 1160.6,1742.5 1161.4,1742.5 1162.2,1742.5 1163.0,1742.5 1163.8,1742.5 1164.6,1742.5 1165.4,1742.5 1166.2,1742.4 1167.1,1742.4 1167.9,1742.4 1168.7,1742.4 1169.5,1742.4 1170.3,1742.4 1171.1,1742.4 1171.9,1742.3 1172.7,1742.3 1173.5,1742.2 1174.3,1742.2 1175.1,1742.1 1175.9,1742.0 1176.7,1741.9 1177.5,1741.8 1178.4,1741.7 1179.2,1741.7 1180.0,1741.7 1180.8,1741.6 1181.6,1741.6 1182.4,1741.5 1183.2,1741.5 1184.0,1741.5 1184.8,1741.5 1185.6,1741.6 1186.4,1741.7 1187.2,1741.7 1188.0,1741.8 1188.8,1741.9 1189.7,1742.0 1190.5,1742.1 1191.3,1742.1 1192.1,1742.2 1192.9,1742.3 1193.7,1742.3 1194.5,1742.3 1195.3,1742.4 1196.1,1742.4 1196.9,1742.4 1197.7,1742.4 1198.5,1742.4 1199.3,1742.4 1200.1,1742.4 1201.0,1742.5 1201.8,1742.5 1202.6,1742.5 1203.4,1742.5 1204.2,1742.5 1205.0,1742.5 1205.8,1742.5 1205.8,1742.5Z" fill="#00BF76" stroke="none" stroke-width="0"/>
<line x1="1149.3" y1="1742.5" x2="1205.8" y2="1742.5" stroke="#1a1a1a" stroke-width="1.1"/>
<path d="M1149.3,1785.6 1149.3,1785.6 1150.1,1785.6 1150.9,1785.6 1151.7,1785.6 1152.5,1785.6 1153.3,1785.6 1154.1,1785.6 1155.0,1785.6 1155.8,1785.6 1156.6,1785.6 1157.4,1785.6 1158.2,1785.6 1159.0,1785.6 1159.8,1785.6 1160.6,1785.5 1161.4,1785.5 1162.2,1785.5 1163.0,1785.5 1163.8,1785.4 1164.6,1785.4 1165.4,1785.3 1166.2,1785.3 1167.1,1785.2 1167.9,1785.1 1168.7,1785.1 1169.5,1785.0 1170.3,1784.9 1171.1,1784.8 1171.9,1784.8 1172.7,1784.7 1173.5,1784.7 1174.3,1784.6 1175.1,1784.5 1175.9,1784.4 1176.7,1784.3 1177.5,1784.3 1178.4,1784.3 1179.2,1784.3 1180.0,1784.4 1180.8,1784.4 1181.6,1784.5 1182.4,1784.6 1183.2,1784.8 1184.0,1784.8 1184.8,1785.0 1185.6,1785.1 1186.4,1785.1 1187.2,1785.2 1188.0,1785.2 1188.8,1785.3 1189.7,1785.3 1190.5,1785.4 1191.3,1785.4 1192.1,1785.5 1192.9,1785.5 1193.7,1785.5 1194.5,1785.5 1195.3,1785.6 1196.1,1785.6 1196.9,1785.6 1197.7,1785.6 1198.5,1785.6 1199.3,1785.6 1200.1,1785.6 1201.0,1785.6 1201.8,1785.6 1202.6,1785.6 1203.4,1785.6 1204.2,1785.6 1205.0,1785.6 1205.8,1785.6 1205.8,1785.6Z" fill="#00C098" stroke="none" stroke-width="0"/>
<line x1="1149.3" y1="1785.6" x2="1205.8" y2="1785.6" stroke="#1a1a1a" stroke-width="1.1"/>
<path d="M1149.3,1828.7 1149.3,1828.7 1150.1,1828.7 1150.9,1828.7 1151.7,1828.7 1152.5,1828.7 1153.3,1828.7 1154.1,1828.7 1155.0,1828.7 1155.8,1828.6 1156.6,1828.6 1157.4,1828.5 1158.2,1828.5 1159.0,1828.4 1159.8,1828.4 1160.6,1828.3 1161.4,1828.2 1162.2,1828.0 1163.0,1827.8 1163.8,1827.7 1164.6,1827.6 1165.4,1827.5 1166.2,1827.4 1167.1,1827.2 1167.9,1827.1 1168.7,1827.0 1169.5,1826.8 1170.3,1826.7 1171.1,1826.6 1171.9,1826.7 1172.7,1826.8 1173.5,1826.8 1174.3,1827.0 1175.1,1827.1 1175.9,1827.1 1176.7,1827.2 1177.5,1827.2 1178.4,1827.2 1179.2,1826.9 1180.0,1826.6 1180.8,1826.3 1181.6,1826.2 1182.4,1826.2 1183.2,1826.3 1184.0,1826.5 1184.8,1826.9 1185.6,1827.2 1186.4,1827.6 1187.2,1827.9 1188.0,1828.2 1188.8,1828.4 1189.7,1828.5 1190.5,1828.6 1191.3,1828.7 1192.1,1828.7 1192.9,1828.7 1193.7,1828.7 1194.5,1828.7 1195.3,1828.7 1196.1,1828.7 1196.9,1828.7 1197.7,1828.7 1198.5,1828.7 1199.3,1828.7 1200.1,1828.7 1201.0,1828.7 1201.8,1828.7 1202.6,1828.7 1203.4,1828.7 1204.2,1828.7 1205.0,1828.7 1205.8,1828.7 1205.8,1828.7Z" fill="#00C0B7" stroke="none" stroke-width="0"/>
<line x1="1149.3" y1="1828.7" x2="1205.8" y2="1828.7" stroke="#777" stroke-width="1.1"/>
<path d="M1149.3,1871.9 1149.3,1871.9 1150.1,1871.9 1150.9,1871.9 1151.7,1871.9 1152.5,1871.9 1153.3,1871.9 1154.1,1871.9 1155.0,1871.9 1155.8,1871.9 1156.6,1871.9 1157.4,1871.9 1158.2,1871.9 1159.0,1871.9 1159.8,1871.9 1160.6,1871.9 1161.4,1871.9 1162.2,1871.9 1163.0,1871.8 1163.8,1871.8 1164.6,1871.8 1165.4,1871.8 1166.2,1871.7 1167.1,1871.7 1167.9,1871.6 1168.7,1871.6 1169.5,1871.5 1170.3,1871.3 1171.1,1871.2 1171.9,1871.1 1172.7,1871.0 1173.5,1870.9 1174.3,1870.9 1175.1,1870.8 1175.9,1870.8 1176.7,1870.7 1177.5,1870.7 1178.4,1870.7 1179.2,1870.7 1180.0,1870.7 1180.8,1870.8 1181.6,1870.9 1182.4,1871.0 1183.2,1871.1 1184.0,1871.2 1184.8,1871.4 1185.6,1871.5 1186.4,1871.5 1187.2,1871.6 1188.0,1871.7 1188.8,1871.7 1189.7,1871.8 1190.5,1871.8 1191.3,1871.8 1192.1,1871.8 1192.9,1871.8 1193.7,1871.9 1194.5,1871.9 1195.3,1871.9 1196.1,1871.9 1196.9,1871.9 1197.7,1871.9 1198.5,1871.9 1199.3,1871.9 1200.1,1871.9 1201.0,1871.9 1201.8,1871.9 1202.6,1871.9 1203.4,1871.9 1204.2,1871.9 1205.0,1871.9 1205.8,1871.9 1205.8,1871.9Z" fill="#00BDD1" stroke="none" stroke-width="0"/>
<line x1="1149.3" y1="1871.9" x2="1205.8" y2="1871.9" stroke="#777" stroke-width="1.1"/>
<path d="M1149.3,1915.0 1149.3,1915.0 1150.1,1915.0 1150.9,1915.0 1151.7,1915.0 1152.5,1915.0 1153.3,1915.0 1154.1,1915.0 1155.0,1915.0 1155.8,1915.0 1156.6,1915.0 1157.4,1915.0 1158.2,1915.0 1159.0,1915.0 1159.8,1915.0 1160.6,1915.0 1161.4,1915.0 1162.2,1915.0 1163.0,1915.0 1163.8,1915.0 1164.6,1915.0 1165.4,1915.0 1166.2,1915.0 1167.1,1915.0 1167.9,1915.0 1168.7,1915.0 1169.5,1915.0 1170.3,1914.9 1171.1,1914.9 1171.9,1914.9 1172.7,1914.8 1173.5,1914.8 1174.3,1914.7 1175.1,1914.6 1175.9,1914.5 1176.7,1914.5 1177.5,1914.4 1178.4,1914.3 1179.2,1914.2 1180.0,1914.2 1180.8,1914.1 1181.6,1914.1 1182.4,1914.0 1183.2,1913.9 1184.0,1914.0 1184.8,1914.0 1185.6,1914.1 1186.4,1914.2 1187.2,1914.2 1188.0,1914.3 1188.8,1914.4 1189.7,1914.5 1190.5,1914.6 1191.3,1914.7 1192.1,1914.7 1192.9,1914.8 1193.7,1914.9 1194.5,1914.9 1195.3,1914.9 1196.1,1915.0 1196.9,1915.0 1197.7,1915.0 1198.5,1915.0 1199.3,1915.0 1200.1,1915.0 1201.0,1915.0 1201.8,1915.0 1202.6,1915.0 1203.4,1915.0 1204.2,1915.0 1205.0,1915.0 1205.8,1915.0 1205.8,1915.0Z" fill="#00B7E8" stroke="none" stroke-width="0"/>
<line x1="1149.3" y1="1915.0" x2="1205.8" y2="1915.0" stroke="#1a1a1a" stroke-width="1.1"/>
<path d="M1149.3,1958.2 1149.3,1958.2 1150.1,1958.2 1150.9,1958.2 1151.7,1958.2 1152.5,1958.2 1153.3,1958.2 1154.1,1958.2 1155.0,1958.2 1155.8,1958.2 1156.6,1958.2 1157.4,1958.2 1158.2,1958.2 1159.0,1958.2 1159.8,1958.2 1160.6,1958.2 1161.4,1958.2 1162.2,1958.2 1163.0,1958.2 1163.8,1958.1 1164.6,1958.1 1165.4,1958.1 1166.2,1958.0 1167.1,1957.9 1167.9,1957.8 1168.7,1957.7 1169.5,1957.5 1170.3,1957.3 1171.1,1957.1 1171.9,1957.2 1172.7,1957.2 1173.5,1957.4 1174.3,1957.5 1175.1,1957.6 1175.9,1957.8 1176.7,1957.9 1177.5,1957.9 1178.4,1957.9 1179.2,1957.8 1180.0,1957.6 1180.8,1957.4 1181.6,1957.3 1182.4,1957.2 1183.2,1957.2 1184.0,1957.2 1184.8,1957.3 1185.6,1957.5 1186.4,1957.7 1187.2,1957.8 1188.0,1957.9 1188.8,1958.0 1189.7,1958.1 1190.5,1958.1 1191.3,1958.1 1192.1,1958.2 1192.9,1958.2 1193.7,1958.2 1194.5,1958.2 1195.3,1958.2 1196.1,1958.2 1196.9,1958.2 1197.7,1958.2 1198.5,1958.2 1199.3,1958.2 1200.1,1958.2 1201.0,1958.2 1201.8,1958.2 1202.6,1958.2 1203.4,1958.2 1204.2,1958.2 1205.0,1958.2 1205.8,1958.2 1205.8,1958.2Z" fill="#00AEFA" stroke="none" stroke-width="0"/>
<line x1="1149.3" y1="1958.2" x2="1205.8" y2="1958.2" stroke="#1a1a1a" stroke-width="1.1"/>
<path d="M1149.3,2001.3 1149.3,2001.3 1150.1,2001.3 1150.9,2001.3 1151.7,2001.3 1152.5,2001.3 1153.3,2001.3 1154.1,2001.3 1155.0,1998.3 1155.8,1998.4 1156.6,1998.6 1157.4,1998.3 1158.2,1998.1 1159.0,1998.0 1159.8,1998.1 1160.6,2001.3 1161.4,2001.3 1162.2,2001.3 1163.0,2001.3 1163.8,2001.3 1164.6,2001.3 1165.4,2001.3 1166.2,1998.1 1167.1,1998.1 1167.9,1998.1 1168.7,1998.1 1169.5,1998.2 1170.3,1998.3 1171.1,1998.6 1171.9,2001.3 1172.7,2001.3 1173.5,2001.3 1174.3,2001.3 1175.1,2001.3 1175.9,2001.3 1176.7,2001.3 1177.5,2001.3 1178.4,2001.3 1179.2,2001.3 1180.0,2001.3 1180.8,2001.3 1181.6,2001.3 1182.4,2001.3 1183.2,2001.3 1184.0,2001.3 1184.8,2001.3 1185.6,2001.3 1186.4,2001.3 1187.2,2001.3 1188.0,2001.3 1188.8,2001.3 1189.7,2001.3 1190.5,2001.3 1191.3,2001.3 1192.1,2001.3 1192.9,2001.3 1193.7,2001.3 1194.5,2001.3 1195.3,2001.3 1196.1,2001.3 1196.9,2001.3 1197.7,2001.3 1198.5,2001.3 1199.3,2001.3 1200.1,2001.3 1201.0,2001.3 1201.8,2001.3 1202.6,2001.3 1203.4,2001.3 1204.2,2001.3 1205.0,2001.3 1205.8,2001.3 1205.8,2001.3Z" fill="#3DA1FF" stroke="none" stroke-width="0"/>
<line x1="1149.3" y1="2001.3" x2="1205.8" y2="2001.3" stroke="#1a1a1a" stroke-width="1.1"/>
<path d="M1149.3,2044.4 1149.3,2044.4 1150.1,2044.4 1150.9,2044.4 1151.7,2044.4 1152.5,2044.4 1153.3,2044.4 1154.1,2044.4 1155.0,2044.3 1155.8,2044.3 1156.6,2044.2 1157.4,2044.2 1158.2,2044.1 1159.0,2044.1 1159.8,2044.0 1160.6,2043.9 1161.4,2043.9 1162.2,2043.8 1163.0,2043.8 1163.8,2043.8 1164.6,2043.7 1165.4,2043.7 1166.2,2043.7 1167.1,2043.7 1167.9,2043.7 1168.7,2043.7 1169.5,2043.8 1170.3,2043.8 1171.1,2043.9 1171.9,2043.9 1172.7,2044.0 1173.5,2044.1 1174.3,2044.1 1175.1,2044.2 1175.9,2044.2 1176.7,2044.1 1177.5,2043.9 1178.4,2043.6 1179.2,2043.1 1180.0,2042.5 1180.8,2042.0 1181.6,2041.6 1182.4,2041.5 1183.2,2041.7 1184.0,2042.3 1184.8,2043.0 1185.6,2043.6 1186.4,2044.0 1187.2,2044.2 1188.0,2044.4 1188.8,2044.4 1189.7,2044.4 1190.5,2044.4 1191.3,2044.4 1192.1,2044.4 1192.9,2044.4 1193.7,2044.4 1194.5,2044.4 1195.3,2044.4 1196.1,2044.4 1196.9,2044.4 1197.7,2044.4 1198.5,2044.4 1199.3,2044.4 1200.1,2044.4 1201.0,2044.4 1201.8,2044.4 1202.6,2044.4 1203.4,2044.4 1204.2,2044.4 1205.0,2044.4 1205.8,2044.4 1205.8,2044.4Z" fill="#8F91FF" stroke="none" stroke-width="0"/>
<line x1="1149.3" y1="2044.4" x2="1205.8" y2="2044.4" stroke="#1a1a1a" stroke-width="1.1"/>
<path d="M1149.3,2087.6 1149.3,2087.4 1150.1,2087.4 1150.9,2087.3 1151.7,2087.1 1152.5,2086.9 1153.3,2086.7 1154.1,2086.3 1155.0,2086.0 1155.8,2085.6 1156.6,2085.1 1157.4,2084.4 1158.2,2083.7 1159.0,2083.0 1159.8,2082.2 1160.6,2081.1 1161.4,2080.2 1162.2,2079.5 1163.0,2078.5 1163.8,2078.2 1164.6,2077.1 1165.4,2076.3 1166.2,2075.6 1167.1,2076.1 1167.9,2077.2 1168.7,2078.1 1169.5,2078.5 1170.3,2079.5 1171.1,2080.5 1171.9,2081.4 1172.7,2082.2 1173.5,2083.1 1174.3,2083.6 1175.1,2083.9 1175.9,2084.1 1176.7,2083.9 1177.5,2083.1 1178.4,2081.1 1179.2,2078.1 1180.0,2073.7 1180.8,2068.4 1181.6,2063.5 1182.4,2059.8 1183.2,2057.5 1184.0,2058.8 1184.8,2061.1 1185.6,2064.6 1186.4,2070.8 1187.2,2076.3 1188.0,2080.0 1188.8,2082.5 1189.7,2084.1 1190.5,2084.9 1191.3,2085.1 1192.1,2084.8 1192.9,2084.5 1193.7,2084.0 1194.5,2083.5 1195.3,2083.3 1196.1,2083.4 1196.9,2083.7 1197.7,2084.1 1198.5,2084.6 1199.3,2085.1 1200.1,2085.4 1201.0,2085.4 1201.8,2085.1 1202.6,2085.1 1203.4,2085.3 1204.2,2085.9 1205.0,2086.6 1205.8,2087.1 1205.8,2087.6Z" fill="#BE80FF" stroke="none" stroke-width="0"/>
<line x1="1149.3" y1="2087.6" x2="1205.8" y2="2087.6" stroke="#1a1a1a" stroke-width="1.1"/>
<path d="M1149.3,2130.7 1149.3,2130.6 1150.1,2130.6 1150.9,2130.5 1151.7,2130.4 1152.5,2130.3 1153.3,2130.1 1154.1,2129.9 1155.0,2129.5 1155.8,2129.1 1156.6,2128.6 1157.4,2128.1 1158.2,2127.3 1159.0,2126.5 1159.8,2125.7 1160.6,2124.5 1161.4,2123.3 1162.2,2122.6 1163.0,2121.8 1163.8,2121.2 1164.6,2121.3 1165.4,2121.0 1166.2,2121.6 1167.1,2121.8 1167.9,2122.4 1168.7,2123.2 1169.5,2124.1 1170.3,2125.1 1171.1,2125.8 1171.9,2127.0 1172.7,2127.9 1173.5,2128.6 1174.3,2129.0 1175.1,2129.2 1175.9,2129.3 1176.7,2129.0 1177.5,2128.2 1178.4,2126.6 1179.2,2124.6 1180.0,2122.4 1180.8,2119.9 1181.6,2117.1 1182.4,2115.2 1183.2,2114.1 1184.0,2114.3 1184.8,2116.1 1185.6,2118.3 1186.4,2120.9 1187.2,2123.1 1188.0,2125.3 1188.8,2127.1 1189.7,2128.1 1190.5,2128.4 1191.3,2128.4 1192.1,2128.2 1192.9,2127.9 1193.7,2127.6 1194.5,2127.6 1195.3,2127.7 1196.1,2127.9 1196.9,2128.2 1197.7,2128.6 1198.5,2129.2 1199.3,2129.6 1200.1,2130.0 1201.0,2130.3 1201.8,2130.4 1202.6,2130.6 1203.4,2130.6 1204.2,2130.7 1205.0,2130.7 1205.8,2130.7 1205.8,2130.7Z" fill="#DE71F9" stroke="none" stroke-width="0"/>
<line x1="1149.3" y1="2130.7" x2="1205.8" y2="2130.7" stroke="#1a1a1a" stroke-width="1.1"/>
<path d="M1149.3,2173.9 1149.3,2173.7 1150.1,2173.7 1150.9,2173.6 1151.7,2173.5 1152.5,2173.3 1153.3,2173.1 1154.1,2172.8 1155.0,2172.5 1155.8,2172.0 1156.6,2171.6 1157.4,2170.7 1158.2,2169.8 1159.0,2168.6 1159.8,2167.9 1160.6,2166.8 1161.4,2166.1 1162.2,2165.2 1163.0,2164.3 1163.8,2163.5 1164.6,2163.3 1165.4,2162.6 1166.2,2162.6 1167.1,2162.5 1167.9,2163.0 1168.7,2163.4 1169.5,2164.4 1170.3,2165.7 1171.1,2166.8 1171.9,2167.5 1172.7,2168.0 1173.5,2168.9 1174.3,2169.7 1175.1,2170.3 1175.9,2170.7 1176.7,2171.0 1177.5,2170.5 1178.4,2169.4 1179.2,2166.6 1180.0,2162.1 1180.8,2156.1 1181.6,2150.9 1182.4,2146.7 1183.2,2145.6 1184.0,2146.2 1184.8,2149.3 1185.6,2154.4 1186.4,2159.6 1187.2,2164.4 1188.0,2168.0 1188.8,2170.7 1189.7,2172.3 1190.5,2173.2 1191.3,2173.6 1192.1,2173.7 1192.9,2173.7 1193.7,2173.7 1194.5,2173.6 1195.3,2173.4 1196.1,2173.2 1196.9,2172.9 1197.7,2172.5 1198.5,2172.2 1199.3,2172.0 1200.1,2171.9 1201.0,2172.0 1201.8,2172.3 1202.6,2172.6 1203.4,2172.9 1204.2,2173.2 1205.0,2173.4 1205.8,2173.6 1205.8,2173.9Z" fill="#F265E7" stroke="none" stroke-width="0"/>
<line x1="1149.3" y1="2173.9" x2="1205.8" y2="2173.9" stroke="#1a1a1a" stroke-width="1.1"/>
<path d="M1149.3,2217.0 1149.3,2217.0 1150.1,2217.0 1150.9,2217.0 1151.7,2217.0 1152.5,2217.0 1153.3,2216.9 1154.1,2216.8 1155.0,2216.7 1155.8,2216.5 1156.6,2216.3 1157.4,2216.0 1158.2,2215.7 1159.0,2215.4 1159.8,2215.2 1160.6,2215.1 1161.4,2215.1 1162.2,2215.3 1163.0,2215.5 1163.8,2215.8 1164.6,2216.0 1165.4,2216.0 1166.2,2215.7 1167.1,2215.3 1167.9,2214.6 1168.7,2213.7 1169.5,2212.5 1170.3,2211.4 1171.1,2210.5 1171.9,2210.2 1172.7,2210.5 1173.5,2211.3 1174.3,2212.2 1175.1,2213.3 1175.9,2214.3 1176.7,2215.2 1177.5,2215.6 1178.4,2215.7 1179.2,2215.5 1180.0,2214.8 1180.8,2213.8 1181.6,2212.5 1182.4,2210.9 1183.2,2209.1 1184.0,2208.3 1184.8,2207.8 1185.6,2208.2 1186.4,2208.9 1187.2,2210.5 1188.0,2212.1 1188.8,2213.5 1189.7,2214.8 1190.5,2215.7 1191.3,2216.3 1192.1,2216.6 1192.9,2216.8 1193.7,2216.9 1194.5,2217.0 1195.3,2217.0 1196.1,2217.0 1196.9,2217.0 1197.7,2217.0 1198.5,2217.0 1199.3,2217.0 1200.1,2217.0 1201.0,2217.0 1201.8,2217.0 1202.6,2217.0 1203.4,2217.0 1204.2,2217.0 1205.0,2217.0 1205.8,2217.0 1205.8,2217.0Z" fill="#FE61CF" stroke="none" stroke-width="0"/>
<line x1="1149.3" y1="2217.0" x2="1205.8" y2="2217.0" stroke="#333" stroke-width="1.1"/>
<path d="M1149.3,2260.1 1149.3,2260.1 1150.1,2260.1 1150.9,2259.8 1151.7,2259.3 1152.5,2258.3 1153.3,2257.0 1154.1,2255.9 1155.0,2255.3 1155.8,2255.6 1156.6,2256.8 1157.4,2258.2 1158.2,2259.2 1159.0,2259.7 1159.8,2259.8 1160.6,2259.4 1161.4,2258.6 1162.2,2257.2 1163.0,2255.0 1163.8,2252.2 1164.6,2249.8 1165.4,2247.9 1166.2,2247.2 1167.1,2248.1 1167.9,2250.8 1168.7,2253.2 1169.5,2256.0 1170.3,2257.9 1171.1,2259.0 1171.9,2259.7 1172.7,2259.9 1173.5,2260.0 1174.3,2259.8 1175.1,2259.3 1175.9,2258.3 1176.7,2256.7 1177.5,2254.1 1178.4,2251.2 1179.2,2247.7 1180.0,2245.4 1180.8,2244.3 1181.6,2245.3 1182.4,2246.9 1183.2,2247.8 1184.0,2246.9 1184.8,2244.4 1185.6,2240.9 1186.4,2240.9 1187.2,2242.7 1188.0,2245.1 1188.8,2246.4 1189.7,2246.6 1190.5,2245.1 1191.3,2242.9 1192.1,2241.3 1192.9,2241.7 1193.7,2244.9 1194.5,2248.6 1195.3,2252.7 1196.1,2256.0 1196.9,2258.1 1197.7,2259.3 1198.5,2259.8 1199.3,2260.0 1200.1,2260.1 1201.0,2260.1 1201.8,2259.9 1202.6,2259.4 1203.4,2258.6 1204.2,2258.2 1205.0,2258.8 1205.8,2259.5 1205.8,2260.1Z" fill="#FF64B3" stroke="none" stroke-width="0"/>
<line x1="1149.3" y1="2260.1" x2="1205.8" y2="2260.1" stroke="#1a1a1a" stroke-width="1.1"/>
<path d="M1149.3,2303.3 1149.3,2303.3 1150.1,2303.3 1150.9,2303.2 1151.7,2303.2 1152.5,2303.0 1153.3,2302.7 1154.1,2302.1 1155.0,2301.4 1155.8,2300.5 1156.6,2299.7 1157.4,2299.4 1158.2,2299.6 1159.0,2300.1 1159.8,2300.8 1160.6,2301.5 1161.4,2302.1 1162.2,2302.7 1163.0,2303.0 1163.8,2303.2 1164.6,2303.2 1165.4,2303.3 1166.2,2303.3 1167.1,2303.3 1167.9,2303.3 1168.7,2303.3 1169.5,2303.3 1170.3,2303.2 1171.1,2303.2 1171.9,2303.1 1172.7,2302.9 1173.5,2302.6 1174.3,2302.1 1175.1,2301.4 1175.9,2300.3 1176.7,2298.7 1177.5,2296.4 1178.4,2294.0 1179.2,2291.2 1180.0,2289.3 1180.8,2287.3 1181.6,2286.8 1182.4,2286.0 1183.2,2286.4 1184.0,2287.8 1184.8,2289.3 1185.6,2291.6 1186.4,2292.7 1187.2,2294.1 1188.0,2295.1 1188.8,2296.8 1189.7,2298.1 1190.5,2299.3 1191.3,2300.2 1192.1,2301.0 1192.9,2301.7 1193.7,2302.3 1194.5,2302.7 1195.3,2303.0 1196.1,2303.1 1196.9,2303.2 1197.7,2303.3 1198.5,2303.3 1199.3,2303.3 1200.1,2303.3 1201.0,2303.3 1201.8,2303.3 1202.6,2303.3 1203.4,2303.3 1204.2,2303.3 1205.0,2303.3 1205.8,2303.3 1205.8,2303.3Z" fill="#FF6C92" stroke="none" stroke-width="0"/>
<line x1="1149.3" y1="2303.3" x2="1205.8" y2="2303.3" stroke="#1a1a1a" stroke-width="1.1"/>
<rect x="1182.30" y="1312.20" width="5.80" height="1009.40" fill="#808080" stroke="none" stroke-width="0" opacity="0.6" style="mix-blend-mode:saturation"/>
<rect x="1182.30" y="1312.20" width="5.80" height="1009.40" fill="#d2aad2" stroke="none" stroke-width="0" fill-opacity="0.25"/>
<path d="M1296.0,1354.2 1296.0,1354.2 1296.8,1354.2 1297.6,1354.2 1298.4,1354.2 1299.2,1354.2 1300.0,1354.2 1300.8,1354.2 1301.6,1354.2 1302.4,1354.2 1303.2,1354.2 1304.0,1354.2 1304.8,1354.2 1305.6,1354.2 1306.4,1354.2 1307.2,1354.2 1308.0,1354.2 1308.8,1354.2 1309.6,1354.2 1310.4,1354.2 1311.2,1354.2 1312.0,1354.2 1312.8,1354.2 1313.6,1354.2 1314.4,1354.2 1315.2,1354.2 1316.1,1354.2 1316.9,1354.2 1317.7,1354.2 1318.5,1354.2 1319.3,1354.2 1320.1,1354.2 1320.9,1354.2 1321.7,1354.2 1322.5,1354.2 1323.3,1354.2 1324.1,1354.1 1324.9,1354.1 1325.7,1354.1 1326.5,1354.1 1327.3,1354.0 1328.1,1354.0 1328.9,1354.0 1329.7,1353.9 1330.5,1353.9 1331.3,1353.9 1332.1,1353.8 1332.9,1353.8 1333.7,1353.7 1334.5,1353.6 1335.3,1353.6 1336.1,1353.5 1336.9,1353.5 1337.7,1353.4 1338.5,1353.3 1339.3,1353.3 1340.1,1353.3 1340.9,1353.2 1341.7,1353.2 1342.5,1353.2 1343.3,1353.2 1344.1,1353.2 1344.9,1353.3 1345.7,1353.3 1346.5,1353.4 1347.3,1353.4 1348.1,1353.4 1348.9,1353.5 1349.7,1353.5 1350.5,1353.6 1351.3,1353.7 1352.1,1353.8 1352.9,1353.8 1353.8,1353.9 1354.6,1353.9 1355.4,1354.0 1356.2,1354.0 1357.0,1354.0 1357.8,1354.1 1358.6,1354.1 1359.4,1354.1 1360.2,1354.1 1361.0,1354.2 1361.8,1354.2 1362.6,1354.2 1363.4,1354.2 1364.2,1354.2 1365.0,1354.2 1365.8,1354.2 1366.6,1354.2 1367.4,1354.2 1368.2,1354.2 1369.0,1354.2 1369.8,1354.2 1370.6,1354.2 1371.4,1354.2 1372.2,1354.2 1373.0,1354.2 1373.0,1354.2Z" fill="#F8766D" stroke="none" stroke-width="0"/>
<line x1="1296.0" y1="1354.2" x2="1373.0" y2="1354.2" stroke="#777" stroke-width="1.1"/>
<path d="M1296.0,1397.3 1296.0,1397.3 1296.8,1397.3 1297.6,1397.3 1298.4,1397.3 1299.2,1397.3 1300.0,1397.3 1300.8,1397.3 1301.6,1397.3 1302.4,1397.3 1303.2,1397.3 1304.0,1397.3 1304.8,1397.3 1305.6,1397.3 1306.4,1397.3 1307.2,1397.3 1308.0,1397.3 1308.8,1397.3 1309.6,1397.3 1310.4,1397.3 1311.2,1397.3 1312.0,1397.3 1312.8,1397.3 1313.6,1397.3 1314.4,1397.3 1315.2,1397.3 1316.1,1397.3 1316.9,1397.3 1317.7,1397.3 1318.5,1397.3 1319.3,1397.3 1320.1,1397.3 1320.9,1397.3 1321.7,1397.3 1322.5,1397.3 1323.3,1397.3 1324.1,1397.3 1324.9,1397.3 1325.7,1397.3 1326.5,1397.3 1327.3,1397.3 1328.1,1397.3 1328.9,1397.3 1329.7,1397.3 1330.5,1397.3 1331.3,1397.3 1332.1,1397.3 1332.9,1397.3 1333.7,1397.3 1334.5,1397.3 1335.3,1397.3 1336.1,1397.3 1336.9,1397.3 1337.7,1397.3 1338.5,1397.3 1339.3,1397.3 1340.1,1397.3 1340.9,1397.3 1341.7,1397.3 1342.5,1397.3 1343.3,1397.3 1344.1,1397.3 1344.9,1397.3 1345.7,1397.3 1346.5,1397.3 1347.3,1397.3 1348.1,1397.3 1348.9,1397.3 1349.7,1397.2 1350.5,1397.2 1351.3,1397.1 1352.1,1397.0 1352.9,1397.0 1353.8,1396.9 1354.6,1396.8 1355.4,1396.7 1356.2,1396.7 1357.0,1396.6 1357.8,1396.6 1358.6,1396.5 1359.4,1396.6 1360.2,1396.7 1361.0,1396.8 1361.8,1396.9 1362.6,1397.0 1363.4,1397.1 1364.2,1397.2 1365.0,1397.2 1365.8,1397.3 1366.6,1397.3 1367.4,1397.3 1368.2,1397.3 1369.0,1397.3 1369.8,1397.3 1370.6,1397.3 1371.4,1397.3 1372.2,1397.3 1373.0,1397.3 1373.0,1397.3Z" fill="#EC823C" stroke="none" stroke-width="0"/>
<line x1="1296.0" y1="1397.3" x2="1373.0" y2="1397.3" stroke="#1a1a1a" stroke-width="1.1"/>
<path d="M1296.0,1440.5 1296.0,1440.4 1296.8,1440.4 1297.6,1440.4 1298.4,1440.4 1299.2,1440.4 1300.0,1440.4 1300.8,1440.4 1301.6,1440.4 1302.4,1440.4 1303.2,1440.4 1304.0,1440.3 1304.8,1440.3 1305.6,1440.3 1306.4,1440.3 1307.2,1440.3 1308.0,1440.3 1308.8,1440.2 1309.6,1440.2 1310.4,1440.2 1311.2,1440.1 1312.0,1440.1 1312.8,1440.1 1313.6,1440.1 1314.4,1440.0 1315.2,1440.0 1316.1,1440.0 1316.9,1439.9 1317.7,1439.9 1318.5,1439.9 1319.3,1439.9 1320.1,1439.8 1320.9,1439.8 1321.7,1439.8 1322.5,1439.8 1323.3,1439.7 1324.1,1439.7 1324.9,1439.6 1325.7,1439.6 1326.5,1439.6 1327.3,1439.6 1328.1,1439.6 1328.9,1439.6 1329.7,1439.6 1330.5,1439.6 1331.3,1439.6 1332.1,1439.6 1332.9,1439.5 1333.7,1439.5 1334.5,1439.6 1335.3,1439.6 1336.1,1439.6 1336.9,1439.6 1337.7,1439.6 1338.5,1439.6 1339.3,1439.6 1340.1,1439.6 1340.9,1439.6 1341.7,1439.6 1342.5,1439.7 1343.3,1439.6 1344.1,1439.6 1344.9,1439.7 1345.7,1439.8 1346.5,1439.8 1347.3,1439.8 1348.1,1439.8 1348.9,1439.8 1349.7,1439.9 1350.5,1439.9 1351.3,1440.0 1352.1,1440.0 1352.9,1440.0 1353.8,1440.0 1354.6,1440.1 1355.4,1440.1 1356.2,1440.1 1357.0,1440.1 1357.8,1440.1 1358.6,1440.2 1359.4,1440.2 1360.2,1440.2 1361.0,1440.3 1361.8,1440.3 1362.6,1440.3 1363.4,1440.3 1364.2,1440.3 1365.0,1440.3 1365.8,1440.3 1366.6,1440.4 1367.4,1440.4 1368.2,1440.4 1369.0,1440.4 1369.8,1440.4 1370.6,1440.4 1371.4,1440.4 1372.2,1440.4 1373.0,1440.4 1373.0,1440.5Z" fill="#DD8D00" stroke="none" stroke-width="0"/>
<line x1="1296.0" y1="1440.5" x2="1373.0" y2="1440.5" stroke="#777" stroke-width="1.1"/>
<path d="M1296.0,1483.6 1296.0,1483.6 1296.8,1483.6 1297.6,1483.6 1298.4,1483.6 1299.2,1483.6 1300.0,1483.6 1300.8,1483.6 1301.6,1483.6 1302.4,1483.6 1303.2,1483.6 1304.0,1483.6 1304.8,1483.6 1305.6,1483.6 1306.4,1483.6 1307.2,1483.6 1308.0,1483.5 1308.8,1483.5 1309.6,1483.5 1310.4,1483.5 1311.2,1483.4 1312.0,1483.4 1312.8,1483.3 1313.6,1483.3 1314.4,1483.2 1315.2,1483.1 1316.1,1483.1 1316.9,1483.0 1317.7,1482.9 1318.5,1482.8 1319.3,1482.7 1320.1,1482.5 1320.9,1482.5 1321.7,1482.4 1322.5,1482.3 1323.3,1482.3 1324.1,1482.2 1324.9,1482.1 1325.7,1482.1 1326.5,1482.0 1327.3,1482.0 1328.1,1482.1 1328.9,1482.2 1329.7,1482.3 1330.5,1482.3 1331.3,1482.3 1332.1,1482.4 1332.9,1482.5 1333.7,1482.6 1334.5,1482.7 1335.3,1482.8 1336.1,1482.9 1336.9,1483.0 1337.7,1483.0 1338.5,1483.1 1339.3,1483.2 1340.1,1483.3 1340.9,1483.3 1341.7,1483.4 1342.5,1483.4 1343.3,1483.5 1344.1,1483.5 1344.9,1483.5 1345.7,1483.5 1346.5,1483.5 1347.3,1483.5 1348.1,1483.5 1348.9,1483.5 1349.7,1483.5 1350.5,1483.4 1351.3,1483.3 1352.1,1483.2 1352.9,1483.1 1353.8,1483.0 1354.6,1482.9 1355.4,1482.8 1356.2,1482.7 1357.0,1482.6 1357.8,1482.6 1358.6,1482.6 1359.4,1482.7 1360.2,1482.7 1361.0,1482.9 1361.8,1483.0 1362.6,1483.2 1363.4,1483.3 1364.2,1483.4 1365.0,1483.5 1365.8,1483.5 1366.6,1483.5 1367.4,1483.6 1368.2,1483.6 1369.0,1483.6 1369.8,1483.6 1370.6,1483.6 1371.4,1483.6 1372.2,1483.6 1373.0,1483.6 1373.0,1483.6Z" fill="#CA9700" stroke="none" stroke-width="0"/>
<line x1="1296.0" y1="1483.6" x2="1373.0" y2="1483.6" stroke="#777" stroke-width="1.1"/>
<path d="M1296.0,1526.8 1296.0,1526.8 1296.8,1526.8 1297.6,1526.8 1298.4,1526.8 1299.2,1526.8 1300.0,1526.8 1300.8,1526.8 1301.6,1526.8 1302.4,1526.8 1303.2,1526.8 1304.0,1526.8 1304.8,1526.8 1305.6,1526.8 1306.4,1526.8 1307.2,1526.8 1308.0,1526.7 1308.8,1526.7 1309.6,1526.7 1310.4,1526.7 1311.2,1526.7 1312.0,1526.7 1312.8,1526.7 1313.6,1526.6 1314.4,1526.6 1315.2,1526.6 1316.1,1526.5 1316.9,1526.4 1317.7,1526.4 1318.5,1526.3 1319.3,1526.2 1320.1,1526.1 1320.9,1526.1 1321.7,1526.0 1322.5,1525.9 1323.3,1525.8 1324.1,1525.7 1324.9,1525.7 1325.7,1525.6 1326.5,1525.5 1327.3,1525.5 1328.1,1525.6 1328.9,1525.6 1329.7,1525.7 1330.5,1525.8 1331.3,1525.9 1332.1,1526.0 1332.9,1526.0 1333.7,1526.1 1334.5,1526.2 1335.3,1526.3 1336.1,1526.3 1336.9,1526.4 1337.7,1526.5 1338.5,1526.6 1339.3,1526.6 1340.1,1526.6 1340.9,1526.7 1341.7,1526.7 1342.5,1526.7 1343.3,1526.7 1344.1,1526.7 1344.9,1526.7 1345.7,1526.7 1346.5,1526.8 1347.3,1526.8 1348.1,1526.8 1348.9,1526.8 1349.7,1526.8 1350.5,1526.8 1351.3,1526.8 1352.1,1526.8 1352.9,1526.8 1353.8,1526.8 1354.6,1526.8 1355.4,1526.8 1356.2,1526.8 1357.0,1526.8 1357.8,1526.8 1358.6,1526.8 1359.4,1526.8 1360.2,1526.8 1361.0,1526.8 1361.8,1526.8 1362.6,1526.8 1363.4,1526.8 1364.2,1526.8 1365.0,1526.8 1365.8,1526.8 1366.6,1526.8 1367.4,1526.8 1368.2,1526.8 1369.0,1526.8 1369.8,1526.8 1370.6,1526.8 1371.4,1526.8 1372.2,1526.8 1373.0,1526.8 1373.0,1526.8Z" fill="#B3A000" stroke="none" stroke-width="0"/>
<line x1="1296.0" y1="1526.8" x2="1373.0" y2="1526.8" stroke="#777" stroke-width="1.1"/>
<path d="M1296.0,1569.9 1296.0,1569.9 1296.8,1569.9 1297.6,1569.9 1298.4,1569.9 1299.2,1569.9 1300.0,1569.8 1300.8,1569.8 1301.6,1569.8 1302.4,1569.8 1303.2,1569.8 1304.0,1569.7 1304.8,1569.7 1305.6,1569.7 1306.4,1569.6 1307.2,1569.5 1308.0,1569.5 1308.8,1569.4 1309.6,1569.3 1310.4,1569.3 1311.2,1569.2 1312.0,1569.1 1312.8,1569.0 1313.6,1569.0 1314.4,1568.9 1315.2,1568.9 1316.1,1568.9 1316.9,1568.8 1317.7,1568.9 1318.5,1568.7 1319.3,1568.7 1320.1,1568.6 1320.9,1568.7 1321.7,1568.8 1322.5,1568.9 1323.3,1568.9 1324.1,1569.0 1324.9,1569.0 1325.7,1569.1 1326.5,1569.2 1327.3,1569.3 1328.1,1569.3 1328.9,1569.3 1329.7,1569.4 1330.5,1569.4 1331.3,1569.5 1332.1,1569.5 1332.9,1569.6 1333.7,1569.6 1334.5,1569.6 1335.3,1569.6 1336.1,1569.6 1336.9,1569.6 1337.7,1569.5 1338.5,1569.5 1339.3,1569.4 1340.1,1569.3 1340.9,1569.2 1341.7,1569.2 1342.5,1569.1 1343.3,1569.0 1344.1,1568.9 1344.9,1568.9 1345.7,1568.8 1346.5,1568.8 1347.3,1568.7 1348.1,1568.7 1348.9,1568.6 1349.7,1568.7 1350.5,1568.7 1351.3,1568.7 1352.1,1568.8 1352.9,1568.8 1353.8,1568.9 1354.6,1569.0 1355.4,1569.0 1356.2,1569.1 1357.0,1569.2 1357.8,1569.2 1358.6,1569.3 1359.4,1569.4 1360.2,1569.4 1361.0,1569.5 1361.8,1569.5 1362.6,1569.6 1363.4,1569.6 1364.2,1569.7 1365.0,1569.7 1365.8,1569.7 1366.6,1569.8 1367.4,1569.8 1368.2,1569.8 1369.0,1569.8 1369.8,1569.9 1370.6,1569.9 1371.4,1569.9 1372.2,1569.9 1373.0,1569.9 1373.0,1569.9Z" fill="#97A900" stroke="none" stroke-width="0"/>
<line x1="1296.0" y1="1569.9" x2="1373.0" y2="1569.9" stroke="#777" stroke-width="1.1"/>
<path d="M1296.0,1613.0 1296.0,1613.0 1296.8,1613.0 1297.6,1613.0 1298.4,1613.0 1299.2,1613.0 1300.0,1613.0 1300.8,1613.0 1301.6,1613.0 1302.4,1613.0 1303.2,1613.0 1304.0,1613.0 1304.8,1613.0 1305.6,1613.0 1306.4,1613.0 1307.2,1613.0 1308.0,1613.0 1308.8,1613.0 1309.6,1613.0 1310.4,1613.0 1311.2,1613.0 1312.0,1613.0 1312.8,1613.0 1313.6,1613.0 1314.4,1613.0 1315.2,1613.0 1316.1,1613.0 1316.9,1613.0 1317.7,1613.0 1318.5,1613.0 1319.3,1613.0 1320.1,1613.0 1320.9,1613.0 1321.7,1613.0 1322.5,1613.0 1323.3,1613.0 1324.1,1613.0 1324.9,1613.0 1325.7,1613.0 1326.5,1613.0 1327.3,1613.0 1328.1,1613.0 1328.9,1613.0 1329.7,1613.0 1330.5,1613.0 1331.3,1613.0 1332.1,1613.0 1332.9,1613.0 1333.7,1613.0 1334.5,1613.0 1335.3,1613.0 1336.1,1613.0 1336.9,1613.0 1337.7,1613.0 1338.5,1613.0 1339.3,1612.9 1340.1,1612.9 1340.9,1612.8 1341.7,1612.7 1342.5,1612.6 1343.3,1612.5 1344.1,1612.4 1344.9,1612.3 1345.7,1612.1 1346.5,1611.9 1347.3,1611.8 1348.1,1611.6 1348.9,1611.6 1349.7,1611.5 1350.5,1611.6 1351.3,1611.6 1352.1,1611.7 1352.9,1611.8 1353.8,1611.9 1354.6,1612.1 1355.4,1612.3 1356.2,1612.5 1357.0,1612.6 1357.8,1612.7 1358.6,1612.8 1359.4,1612.8 1360.2,1612.9 1361.0,1613.0 1361.8,1613.0 1362.6,1613.0 1363.4,1613.0 1364.2,1613.0 1365.0,1613.0 1365.8,1613.0 1366.6,1613.0 1367.4,1613.0 1368.2,1612.9 1369.0,1612.7 1369.8,1612.4 1370.6,1612.0 1371.4,1611.9 1372.2,1612.0 1373.0,1612.4 1373.0,1613.0Z" fill="#71B000" stroke="none" stroke-width="0"/>
<line x1="1296.0" y1="1613.0" x2="1373.0" y2="1613.0" stroke="#777" stroke-width="1.1"/>
<path d="M1296.0,1656.2 1296.0,1656.2 1296.8,1656.2 1297.6,1656.2 1298.4,1656.2 1299.2,1656.2 1300.0,1656.2 1300.8,1656.2 1301.6,1656.2 1302.4,1656.2 1303.2,1656.2 1304.0,1656.2 1304.8,1656.2 1305.6,1656.2 1306.4,1656.2 1307.2,1656.2 1308.0,1656.2 1308.8,1656.2 1309.6,1656.2 1310.4,1656.2 1311.2,1656.2 1312.0,1656.2 1312.8,1656.2 1313.6,1656.2 1314.4,1656.2 1315.2,1656.2 1316.1,1656.2 1316.9,1656.2 1317.7,1656.2 1318.5,1656.2 1319.3,1656.2 1320.1,1656.2 1320.9,1656.2 1321.7,1656.2 1322.5,1656.2 1323.3,1656.2 1324.1,1656.2 1324.9,1656.2 1325.7,1656.2 1326.5,1656.2 1327.3,1656.2 1328.1,1656.2 1328.9,1656.2 1329.7,1656.2 1330.5,1656.2 1331.3,1656.2 1332.1,1656.2 1332.9,1656.2 1333.7,1656.2 1334.5,1656.2 1335.3,1656.2 1336.1,1656.2 1336.9,1656.2 1337.7,1656.2 1338.5,1656.2 1339.3,1656.2 1340.1,1656.2 1340.9,1656.2 1341.7,1656.2 1342.5,1656.2 1343.3,1656.2 1344.1,1656.2 1344.9,1656.2 1345.7,1656.2 1346.5,1656.2 1347.3,1656.2 1348.1,1656.2 1348.9,1656.2 1349.7,1656.2 1350.5,1656.2 1351.3,1656.2 1352.1,1656.2 1352.9,1656.2 1353.8,1656.2 1354.6,1656.2 1355.4,1656.2 1356.2,1656.2 1357.0,1656.2 1357.8,1656.2 1358.6,1656.2 1359.4,1656.2 1360.2,1656.2 1361.0,1656.2 1361.8,1656.2 1362.6,1656.2 1363.4,1656.2 1364.2,1656.2 1365.0,1656.2 1365.8,1656.2 1366.6,1656.2 1367.4,1656.1 1368.2,1655.7 1369.0,1655.0 1369.8,1653.5 1370.6,1652.0 1371.4,1651.3 1372.2,1652.0 1373.0,1653.6 1373.0,1656.2Z" fill="#2FB600" stroke="none" stroke-width="0"/>
<line x1="1296.0" y1="1656.2" x2="1373.0" y2="1656.2" stroke="#777" stroke-width="1.1"/>
<path d="M1296.0,1699.3 1296.0,1699.3 1296.8,1699.3 1297.6,1699.3 1298.4,1699.3 1299.2,1699.3 1300.0,1699.3 1300.8,1699.3 1301.6,1699.3 1302.4,1699.3 1303.2,1699.3 1304.0,1699.3 1304.8,1699.3 1305.6,1699.3 1306.4,1699.3 1307.2,1699.3 1308.0,1699.3 1308.8,1699.3 1309.6,1699.3 1310.4,1699.3 1311.2,1699.3 1312.0,1699.3 1312.8,1699.3 1313.6,1699.3 1314.4,1699.3 1315.2,1699.3 1316.1,1699.3 1316.9,1699.3 1317.7,1699.3 1318.5,1699.3 1319.3,1699.2 1320.1,1699.2 1320.9,1699.2 1321.7,1699.1 1322.5,1699.1 1323.3,1699.0 1324.1,1698.9 1324.9,1698.8 1325.7,1698.8 1326.5,1698.8 1327.3,1698.8 1328.1,1698.9 1328.9,1698.9 1329.7,1698.9 1330.5,1699.0 1331.3,1699.1 1332.1,1699.1 1332.9,1699.2 1333.7,1699.2 1334.5,1699.3 1335.3,1699.3 1336.1,1699.3 1336.9,1699.3 1337.7,1699.3 1338.5,1699.3 1339.3,1699.3 1340.1,1699.3 1340.9,1699.3 1341.7,1699.3 1342.5,1699.3 1343.3,1699.3 1344.1,1699.3 1344.9,1699.3 1345.7,1699.3 1346.5,1699.3 1347.3,1699.3 1348.1,1699.3 1348.9,1699.3 1349.7,1699.3 1350.5,1699.3 1351.3,1699.3 1352.1,1699.3 1352.9,1699.3 1353.8,1699.3 1354.6,1699.3 1355.4,1699.3 1356.2,1699.3 1357.0,1699.3 1357.8,1699.3 1358.6,1699.3 1359.4,1699.3 1360.2,1699.3 1361.0,1699.3 1361.8,1699.3 1362.6,1699.3 1363.4,1699.3 1364.2,1699.3 1365.0,1699.3 1365.8,1699.3 1366.6,1699.3 1367.4,1699.3 1368.2,1699.3 1369.0,1699.3 1369.8,1699.3 1370.6,1699.3 1371.4,1699.3 1372.2,1699.3 1373.0,1699.3 1373.0,1699.3Z" fill="#00BB4B" stroke="none" stroke-width="0"/>
<line x1="1296.0" y1="1699.3" x2="1373.0" y2="1699.3" stroke="#1a1a1a" stroke-width="1.1"/>
<path d="M1296.0,1742.5 1296.0,1742.5 1296.8,1742.5 1297.6,1742.5 1298.4,1742.5 1299.2,1742.5 1300.0,1742.5 1300.8,1742.5 1301.6,1742.5 1302.4,1742.5 1303.2,1742.5 1304.0,1742.4 1304.8,1742.4 1305.6,1742.4 1306.4,1742.4 1307.2,1742.4 1308.0,1742.4 1308.8,1742.4 1309.6,1742.4 1310.4,1742.4 1311.2,1742.4 1312.0,1742.3 1312.8,1742.3 1313.6,1742.3 1314.4,1742.2 1315.2,1742.2 1316.1,1742.2 1316.9,1742.1 1317.7,1742.1 1318.5,1742.1 1319.3,1742.0 1320.1,1741.9 1320.9,1741.9 1321.7,1741.9 1322.5,1741.8 1323.3,1741.7 1324.1,1741.7 1324.9,1741.7 1325.7,1741.7 1326.5,1741.6 1327.3,1741.6 1328.1,1741.6 1328.9,1741.7 1329.7,1741.8 1330.5,1741.8 1331.3,1741.8 1332.1,1741.8 1332.9,1741.9 1333.7,1741.9 1334.5,1742.0 1335.3,1742.0 1336.1,1742.1 1336.9,1742.1 1337.7,1742.2 1338.5,1742.2 1339.3,1742.3 1340.1,1742.3 1340.9,1742.3 1341.7,1742.3 1342.5,1742.4 1343.3,1742.4 1344.1,1742.4 1344.9,1742.4 1345.7,1742.4 1346.5,1742.4 1347.3,1742.4 1348.1,1742.4 1348.9,1742.4 1349.7,1742.4 1350.5,1742.5 1351.3,1742.5 1352.1,1742.5 1352.9,1742.5 1353.8,1742.5 1354.6,1742.5 1355.4,1742.5 1356.2,1742.5 1357.0,1742.5 1357.8,1742.5 1358.6,1742.5 1359.4,1742.5 1360.2,1742.5 1361.0,1742.5 1361.8,1742.5 1362.6,1742.5 1363.4,1742.5 1364.2,1742.5 1365.0,1742.5 1365.8,1742.5 1366.6,1742.5 1367.4,1742.5 1368.2,1742.5 1369.0,1742.5 1369.8,1742.5 1370.6,1742.5 1371.4,1742.5 1372.2,1742.5 1373.0,1742.5 1373.0,1742.5Z" fill="#00BF76" stroke="none" stroke-width="0"/>
<line x1="1296.0" y1="1742.5" x2="1373.0" y2="1742.5" stroke="#1a1a1a" stroke-width="1.1"/>
<path d="M1296.0,1785.6 1296.0,1785.6 1296.8,1785.6 1297.6,1785.6 1298.4,1785.6 1299.2,1785.6 1300.0,1785.6 1300.8,1785.6 1301.6,1785.6 1302.4,1785.6 1303.2,1785.6 1304.0,1785.6 1304.8,1785.6 1305.6,1785.6 1306.4,1785.6 1307.2,1785.6 1308.0,1785.6 1308.8,1785.5 1309.6,1785.5 1310.4,1785.5 1311.2,1785.5 1312.0,1785.5 1312.8,1785.4 1313.6,1785.4 1314.4,1785.4 1315.2,1785.4 1316.1,1785.3 1316.9,1785.2 1317.7,1785.2 1318.5,1785.1 1319.3,1785.1 1320.1,1785.0 1320.9,1785.0 1321.7,1785.0 1322.5,1785.0 1323.3,1784.9 1324.1,1784.9 1324.9,1784.8 1325.7,1784.8 1326.5,1784.8 1327.3,1784.8 1328.1,1784.8 1328.9,1784.8 1329.7,1784.9 1330.5,1784.9 1331.3,1785.0 1332.1,1785.0 1332.9,1785.0 1333.7,1785.1 1334.5,1785.2 1335.3,1785.2 1336.1,1785.2 1336.9,1785.2 1337.7,1785.3 1338.5,1785.3 1339.3,1785.4 1340.1,1785.4 1340.9,1785.5 1341.7,1785.5 1342.5,1785.5 1343.3,1785.5 1344.1,1785.5 1344.9,1785.6 1345.7,1785.6 1346.5,1785.6 1347.3,1785.6 1348.1,1785.6 1348.9,1785.6 1349.7,1785.6 1350.5,1785.6 1351.3,1785.6 1352.1,1785.6 1352.9,1785.6 1353.8,1785.6 1354.6,1785.6 1355.4,1785.6 1356.2,1785.6 1357.0,1785.6 1357.8,1785.6 1358.6,1785.6 1359.4,1785.6 1360.2,1785.6 1361.0,1785.6 1361.8,1785.6 1362.6,1785.6 1363.4,1785.6 1364.2,1785.6 1365.0,1785.6 1365.8,1785.6 1366.6,1785.6 1367.4,1785.6 1368.2,1785.6 1369.0,1785.6 1369.8,1785.6 1370.6,1785.6 1371.4,1785.6 1372.2,1785.6 1373.0,1785.6 1373.0,1785.6Z" fill="#00C098" stroke="none" stroke-width="0"/>
<line x1="1296.0" y1="1785.6" x2="1373.0" y2="1785.6" stroke="#777" stroke-width="1.1"/>
<path d="M1296.0,1828.7 1296.0,1828.7 1296.8,1828.7 1297.6,1828.7 1298.4,1828.7 1299.2,1828.7 1300.0,1828.7 1300.8,1828.7 1301.6,1828.7 1302.4,1828.7 1303.2,1828.7 1304.0,1828.7 1304.8,1828.7 1305.6,1828.7 1306.4,1828.7 1307.2,1828.7 1308.0,1828.7 1308.8,1828.7 1309.6,1828.7 1310.4,1828.7 1311.2,1828.6 1312.0,1828.6 1312.8,1828.6 1313.6,1828.6 1314.4,1828.5 1315.2,1828.5 1316.1,1828.4 1316.9,1828.4 1317.7,1828.3 1318.5,1828.3 1319.3,1828.2 1320.1,1828.2 1320.9,1828.2 1321.7,1828.1 1322.5,1828.0 1323.3,1828.0 1324.1,1828.0 1324.9,1828.0 1325.7,1828.0 1326.5,1828.0 1327.3,1828.0 1328.1,1828.0 1328.9,1828.0 1329.7,1828.1 1330.5,1828.1 1331.3,1828.1 1332.1,1828.1 1332.9,1828.2 1333.7,1828.2 1334.5,1828.3 1335.3,1828.3 1336.1,1828.4 1336.9,1828.4 1337.7,1828.4 1338.5,1828.5 1339.3,1828.5 1340.1,1828.6 1340.9,1828.6 1341.7,1828.6 1342.5,1828.6 1343.3,1828.7 1344.1,1828.7 1344.9,1828.7 1345.7,1828.7 1346.5,1828.7 1347.3,1828.7 1348.1,1828.7 1348.9,1828.7 1349.7,1828.7 1350.5,1828.7 1351.3,1828.7 1352.1,1828.7 1352.9,1828.7 1353.8,1828.7 1354.6,1828.7 1355.4,1828.7 1356.2,1828.7 1357.0,1828.7 1357.8,1828.7 1358.6,1828.7 1359.4,1828.7 1360.2,1828.7 1361.0,1828.7 1361.8,1828.7 1362.6,1828.7 1363.4,1828.7 1364.2,1828.7 1365.0,1828.7 1365.8,1828.7 1366.6,1828.7 1367.4,1828.7 1368.2,1828.7 1369.0,1828.7 1369.8,1828.7 1370.6,1828.7 1371.4,1828.7 1372.2,1828.7 1373.0,1828.7 1373.0,1828.7Z" fill="#00C0B7" stroke="none" stroke-width="0"/>
<line x1="1296.0" y1="1828.7" x2="1373.0" y2="1828.7" stroke="#1a1a1a" stroke-width="1.1"/>
<path d="M1296.0,1871.9 1296.0,1871.9 1296.8,1871.9 1297.6,1871.8 1298.4,1871.8 1299.2,1871.8 1300.0,1871.8 1300.8,1871.8 1301.6,1871.8 1302.4,1871.7 1303.2,1871.7 1304.0,1871.7 1304.8,1871.6 1305.6,1871.5 1306.4,1871.5 1307.2,1871.4 1308.0,1871.3 1308.8,1871.2 1309.6,1871.1 1310.4,1871.0 1311.2,1870.9 1312.0,1870.8 1312.8,1870.7 1313.6,1870.7 1314.4,1870.6 1315.2,1870.6 1316.1,1870.6 1316.9,1870.5 1317.7,1870.5 1318.5,1870.4 1319.3,1870.4 1320.1,1870.3 1320.9,1870.4 1321.7,1870.4 1322.5,1870.4 1323.3,1870.5 1324.1,1870.7 1324.9,1870.8 1325.7,1870.9 1326.5,1871.0 1327.3,1871.1 1328.1,1871.1 1328.9,1871.2 1329.7,1871.3 1330.5,1871.4 1331.3,1871.5 1332.1,1871.5 1332.9,1871.6 1333.7,1871.6 1334.5,1871.7 1335.3,1871.7 1336.1,1871.7 1336.9,1871.8 1337.7,1871.8 1338.5,1871.8 1339.3,1871.8 1340.1,1871.8 1340.9,1871.9 1341.7,1871.9 1342.5,1871.9 1343.3,1871.9 1344.1,1871.9 1344.9,1871.9 1345.7,1871.9 1346.5,1871.9 1347.3,1871.8 1348.1,1871.8 1348.9,1871.8 1349.7,1871.7 1350.5,1871.6 1351.3,1871.5 1352.1,1871.3 1352.9,1871.1 1353.8,1870.9 1354.6,1870.8 1355.4,1870.6 1356.2,1870.5 1357.0,1870.4 1357.8,1870.4 1358.6,1870.4 1359.4,1870.5 1360.2,1870.7 1361.0,1870.8 1361.8,1871.0 1362.6,1871.2 1363.4,1871.4 1364.2,1871.5 1365.0,1871.6 1365.8,1871.7 1366.6,1871.8 1367.4,1871.8 1368.2,1871.8 1369.0,1871.9 1369.8,1871.9 1370.6,1871.9 1371.4,1871.9 1372.2,1871.9 1373.0,1871.9 1373.0,1871.9Z" fill="#00BDD1" stroke="none" stroke-width="0"/>
<line x1="1296.0" y1="1871.9" x2="1373.0" y2="1871.9" stroke="#777" stroke-width="1.1"/>
<path d="M1296.0,1915.0 1296.0,1915.0 1296.8,1915.0 1297.6,1915.0 1298.4,1915.0 1299.2,1915.0 1300.0,1915.0 1300.8,1915.0 1301.6,1915.0 1302.4,1915.0 1303.2,1915.0 1304.0,1915.0 1304.8,1915.0 1305.6,1914.9 1306.4,1914.9 1307.2,1914.9 1308.0,1914.8 1308.8,1914.7 1309.6,1914.7 1310.4,1914.6 1311.2,1914.6 1312.0,1914.5 1312.8,1914.5 1313.6,1914.4 1314.4,1914.3 1315.2,1914.2 1316.1,1914.1 1316.9,1914.1 1317.7,1914.0 1318.5,1914.0 1319.3,1914.0 1320.1,1914.0 1320.9,1914.0 1321.7,1914.1 1322.5,1914.1 1323.3,1914.2 1324.1,1914.3 1324.9,1914.3 1325.7,1914.4 1326.5,1914.5 1327.3,1914.6 1328.1,1914.7 1328.9,1914.7 1329.7,1914.8 1330.5,1914.8 1331.3,1914.9 1332.1,1914.9 1332.9,1914.9 1333.7,1915.0 1334.5,1915.0 1335.3,1915.0 1336.1,1915.0 1336.9,1915.0 1337.7,1915.0 1338.5,1915.0 1339.3,1915.0 1340.1,1915.0 1340.9,1915.0 1341.7,1915.0 1342.5,1915.0 1343.3,1915.0 1344.1,1915.0 1344.9,1915.0 1345.7,1915.0 1346.5,1915.0 1347.3,1915.0 1348.1,1915.0 1348.9,1915.0 1349.7,1914.9 1350.5,1914.9 1351.3,1914.7 1352.1,1914.6 1352.9,1914.4 1353.8,1914.1 1354.6,1913.8 1355.4,1913.4 1356.2,1913.2 1357.0,1913.0 1357.8,1912.9 1358.6,1913.0 1359.4,1913.3 1360.2,1913.7 1361.0,1914.0 1361.8,1914.3 1362.6,1914.5 1363.4,1914.7 1364.2,1914.8 1365.0,1914.9 1365.8,1915.0 1366.6,1915.0 1367.4,1915.0 1368.2,1915.0 1369.0,1915.0 1369.8,1915.0 1370.6,1915.0 1371.4,1915.0 1372.2,1915.0 1373.0,1915.0 1373.0,1915.0Z" fill="#00B7E8" stroke="none" stroke-width="0"/>
<line x1="1296.0" y1="1915.0" x2="1373.0" y2="1915.0" stroke="#777" stroke-width="1.1"/>
<path d="M1296.0,1958.2 1296.0,1958.2 1296.8,1958.2 1297.6,1958.2 1298.4,1958.2 1299.2,1958.2 1300.0,1958.2 1300.8,1958.2 1301.6,1958.2 1302.4,1958.2 1303.2,1958.2 1304.0,1958.2 1304.8,1958.2 1305.6,1958.2 1306.4,1958.2 1307.2,1958.2 1308.0,1958.2 1308.8,1958.2 1309.6,1958.2 1310.4,1958.2 1311.2,1958.2 1312.0,1958.2 1312.8,1958.2 1313.6,1958.2 1314.4,1958.2 1315.2,1958.2 1316.1,1958.2 1316.9,1958.2 1317.7,1958.2 1318.5,1958.2 1319.3,1958.2 1320.1,1958.2 1320.9,1958.2 1321.7,1958.2 1322.5,1958.2 1323.3,1958.2 1324.1,1958.2 1324.9,1958.2 1325.7,1958.2 1326.5,1958.2 1327.3,1958.2 1328.1,1958.2 1328.9,1958.2 1329.7,1958.2 1330.5,1958.2 1331.3,1958.2 1332.1,1958.2 1332.9,1958.2 1333.7,1958.2 1334.5,1958.2 1335.3,1958.2 1336.1,1958.2 1336.9,1958.2 1337.7,1958.2 1338.5,1958.2 1339.3,1958.2 1340.1,1958.2 1340.9,1958.1 1341.7,1958.1 1342.5,1958.0 1343.3,1957.8 1344.1,1957.4 1344.9,1956.8 1345.7,1956.1 1346.5,1955.2 1347.3,1954.6 1348.1,1954.4 1348.9,1954.5 1349.7,1954.8 1350.5,1955.6 1351.3,1956.3 1352.1,1956.8 1352.9,1957.0 1353.8,1956.8 1354.6,1956.3 1355.4,1955.5 1356.2,1955.0 1357.0,1954.4 1357.8,1954.2 1358.6,1954.6 1359.4,1955.1 1360.2,1956.0 1361.0,1956.8 1361.8,1957.4 1362.6,1957.8 1363.4,1958.0 1364.2,1958.1 1365.0,1958.1 1365.8,1958.2 1366.6,1958.2 1367.4,1958.2 1368.2,1958.2 1369.0,1958.2 1369.8,1958.2 1370.6,1958.2 1371.4,1958.2 1372.2,1958.2 1373.0,1958.2 1373.0,1958.2Z" fill="#00AEFA" stroke="none" stroke-width="0"/>
<line x1="1296.0" y1="1958.2" x2="1373.0" y2="1958.2" stroke="#1a1a1a" stroke-width="1.1"/>
<path d="M1296.0,2001.3 1296.0,2001.3 1296.8,2001.3 1297.6,2001.3 1298.4,2001.3 1299.2,2001.3 1300.0,2001.3 1300.8,2001.3 1301.6,2001.3 1302.4,2001.3 1303.2,2001.3 1304.0,2001.3 1304.8,2001.3 1305.6,2001.3 1306.4,2001.3 1307.2,2001.3 1308.0,2001.3 1308.8,2001.3 1309.6,2001.3 1310.4,2001.3 1311.2,2001.3 1312.0,2001.3 1312.8,2001.3 1313.6,2001.3 1314.4,2001.3 1315.2,2001.3 1316.1,2001.3 1316.9,2001.3 1317.7,2001.3 1318.5,2001.3 1319.3,2001.3 1320.1,2001.3 1320.9,2001.3 1321.7,2001.3 1322.5,2001.3 1323.3,2001.3 1324.1,2001.3 1324.9,2001.3 1325.7,2001.3 1326.5,2001.3 1327.3,2001.3 1328.1,2001.3 1328.9,2001.3 1329.7,2001.3 1330.5,2001.3 1331.3,2001.3 1332.1,2001.3 1332.9,2001.3 1333.7,2001.3 1334.5,2001.3 1335.3,2001.3 1336.1,2001.3 1336.9,2001.3 1337.7,2001.3 1338.5,2001.2 1339.3,2001.1 1340.1,2000.8 1340.9,2000.4 1341.7,1999.8 1342.5,1999.2 1343.3,1998.7 1344.1,1998.3 1344.9,1998.5 1345.7,1998.9 1346.5,1999.5 1347.3,2000.0 1348.1,2000.4 1348.9,2000.8 1349.7,2001.1 1350.5,2001.2 1351.3,2001.2 1352.1,2001.2 1352.9,2000.9 1353.8,2000.3 1354.6,1999.2 1355.4,1997.8 1356.2,1996.2 1357.0,1994.8 1357.8,1994.0 1358.6,1994.7 1359.4,1996.4 1360.2,1998.3 1361.0,1999.6 1361.8,2000.6 1362.6,2001.0 1363.4,2001.2 1364.2,2001.3 1365.0,2001.3 1365.8,2001.3 1366.6,2001.3 1367.4,2001.3 1368.2,2001.3 1369.0,2001.2 1369.8,2001.0 1370.6,2000.5 1371.4,1999.7 1372.2,1998.7 1373.0,1998.3 1373.0,2001.3Z" fill="#3DA1FF" stroke="none" stroke-width="0"/>
<line x1="1296.0" y1="2001.3" x2="1373.0" y2="2001.3" stroke="#1a1a1a" stroke-width="1.1"/>
<path d="M1296.0,2044.4 1296.0,2044.0 1296.8,2043.9 1297.6,2043.9 1298.4,2043.8 1299.2,2043.7 1300.0,2043.7 1300.8,2043.6 1301.6,2043.6 1302.4,2043.6 1303.2,2043.6 1304.0,2043.5 1304.8,2043.1 1305.6,2042.7 1306.4,2042.4 1307.2,2042.1 1308.0,2042.0 1308.8,2041.8 1309.6,2041.6 1310.4,2041.4 1311.2,2041.2 1312.0,2041.0 1312.8,2041.1 1313.6,2041.1 1314.4,2041.1 1315.2,2041.2 1316.1,2041.1 1316.9,2041.0 1317.7,2040.9 1318.5,2040.7 1319.3,2039.0 1320.1,2037.7 1320.9,2035.8 1321.7,2033.7 1322.5,2032.4 1323.3,2030.4 1324.1,2028.6 1324.9,2027.1 1325.7,2026.3 1326.5,2025.7 1327.3,2024.7 1328.1,2023.4 1328.9,2023.1 1329.7,2023.2 1330.5,2024.5 1331.3,2024.4 1332.1,2026.5 1332.9,2028.6 1333.7,2030.5 1334.5,2032.0 1335.3,2033.3 1336.1,2034.7 1336.9,2035.9 1337.7,2037.7 1338.5,2039.6 1339.3,2040.6 1340.1,2040.7 1340.9,2040.8 1341.7,2040.9 1342.5,2040.9 1343.3,2040.9 1344.1,2040.7 1344.9,2041.3 1345.7,2041.8 1346.5,2042.5 1347.3,2043.0 1348.1,2043.0 1348.9,2043.0 1349.7,2043.1 1350.5,2043.1 1351.3,2043.1 1352.1,2043.1 1352.9,2042.8 1353.8,2042.2 1354.6,2041.4 1355.4,2040.5 1356.2,2039.5 1357.0,2039.1 1357.8,2038.6 1358.6,2039.3 1359.4,2039.7 1360.2,2040.1 1361.0,2040.5 1361.8,2040.9 1362.6,2041.5 1363.4,2041.9 1364.2,2042.5 1365.0,2043.0 1365.8,2043.5 1366.6,2043.7 1367.4,2043.7 1368.2,2043.8 1369.0,2043.8 1369.8,2043.8 1370.6,2043.8 1371.4,2043.9 1372.2,2043.9 1373.0,2044.0 1373.0,2044.4Z" fill="#8F91FF" stroke="none" stroke-width="0"/>
<line x1="1296.0" y1="2044.4" x2="1373.0" y2="2044.4" stroke="#1a1a1a" stroke-width="1.1"/>
<path d="M1296.0,2087.6 1296.0,2084.4 1296.8,2084.2 1297.6,2084.1 1298.4,2083.8 1299.2,2083.7 1300.0,2083.6 1300.8,2083.7 1301.6,2083.6 1302.4,2083.2 1303.2,2083.1 1304.0,2083.2 1304.8,2083.2 1305.6,2083.3 1306.4,2083.2 1307.2,2083.1 1308.0,2082.8 1308.8,2082.3 1309.6,2081.6 1310.4,2081.1 1311.2,2080.9 1312.0,2080.5 1312.8,2080.1 1313.6,2079.8 1314.4,2079.8 1315.2,2080.2 1316.1,2080.5 1316.9,2081.0 1317.7,2081.3 1318.5,2081.4 1319.3,2080.1 1320.1,2079.0 1320.9,2077.6 1321.7,2076.5 1322.5,2075.3 1323.3,2071.7 1324.1,2067.8 1324.9,2064.2 1325.7,2064.1 1326.5,2064.0 1327.3,2064.1 1328.1,2064.1 1328.9,2063.1 1329.7,2062.3 1330.5,2063.0 1331.3,2063.3 1332.1,2064.7 1332.9,2065.0 1333.7,2065.3 1334.5,2066.1 1335.3,2069.1 1336.1,2072.4 1336.9,2075.1 1337.7,2077.8 1338.5,2079.9 1339.3,2080.9 1340.1,2080.5 1340.9,2080.2 1341.7,2079.8 1342.5,2079.3 1343.3,2078.8 1344.1,2079.3 1344.9,2080.1 1345.7,2080.6 1346.5,2081.4 1347.3,2081.9 1348.1,2082.2 1348.9,2082.2 1349.7,2081.5 1350.5,2080.6 1351.3,2079.5 1352.1,2079.3 1352.9,2079.3 1353.8,2078.9 1354.6,2077.9 1355.4,2077.4 1356.2,2076.5 1357.0,2074.8 1357.8,2073.1 1358.6,2073.1 1359.4,2074.5 1360.2,2075.9 1361.0,2077.5 1361.8,2078.9 1362.6,2080.4 1363.4,2081.6 1364.2,2081.9 1365.0,2082.6 1365.8,2083.1 1366.6,2083.7 1367.4,2084.3 1368.2,2084.6 1369.0,2084.9 1369.8,2085.2 1370.6,2085.5 1371.4,2085.1 1372.2,2084.6 1373.0,2084.2 1373.0,2087.6Z" fill="#BE80FF" stroke="none" stroke-width="0"/>
<line x1="1296.0" y1="2087.6" x2="1373.0" y2="2087.6" stroke="#777" stroke-width="1.1"/>
<path d="M1296.0,2130.7 1296.0,2130.6 1296.8,2130.6 1297.6,2130.6 1298.4,2130.6 1299.2,2130.5 1300.0,2130.5 1300.8,2130.5 1301.6,2130.4 1302.4,2130.4 1303.2,2130.4 1304.0,2130.3 1304.8,2130.2 1305.6,2130.2 1306.4,2130.1 1307.2,2130.1 1308.0,2130.0 1308.8,2129.9 1309.6,2129.8 1310.4,2129.7 1311.2,2129.5 1312.0,2129.4 1312.8,2129.2 1313.6,2129.1 1314.4,2128.9 1315.2,2128.8 1316.1,2128.7 1316.9,2128.7 1317.7,2128.7 1318.5,2128.5 1319.3,2128.4 1320.1,2128.3 1320.9,2128.1 1321.7,2127.8 1322.5,2127.7 1323.3,2127.7 1324.1,2127.6 1324.9,2127.6 1325.7,2127.6 1326.5,2127.5 1327.3,2127.6 1328.1,2127.6 1328.9,2127.6 1329.7,2127.5 1330.5,2127.6 1331.3,2127.7 1332.1,2128.0 1332.9,2128.0 1333.7,2128.3 1334.5,2128.4 1335.3,2128.5 1336.1,2128.7 1336.9,2128.8 1337.7,2128.9 1338.5,2129.0 1339.3,2129.0 1340.1,2129.1 1340.9,2129.3 1341.7,2129.4 1342.5,2129.6 1343.3,2129.6 1344.1,2129.8 1344.9,2129.8 1345.7,2129.9 1346.5,2130.0 1347.3,2130.1 1348.1,2130.1 1348.9,2130.1 1349.7,2130.0 1350.5,2129.7 1351.3,2129.2 1352.1,2128.1 1352.9,2126.6 1353.8,2124.2 1354.6,2121.6 1355.4,2119.3 1356.2,2116.5 1357.0,2114.8 1357.8,2114.1 1358.6,2114.0 1359.4,2114.2 1360.2,2115.8 1361.0,2118.0 1361.8,2121.2 1362.6,2124.0 1363.4,2126.4 1364.2,2127.9 1365.0,2129.1 1365.8,2129.8 1366.6,2130.2 1367.4,2130.5 1368.2,2130.6 1369.0,2130.6 1369.8,2130.3 1370.6,2129.8 1371.4,2129.0 1372.2,2128.1 1373.0,2127.8 1373.0,2130.7Z" fill="#DE71F9" stroke="none" stroke-width="0"/>
<line x1="1296.0" y1="2130.7" x2="1373.0" y2="2130.7" stroke="#777" stroke-width="1.1"/>
<path d="M1296.0,2173.9 1296.0,2173.8 1296.8,2173.8 1297.6,2173.8 1298.4,2173.8 1299.2,2173.8 1300.0,2173.8 1300.8,2173.8 1301.6,2173.7 1302.4,2173.7 1303.2,2173.7 1304.0,2173.6 1304.8,2173.6 1305.6,2173.5 1306.4,2173.5 1307.2,2173.4 1308.0,2173.4 1308.8,2173.3 1309.6,2173.3 1310.4,2173.2 1311.2,2173.1 1312.0,2173.1 1312.8,2173.0 1313.6,2172.9 1314.4,2172.8 1315.2,2172.7 1316.1,2172.6 1316.9,2172.5 1317.7,2172.4 1318.5,2172.3 1319.3,2172.1 1320.1,2171.9 1320.9,2171.9 1321.7,2171.8 1322.5,2171.7 1323.3,2171.5 1324.1,2171.4 1324.9,2171.2 1325.7,2171.1 1326.5,2171.1 1327.3,2171.1 1328.1,2170.9 1328.9,2170.8 1329.7,2170.8 1330.5,2170.8 1331.3,2170.7 1332.1,2170.8 1332.9,2170.8 1333.7,2170.9 1334.5,2170.9 1335.3,2171.0 1336.1,2171.1 1336.9,2171.2 1337.7,2171.4 1338.5,2171.5 1339.3,2171.6 1340.1,2171.8 1340.9,2171.9 1341.7,2172.0 1342.5,2172.1 1343.3,2172.3 1344.1,2172.4 1344.9,2172.4 1345.7,2172.5 1346.5,2172.6 1347.3,2172.8 1348.1,2172.9 1348.9,2172.9 1349.7,2172.8 1350.5,2172.6 1351.3,2172.0 1352.1,2171.0 1352.9,2169.3 1353.8,2166.8 1354.6,2163.1 1355.4,2158.6 1356.2,2152.6 1357.0,2148.9 1357.8,2144.6 1358.6,2143.9 1359.4,2145.0 1360.2,2147.2 1361.0,2151.2 1361.8,2156.1 1362.6,2160.4 1363.4,2164.6 1364.2,2167.6 1365.0,2170.0 1365.8,2171.5 1366.6,2172.6 1367.4,2173.3 1368.2,2173.6 1369.0,2173.6 1369.8,2173.5 1370.6,2172.9 1371.4,2172.0 1372.2,2171.2 1373.0,2171.0 1373.0,2173.9Z" fill="#F265E7" stroke="none" stroke-width="0"/>
<line x1="1296.0" y1="2173.9" x2="1373.0" y2="2173.9" stroke="#777" stroke-width="1.1"/>
<path d="M1296.0,2217.0 1296.0,2215.1 1296.8,2215.2 1297.6,2215.4 1298.4,2215.8 1299.2,2216.2 1300.0,2216.5 1300.8,2216.7 1301.6,2216.9 1302.4,2216.9 1303.2,2216.9 1304.0,2216.8 1304.8,2216.8 1305.6,2216.7 1306.4,2216.5 1307.2,2216.3 1308.0,2216.1 1308.8,2215.8 1309.6,2215.5 1310.4,2215.2 1311.2,2214.9 1312.0,2214.7 1312.8,2214.5 1313.6,2214.3 1314.4,2214.3 1315.2,2214.3 1316.1,2214.3 1316.9,2214.3 1317.7,2214.5 1318.5,2214.8 1319.3,2215.0 1320.1,2215.1 1320.9,2215.2 1321.7,2215.1 1322.5,2214.6 1323.3,2214.1 1324.1,2213.2 1324.9,2212.2 1325.7,2210.8 1326.5,2209.7 1327.3,2208.8 1328.1,2207.7 1328.9,2207.6 1329.7,2207.9 1330.5,2209.4 1331.3,2211.1 1332.1,2212.3 1332.9,2212.4 1333.7,2212.2 1334.5,2211.1 1335.3,2210.2 1336.1,2209.5 1336.9,2209.2 1337.7,2209.4 1338.5,2210.0 1339.3,2211.6 1340.1,2213.3 1340.9,2214.7 1341.7,2215.8 1342.5,2216.5 1343.3,2216.8 1344.1,2216.9 1344.9,2217.0 1345.7,2217.0 1346.5,2217.0 1347.3,2216.9 1348.1,2216.8 1348.9,2216.6 1349.7,2216.2 1350.5,2215.6 1351.3,2214.4 1352.1,2213.1 1352.9,2211.2 1353.8,2209.3 1354.6,2207.0 1355.4,2204.8 1356.2,2203.0 1357.0,2201.0 1357.8,2200.8 1358.6,2201.3 1359.4,2203.8 1360.2,2206.3 1361.0,2208.8 1361.8,2211.3 1362.6,2213.2 1363.4,2214.7 1364.2,2215.7 1365.0,2216.2 1365.8,2216.6 1366.6,2216.8 1367.4,2216.9 1368.2,2217.0 1369.0,2217.0 1369.8,2217.0 1370.6,2217.0 1371.4,2217.0 1372.2,2217.0 1373.0,2217.0 1373.0,2217.0Z" fill="#FE61CF" stroke="none" stroke-width="0"/>
<line x1="1296.0" y1="2217.0" x2="1373.0" y2="2217.0" stroke="#1a1a1a" stroke-width="1.1"/>
<path d="M1296.0,2260.1 1296.0,2260.1 1296.8,2260.1 1297.6,2260.1 1298.4,2260.1 1299.2,2260.1 1300.0,2260.1 1300.8,2260.1 1301.6,2260.1 1302.4,2260.1 1303.2,2260.1 1304.0,2260.1 1304.8,2260.1 1305.6,2260.1 1306.4,2260.0 1307.2,2259.9 1308.0,2259.6 1308.8,2259.1 1309.6,2258.5 1310.4,2257.8 1311.2,2257.0 1312.0,2256.6 1312.8,2256.3 1313.6,2256.8 1314.4,2257.5 1315.2,2258.3 1316.1,2259.0 1316.9,2259.5 1317.7,2259.9 1318.5,2260.0 1319.3,2260.1 1320.1,2260.1 1320.9,2260.1 1321.7,2260.1 1322.5,2260.0 1323.3,2259.9 1324.1,2259.7 1324.9,2259.3 1325.7,2258.7 1326.5,2258.0 1327.3,2256.9 1328.1,2255.6 1328.9,2254.3 1329.7,2253.2 1330.5,2252.4 1331.3,2251.6 1332.1,2251.7 1332.9,2252.8 1333.7,2254.0 1334.5,2255.3 1335.3,2256.5 1336.1,2257.7 1336.9,2258.5 1337.7,2259.2 1338.5,2259.6 1339.3,2259.9 1340.1,2260.0 1340.9,2260.1 1341.7,2260.1 1342.5,2260.1 1343.3,2260.1 1344.1,2260.1 1344.9,2260.1 1345.7,2260.1 1346.5,2260.1 1347.3,2260.1 1348.1,2260.1 1348.9,2260.1 1349.7,2260.1 1350.5,2260.1 1351.3,2260.0 1352.1,2259.8 1352.9,2259.1 1353.8,2257.7 1354.6,2255.2 1355.4,2251.7 1356.2,2248.3 1357.0,2246.1 1357.8,2246.9 1358.6,2249.1 1359.4,2251.9 1360.2,2254.5 1361.0,2256.6 1361.8,2257.7 1362.6,2258.1 1363.4,2258.2 1364.2,2258.3 1365.0,2258.3 1365.8,2258.7 1366.6,2259.2 1367.4,2259.5 1368.2,2259.8 1369.0,2260.0 1369.8,2260.1 1370.6,2260.1 1371.4,2260.1 1372.2,2260.1 1373.0,2260.1 1373.0,2260.1Z" fill="#FF64B3" stroke="none" stroke-width="0"/>
<line x1="1296.0" y1="2260.1" x2="1373.0" y2="2260.1" stroke="#1a1a1a" stroke-width="1.1"/>
<path d="M1296.0,2303.3 1296.0,2303.0 1296.8,2302.8 1297.6,2302.5 1298.4,2302.2 1299.2,2301.9 1300.0,2301.6 1300.8,2301.4 1301.6,2301.1 1302.4,2301.0 1303.2,2300.9 1304.0,2300.7 1304.8,2300.7 1305.6,2300.8 1306.4,2301.1 1307.2,2301.4 1308.0,2301.7 1308.8,2301.9 1309.6,2302.0 1310.4,2302.0 1311.2,2301.8 1312.0,2301.5 1312.8,2301.0 1313.6,2300.6 1314.4,2300.1 1315.2,2299.5 1316.1,2299.1 1316.9,2299.0 1317.7,2299.0 1318.5,2298.4 1319.3,2298.1 1320.1,2298.1 1320.9,2298.6 1321.7,2299.1 1322.5,2299.7 1323.3,2300.0 1324.1,2300.5 1324.9,2300.9 1325.7,2301.0 1326.5,2300.4 1327.3,2298.0 1328.1,2292.9 1328.9,2285.8 1329.7,2278.5 1330.5,2274.4 1331.3,2277.1 1332.1,2283.8 1332.9,2290.7 1333.7,2297.2 1334.5,2300.8 1335.3,2302.5 1336.1,2303.1 1336.9,2303.2 1337.7,2303.2 1338.5,2302.9 1339.3,2302.0 1340.1,2300.2 1340.9,2297.5 1341.7,2294.9 1342.5,2292.3 1343.3,2291.9 1344.1,2294.1 1344.9,2297.2 1345.7,2300.0 1346.5,2301.7 1347.3,2302.4 1348.1,2302.5 1348.9,2302.4 1349.7,2302.1 1350.5,2301.8 1351.3,2301.5 1352.1,2301.3 1352.9,2301.2 1353.8,2301.2 1354.6,2301.3 1355.4,2301.4 1356.2,2301.7 1357.0,2301.9 1357.8,2302.1 1358.6,2302.4 1359.4,2302.6 1360.2,2302.8 1361.0,2302.9 1361.8,2303.0 1362.6,2303.1 1363.4,2303.2 1364.2,2303.2 1365.0,2303.3 1365.8,2303.3 1366.6,2303.3 1367.4,2303.3 1368.2,2303.3 1369.0,2303.3 1369.8,2303.3 1370.6,2303.3 1371.4,2303.3 1372.2,2303.3 1373.0,2303.3 1373.0,2303.3Z" fill="#FF6C92" stroke="none" stroke-width="0"/>
<line x1="1296.0" y1="2303.3" x2="1373.0" y2="2303.3" stroke="#1a1a1a" stroke-width="1.1"/>
<rect x="1334.80" y="1312.20" width="5.20" height="1009.40" fill="#808080" stroke="none" stroke-width="0" opacity="0.6" style="mix-blend-mode:saturation"/>
<rect x="1334.80" y="1312.20" width="5.20" height="1009.40" fill="#d2aad2" stroke="none" stroke-width="0" fill-opacity="0.25"/>
<rect x="1345.20" y="1312.20" width="5.80" height="1009.40" fill="#808080" stroke="none" stroke-width="0" opacity="0.6" style="mix-blend-mode:saturation"/>
<rect x="1345.20" y="1312.20" width="5.80" height="1009.40" fill="#d2aad2" stroke="none" stroke-width="0" fill-opacity="0.25"/>
<rect x="1358.00" y="1312.20" width="5.80" height="1009.40" fill="#808080" stroke="none" stroke-width="0" opacity="0.6" style="mix-blend-mode:saturation"/>
<rect x="1358.00" y="1312.20" width="5.80" height="1009.40" fill="#d2aad2" stroke="none" stroke-width="0" fill-opacity="0.25"/>
<path d="M1431.1,1322.6 1431.4,1325.3 1431.8,1327.7 1432.1,1329.8 1432.5,1331.5 1432.8,1332.8 1433.2,1333.5 1461.2,1333.5 1463.2,1333.1 1464.0,1332.8 1464.8,1332.5 1465.6,1332.4 1466.4,1332.5 1467.2,1332.7 1468.0,1333.0 1468.8,1333.2 1470.8,1333.5 1484.0,1333.5 1484.0,1333.7 1470.8,1333.7 1468.8,1334.0 1468.0,1334.2 1467.2,1334.5 1466.4,1334.7 1465.6,1334.8 1464.8,1334.7 1464.0,1334.4 1463.2,1334.1 1461.2,1333.7 1433.2,1333.7 1432.8,1334.4 1432.5,1335.7 1432.1,1337.4 1431.8,1339.5 1431.4,1341.9 1431.1,1344.6Z" fill="#F8766D" stroke="#1a1a1a" stroke-width="0.55" stroke-linejoin="round"/>
<path d="M1431.1,1366.3 1431.4,1368.6 1431.8,1370.8 1432.1,1372.7 1432.5,1374.4 1432.8,1375.7 1433.2,1376.7 1433.5,1377.2 1497.6,1377.2 1497.6,1377.4 1433.5,1377.4 1433.2,1377.8 1432.8,1378.8 1432.5,1380.2 1432.1,1381.8 1431.8,1383.7 1431.4,1385.9 1431.1,1388.3Z" fill="#EC823C" stroke="#1a1a1a" stroke-width="0.55" stroke-linejoin="round"/>
<path d="M1431.1,1409.9 1431.4,1412.1 1431.8,1414.0 1432.1,1415.8 1432.5,1417.3 1432.8,1418.7 1433.2,1419.8 1433.5,1420.6 1435.5,1420.8 1497.6,1420.8 1497.6,1421.0 1435.5,1421.0 1433.5,1421.3 1433.2,1422.1 1432.8,1423.2 1432.5,1424.5 1432.1,1426.1 1431.8,1427.9 1431.4,1429.8 1431.1,1431.9Z" fill="#DD8D00" stroke="#1a1a1a" stroke-width="0.55" stroke-linejoin="round"/>
<path d="M1431.1,1453.6 1431.4,1455.5 1431.8,1457.3 1432.1,1458.9 1432.5,1460.4 1432.8,1461.7 1433.2,1462.8 1433.5,1463.7 1433.9,1464.3 1435.9,1464.5 1461.9,1464.5 1463.9,1464.1 1464.7,1463.9 1465.5,1463.8 1466.3,1463.8 1467.1,1464.0 1467.9,1464.2 1468.7,1464.4 1470.7,1464.5 1484.0,1464.5 1484.0,1464.7 1470.7,1464.7 1468.7,1464.9 1467.9,1465.0 1467.1,1465.2 1466.3,1465.4 1465.5,1465.4 1464.7,1465.3 1463.9,1465.1 1461.9,1464.7 1435.9,1464.7 1433.9,1464.9 1433.5,1465.5 1433.2,1466.4 1432.8,1467.5 1432.5,1468.8 1432.1,1470.3 1431.8,1471.9 1431.4,1473.7 1431.1,1475.6Z" fill="#CA9700" stroke="#1a1a1a" stroke-width="0.55" stroke-linejoin="round"/>
<path d="M1431.1,1497.3 1431.4,1498.9 1431.8,1500.4 1432.1,1501.8 1432.5,1503.1 1432.8,1504.3 1433.2,1505.4 1433.5,1506.3 1433.9,1507.1 1434.2,1507.7 1435.0,1508.2 1484.0,1508.2 1484.0,1508.4 1435.0,1508.4 1434.2,1508.8 1433.9,1509.5 1433.5,1510.3 1433.2,1511.2 1432.8,1512.3 1432.5,1513.4 1432.1,1514.8 1431.8,1516.2 1431.4,1517.7 1431.1,1519.3Z" fill="#B3A000" stroke="#1a1a1a" stroke-width="0.55" stroke-linejoin="round"/>
<path d="M1431.1,1540.9 1431.4,1542.2 1431.8,1543.5 1432.1,1544.6 1432.5,1545.7 1432.8,1546.8 1433.2,1547.7 1433.5,1548.6 1433.9,1549.4 1434.2,1550.2 1435.0,1551.4 1435.8,1551.8 1459.8,1551.8 1461.8,1551.5 1462.6,1551.4 1463.4,1551.2 1464.2,1551.1 1465.0,1551.0 1466.6,1551.0 1467.4,1551.1 1468.2,1551.3 1469.0,1551.4 1469.8,1551.6 1471.8,1551.8 1479.8,1551.8 1481.8,1551.6 1483.8,1551.2 1484.6,1551.2 1485.4,1551.3 1486.2,1551.4 1487.0,1551.6 1489.0,1551.8 1497.6,1551.8 1497.6,1552.0 1489.0,1552.0 1487.0,1552.3 1486.2,1552.5 1485.4,1552.6 1484.6,1552.7 1483.8,1552.7 1481.8,1552.3 1479.8,1552.0 1471.8,1552.1 1469.8,1552.3 1469.0,1552.5 1468.2,1552.6 1467.4,1552.8 1466.6,1552.9 1465.0,1552.9 1464.2,1552.8 1463.4,1552.7 1462.6,1552.5 1461.8,1552.4 1459.8,1552.1 1435.8,1552.0 1435.0,1552.5 1434.2,1553.7 1433.9,1554.5 1433.5,1555.3 1433.2,1556.2 1432.8,1557.1 1432.5,1558.2 1432.1,1559.3 1431.8,1560.4 1431.4,1561.7 1431.1,1562.9Z" fill="#97A900" stroke="#1a1a1a" stroke-width="0.55" stroke-linejoin="round"/>
<path d="M1431.1,1584.6 1431.4,1586.1 1431.8,1587.5 1432.1,1588.8 1432.5,1590.1 1432.8,1591.2 1433.2,1592.2 1433.5,1593.2 1433.9,1594.0 1434.2,1594.7 1435.0,1595.5 1461.0,1595.5 1463.0,1595.3 1465.0,1594.9 1465.8,1594.8 1466.6,1594.9 1467.4,1595.1 1468.2,1595.3 1470.2,1595.5 1484.0,1595.5 1484.0,1595.7 1470.2,1595.7 1468.2,1596.0 1467.4,1596.2 1466.6,1596.3 1465.8,1596.4 1465.0,1596.4 1463.0,1596.0 1461.0,1595.7 1435.0,1595.7 1434.2,1596.6 1433.9,1597.3 1433.5,1598.1 1433.2,1599.0 1432.8,1600.0 1432.5,1601.2 1432.1,1602.4 1431.8,1603.7 1431.4,1605.1 1431.1,1606.6Z" fill="#71B000" stroke="#1a1a1a" stroke-width="0.55" stroke-linejoin="round"/>
<path d="M1431.1,1627.3 1431.4,1627.8 1431.8,1628.4 1432.1,1628.9 1432.5,1629.4 1432.8,1629.9 1433.2,1630.4 1433.5,1630.9 1433.9,1631.3 1434.2,1631.8 1435.0,1632.8 1435.8,1633.7 1436.6,1634.6 1437.4,1635.5 1438.2,1636.3 1439.0,1637.0 1439.8,1637.6 1440.6,1638.1 1441.4,1638.6 1442.2,1639.0 1444.2,1639.2 1458.2,1639.2 1460.2,1639.1 1462.2,1638.8 1463.0,1638.6 1463.8,1638.5 1464.6,1638.3 1467.0,1638.4 1467.8,1638.5 1468.6,1638.7 1469.4,1638.8 1470.2,1639.0 1472.2,1639.2 1484.0,1639.2 1484.0,1639.4 1472.2,1639.4 1470.2,1639.6 1469.4,1639.7 1468.6,1639.9 1467.8,1640.1 1467.0,1640.2 1464.6,1640.2 1463.8,1640.1 1463.0,1640.0 1462.2,1639.8 1460.2,1639.5 1458.2,1639.4 1444.2,1639.4 1442.2,1639.6 1441.4,1640.0 1440.6,1640.4 1439.8,1641.0 1439.0,1641.6 1438.2,1642.3 1437.4,1643.1 1436.6,1643.9 1435.8,1644.8 1435.0,1645.8 1434.2,1646.8 1433.9,1647.3 1433.5,1647.7 1433.2,1648.2 1432.8,1648.7 1432.5,1649.2 1432.1,1649.7 1431.8,1650.2 1431.4,1650.8 1431.1,1651.3Z" fill="#2FB600" stroke="#1a1a1a" stroke-width="0.55" stroke-linejoin="round"/>
<path d="M1431.1,1672.0 1431.4,1673.6 1431.8,1675.1 1432.1,1676.5 1432.5,1677.8 1432.8,1679.0 1433.2,1680.1 1433.5,1681.0 1433.9,1681.8 1434.2,1682.4 1435.0,1682.9 1459.0,1682.9 1461.0,1682.6 1463.0,1682.1 1463.8,1682.0 1464.6,1681.8 1466.2,1681.8 1467.0,1681.9 1467.8,1682.0 1468.6,1682.2 1469.4,1682.4 1470.2,1682.6 1472.2,1682.8 1480.2,1682.9 1482.2,1682.5 1483.0,1682.3 1483.8,1682.2 1484.6,1682.2 1485.4,1682.3 1486.2,1682.4 1487.0,1682.6 1489.0,1682.9 1495.0,1682.9 1497.0,1682.6 1499.0,1682.4 1499.8,1682.4 1500.6,1682.5 1501.4,1682.7 1503.4,1682.9 1508.7,1682.9 1508.7,1683.1 1503.4,1683.1 1501.4,1683.3 1500.6,1683.4 1499.8,1683.5 1499.0,1683.6 1497.0,1683.3 1495.0,1683.1 1489.0,1683.1 1487.0,1683.3 1486.2,1683.5 1485.4,1683.7 1484.6,1683.8 1483.8,1683.7 1483.0,1683.6 1482.2,1683.4 1480.2,1683.1 1472.2,1683.1 1470.2,1683.3 1469.4,1683.5 1468.6,1683.7 1467.8,1683.9 1467.0,1684.0 1466.2,1684.1 1464.6,1684.1 1463.8,1684.0 1463.0,1683.8 1461.0,1683.3 1459.0,1683.1 1435.0,1683.1 1434.2,1683.5 1433.9,1684.1 1433.5,1684.9 1433.2,1685.9 1432.8,1686.9 1432.5,1688.1 1432.1,1689.4 1431.8,1690.8 1431.4,1692.4 1431.1,1694.0Z" fill="#00BB4B" stroke="#1a1a1a" stroke-width="0.55" stroke-linejoin="round"/>
<path d="M1431.1,1715.6 1431.4,1717.2 1431.8,1718.7 1432.1,1720.2 1432.5,1721.5 1432.8,1722.7 1433.2,1723.7 1433.5,1724.7 1433.9,1725.5 1434.2,1726.1 1435.0,1726.5 1461.0,1726.5 1463.0,1726.4 1465.0,1726.1 1466.6,1726.1 1467.4,1726.2 1468.2,1726.4 1470.2,1726.5 1508.7,1726.5 1508.7,1726.7 1470.2,1726.7 1468.2,1726.9 1467.4,1727.0 1466.6,1727.2 1465.0,1727.2 1463.0,1726.9 1461.0,1726.7 1435.0,1726.7 1434.2,1727.2 1433.9,1727.8 1433.5,1728.6 1433.2,1729.5 1432.8,1730.6 1432.5,1731.8 1432.1,1733.1 1431.8,1734.5 1431.4,1736.0 1431.1,1737.6Z" fill="#00BF76" stroke="#1a1a1a" stroke-width="0.55" stroke-linejoin="round"/>
<path d="M1431.1,1759.3 1431.4,1760.6 1431.8,1761.8 1432.1,1763.0 1432.5,1764.1 1432.8,1765.1 1433.2,1766.1 1433.5,1767.0 1433.9,1767.8 1434.2,1768.5 1435.0,1769.8 1435.8,1770.2 1459.8,1770.2 1461.8,1770.1 1463.8,1769.3 1464.6,1769.0 1465.4,1768.8 1466.2,1768.9 1467.0,1769.1 1467.8,1769.5 1468.6,1769.8 1469.4,1770.0 1471.4,1770.2 1517.6,1770.2 1517.6,1770.4 1471.4,1770.4 1469.4,1770.6 1468.6,1770.8 1467.8,1771.1 1467.0,1771.5 1466.2,1771.7 1465.4,1771.8 1464.6,1771.6 1463.8,1771.3 1461.8,1770.5 1459.8,1770.4 1435.8,1770.4 1435.0,1770.8 1434.2,1772.1 1433.9,1772.8 1433.5,1773.6 1433.2,1774.5 1432.8,1775.5 1432.5,1776.5 1432.1,1777.6 1431.8,1778.8 1431.4,1780.0 1431.1,1781.3Z" fill="#00C098" stroke="#1a1a1a" stroke-width="0.55" stroke-linejoin="round"/>
<path d="M1431.1,1803.0 1431.4,1804.3 1431.8,1805.5 1432.1,1806.7 1432.5,1807.8 1432.8,1808.8 1433.2,1809.8 1433.5,1810.6 1433.9,1811.5 1434.2,1812.2 1435.0,1813.4 1435.8,1813.9 1459.8,1813.9 1461.8,1813.6 1463.8,1813.1 1464.6,1812.9 1465.4,1812.8 1466.2,1812.8 1467.0,1812.9 1467.8,1813.1 1468.6,1813.4 1469.4,1813.6 1471.4,1813.9 1479.4,1813.9 1481.4,1813.6 1483.4,1813.2 1484.2,1813.2 1485.0,1813.3 1485.8,1813.4 1486.6,1813.6 1488.6,1813.9 1508.8,1813.9 1508.8,1814.1 1488.6,1814.1 1486.6,1814.3 1485.8,1814.5 1485.0,1814.7 1484.2,1814.8 1483.4,1814.7 1481.4,1814.3 1479.4,1814.1 1471.4,1814.1 1469.4,1814.4 1468.6,1814.6 1467.8,1814.8 1467.0,1815.0 1466.2,1815.1 1465.4,1815.2 1464.6,1815.1 1463.8,1814.9 1461.8,1814.3 1459.8,1814.1 1435.8,1814.1 1435.0,1814.5 1434.2,1815.8 1433.9,1816.5 1433.5,1817.3 1433.2,1818.2 1432.8,1819.1 1432.5,1820.2 1432.1,1821.3 1431.8,1822.4 1431.4,1823.7 1431.1,1825.0Z" fill="#00C0B7" stroke="#1a1a1a" stroke-width="0.55" stroke-linejoin="round"/>
<path d="M1431.1,1846.6 1431.4,1847.6 1431.8,1848.6 1432.1,1849.5 1432.5,1850.3 1432.8,1851.2 1433.2,1852.0 1433.5,1852.7 1433.9,1853.4 1434.2,1854.1 1435.0,1855.5 1435.8,1856.6 1436.6,1857.3 1438.6,1857.5 1458.6,1857.5 1460.6,1857.4 1462.6,1856.8 1463.4,1856.4 1464.2,1856.1 1465.0,1855.9 1465.8,1855.8 1466.6,1856.0 1467.4,1856.2 1468.2,1856.6 1469.0,1856.9 1469.8,1857.2 1470.6,1857.4 1472.6,1857.5 1508.8,1857.5 1508.8,1857.7 1472.6,1857.7 1470.6,1857.9 1469.8,1858.1 1469.0,1858.4 1468.2,1858.7 1467.4,1859.0 1466.6,1859.3 1465.8,1859.4 1465.0,1859.4 1464.2,1859.2 1463.4,1858.8 1462.6,1858.5 1460.6,1857.9 1458.6,1857.7 1438.6,1857.7 1436.6,1857.9 1435.8,1858.7 1435.0,1859.8 1434.2,1861.2 1433.9,1861.8 1433.5,1862.6 1433.2,1863.3 1432.8,1864.1 1432.5,1864.9 1432.1,1865.8 1431.8,1866.7 1431.4,1867.7 1431.1,1868.6Z" fill="#00BDD1" stroke="#1a1a1a" stroke-width="0.55" stroke-linejoin="round"/>
<path d="M1431.1,1889.3 1431.4,1890.2 1431.8,1891.0 1432.1,1891.8 1432.5,1892.6 1432.8,1893.3 1433.2,1894.1 1433.5,1894.8 1433.9,1895.5 1434.2,1896.1 1435.0,1897.5 1435.8,1898.7 1436.6,1899.7 1437.4,1900.5 1438.2,1901.1 1440.2,1901.2 1460.2,1901.2 1462.2,1900.7 1463.0,1900.5 1463.8,1900.2 1464.6,1899.9 1465.4,1899.8 1466.2,1899.8 1467.0,1900.0 1467.8,1900.3 1468.6,1900.6 1469.4,1900.8 1470.2,1901.0 1472.2,1901.2 1508.8,1901.2 1508.8,1901.4 1472.2,1901.4 1470.2,1901.6 1469.4,1901.8 1468.6,1902.1 1467.8,1902.3 1467.0,1902.6 1466.2,1902.8 1465.4,1902.8 1464.6,1902.7 1463.8,1902.5 1463.0,1902.2 1462.2,1901.9 1460.2,1901.4 1440.2,1901.4 1438.2,1901.5 1437.4,1902.1 1436.6,1902.9 1435.8,1903.9 1435.0,1905.1 1434.2,1906.5 1433.9,1907.2 1433.5,1907.8 1433.2,1908.5 1432.8,1909.3 1432.5,1910.0 1432.1,1910.8 1431.8,1911.6 1431.4,1912.5 1431.1,1913.3Z" fill="#00B7E8" stroke="#1a1a1a" stroke-width="0.55" stroke-linejoin="round"/>
<path d="M1431.1,1933.0 1431.4,1933.7 1431.8,1934.4 1432.1,1935.1 1432.5,1935.7 1432.8,1936.4 1433.2,1937.0 1433.5,1937.6 1433.9,1938.2 1434.2,1938.8 1435.0,1940.0 1435.8,1941.2 1436.6,1942.2 1437.4,1943.1 1438.2,1943.8 1439.0,1944.4 1439.8,1944.8 1459.8,1944.8 1461.8,1944.5 1462.6,1944.4 1463.4,1944.2 1464.2,1944.1 1465.0,1944.0 1466.6,1944.0 1467.4,1944.1 1468.2,1944.3 1469.0,1944.4 1469.8,1944.6 1471.8,1944.9 1483.6,1944.9 1483.6,1945.1 1471.8,1945.1 1469.8,1945.4 1469.0,1945.5 1468.2,1945.7 1467.4,1945.8 1466.6,1945.9 1465.0,1946.0 1464.2,1945.9 1463.4,1945.7 1462.6,1945.6 1461.8,1945.4 1459.8,1945.1 1439.8,1945.1 1439.0,1945.5 1438.2,1946.1 1437.4,1946.9 1436.6,1947.8 1435.8,1948.8 1435.0,1949.9 1434.2,1951.2 1433.9,1951.7 1433.5,1952.3 1433.2,1952.9 1432.8,1953.6 1432.5,1954.2 1432.1,1954.9 1431.8,1955.6 1431.4,1956.3 1431.1,1957.0Z" fill="#00AEFA" stroke="#1a1a1a" stroke-width="0.55" stroke-linejoin="round"/>
<path d="M1431.1,1976.7 1431.4,1977.3 1431.8,1977.9 1432.1,1978.5 1432.5,1979.0 1432.8,1979.6 1433.2,1980.1 1433.5,1980.7 1433.9,1981.2 1434.2,1981.7 1435.0,1982.8 1435.8,1983.9 1436.6,1984.8 1437.4,1985.7 1438.2,1986.5 1439.0,1987.2 1439.8,1987.8 1440.6,1988.2 1441.4,1988.6 1459.4,1988.5 1461.4,1988.0 1462.2,1987.7 1463.0,1987.3 1463.8,1987.2 1464.7,1987.2 1464.7,1990.1 1463.8,1990.1 1463.0,1990.0 1462.2,1989.6 1461.4,1989.3 1459.4,1988.8 1441.4,1988.8 1440.6,1989.1 1439.8,1989.5 1439.0,1990.1 1438.2,1990.8 1437.4,1991.6 1436.6,1992.5 1435.8,1993.4 1435.0,1994.5 1434.2,1995.6 1433.9,1996.1 1433.5,1996.6 1433.2,1997.2 1432.8,1997.7 1432.5,1998.3 1432.1,1998.8 1431.8,1999.4 1431.4,2000.0 1431.1,2000.7Z" fill="#3DA1FF" stroke="#1a1a1a" stroke-width="0.55" stroke-linejoin="round"/>
<path d="M1431.1,2021.3 1431.4,2024.4 1431.8,2027.2 1432.1,2029.4 1432.5,2031.1 1432.8,2032.2 1460.8,2032.2 1462.8,2032.1 1464.8,2031.8 1466.4,2031.8 1467.2,2031.9 1468.0,2032.0 1470.0,2032.2 1517.4,2032.2 1517.4,2032.4 1470.0,2032.4 1468.0,2032.6 1467.2,2032.8 1466.4,2032.9 1464.8,2032.9 1462.8,2032.5 1460.8,2032.4 1432.8,2032.4 1432.5,2033.5 1432.1,2035.2 1431.8,2037.5 1431.4,2040.2 1431.1,2043.3Z" fill="#8F91FF" stroke="#1a1a1a" stroke-width="0.55" stroke-linejoin="round"/>
<path d="M1431.1,2064.0 1431.4,2064.7 1431.8,2065.4 1432.1,2066.1 1432.5,2066.7 1432.8,2067.4 1433.2,2068.0 1433.5,2068.6 1433.9,2069.2 1434.2,2069.8 1435.0,2071.0 1435.8,2072.2 1436.6,2073.2 1437.4,2074.1 1438.2,2074.8 1439.0,2075.4 1439.8,2075.9 1455.8,2075.9 1457.8,2075.7 1459.8,2075.3 1460.6,2075.1 1461.4,2074.9 1462.2,2074.6 1463.0,2074.4 1463.8,2074.2 1464.6,2074.1 1466.2,2074.0 1467.0,2074.1 1467.8,2074.3 1468.6,2074.5 1469.4,2074.7 1470.2,2074.9 1471.0,2075.2 1471.8,2075.4 1472.6,2075.5 1473.4,2075.6 1475.4,2075.7 1477.4,2075.5 1478.2,2075.4 1479.0,2075.2 1479.8,2074.9 1480.6,2074.7 1481.4,2074.5 1482.2,2074.3 1483.0,2074.1 1483.8,2074.0 1485.4,2074.1 1486.2,2074.2 1487.0,2074.4 1487.8,2074.6 1488.6,2074.9 1489.4,2075.1 1490.2,2075.3 1491.0,2075.5 1491.8,2075.6 1493.8,2075.9 1528.7,2075.9 1528.7,2076.1 1493.8,2076.1 1491.8,2076.3 1491.0,2076.5 1490.2,2076.7 1489.4,2076.9 1488.6,2077.1 1487.8,2077.4 1487.0,2077.6 1486.2,2077.8 1485.4,2077.9 1483.8,2078.0 1483.0,2077.9 1482.2,2077.7 1481.4,2077.5 1480.6,2077.3 1479.8,2077.0 1479.0,2076.8 1478.2,2076.6 1477.4,2076.5 1475.4,2076.3 1473.4,2076.3 1472.6,2076.5 1471.8,2076.6 1471.0,2076.8 1470.2,2077.0 1469.4,2077.3 1468.6,2077.5 1467.8,2077.7 1467.0,2077.9 1466.2,2078.0 1464.6,2077.9 1463.8,2077.8 1463.0,2077.6 1462.2,2077.4 1461.4,2077.1 1460.6,2076.9 1459.8,2076.7 1457.8,2076.3 1455.8,2076.1 1439.8,2076.1 1439.0,2076.5 1438.2,2077.1 1437.4,2077.9 1436.6,2078.8 1435.8,2079.8 1435.0,2080.9 1434.2,2082.2 1433.9,2082.8 1433.5,2083.3 1433.2,2084.0 1432.8,2084.6 1432.5,2085.2 1432.1,2085.9 1431.8,2086.6 1431.4,2087.3 1431.1,2088.0Z" fill="#BE80FF" stroke="#1a1a1a" stroke-width="0.55" stroke-linejoin="round"/>
<path d="M1431.1,2107.7 1431.4,2108.4 1431.8,2109.1 1432.1,2109.8 1432.5,2110.4 1432.8,2111.1 1433.2,2111.7 1433.5,2112.3 1433.9,2112.9 1434.2,2113.5 1435.0,2114.7 1435.8,2115.8 1436.6,2116.9 1437.4,2117.7 1438.2,2118.5 1439.0,2119.1 1439.8,2119.5 1453.8,2119.6 1455.8,2119.4 1457.8,2119.0 1458.6,2118.7 1459.4,2118.3 1460.2,2117.9 1461.0,2117.4 1461.8,2116.8 1462.6,2116.3 1463.4,2115.8 1464.2,2115.4 1465.0,2115.2 1465.8,2115.2 1466.6,2115.3 1467.4,2115.6 1468.2,2116.0 1469.0,2116.5 1469.8,2117.0 1470.6,2117.6 1471.4,2118.0 1472.2,2118.5 1473.0,2118.8 1473.8,2119.0 1474.6,2119.2 1475.4,2119.3 1477.4,2119.2 1478.2,2119.0 1479.0,2118.8 1479.8,2118.6 1480.6,2118.4 1481.4,2118.1 1482.2,2117.9 1483.0,2117.8 1483.8,2117.7 1485.4,2117.7 1486.2,2117.9 1487.0,2118.0 1487.8,2118.3 1488.6,2118.5 1489.4,2118.7 1490.2,2118.9 1491.0,2119.1 1491.8,2119.2 1493.4,2119.3 1495.8,2119.2 1497.4,2119.0 1499.0,2118.9 1504.6,2119.0 1506.2,2119.2 1507.0,2119.3 1509.0,2119.4 1511.0,2119.5 1528.7,2119.6 1528.7,2119.8 1511.0,2119.8 1509.0,2119.9 1507.0,2120.1 1506.2,2120.1 1504.6,2120.3 1499.0,2120.4 1497.4,2120.3 1495.8,2120.2 1493.4,2120.1 1491.8,2120.2 1491.0,2120.3 1490.2,2120.4 1489.4,2120.6 1488.6,2120.8 1487.8,2121.1 1487.0,2121.3 1486.2,2121.5 1485.4,2121.6 1483.8,2121.6 1483.0,2121.6 1482.2,2121.4 1481.4,2121.2 1480.6,2121.0 1479.8,2120.7 1479.0,2120.5 1478.2,2120.3 1477.4,2120.2 1475.4,2120.1 1474.6,2120.1 1473.8,2120.3 1473.0,2120.5 1472.2,2120.9 1471.4,2121.3 1470.6,2121.8 1469.8,2122.3 1469.0,2122.8 1468.2,2123.3 1467.4,2123.7 1466.6,2124.0 1465.8,2124.2 1465.0,2124.1 1464.2,2123.9 1463.4,2123.5 1462.6,2123.0 1461.8,2122.5 1461.0,2121.9 1460.2,2121.4 1459.4,2121.0 1458.6,2120.6 1457.8,2120.3 1455.8,2119.9 1453.8,2119.8 1439.8,2119.8 1439.0,2120.2 1438.2,2120.8 1437.4,2121.6 1436.6,2122.5 1435.8,2123.5 1435.0,2124.6 1434.2,2125.9 1433.9,2126.4 1433.5,2127.0 1433.2,2127.6 1432.8,2128.3 1432.5,2128.9 1432.1,2129.6 1431.8,2130.2 1431.4,2130.9 1431.1,2131.7Z" fill="#DE71F9" stroke="#1a1a1a" stroke-width="0.55" stroke-linejoin="round"/>
<path d="M1431.1,2151.3 1431.4,2152.0 1431.8,2152.7 1432.1,2153.4 1432.5,2154.1 1432.8,2154.7 1433.2,2155.4 1433.5,2156.0 1433.9,2156.6 1434.2,2157.1 1435.0,2158.4 1435.8,2159.5 1436.6,2160.5 1437.4,2161.4 1438.2,2162.2 1439.0,2162.8 1439.8,2163.2 1455.8,2163.2 1457.8,2162.8 1458.6,2162.6 1459.4,2162.3 1460.2,2161.9 1461.0,2161.5 1461.8,2161.1 1462.6,2160.7 1463.4,2160.3 1464.2,2160.1 1465.0,2159.9 1465.8,2159.8 1466.6,2159.9 1467.4,2160.1 1468.2,2160.5 1469.0,2160.9 1469.8,2161.3 1470.6,2161.7 1471.4,2162.1 1472.2,2162.4 1473.0,2162.7 1473.8,2162.9 1474.6,2163.0 1476.6,2163.2 1478.6,2163.1 1480.6,2162.6 1481.4,2162.4 1482.2,2162.2 1483.0,2162.0 1483.8,2161.9 1484.6,2161.8 1485.4,2161.9 1486.2,2162.1 1487.0,2162.3 1487.8,2162.6 1488.6,2162.8 1489.4,2163.0 1491.4,2163.2 1528.7,2163.2 1528.7,2163.4 1491.4,2163.4 1489.4,2163.7 1488.6,2163.9 1487.8,2164.1 1487.0,2164.3 1486.2,2164.6 1485.4,2164.7 1484.6,2164.8 1483.8,2164.8 1483.0,2164.7 1482.2,2164.5 1481.4,2164.3 1480.6,2164.0 1478.6,2163.6 1476.6,2163.5 1474.6,2163.6 1473.8,2163.8 1473.0,2164.0 1472.2,2164.2 1471.4,2164.6 1470.6,2165.0 1469.8,2165.4 1469.0,2165.8 1468.2,2166.2 1467.4,2166.5 1466.6,2166.7 1465.8,2166.8 1465.0,2166.8 1464.2,2166.6 1463.4,2166.3 1462.6,2165.9 1461.8,2165.5 1461.0,2165.1 1460.2,2164.7 1459.4,2164.4 1458.6,2164.1 1457.8,2163.8 1455.8,2163.5 1439.8,2163.5 1439.0,2163.9 1438.2,2164.5 1437.4,2165.2 1436.6,2166.1 1435.8,2167.2 1435.0,2168.3 1434.2,2169.5 1433.9,2170.1 1433.5,2170.7 1433.2,2171.3 1432.8,2171.9 1432.5,2172.6 1432.1,2173.2 1431.8,2173.9 1431.4,2174.6 1431.1,2175.3Z" fill="#F265E7" stroke="#1a1a1a" stroke-width="0.55" stroke-linejoin="round"/>
<path d="M1431.1,2195.0 1431.4,2195.7 1431.8,2196.4 1432.1,2197.1 1432.5,2197.8 1432.8,2198.4 1433.2,2199.0 1433.5,2199.6 1433.9,2200.2 1434.2,2200.8 1435.0,2202.0 1435.8,2203.2 1436.6,2204.2 1437.4,2205.1 1438.2,2205.8 1439.0,2206.5 1439.8,2206.9 1457.8,2206.9 1459.8,2206.7 1461.8,2206.1 1462.6,2205.8 1463.4,2205.5 1464.2,2205.2 1465.0,2205.0 1465.8,2205.0 1466.6,2205.1 1467.4,2205.3 1468.2,2205.6 1469.0,2205.9 1469.8,2206.2 1470.6,2206.5 1471.4,2206.7 1473.4,2206.9 1477.4,2206.9 1479.4,2206.7 1481.4,2206.4 1482.2,2206.2 1483.0,2206.1 1484.6,2206.0 1485.4,2206.1 1486.2,2206.2 1487.0,2206.3 1487.8,2206.5 1488.6,2206.6 1490.6,2206.9 1524.6,2206.9 1524.6,2207.1 1490.6,2207.1 1488.6,2207.4 1487.8,2207.5 1487.0,2207.7 1486.2,2207.8 1485.4,2207.9 1484.6,2208.0 1483.0,2207.9 1482.2,2207.8 1481.4,2207.6 1479.4,2207.3 1477.4,2207.1 1473.4,2207.1 1471.4,2207.3 1470.6,2207.5 1469.8,2207.8 1469.0,2208.1 1468.2,2208.4 1467.4,2208.7 1466.6,2208.9 1465.8,2209.0 1465.0,2209.0 1464.2,2208.8 1463.4,2208.5 1462.6,2208.2 1461.8,2207.9 1459.8,2207.3 1457.8,2207.1 1439.8,2207.1 1439.0,2207.5 1438.2,2208.2 1437.4,2208.9 1436.6,2209.8 1435.8,2210.8 1435.0,2212.0 1434.2,2213.2 1433.9,2213.8 1433.5,2214.4 1433.2,2215.0 1432.8,2215.6 1432.5,2216.2 1432.1,2216.9 1431.8,2217.6 1431.4,2218.3 1431.1,2219.0Z" fill="#FE61CF" stroke="#1a1a1a" stroke-width="0.55" stroke-linejoin="round"/>
<path d="M1431.1,2238.7 1431.4,2239.2 1431.8,2239.7 1432.1,2240.3 1432.5,2240.8 1432.8,2241.3 1433.2,2241.8 1433.5,2242.2 1433.9,2242.7 1434.2,2243.2 1435.0,2244.2 1435.8,2245.1 1436.6,2246.0 1437.4,2246.9 1438.2,2247.6 1439.0,2248.3 1439.8,2249.0 1440.6,2249.5 1441.4,2250.0 1442.2,2250.4 1444.2,2250.6 1452.2,2250.6 1454.2,2250.5 1456.2,2250.2 1457.0,2250.0 1457.8,2249.8 1458.6,2249.6 1459.4,2249.3 1460.2,2249.0 1461.0,2248.7 1461.8,2248.4 1462.6,2248.2 1463.4,2248.0 1464.2,2247.8 1465.0,2247.7 1466.6,2247.7 1467.4,2247.8 1468.2,2248.0 1469.0,2248.3 1469.8,2248.5 1470.6,2248.8 1471.4,2249.1 1472.2,2249.4 1473.0,2249.7 1473.8,2249.9 1474.6,2250.1 1475.4,2250.2 1476.2,2250.3 1478.2,2250.5 1524.6,2250.6 1524.6,2250.8 1478.2,2250.8 1476.2,2251.0 1475.4,2251.1 1474.6,2251.3 1473.8,2251.5 1473.0,2251.7 1472.2,2251.9 1471.4,2252.2 1470.6,2252.5 1469.8,2252.8 1469.0,2253.1 1468.2,2253.3 1467.4,2253.5 1466.6,2253.6 1465.0,2253.6 1464.2,2253.5 1463.4,2253.4 1462.6,2253.2 1461.8,2252.9 1461.0,2252.6 1460.2,2252.3 1459.4,2252.0 1458.6,2251.8 1457.8,2251.5 1457.0,2251.3 1456.2,2251.2 1454.2,2250.9 1452.2,2250.8 1444.2,2250.8 1442.2,2251.0 1441.4,2251.3 1440.6,2251.8 1439.8,2252.4 1439.0,2253.0 1438.2,2253.7 1437.4,2254.5 1436.6,2255.3 1435.8,2256.2 1435.0,2257.2 1434.2,2258.2 1433.9,2258.6 1433.5,2259.1 1433.2,2259.6 1432.8,2260.1 1432.5,2260.6 1432.1,2261.1 1431.8,2261.6 1431.4,2262.1 1431.1,2262.7Z" fill="#FF64B3" stroke="#1a1a1a" stroke-width="0.55" stroke-linejoin="round"/>
<path d="M1431.1,2282.3 1431.4,2282.9 1431.8,2283.4 1432.1,2283.9 1432.5,2284.4 1432.8,2284.9 1433.2,2285.4 1433.5,2285.9 1433.9,2286.4 1434.2,2286.8 1435.0,2287.8 1435.8,2288.8 1436.6,2289.7 1437.4,2290.5 1438.2,2291.3 1439.0,2292.0 1439.8,2292.6 1440.6,2293.2 1441.4,2293.7 1442.2,2294.0 1444.2,2294.2 1456.2,2294.2 1458.2,2294.0 1460.2,2293.5 1461.0,2293.3 1461.8,2293.1 1462.6,2292.8 1463.4,2292.6 1464.2,2292.5 1465.0,2292.4 1466.6,2292.4 1467.4,2292.5 1468.2,2292.7 1469.0,2292.9 1469.8,2293.2 1470.6,2293.4 1471.4,2293.6 1472.2,2293.8 1473.0,2294.0 1475.0,2294.2 1477.0,2294.2 1479.0,2294.1 1481.0,2293.8 1481.8,2293.6 1482.6,2293.5 1483.4,2293.4 1485.0,2293.4 1485.8,2293.5 1486.6,2293.6 1487.4,2293.7 1488.2,2293.9 1489.0,2294.0 1491.0,2294.2 1497.5,2294.2 1497.5,2294.4 1491.0,2294.4 1489.0,2294.6 1488.2,2294.8 1487.4,2294.9 1486.6,2295.1 1485.8,2295.2 1485.0,2295.3 1483.4,2295.3 1482.6,2295.2 1481.8,2295.0 1481.0,2294.9 1479.0,2294.6 1477.0,2294.4 1475.0,2294.5 1473.0,2294.7 1472.2,2294.9 1471.4,2295.1 1470.6,2295.3 1469.8,2295.5 1469.0,2295.7 1468.2,2296.0 1467.4,2296.2 1466.6,2296.3 1465.0,2296.3 1464.2,2296.2 1463.4,2296.0 1462.6,2295.8 1461.8,2295.6 1461.0,2295.4 1460.2,2295.1 1458.2,2294.7 1456.2,2294.5 1444.2,2294.4 1442.2,2294.6 1441.4,2295.0 1440.6,2295.5 1439.8,2296.0 1439.0,2296.7 1438.2,2297.4 1437.4,2298.1 1436.6,2299.0 1435.8,2299.9 1435.0,2300.8 1434.2,2301.8 1433.9,2302.3 1433.5,2302.8 1433.2,2303.3 1432.8,2303.7 1432.5,2304.2 1432.1,2304.8 1431.8,2305.3 1431.4,2305.8 1431.1,2306.3Z" fill="#FF6C92" stroke="#1a1a1a" stroke-width="0.55" stroke-linejoin="round"/>
<path d="M1599.4,1355.6 1599.4,1355.6 1600.2,1355.6 1601.0,1355.6 1601.8,1355.6 1602.6,1355.6 1603.4,1355.6 1604.2,1355.6 1605.0,1355.6 1605.8,1355.6 1606.6,1355.6 1607.4,1355.6 1608.2,1355.6 1609.1,1355.6 1609.9,1355.6 1610.7,1355.6 1611.5,1355.6 1612.3,1355.6 1613.1,1355.6 1613.9,1355.6 1614.7,1355.6 1615.5,1355.6 1616.3,1355.6 1617.1,1355.6 1617.9,1355.6 1618.7,1355.6 1619.5,1355.6 1620.3,1355.5 1621.1,1355.5 1621.9,1355.5 1622.7,1355.4 1623.5,1355.4 1624.3,1355.3 1625.1,1355.3 1625.9,1355.2 1626.7,1355.1 1627.6,1355.0 1628.4,1354.8 1629.2,1354.8 1630.0,1354.7 1630.8,1354.7 1631.6,1354.7 1632.4,1354.6 1633.2,1354.6 1634.0,1354.6 1634.8,1354.6 1635.6,1354.6 1636.4,1354.8 1637.2,1354.8 1638.0,1354.9 1638.8,1355.0 1639.6,1355.1 1640.4,1355.2 1641.2,1355.2 1642.0,1355.3 1642.8,1355.4 1643.6,1355.4 1644.4,1355.5 1645.2,1355.5 1646.0,1355.5 1646.9,1355.5 1647.7,1355.6 1648.5,1355.6 1649.3,1355.6 1650.1,1355.6 1650.9,1355.6 1651.7,1355.6 1652.5,1355.6 1653.3,1355.5 1654.1,1355.5 1654.9,1355.5 1655.7,1355.5 1656.5,1355.4 1657.3,1355.3 1658.1,1355.3 1658.9,1355.2 1659.7,1355.2 1660.5,1355.1 1661.3,1355.0 1662.1,1354.9 1662.9,1354.8 1663.7,1354.8 1664.5,1354.7 1665.4,1354.6 1666.2,1354.6 1667.0,1354.6 1667.8,1354.6 1668.6,1354.6 1669.4,1354.6 1670.2,1354.7 1671.0,1354.8 1671.8,1354.9 1672.6,1355.0 1673.4,1355.1 1674.2,1355.1 1675.0,1355.2 1675.8,1355.3 1676.6,1355.4 1677.4,1355.4 1678.2,1355.5 1679.0,1355.5 1679.8,1355.5 1680.6,1355.5 1681.4,1355.6 1682.2,1355.6 1683.0,1355.6 1683.8,1355.6 1684.7,1355.6 1685.5,1355.6 1686.3,1355.6 1687.1,1355.6 1687.9,1355.6 1688.7,1355.6 1689.5,1355.6 1690.3,1355.6 1691.1,1355.6 1691.9,1355.6 1692.7,1355.6 1693.5,1355.6 1694.3,1355.6 1695.1,1355.6 1695.9,1355.6 1696.7,1355.6 1697.5,1355.6 1698.3,1355.6 1699.1,1355.6 1699.9,1355.6 1700.7,1355.6 1701.5,1355.6 1702.3,1355.6 1703.2,1355.6 1704.0,1355.6 1704.8,1355.6 1705.6,1355.6 1706.4,1355.6 1707.2,1355.6 1708.0,1355.6 1708.8,1355.6 1709.6,1355.6 1710.4,1355.6 1711.2,1355.6 1712.0,1355.6 1712.0,1355.6Z" fill="#F8766D" stroke="none" stroke-width="0"/>
<line x1="1599.4" y1="1355.6" x2="1712.0" y2="1355.6" stroke="#777" stroke-width="1.1"/>
<path d="M1599.4,1398.8 1599.4,1398.8 1600.2,1398.8 1601.0,1398.8 1601.8,1398.8 1602.6,1398.8 1603.4,1398.8 1604.2,1398.8 1605.0,1398.8 1605.8,1398.8 1606.6,1398.8 1607.4,1398.8 1608.2,1398.8 1609.1,1398.8 1609.9,1398.8 1610.7,1398.8 1611.5,1398.8 1612.3,1398.7 1613.1,1398.7 1613.9,1398.7 1614.7,1398.7 1615.5,1398.7 1616.3,1398.7 1617.1,1398.7 1617.9,1398.7 1618.7,1398.6 1619.5,1398.6 1620.3,1398.6 1621.1,1398.6 1621.9,1398.5 1622.7,1398.5 1623.5,1398.4 1624.3,1398.4 1625.1,1398.3 1625.9,1398.3 1626.7,1398.2 1627.6,1398.2 1628.4,1398.1 1629.2,1398.0 1630.0,1398.0 1630.8,1397.9 1631.6,1397.8 1632.4,1397.7 1633.2,1397.6 1634.0,1397.5 1634.8,1397.4 1635.6,1397.3 1636.4,1397.2 1637.2,1397.1 1638.0,1397.0 1638.8,1396.9 1639.6,1396.7 1640.4,1396.7 1641.2,1396.8 1642.0,1396.9 1642.8,1397.0 1643.6,1396.8 1644.4,1396.7 1645.2,1396.6 1646.0,1396.7 1646.9,1396.9 1647.7,1396.9 1648.5,1397.0 1649.3,1397.0 1650.1,1396.9 1650.9,1397.1 1651.7,1397.1 1652.5,1397.1 1653.3,1397.2 1654.1,1397.2 1654.9,1397.3 1655.7,1397.4 1656.5,1397.4 1657.3,1397.4 1658.1,1397.4 1658.9,1397.4 1659.7,1397.4 1660.5,1397.3 1661.3,1397.2 1662.1,1397.2 1662.9,1397.1 1663.7,1397.0 1664.5,1397.1 1665.4,1397.0 1666.2,1397.1 1667.0,1397.2 1667.8,1397.2 1668.6,1397.2 1669.4,1397.3 1670.2,1397.4 1671.0,1397.6 1671.8,1397.7 1672.6,1397.8 1673.4,1398.0 1674.2,1398.0 1675.0,1398.2 1675.8,1398.3 1676.6,1398.4 1677.4,1398.5 1678.2,1398.5 1679.0,1398.6 1679.8,1398.6 1680.6,1398.7 1681.4,1398.7 1682.2,1398.7 1683.0,1398.7 1683.8,1398.8 1684.7,1398.8 1685.5,1398.8 1686.3,1398.8 1687.1,1398.8 1687.9,1398.8 1688.7,1398.8 1689.5,1398.8 1690.3,1398.8 1691.1,1398.8 1691.9,1398.8 1692.7,1398.8 1693.5,1398.8 1694.3,1398.8 1695.1,1398.8 1695.9,1398.8 1696.7,1398.8 1697.5,1398.8 1698.3,1398.8 1699.1,1398.8 1699.9,1398.8 1700.7,1398.8 1701.5,1398.8 1702.3,1398.8 1703.2,1398.8 1704.0,1398.8 1704.8,1398.8 1705.6,1398.8 1706.4,1398.8 1707.2,1398.8 1708.0,1398.8 1708.8,1398.8 1709.6,1398.8 1710.4,1398.8 1711.2,1398.8 1712.0,1398.8 1712.0,1398.8Z" fill="#EC823C" stroke="none" stroke-width="0"/>
<line x1="1599.4" y1="1398.8" x2="1712.0" y2="1398.8" stroke="#777" stroke-width="1.1"/>
<path d="M1599.4,1442.0 1599.4,1442.0 1600.2,1442.0 1601.0,1442.0 1601.8,1442.0 1602.6,1442.0 1603.4,1442.0 1604.2,1442.0 1605.0,1442.0 1605.8,1442.0 1606.6,1442.0 1607.4,1442.0 1608.2,1442.0 1609.1,1442.0 1609.9,1442.0 1610.7,1442.0 1611.5,1442.0 1612.3,1442.0 1613.1,1442.0 1613.9,1442.0 1614.7,1441.9 1615.5,1441.9 1616.3,1441.9 1617.1,1441.9 1617.9,1441.9 1618.7,1441.9 1619.5,1441.9 1620.3,1441.9 1621.1,1441.9 1621.9,1441.9 1622.7,1441.9 1623.5,1441.9 1624.3,1441.9 1625.1,1441.8 1625.9,1441.8 1626.7,1441.8 1627.6,1441.7 1628.4,1441.7 1629.2,1441.7 1630.0,1441.6 1630.8,1441.6 1631.6,1441.6 1632.4,1441.5 1633.2,1441.4 1634.0,1441.4 1634.8,1441.3 1635.6,1441.3 1636.4,1441.2 1637.2,1441.1 1638.0,1441.1 1638.8,1441.0 1639.6,1440.9 1640.4,1440.9 1641.2,1440.8 1642.0,1440.9 1642.8,1440.9 1643.6,1440.8 1644.4,1440.7 1645.2,1440.5 1646.0,1440.5 1646.9,1440.5 1647.7,1440.5 1648.5,1440.5 1649.3,1440.4 1650.1,1440.4 1650.9,1440.5 1651.7,1440.5 1652.5,1440.6 1653.3,1440.6 1654.1,1440.6 1654.9,1440.6 1655.7,1440.7 1656.5,1440.7 1657.3,1440.8 1658.1,1440.9 1658.9,1441.0 1659.7,1441.0 1660.5,1441.0 1661.3,1441.0 1662.1,1441.1 1662.9,1441.1 1663.7,1441.2 1664.5,1441.2 1665.4,1441.3 1666.2,1441.4 1667.0,1441.5 1667.8,1441.5 1668.6,1441.5 1669.4,1441.6 1670.2,1441.6 1671.0,1441.6 1671.8,1441.6 1672.6,1441.5 1673.4,1441.5 1674.2,1441.4 1675.0,1441.4 1675.8,1441.3 1676.6,1441.1 1677.4,1441.1 1678.2,1441.0 1679.0,1440.9 1679.8,1440.8 1680.6,1440.7 1681.4,1440.6 1682.2,1440.5 1683.0,1440.5 1683.8,1440.6 1684.7,1440.5 1685.5,1440.5 1686.3,1440.5 1687.1,1440.6 1687.9,1440.7 1688.7,1440.8 1689.5,1441.0 1690.3,1441.1 1691.1,1441.3 1691.9,1441.4 1692.7,1441.5 1693.5,1441.6 1694.3,1441.7 1695.1,1441.8 1695.9,1441.8 1696.7,1441.9 1697.5,1441.9 1698.3,1441.9 1699.1,1441.9 1699.9,1441.9 1700.7,1441.9 1701.5,1441.9 1702.3,1442.0 1703.2,1442.0 1704.0,1442.0 1704.8,1442.0 1705.6,1442.0 1706.4,1442.0 1707.2,1442.0 1708.0,1442.0 1708.8,1442.0 1709.6,1442.0 1710.4,1442.0 1711.2,1442.0 1712.0,1442.0 1712.0,1442.0Z" fill="#DD8D00" stroke="none" stroke-width="0"/>
<line x1="1599.4" y1="1442.0" x2="1712.0" y2="1442.0" stroke="#777" stroke-width="1.1"/>
<path d="M1599.4,1485.1 1599.4,1485.1 1600.2,1485.1 1601.0,1485.1 1601.8,1485.1 1602.6,1485.1 1603.4,1485.1 1604.2,1485.1 1605.0,1485.1 1605.8,1485.1 1606.6,1485.1 1607.4,1485.1 1608.2,1485.1 1609.1,1485.0 1609.9,1485.0 1610.7,1484.9 1611.5,1484.8 1612.3,1484.7 1613.1,1484.5 1613.9,1484.4 1614.7,1484.2 1615.5,1484.2 1616.3,1484.2 1617.1,1484.2 1617.9,1484.2 1618.7,1484.3 1619.5,1484.5 1620.3,1484.6 1621.1,1484.8 1621.9,1484.9 1622.7,1485.0 1623.5,1485.0 1624.3,1485.0 1625.1,1485.0 1625.9,1485.0 1626.7,1484.9 1627.6,1484.8 1628.4,1484.7 1629.2,1484.6 1630.0,1484.4 1630.8,1484.2 1631.6,1484.1 1632.4,1483.9 1633.2,1483.8 1634.0,1483.9 1634.8,1484.0 1635.6,1484.2 1636.4,1484.3 1637.2,1484.5 1638.0,1484.5 1638.8,1484.6 1639.6,1484.6 1640.4,1484.6 1641.2,1484.5 1642.0,1484.4 1642.8,1484.4 1643.6,1484.2 1644.4,1484.1 1645.2,1484.0 1646.0,1484.0 1646.9,1483.9 1647.7,1483.9 1648.5,1484.0 1649.3,1484.0 1650.1,1484.2 1650.9,1484.3 1651.7,1484.5 1652.5,1484.7 1653.3,1484.8 1654.1,1484.8 1654.9,1484.9 1655.7,1484.9 1656.5,1485.0 1657.3,1485.0 1658.1,1484.9 1658.9,1484.8 1659.7,1484.6 1660.5,1484.4 1661.3,1484.2 1662.1,1484.0 1662.9,1483.8 1663.7,1483.7 1664.5,1483.7 1665.4,1483.6 1666.2,1483.6 1667.0,1483.7 1667.8,1483.8 1668.6,1483.9 1669.4,1483.9 1670.2,1483.9 1671.0,1483.8 1671.8,1483.8 1672.6,1483.6 1673.4,1483.6 1674.2,1483.7 1675.0,1483.8 1675.8,1483.9 1676.6,1484.1 1677.4,1484.3 1678.2,1484.5 1679.0,1484.7 1679.8,1484.8 1680.6,1484.9 1681.4,1485.0 1682.2,1485.1 1683.0,1485.1 1683.8,1485.1 1684.7,1485.0 1685.5,1484.9 1686.3,1484.8 1687.1,1484.6 1687.9,1484.4 1688.7,1484.2 1689.5,1483.8 1690.3,1483.5 1691.1,1483.2 1691.9,1482.9 1692.7,1482.8 1693.5,1482.9 1694.3,1483.1 1695.1,1483.4 1695.9,1483.7 1696.7,1484.0 1697.5,1484.3 1698.3,1484.5 1699.1,1484.8 1699.9,1484.9 1700.7,1485.0 1701.5,1485.1 1702.3,1485.1 1703.2,1485.1 1704.0,1485.1 1704.8,1485.1 1705.6,1485.1 1706.4,1485.1 1707.2,1485.1 1708.0,1485.1 1708.8,1485.1 1709.6,1485.1 1710.4,1485.1 1711.2,1485.1 1712.0,1485.1 1712.0,1485.1Z" fill="#CA9700" stroke="none" stroke-width="0"/>
<line x1="1599.4" y1="1485.1" x2="1712.0" y2="1485.1" stroke="#777" stroke-width="1.1"/>
<path d="M1599.4,1528.3 1599.4,1528.3 1600.2,1528.3 1601.0,1528.3 1601.8,1528.3 1602.6,1528.3 1603.4,1528.2 1604.2,1528.2 1605.0,1528.1 1605.8,1528.0 1606.6,1527.9 1607.4,1527.7 1608.2,1527.6 1609.1,1527.4 1609.9,1527.4 1610.7,1527.3 1611.5,1527.3 1612.3,1527.4 1613.1,1527.5 1613.9,1527.7 1614.7,1527.8 1615.5,1527.9 1616.3,1528.1 1617.1,1528.2 1617.9,1528.2 1618.7,1528.3 1619.5,1528.3 1620.3,1528.3 1621.1,1528.3 1621.9,1528.3 1622.7,1528.3 1623.5,1528.3 1624.3,1528.3 1625.1,1528.3 1625.9,1528.3 1626.7,1528.3 1627.6,1528.3 1628.4,1528.3 1629.2,1528.3 1630.0,1528.3 1630.8,1528.3 1631.6,1528.3 1632.4,1528.3 1633.2,1528.3 1634.0,1528.3 1634.8,1528.3 1635.6,1528.3 1636.4,1528.3 1637.2,1528.3 1638.0,1528.3 1638.8,1528.3 1639.6,1528.3 1640.4,1528.3 1641.2,1528.3 1642.0,1528.3 1642.8,1528.3 1643.6,1528.3 1644.4,1528.3 1645.2,1528.2 1646.0,1528.2 1646.9,1528.1 1647.7,1528.1 1648.5,1528.0 1649.3,1527.9 1650.1,1527.8 1650.9,1527.6 1651.7,1527.5 1652.5,1527.4 1653.3,1527.3 1654.1,1527.2 1654.9,1527.1 1655.7,1527.1 1656.5,1527.1 1657.3,1527.2 1658.1,1527.3 1658.9,1527.3 1659.7,1527.5 1660.5,1527.5 1661.3,1527.6 1662.1,1527.7 1662.9,1527.7 1663.7,1527.7 1664.5,1527.8 1665.4,1527.7 1666.2,1527.6 1667.0,1527.5 1667.8,1527.4 1668.6,1527.3 1669.4,1527.3 1670.2,1527.3 1671.0,1527.2 1671.8,1527.2 1672.6,1527.2 1673.4,1527.2 1674.2,1527.1 1675.0,1527.2 1675.8,1527.3 1676.6,1527.4 1677.4,1527.5 1678.2,1527.6 1679.0,1527.6 1679.8,1527.8 1680.6,1527.8 1681.4,1527.9 1682.2,1528.0 1683.0,1528.0 1683.8,1528.0 1684.7,1528.0 1685.5,1528.0 1686.3,1528.0 1687.1,1527.9 1687.9,1527.9 1688.7,1527.8 1689.5,1527.7 1690.3,1527.6 1691.1,1527.6 1691.9,1527.5 1692.7,1527.4 1693.5,1527.3 1694.3,1527.3 1695.1,1527.3 1695.9,1527.3 1696.7,1527.3 1697.5,1527.4 1698.3,1527.4 1699.1,1527.5 1699.9,1527.6 1700.7,1527.7 1701.5,1527.8 1702.3,1527.8 1703.2,1527.9 1704.0,1528.0 1704.8,1528.1 1705.6,1528.1 1706.4,1528.2 1707.2,1528.2 1708.0,1528.3 1708.8,1528.3 1709.6,1528.3 1710.4,1528.3 1711.2,1528.3 1712.0,1528.3 1712.0,1528.3Z" fill="#B3A000" stroke="none" stroke-width="0"/>
<line x1="1599.4" y1="1528.3" x2="1712.0" y2="1528.3" stroke="#777" stroke-width="1.1"/>
<path d="M1599.4,1571.5 1599.4,1571.5 1600.2,1571.5 1601.0,1571.5 1601.8,1571.5 1602.6,1571.5 1603.4,1571.5 1604.2,1571.5 1605.0,1571.5 1605.8,1571.5 1606.6,1571.5 1607.4,1571.5 1608.2,1571.5 1609.1,1571.5 1609.9,1571.5 1610.7,1571.5 1611.5,1571.5 1612.3,1571.5 1613.1,1571.5 1613.9,1571.4 1614.7,1571.4 1615.5,1571.4 1616.3,1571.3 1617.1,1571.3 1617.9,1571.2 1618.7,1571.1 1619.5,1571.1 1620.3,1571.0 1621.1,1570.9 1621.9,1570.8 1622.7,1570.7 1623.5,1570.6 1624.3,1570.5 1625.1,1570.4 1625.9,1570.3 1626.7,1570.2 1627.6,1570.3 1628.4,1570.3 1629.2,1570.3 1630.0,1570.4 1630.8,1570.5 1631.6,1570.6 1632.4,1570.7 1633.2,1570.8 1634.0,1570.9 1634.8,1570.9 1635.6,1571.0 1636.4,1571.1 1637.2,1571.1 1638.0,1571.2 1638.8,1571.2 1639.6,1571.2 1640.4,1571.2 1641.2,1571.1 1642.0,1571.0 1642.8,1570.9 1643.6,1570.9 1644.4,1570.8 1645.2,1570.6 1646.0,1570.6 1646.9,1570.5 1647.7,1570.4 1648.5,1570.4 1649.3,1570.3 1650.1,1570.4 1650.9,1570.3 1651.7,1570.4 1652.5,1570.4 1653.3,1570.5 1654.1,1570.6 1654.9,1570.7 1655.7,1570.8 1656.5,1570.9 1657.3,1571.0 1658.1,1571.1 1658.9,1571.1 1659.7,1571.2 1660.5,1571.3 1661.3,1571.3 1662.1,1571.4 1662.9,1571.4 1663.7,1571.4 1664.5,1571.5 1665.4,1571.5 1666.2,1571.5 1667.0,1571.5 1667.8,1571.5 1668.6,1571.5 1669.4,1571.5 1670.2,1571.5 1671.0,1571.5 1671.8,1571.5 1672.6,1571.5 1673.4,1571.5 1674.2,1571.5 1675.0,1571.5 1675.8,1571.5 1676.6,1571.5 1677.4,1571.5 1678.2,1571.5 1679.0,1571.4 1679.8,1571.4 1680.6,1571.3 1681.4,1571.2 1682.2,1571.0 1683.0,1570.9 1683.8,1570.7 1684.7,1570.4 1685.5,1570.0 1686.3,1569.6 1687.1,1569.3 1687.9,1569.1 1688.7,1568.9 1689.5,1568.9 1690.3,1569.1 1691.1,1569.2 1691.9,1569.4 1692.7,1569.5 1693.5,1569.8 1694.3,1569.9 1695.1,1570.0 1695.9,1570.1 1696.7,1570.2 1697.5,1570.3 1698.3,1570.3 1699.1,1570.2 1699.9,1570.2 1700.7,1570.1 1701.5,1570.3 1702.3,1570.4 1703.2,1570.5 1704.0,1570.6 1704.8,1570.7 1705.6,1570.9 1706.4,1571.0 1707.2,1571.1 1708.0,1571.2 1708.8,1571.3 1709.6,1571.3 1710.4,1571.4 1711.2,1571.4 1712.0,1571.4 1712.0,1571.5Z" fill="#97A900" stroke="none" stroke-width="0"/>
<line x1="1599.4" y1="1571.5" x2="1712.0" y2="1571.5" stroke="#777" stroke-width="1.1"/>
<path d="M1599.4,1614.7 1599.4,1614.7 1600.2,1614.7 1601.0,1614.7 1601.8,1614.7 1602.6,1614.7 1603.4,1614.7 1604.2,1614.7 1605.0,1614.7 1605.8,1614.7 1606.6,1614.7 1607.4,1614.7 1608.2,1614.7 1609.1,1614.7 1609.9,1614.6 1610.7,1614.6 1611.5,1614.6 1612.3,1614.5 1613.1,1614.5 1613.9,1614.4 1614.7,1614.3 1615.5,1614.1 1616.3,1614.0 1617.1,1613.8 1617.9,1613.7 1618.7,1613.5 1619.5,1613.4 1620.3,1613.3 1621.1,1613.3 1621.9,1613.2 1622.7,1613.2 1623.5,1613.3 1624.3,1613.4 1625.1,1613.5 1625.9,1613.7 1626.7,1613.9 1627.6,1614.0 1628.4,1614.2 1629.2,1614.3 1630.0,1614.4 1630.8,1614.4 1631.6,1614.5 1632.4,1614.6 1633.2,1614.6 1634.0,1614.6 1634.8,1614.7 1635.6,1614.7 1636.4,1614.7 1637.2,1614.7 1638.0,1614.7 1638.8,1614.7 1639.6,1614.7 1640.4,1614.7 1641.2,1614.6 1642.0,1614.6 1642.8,1614.5 1643.6,1614.5 1644.4,1614.3 1645.2,1614.2 1646.0,1614.0 1646.9,1613.8 1647.7,1613.5 1648.5,1613.4 1649.3,1613.2 1650.1,1613.2 1650.9,1613.2 1651.7,1613.3 1652.5,1613.4 1653.3,1613.7 1654.1,1613.8 1654.9,1614.0 1655.7,1614.0 1656.5,1614.0 1657.3,1613.8 1658.1,1613.7 1658.9,1613.5 1659.7,1613.4 1660.5,1613.2 1661.3,1613.1 1662.1,1613.1 1662.9,1613.3 1663.7,1613.5 1664.5,1613.8 1665.4,1614.0 1666.2,1614.1 1667.0,1614.3 1667.8,1614.4 1668.6,1614.5 1669.4,1614.6 1670.2,1614.6 1671.0,1614.7 1671.8,1614.7 1672.6,1614.7 1673.4,1614.7 1674.2,1614.6 1675.0,1614.6 1675.8,1614.6 1676.6,1614.6 1677.4,1614.5 1678.2,1614.5 1679.0,1614.4 1679.8,1614.3 1680.6,1614.2 1681.4,1614.1 1682.2,1614.0 1683.0,1613.9 1683.8,1613.9 1684.7,1613.7 1685.5,1613.5 1686.3,1613.4 1687.1,1613.2 1687.9,1613.3 1688.7,1613.2 1689.5,1613.2 1690.3,1613.1 1691.1,1613.2 1691.9,1613.2 1692.7,1613.3 1693.5,1613.3 1694.3,1613.5 1695.1,1613.6 1695.9,1613.6 1696.7,1613.7 1697.5,1613.7 1698.3,1613.7 1699.1,1613.8 1699.9,1613.7 1700.7,1613.7 1701.5,1613.6 1702.3,1613.5 1703.2,1613.4 1704.0,1613.3 1704.8,1613.2 1705.6,1613.1 1706.4,1613.2 1707.2,1613.2 1708.0,1613.3 1708.8,1613.3 1709.6,1613.3 1710.4,1613.5 1711.2,1613.6 1712.0,1613.8 1712.0,1614.7Z" fill="#71B000" stroke="none" stroke-width="0"/>
<line x1="1599.4" y1="1614.7" x2="1712.0" y2="1614.7" stroke="#777" stroke-width="1.1"/>
<path d="M1599.4,1657.9 1599.4,1657.9 1600.2,1657.9 1601.0,1657.9 1601.8,1657.9 1602.6,1657.9 1603.4,1657.9 1604.2,1657.9 1605.0,1657.9 1605.8,1657.9 1606.6,1657.9 1607.4,1657.9 1608.2,1657.9 1609.1,1657.9 1609.9,1657.9 1610.7,1657.9 1611.5,1657.9 1612.3,1657.9 1613.1,1657.9 1613.9,1657.9 1614.7,1657.9 1615.5,1657.9 1616.3,1657.9 1617.1,1657.9 1617.9,1657.9 1618.7,1657.9 1619.5,1657.9 1620.3,1657.9 1621.1,1657.9 1621.9,1657.9 1622.7,1657.9 1623.5,1657.9 1624.3,1657.9 1625.1,1657.9 1625.9,1657.9 1626.7,1657.9 1627.6,1657.9 1628.4,1657.9 1629.2,1657.9 1630.0,1657.9 1630.8,1657.9 1631.6,1657.9 1632.4,1657.9 1633.2,1657.9 1634.0,1657.9 1634.8,1657.9 1635.6,1657.9 1636.4,1657.9 1637.2,1657.9 1638.0,1657.9 1638.8,1657.9 1639.6,1657.9 1640.4,1657.9 1641.2,1657.9 1642.0,1657.9 1642.8,1657.9 1643.6,1657.9 1644.4,1657.9 1645.2,1657.9 1646.0,1657.9 1646.9,1657.9 1647.7,1657.9 1648.5,1657.9 1649.3,1657.9 1650.1,1657.9 1650.9,1657.9 1651.7,1657.9 1652.5,1657.9 1653.3,1657.9 1654.1,1657.9 1654.9,1657.9 1655.7,1657.9 1656.5,1657.9 1657.3,1657.9 1658.1,1657.9 1658.9,1657.9 1659.7,1657.9 1660.5,1657.9 1661.3,1657.9 1662.1,1657.9 1662.9,1657.9 1663.7,1657.9 1664.5,1657.9 1665.4,1657.9 1666.2,1657.9 1667.0,1657.9 1667.8,1657.9 1668.6,1657.9 1669.4,1657.9 1670.2,1657.9 1671.0,1657.9 1671.8,1657.9 1672.6,1657.9 1673.4,1657.9 1674.2,1657.9 1675.0,1657.9 1675.8,1657.9 1676.6,1657.9 1677.4,1657.9 1678.2,1657.9 1679.0,1657.9 1679.8,1657.8 1680.6,1657.8 1681.4,1657.8 1682.2,1657.7 1683.0,1657.7 1683.8,1657.6 1684.7,1657.4 1685.5,1657.1 1686.3,1656.8 1687.1,1656.5 1687.9,1656.1 1688.7,1655.6 1689.5,1655.1 1690.3,1654.5 1691.1,1654.0 1691.9,1653.7 1692.7,1653.7 1693.5,1653.7 1694.3,1653.9 1695.1,1654.1 1695.9,1654.5 1696.7,1655.1 1697.5,1655.8 1698.3,1656.4 1699.1,1656.8 1699.9,1657.1 1700.7,1657.3 1701.5,1657.5 1702.3,1657.6 1703.2,1657.7 1704.0,1657.8 1704.8,1657.8 1705.6,1657.8 1706.4,1657.8 1707.2,1657.9 1708.0,1657.9 1708.8,1657.9 1709.6,1657.9 1710.4,1657.9 1711.2,1657.9 1712.0,1657.9 1712.0,1657.9Z" fill="#2FB600" stroke="none" stroke-width="0"/>
<line x1="1599.4" y1="1657.9" x2="1712.0" y2="1657.9" stroke="#777" stroke-width="1.1"/>
<path d="M1599.4,1701.0 1599.4,1700.4 1600.2,1700.3 1601.0,1700.2 1601.8,1700.1 1602.6,1700.0 1603.4,1699.9 1604.2,1699.8 1605.0,1699.7 1605.8,1699.7 1606.6,1699.7 1607.4,1699.6 1608.2,1699.6 1609.1,1699.6 1609.9,1699.6 1610.7,1699.6 1611.5,1699.6 1612.3,1699.5 1613.1,1699.5 1613.9,1699.5 1614.7,1699.6 1615.5,1699.7 1616.3,1699.7 1617.1,1699.8 1617.9,1699.9 1618.7,1699.9 1619.5,1699.9 1620.3,1699.9 1621.1,1699.8 1621.9,1699.6 1622.7,1699.5 1623.5,1699.2 1624.3,1698.9 1625.1,1698.4 1625.9,1697.8 1626.7,1697.3 1627.6,1696.4 1628.4,1695.6 1629.2,1694.6 1630.0,1693.1 1630.8,1691.4 1631.6,1690.7 1632.4,1690.1 1633.2,1690.0 1634.0,1689.3 1634.8,1689.0 1635.6,1688.5 1636.4,1688.1 1637.2,1688.5 1638.0,1688.4 1638.8,1689.4 1639.6,1690.8 1640.4,1691.5 1641.2,1693.0 1642.0,1694.1 1642.8,1695.1 1643.6,1695.5 1644.4,1696.2 1645.2,1696.6 1646.0,1697.3 1646.9,1697.8 1647.7,1698.2 1648.5,1698.4 1649.3,1698.3 1650.1,1698.3 1650.9,1698.2 1651.7,1698.2 1652.5,1698.0 1653.3,1697.9 1654.1,1698.0 1654.9,1697.9 1655.7,1697.8 1656.5,1697.7 1657.3,1697.6 1658.1,1697.4 1658.9,1697.2 1659.7,1696.9 1660.5,1696.8 1661.3,1696.8 1662.1,1696.9 1662.9,1696.9 1663.7,1697.2 1664.5,1697.2 1665.4,1697.4 1666.2,1697.6 1667.0,1697.7 1667.8,1697.9 1668.6,1698.0 1669.4,1698.1 1670.2,1698.2 1671.0,1698.2 1671.8,1698.1 1672.6,1698.2 1673.4,1698.2 1674.2,1698.3 1675.0,1698.2 1675.8,1698.0 1676.6,1697.7 1677.4,1697.4 1678.2,1697.1 1679.0,1696.6 1679.8,1695.9 1680.6,1694.9 1681.4,1693.7 1682.2,1692.6 1683.0,1691.8 1683.8,1690.8 1684.7,1690.1 1685.5,1690.1 1686.3,1690.0 1687.1,1689.9 1687.9,1689.7 1688.7,1689.7 1689.5,1689.5 1690.3,1690.2 1691.1,1690.8 1691.9,1691.0 1692.7,1691.5 1693.5,1692.1 1694.3,1693.4 1695.1,1694.6 1695.9,1695.8 1696.7,1696.5 1697.5,1697.2 1698.3,1697.9 1699.1,1698.2 1699.9,1698.4 1700.7,1698.5 1701.5,1698.7 1702.3,1698.8 1703.2,1698.9 1704.0,1699.0 1704.8,1699.0 1705.6,1699.1 1706.4,1699.0 1707.2,1698.9 1708.0,1698.9 1708.8,1699.1 1709.6,1699.4 1710.4,1699.6 1711.2,1699.8 1712.0,1699.9 1712.0,1701.0Z" fill="#00BB4B" stroke="none" stroke-width="0"/>
<line x1="1599.4" y1="1701.0" x2="1712.0" y2="1701.0" stroke="#777" stroke-width="1.1"/>
<path d="M1599.4,1744.2 1599.4,1744.2 1600.2,1744.2 1601.0,1744.2 1601.8,1744.2 1602.6,1744.2 1603.4,1744.2 1604.2,1744.2 1605.0,1744.2 1605.8,1744.2 1606.6,1744.2 1607.4,1744.2 1608.2,1744.2 1609.1,1744.2 1609.9,1744.2 1610.7,1744.2 1611.5,1744.1 1612.3,1744.1 1613.1,1744.1 1613.9,1744.1 1614.7,1744.1 1615.5,1744.0 1616.3,1744.0 1617.1,1744.0 1617.9,1743.9 1618.7,1743.9 1619.5,1743.8 1620.3,1743.8 1621.1,1743.7 1621.9,1743.6 1622.7,1743.6 1623.5,1743.6 1624.3,1743.5 1625.1,1743.4 1625.9,1743.3 1626.7,1743.2 1627.6,1743.2 1628.4,1743.1 1629.2,1743.1 1630.0,1743.1 1630.8,1743.2 1631.6,1743.1 1632.4,1743.0 1633.2,1742.9 1634.0,1743.0 1634.8,1743.0 1635.6,1743.1 1636.4,1743.1 1637.2,1743.2 1638.0,1743.3 1638.8,1743.3 1639.6,1743.3 1640.4,1743.4 1641.2,1743.4 1642.0,1743.4 1642.8,1743.4 1643.6,1743.5 1644.4,1743.6 1645.2,1743.7 1646.0,1743.7 1646.9,1743.7 1647.7,1743.8 1648.5,1743.8 1649.3,1743.8 1650.1,1743.8 1650.9,1743.8 1651.7,1743.8 1652.5,1743.8 1653.3,1743.8 1654.1,1743.7 1654.9,1743.7 1655.7,1743.7 1656.5,1743.6 1657.3,1743.6 1658.1,1743.5 1658.9,1743.5 1659.7,1743.4 1660.5,1743.4 1661.3,1743.3 1662.1,1743.3 1662.9,1743.2 1663.7,1743.2 1664.5,1743.2 1665.4,1743.1 1666.2,1743.1 1667.0,1743.0 1667.8,1743.0 1668.6,1743.1 1669.4,1743.1 1670.2,1743.1 1671.0,1743.1 1671.8,1743.1 1672.6,1743.2 1673.4,1743.3 1674.2,1743.3 1675.0,1743.3 1675.8,1743.2 1676.6,1743.1 1677.4,1743.0 1678.2,1742.9 1679.0,1742.7 1679.8,1742.5 1680.6,1742.3 1681.4,1742.1 1682.2,1741.7 1683.0,1741.2 1683.8,1740.8 1684.7,1740.4 1685.5,1740.1 1686.3,1740.0 1687.1,1739.7 1687.9,1739.7 1688.7,1739.6 1689.5,1739.7 1690.3,1739.7 1691.1,1739.9 1691.9,1739.8 1692.7,1740.1 1693.5,1740.3 1694.3,1740.6 1695.1,1740.9 1695.9,1741.5 1696.7,1741.9 1697.5,1742.4 1698.3,1742.8 1699.1,1743.1 1699.9,1743.3 1700.7,1743.6 1701.5,1743.7 1702.3,1743.9 1703.2,1744.0 1704.0,1744.0 1704.8,1744.1 1705.6,1744.1 1706.4,1744.2 1707.2,1744.2 1708.0,1744.2 1708.8,1744.2 1709.6,1744.2 1710.4,1744.2 1711.2,1744.2 1712.0,1744.2 1712.0,1744.2Z" fill="#00BF76" stroke="none" stroke-width="0"/>
<line x1="1599.4" y1="1744.2" x2="1712.0" y2="1744.2" stroke="#777" stroke-width="1.1"/>
<path d="M1599.4,1787.4 1599.4,1787.4 1600.2,1787.4 1601.0,1787.4 1601.8,1787.4 1602.6,1787.4 1603.4,1787.4 1604.2,1787.4 1605.0,1787.4 1605.8,1787.4 1606.6,1787.4 1607.4,1787.4 1608.2,1787.4 1609.1,1787.4 1609.9,1787.4 1610.7,1787.4 1611.5,1787.4 1612.3,1787.4 1613.1,1787.4 1613.9,1787.4 1614.7,1787.4 1615.5,1787.4 1616.3,1787.3 1617.1,1787.3 1617.9,1787.3 1618.7,1787.2 1619.5,1787.1 1620.3,1787.0 1621.1,1786.8 1621.9,1786.5 1622.7,1786.2 1623.5,1785.8 1624.3,1785.4 1625.1,1784.8 1625.9,1784.0 1626.7,1783.2 1627.6,1782.5 1628.4,1781.7 1629.2,1780.7 1630.0,1780.0 1630.8,1779.0 1631.6,1778.3 1632.4,1778.0 1633.2,1777.5 1634.0,1777.4 1634.8,1777.0 1635.6,1777.3 1636.4,1777.5 1637.2,1778.0 1638.0,1778.8 1638.8,1779.4 1639.6,1780.4 1640.4,1781.1 1641.2,1781.8 1642.0,1782.3 1642.8,1782.7 1643.6,1783.4 1644.4,1784.0 1645.2,1784.5 1646.0,1784.7 1646.9,1784.7 1647.7,1784.9 1648.5,1785.1 1649.3,1785.1 1650.1,1785.3 1650.9,1785.1 1651.7,1785.0 1652.5,1784.8 1653.3,1784.8 1654.1,1784.9 1654.9,1785.0 1655.7,1784.8 1656.5,1784.8 1657.3,1784.7 1658.1,1784.7 1658.9,1784.7 1659.7,1784.6 1660.5,1784.5 1661.3,1784.3 1662.1,1784.0 1662.9,1784.2 1663.7,1784.3 1664.5,1784.2 1665.4,1784.4 1666.2,1784.4 1667.0,1784.5 1667.8,1784.7 1668.6,1784.8 1669.4,1785.0 1670.2,1785.0 1671.0,1785.0 1671.8,1785.0 1672.6,1785.2 1673.4,1785.4 1674.2,1785.6 1675.0,1785.6 1675.8,1785.6 1676.6,1785.6 1677.4,1785.8 1678.2,1785.9 1679.0,1785.9 1679.8,1785.9 1680.6,1785.6 1681.4,1785.3 1682.2,1784.7 1683.0,1783.6 1683.8,1782.4 1684.7,1781.0 1685.5,1779.4 1686.3,1777.8 1687.1,1775.9 1687.9,1774.7 1688.7,1773.1 1689.5,1771.5 1690.3,1770.3 1691.1,1769.7 1691.9,1769.5 1692.7,1770.2 1693.5,1770.7 1694.3,1771.9 1695.1,1773.6 1695.9,1775.1 1696.7,1777.0 1697.5,1778.4 1698.3,1780.3 1699.1,1781.7 1699.9,1782.9 1700.7,1783.8 1701.5,1784.5 1702.3,1785.1 1703.2,1785.4 1704.0,1785.7 1704.8,1785.7 1705.6,1785.8 1706.4,1785.8 1707.2,1785.8 1708.0,1785.9 1708.8,1786.0 1709.6,1786.2 1710.4,1786.3 1711.2,1786.4 1712.0,1786.5 1712.0,1787.4Z" fill="#00C098" stroke="none" stroke-width="0"/>
<line x1="1599.4" y1="1787.4" x2="1712.0" y2="1787.4" stroke="#777" stroke-width="1.1"/>
<path d="M1599.4,1830.6 1599.4,1830.6 1600.2,1830.6 1601.0,1830.6 1601.8,1830.6 1602.6,1830.6 1603.4,1830.6 1604.2,1830.6 1605.0,1830.6 1605.8,1830.6 1606.6,1830.6 1607.4,1830.6 1608.2,1830.6 1609.1,1830.6 1609.9,1830.6 1610.7,1830.6 1611.5,1830.5 1612.3,1830.5 1613.1,1830.5 1613.9,1830.5 1614.7,1830.4 1615.5,1830.4 1616.3,1830.3 1617.1,1830.2 1617.9,1830.1 1618.7,1829.9 1619.5,1829.7 1620.3,1829.5 1621.1,1829.3 1621.9,1829.0 1622.7,1828.6 1623.5,1828.3 1624.3,1827.7 1625.1,1827.4 1625.9,1826.8 1626.7,1826.0 1627.6,1825.2 1628.4,1824.4 1629.2,1823.7 1630.0,1822.8 1630.8,1822.3 1631.6,1821.3 1632.4,1821.1 1633.2,1820.5 1634.0,1820.4 1634.8,1820.4 1635.6,1820.8 1636.4,1821.4 1637.2,1821.9 1638.0,1822.5 1638.8,1822.6 1639.6,1823.4 1640.4,1823.7 1641.2,1824.0 1642.0,1824.3 1642.8,1824.6 1643.6,1825.4 1644.4,1825.9 1645.2,1826.7 1646.0,1826.8 1646.9,1827.1 1647.7,1827.2 1648.5,1827.4 1649.3,1827.6 1650.1,1827.7 1650.9,1827.9 1651.7,1828.0 1652.5,1828.1 1653.3,1828.1 1654.1,1828.0 1654.9,1828.1 1655.7,1828.1 1656.5,1828.1 1657.3,1828.2 1658.1,1828.2 1658.9,1828.1 1659.7,1828.1 1660.5,1828.2 1661.3,1828.4 1662.1,1828.5 1662.9,1828.5 1663.7,1828.6 1664.5,1828.7 1665.4,1828.7 1666.2,1828.9 1667.0,1828.9 1667.8,1828.9 1668.6,1829.0 1669.4,1829.0 1670.2,1829.1 1671.0,1829.1 1671.8,1829.2 1672.6,1829.3 1673.4,1829.5 1674.2,1829.6 1675.0,1829.6 1675.8,1829.5 1676.6,1829.5 1677.4,1829.3 1678.2,1829.1 1679.0,1828.8 1679.8,1828.5 1680.6,1827.9 1681.4,1827.2 1682.2,1826.4 1683.0,1825.7 1683.8,1824.5 1684.7,1823.5 1685.5,1822.2 1686.3,1821.4 1687.1,1820.7 1687.9,1820.5 1688.7,1820.3 1689.5,1820.9 1690.3,1821.9 1691.1,1822.7 1691.9,1823.7 1692.7,1824.9 1693.5,1825.7 1694.3,1826.7 1695.1,1827.6 1695.9,1828.3 1696.7,1828.8 1697.5,1829.1 1698.3,1829.4 1699.1,1829.6 1699.9,1829.7 1700.7,1829.8 1701.5,1829.8 1702.3,1829.8 1703.2,1829.7 1704.0,1829.7 1704.8,1829.7 1705.6,1829.6 1706.4,1829.6 1707.2,1829.6 1708.0,1829.6 1708.8,1829.7 1709.6,1829.8 1710.4,1829.8 1711.2,1829.9 1712.0,1830.0 1712.0,1830.6Z" fill="#00C0B7" stroke="none" stroke-width="0"/>
<line x1="1599.4" y1="1830.6" x2="1712.0" y2="1830.6" stroke="#777" stroke-width="1.1"/>
<path d="M1599.4,1873.8 1599.4,1872.3 1600.2,1872.4 1601.0,1872.6 1601.8,1872.9 1602.6,1873.2 1603.4,1873.5 1604.2,1873.6 1605.0,1873.7 1605.8,1873.7 1606.6,1873.8 1607.4,1873.8 1608.2,1873.8 1609.1,1873.8 1609.9,1873.8 1610.7,1873.8 1611.5,1873.8 1612.3,1873.8 1613.1,1873.8 1613.9,1873.8 1614.7,1873.8 1615.5,1873.8 1616.3,1873.8 1617.1,1873.8 1617.9,1873.8 1618.7,1873.7 1619.5,1873.7 1620.3,1873.7 1621.1,1873.6 1621.9,1873.6 1622.7,1873.4 1623.5,1873.3 1624.3,1873.0 1625.1,1872.5 1625.9,1871.9 1626.7,1870.9 1627.6,1869.7 1628.4,1868.1 1629.2,1866.8 1630.0,1865.4 1630.8,1864.0 1631.6,1861.9 1632.4,1859.4 1633.2,1856.8 1634.0,1856.0 1634.8,1855.8 1635.6,1856.4 1636.4,1855.9 1637.2,1856.0 1638.0,1856.9 1638.8,1857.6 1639.6,1858.0 1640.4,1858.4 1641.2,1858.9 1642.0,1858.7 1642.8,1858.9 1643.6,1858.7 1644.4,1859.1 1645.2,1859.9 1646.0,1860.8 1646.9,1862.1 1647.7,1863.6 1648.5,1865.6 1649.3,1867.3 1650.1,1868.7 1650.9,1869.9 1651.7,1870.8 1652.5,1871.4 1653.3,1871.9 1654.1,1872.2 1654.9,1872.3 1655.7,1872.2 1656.5,1872.1 1657.3,1871.9 1658.1,1871.9 1658.9,1871.9 1659.7,1871.9 1660.5,1871.8 1661.3,1871.7 1662.1,1871.6 1662.9,1871.4 1663.7,1871.3 1664.5,1871.1 1665.4,1871.2 1666.2,1871.2 1667.0,1871.3 1667.8,1871.2 1668.6,1871.2 1669.4,1871.2 1670.2,1871.2 1671.0,1871.2 1671.8,1871.3 1672.6,1871.5 1673.4,1871.8 1674.2,1871.9 1675.0,1871.8 1675.8,1871.9 1676.6,1871.9 1677.4,1872.0 1678.2,1872.1 1679.0,1872.2 1679.8,1872.2 1680.6,1872.0 1681.4,1871.8 1682.2,1871.4 1683.0,1871.0 1683.8,1870.3 1684.7,1869.3 1685.5,1868.2 1686.3,1866.6 1687.1,1865.3 1687.9,1863.6 1688.7,1862.2 1689.5,1860.6 1690.3,1858.7 1691.1,1857.5 1691.9,1856.8 1692.7,1856.8 1693.5,1856.5 1694.3,1857.2 1695.1,1858.0 1695.9,1859.3 1696.7,1861.0 1697.5,1862.5 1698.3,1864.6 1699.1,1866.3 1699.9,1868.2 1700.7,1869.6 1701.5,1870.9 1702.3,1871.8 1703.2,1872.5 1704.0,1872.9 1704.8,1873.2 1705.6,1873.4 1706.4,1873.6 1707.2,1873.6 1708.0,1873.7 1708.8,1873.7 1709.6,1873.7 1710.4,1873.8 1711.2,1873.8 1712.0,1873.8 1712.0,1873.8Z" fill="#00BDD1" stroke="none" stroke-width="0"/>
<line x1="1599.4" y1="1873.8" x2="1712.0" y2="1873.8" stroke="#777" stroke-width="1.1"/>
<path d="M1599.4,1916.9 1599.4,1916.9 1600.2,1916.9 1601.0,1916.9 1601.8,1916.9 1602.6,1916.9 1603.4,1916.9 1604.2,1916.9 1605.0,1916.9 1605.8,1916.9 1606.6,1916.9 1607.4,1916.9 1608.2,1916.9 1609.1,1916.9 1609.9,1916.8 1610.7,1916.8 1611.5,1916.7 1612.3,1916.7 1613.1,1916.6 1613.9,1916.5 1614.7,1916.4 1615.5,1916.2 1616.3,1916.1 1617.1,1915.9 1617.9,1915.5 1618.7,1915.2 1619.5,1914.8 1620.3,1914.4 1621.1,1913.9 1621.9,1913.4 1622.7,1912.8 1623.5,1912.2 1624.3,1911.7 1625.1,1911.2 1625.9,1910.7 1626.7,1909.7 1627.6,1908.7 1628.4,1907.6 1629.2,1906.7 1630.0,1905.6 1630.8,1905.0 1631.6,1905.2 1632.4,1905.7 1633.2,1906.0 1634.0,1905.6 1634.8,1906.1 1635.6,1906.4 1636.4,1906.5 1637.2,1906.3 1638.0,1906.8 1638.8,1907.0 1639.6,1907.3 1640.4,1908.2 1641.2,1908.7 1642.0,1909.5 1642.8,1910.4 1643.6,1911.0 1644.4,1912.0 1645.2,1912.8 1646.0,1913.3 1646.9,1913.7 1647.7,1914.2 1648.5,1914.6 1649.3,1915.0 1650.1,1915.4 1650.9,1915.6 1651.7,1915.8 1652.5,1916.0 1653.3,1916.2 1654.1,1916.4 1654.9,1916.6 1655.7,1916.7 1656.5,1916.7 1657.3,1916.8 1658.1,1916.8 1658.9,1916.8 1659.7,1916.9 1660.5,1916.9 1661.3,1916.9 1662.1,1916.9 1662.9,1916.9 1663.7,1916.9 1664.5,1916.9 1665.4,1916.9 1666.2,1916.9 1667.0,1916.9 1667.8,1916.8 1668.6,1916.7 1669.4,1916.4 1670.2,1916.1 1671.0,1915.5 1671.8,1914.8 1672.6,1914.2 1673.4,1913.5 1674.2,1912.6 1675.0,1911.7 1675.8,1911.1 1676.6,1910.6 1677.4,1910.8 1678.2,1911.2 1679.0,1911.8 1679.8,1912.5 1680.6,1913.2 1681.4,1913.8 1682.2,1914.2 1683.0,1914.2 1683.8,1913.9 1684.7,1912.9 1685.5,1911.6 1686.3,1910.0 1687.1,1907.9 1687.9,1905.7 1688.7,1903.4 1689.5,1900.8 1690.3,1899.0 1691.1,1897.4 1691.9,1897.3 1692.7,1898.3 1693.5,1900.3 1694.3,1901.5 1695.1,1903.5 1695.9,1905.3 1696.7,1907.5 1697.5,1909.3 1698.3,1911.2 1699.1,1912.6 1699.9,1913.7 1700.7,1914.4 1701.5,1914.8 1702.3,1915.0 1703.2,1915.1 1704.0,1915.0 1704.8,1914.8 1705.6,1914.8 1706.4,1914.7 1707.2,1914.8 1708.0,1914.9 1708.8,1915.1 1709.6,1915.2 1710.4,1915.4 1711.2,1915.5 1712.0,1915.7 1712.0,1916.9Z" fill="#00B7E8" stroke="none" stroke-width="0"/>
<line x1="1599.4" y1="1916.9" x2="1712.0" y2="1916.9" stroke="#777" stroke-width="1.1"/>
<path d="M1599.4,1960.1 1599.4,1960.1 1600.2,1960.1 1601.0,1960.1 1601.8,1960.1 1602.6,1960.1 1603.4,1960.1 1604.2,1960.1 1605.0,1960.1 1605.8,1960.1 1606.6,1960.1 1607.4,1960.1 1608.2,1960.1 1609.1,1960.0 1609.9,1960.0 1610.7,1960.0 1611.5,1960.0 1612.3,1960.0 1613.1,1960.0 1613.9,1960.0 1614.7,1960.0 1615.5,1959.9 1616.3,1959.9 1617.1,1959.9 1617.9,1959.9 1618.7,1959.9 1619.5,1959.8 1620.3,1959.8 1621.1,1959.8 1621.9,1959.7 1622.7,1959.6 1623.5,1959.6 1624.3,1959.4 1625.1,1959.3 1625.9,1959.1 1626.7,1958.9 1627.6,1958.6 1628.4,1958.3 1629.2,1957.9 1630.0,1957.3 1630.8,1956.7 1631.6,1956.2 1632.4,1955.7 1633.2,1955.3 1634.0,1954.5 1634.8,1954.1 1635.6,1953.5 1636.4,1953.5 1637.2,1953.8 1638.0,1954.1 1638.8,1954.2 1639.6,1954.0 1640.4,1954.3 1641.2,1954.7 1642.0,1955.2 1642.8,1955.9 1643.6,1956.3 1644.4,1956.8 1645.2,1957.1 1646.0,1957.2 1646.9,1957.1 1647.7,1957.0 1648.5,1957.1 1649.3,1957.3 1650.1,1957.3 1650.9,1957.3 1651.7,1957.2 1652.5,1957.1 1653.3,1957.2 1654.1,1957.2 1654.9,1957.3 1655.7,1957.2 1656.5,1957.1 1657.3,1957.0 1658.1,1957.0 1658.9,1956.9 1659.7,1957.0 1660.5,1957.0 1661.3,1957.2 1662.1,1957.2 1662.9,1957.3 1663.7,1957.3 1664.5,1957.5 1665.4,1957.5 1666.2,1957.4 1667.0,1957.5 1667.8,1957.6 1668.6,1957.7 1669.4,1957.8 1670.2,1957.9 1671.0,1958.0 1671.8,1958.0 1672.6,1958.2 1673.4,1958.4 1674.2,1958.6 1675.0,1958.6 1675.8,1958.7 1676.6,1958.8 1677.4,1958.8 1678.2,1958.9 1679.0,1958.8 1679.8,1959.0 1680.6,1959.1 1681.4,1959.2 1682.2,1959.2 1683.0,1959.1 1683.8,1959.0 1684.7,1958.8 1685.5,1958.3 1686.3,1957.9 1687.1,1957.2 1687.9,1956.5 1688.7,1955.6 1689.5,1954.9 1690.3,1954.0 1691.1,1953.3 1691.9,1953.1 1692.7,1953.1 1693.5,1953.0 1694.3,1953.7 1695.1,1954.6 1695.9,1955.7 1696.7,1956.2 1697.5,1956.7 1698.3,1957.4 1699.1,1958.2 1699.9,1958.8 1700.7,1959.3 1701.5,1959.5 1702.3,1959.7 1703.2,1959.9 1704.0,1959.9 1704.8,1959.9 1705.6,1959.9 1706.4,1959.7 1707.2,1959.4 1708.0,1959.0 1708.8,1958.5 1709.6,1958.0 1710.4,1957.8 1711.2,1957.7 1712.0,1957.9 1712.0,1960.1Z" fill="#00AEFA" stroke="none" stroke-width="0"/>
<line x1="1599.4" y1="1960.1" x2="1712.0" y2="1960.1" stroke="#777" stroke-width="1.1"/>
<path d="M1599.4,2003.3 1599.4,2003.3 1600.2,2003.3 1601.0,2003.3 1601.8,2003.3 1602.6,2003.3 1603.4,2003.3 1604.2,2003.3 1605.0,2003.3 1605.8,2003.3 1606.6,2003.3 1607.4,2003.3 1608.2,2003.3 1609.1,2003.3 1609.9,2003.3 1610.7,2003.3 1611.5,2003.3 1612.3,2003.3 1613.1,2003.3 1613.9,2003.3 1614.7,2003.3 1615.5,2003.3 1616.3,2003.3 1617.1,2003.3 1617.9,2003.3 1618.7,2003.3 1619.5,2003.2 1620.3,2003.2 1621.1,2003.0 1621.9,2002.6 1622.7,2002.2 1623.5,2001.5 1624.3,2000.8 1625.1,2000.3 1625.9,2000.1 1626.7,2000.4 1627.6,2000.9 1628.4,2001.6 1629.2,2002.1 1630.0,2002.4 1630.8,2002.5 1631.6,2002.3 1632.4,2002.0 1633.2,2001.4 1634.0,2000.5 1634.8,1999.3 1635.6,1997.7 1636.4,1996.8 1637.2,1996.1 1638.0,1995.7 1638.8,1995.7 1639.6,1996.2 1640.4,1997.2 1641.2,1997.9 1642.0,1998.8 1642.8,1999.6 1643.6,2000.7 1644.4,2001.6 1645.2,2002.3 1646.0,2002.7 1646.9,2002.9 1647.7,2003.1 1648.5,2003.2 1649.3,2003.3 1650.1,2003.3 1650.9,2003.3 1651.7,2003.3 1652.5,2003.3 1653.3,2003.3 1654.1,2003.3 1654.9,2003.3 1655.7,2003.3 1656.5,2003.3 1657.3,2003.3 1658.1,2003.3 1658.9,2003.3 1659.7,2003.3 1660.5,2003.3 1661.3,2003.3 1662.1,2003.3 1662.9,2003.3 1663.7,2003.3 1664.5,2003.3 1665.4,2003.3 1666.2,2003.3 1667.0,2003.3 1667.8,2003.3 1668.6,2003.3 1669.4,2003.3 1670.2,2003.3 1671.0,2003.3 1671.8,1995.8 1672.6,1995.8 1673.4,1995.4 1674.2,1995.6 1675.0,1995.9 1675.8,1996.2 1676.6,1996.5 1677.4,1996.4 1678.2,2003.3 1679.0,2003.3 1679.8,2003.3 1680.6,2003.3 1681.4,2003.2 1682.2,2003.1 1683.0,2002.5 1683.8,2000.9 1684.7,1997.9 1685.5,1993.2 1686.3,1987.5 1687.1,1983.0 1687.9,1981.9 1688.7,1983.6 1689.5,1987.3 1690.3,1989.7 1691.1,1991.7 1691.9,1991.7 1692.7,1991.6 1693.5,1992.0 1694.3,1992.1 1695.1,1992.9 1695.9,1994.5 1696.7,1996.4 1697.5,1998.2 1698.3,1999.8 1699.1,2001.0 1699.9,2001.8 1700.7,2002.4 1701.5,2002.8 1702.3,2003.0 1703.2,2003.2 1704.0,2003.2 1704.8,2003.3 1705.6,2003.3 1706.4,2003.3 1707.2,2003.3 1708.0,2003.3 1708.8,2003.3 1709.6,2003.3 1710.4,2003.3 1711.2,2003.3 1712.0,2003.3 1712.0,2003.3Z" fill="#3DA1FF" stroke="none" stroke-width="0"/>
<line x1="1599.4" y1="2003.3" x2="1712.0" y2="2003.3" stroke="#777" stroke-width="1.1"/>
<path d="M1599.4,2046.5 1599.4,2046.4 1600.2,2046.4 1601.0,2046.4 1601.8,2046.4 1602.6,2046.4 1603.4,2046.3 1604.2,2046.3 1605.0,2046.3 1605.8,2046.3 1606.6,2046.3 1607.4,2046.3 1608.2,2046.2 1609.1,2046.2 1609.9,2046.2 1610.7,2046.2 1611.5,2046.2 1612.3,2046.2 1613.1,2046.1 1613.9,2046.1 1614.7,2046.1 1615.5,2046.1 1616.3,2046.0 1617.1,2046.0 1617.9,2046.0 1618.7,2045.9 1619.5,2045.9 1620.3,2045.9 1621.1,2045.8 1621.9,2045.8 1622.7,2045.8 1623.5,2045.8 1624.3,2045.8 1625.1,2045.7 1625.9,2045.7 1626.7,2045.6 1627.6,2045.6 1628.4,2045.5 1629.2,2045.4 1630.0,2045.4 1630.8,2045.3 1631.6,2045.3 1632.4,2045.3 1633.2,2045.2 1634.0,2045.2 1634.8,2045.2 1635.6,2045.2 1636.4,2045.2 1637.2,2045.1 1638.0,2045.1 1638.8,2045.0 1639.6,2044.9 1640.4,2044.9 1641.2,2044.9 1642.0,2044.8 1642.8,2044.6 1643.6,2044.6 1644.4,2044.7 1645.2,2044.8 1646.0,2044.7 1646.9,2044.7 1647.7,2044.7 1648.5,2044.6 1649.3,2044.5 1650.1,2044.5 1650.9,2044.4 1651.7,2044.3 1652.5,2044.3 1653.3,2044.3 1654.1,2044.4 1654.9,2044.4 1655.7,2044.4 1656.5,2044.5 1657.3,2044.7 1658.1,2044.5 1658.9,2044.4 1659.7,2044.4 1660.5,2044.4 1661.3,2044.6 1662.1,2044.7 1662.9,2044.7 1663.7,2044.6 1664.5,2044.6 1665.4,2044.7 1666.2,2044.8 1667.0,2044.8 1667.8,2044.8 1668.6,2044.8 1669.4,2044.8 1670.2,2044.8 1671.0,2044.9 1671.8,2044.8 1672.6,2045.0 1673.4,2045.0 1674.2,2045.0 1675.0,2045.0 1675.8,2045.0 1676.6,2045.0 1677.4,2045.0 1678.2,2044.9 1679.0,2044.9 1679.8,2044.9 1680.6,2044.8 1681.4,2044.8 1682.2,2044.7 1683.0,2044.4 1683.8,2044.2 1684.7,2044.1 1685.5,2043.9 1686.3,2043.8 1687.1,2043.8 1687.9,2043.8 1688.7,2043.9 1689.5,2043.8 1690.3,2043.8 1691.1,2043.7 1691.9,2044.0 1692.7,2044.3 1693.5,2044.5 1694.3,2044.7 1695.1,2044.9 1695.9,2045.2 1696.7,2045.3 1697.5,2045.4 1698.3,2045.5 1699.1,2045.7 1699.9,2045.8 1700.7,2045.9 1701.5,2046.0 1702.3,2046.1 1703.2,2046.2 1704.0,2046.2 1704.8,2046.3 1705.6,2046.3 1706.4,2046.3 1707.2,2046.3 1708.0,2046.4 1708.8,2046.4 1709.6,2046.4 1710.4,2046.4 1711.2,2046.4 1712.0,2046.4 1712.0,2046.5Z" fill="#8F91FF" stroke="none" stroke-width="0"/>
<line x1="1599.4" y1="2046.5" x2="1712.0" y2="2046.5" stroke="#777" stroke-width="1.1"/>
<path d="M1599.4,2089.7 1599.4,2088.8 1600.2,2088.6 1601.0,2088.4 1601.8,2088.2 1602.6,2088.0 1603.4,2087.7 1604.2,2087.5 1605.0,2087.6 1605.8,2087.7 1606.6,2087.9 1607.4,2087.9 1608.2,2088.1 1609.1,2088.2 1609.9,2088.5 1610.7,2088.6 1611.5,2088.8 1612.3,2088.9 1613.1,2088.8 1613.9,2088.6 1614.7,2088.2 1615.5,2087.4 1616.3,2086.2 1617.1,2085.2 1617.9,2084.0 1618.7,2083.3 1619.5,2081.8 1620.3,2080.7 1621.1,2080.0 1621.9,2079.4 1622.7,2079.6 1623.5,2080.3 1624.3,2081.6 1625.1,2083.0 1625.9,2084.3 1626.7,2085.2 1627.6,2085.9 1628.4,2086.2 1629.2,2086.4 1630.0,2086.3 1630.8,2086.0 1631.6,2085.4 1632.4,2084.7 1633.2,2084.3 1634.0,2083.8 1634.8,2083.6 1635.6,2083.7 1636.4,2083.8 1637.2,2084.2 1638.0,2084.6 1638.8,2084.8 1639.6,2084.9 1640.4,2085.4 1641.2,2085.9 1642.0,2086.4 1642.8,2086.9 1643.6,2087.1 1644.4,2087.3 1645.2,2087.4 1646.0,2087.5 1646.9,2087.6 1647.7,2087.7 1648.5,2087.7 1649.3,2087.6 1650.1,2087.5 1650.9,2087.7 1651.7,2087.7 1652.5,2087.9 1653.3,2087.7 1654.1,2087.7 1654.9,2087.7 1655.7,2087.7 1656.5,2087.7 1657.3,2087.8 1658.1,2087.7 1658.9,2087.7 1659.7,2087.7 1660.5,2087.7 1661.3,2087.7 1662.1,2087.7 1662.9,2087.8 1663.7,2087.8 1664.5,2087.8 1665.4,2087.9 1666.2,2087.9 1667.0,2087.9 1667.8,2088.0 1668.6,2088.1 1669.4,2088.2 1670.2,2088.2 1671.0,2088.3 1671.8,2088.2 1672.6,2088.4 1673.4,2088.5 1674.2,2088.6 1675.0,2088.6 1675.8,2088.6 1676.6,2088.5 1677.4,2088.4 1678.2,2088.2 1679.0,2088.0 1679.8,2087.7 1680.6,2087.4 1681.4,2086.9 1682.2,2086.4 1683.0,2085.7 1683.8,2084.7 1684.7,2084.2 1685.5,2083.5 1686.3,2082.9 1687.1,2082.2 1687.9,2081.6 1688.7,2080.8 1689.5,2080.2 1690.3,2079.7 1691.1,2079.8 1691.9,2079.2 1692.7,2078.7 1693.5,2078.5 1694.3,2079.1 1695.1,2080.2 1695.9,2081.2 1696.7,2082.0 1697.5,2083.1 1698.3,2084.1 1699.1,2085.0 1699.9,2085.9 1700.7,2086.7 1701.5,2087.4 1702.3,2087.9 1703.2,2088.3 1704.0,2088.6 1704.8,2088.9 1705.6,2089.1 1706.4,2089.3 1707.2,2089.4 1708.0,2089.5 1708.8,2089.5 1709.6,2089.6 1710.4,2089.6 1711.2,2089.6 1712.0,2089.6 1712.0,2089.7Z" fill="#BE80FF" stroke="none" stroke-width="0"/>
<line x1="1599.4" y1="2089.7" x2="1712.0" y2="2089.7" stroke="#777" stroke-width="1.1"/>
<path d="M1599.4,2132.8 1599.4,2132.5 1600.2,2132.5 1601.0,2132.4 1601.8,2132.4 1602.6,2132.4 1603.4,2132.4 1604.2,2132.3 1605.0,2132.3 1605.8,2132.3 1606.6,2132.3 1607.4,2132.3 1608.2,2132.2 1609.1,2132.2 1609.9,2132.2 1610.7,2132.2 1611.5,2132.2 1612.3,2132.1 1613.1,2132.1 1613.9,2132.1 1614.7,2132.1 1615.5,2132.1 1616.3,2132.1 1617.1,2132.1 1617.9,2132.0 1618.7,2132.0 1619.5,2131.9 1620.3,2131.9 1621.1,2131.9 1621.9,2131.9 1622.7,2131.9 1623.5,2131.9 1624.3,2131.9 1625.1,2131.8 1625.9,2131.8 1626.7,2131.8 1627.6,2131.8 1628.4,2131.8 1629.2,2131.7 1630.0,2131.7 1630.8,2131.6 1631.6,2131.6 1632.4,2131.6 1633.2,2131.6 1634.0,2131.6 1634.8,2131.6 1635.6,2131.6 1636.4,2131.6 1637.2,2131.6 1638.0,2131.7 1638.8,2131.6 1639.6,2131.6 1640.4,2131.6 1641.2,2131.6 1642.0,2131.5 1642.8,2131.5 1643.6,2131.5 1644.4,2131.5 1645.2,2131.5 1646.0,2131.5 1646.9,2131.4 1647.7,2131.3 1648.5,2131.4 1649.3,2131.4 1650.1,2131.5 1650.9,2131.5 1651.7,2131.5 1652.5,2131.5 1653.3,2131.4 1654.1,2131.4 1654.9,2131.4 1655.7,2131.4 1656.5,2131.4 1657.3,2131.3 1658.1,2131.3 1658.9,2131.3 1659.7,2131.2 1660.5,2131.2 1661.3,2131.2 1662.1,2131.3 1662.9,2131.3 1663.7,2131.3 1664.5,2131.3 1665.4,2131.4 1666.2,2131.5 1667.0,2131.5 1667.8,2131.5 1668.6,2131.5 1669.4,2131.5 1670.2,2131.5 1671.0,2131.4 1671.8,2131.4 1672.6,2131.4 1673.4,2131.4 1674.2,2131.5 1675.0,2131.4 1675.8,2131.4 1676.6,2131.3 1677.4,2131.3 1678.2,2131.4 1679.0,2131.3 1679.8,2131.3 1680.6,2131.3 1681.4,2131.2 1682.2,2131.1 1683.0,2131.0 1683.8,2131.0 1684.7,2130.8 1685.5,2130.7 1686.3,2130.5 1687.1,2130.5 1687.9,2130.6 1688.7,2130.6 1689.5,2130.6 1690.3,2130.5 1691.1,2130.4 1691.9,2130.5 1692.7,2130.6 1693.5,2130.7 1694.3,2130.9 1695.1,2131.0 1695.9,2131.2 1696.7,2131.4 1697.5,2131.6 1698.3,2131.7 1699.1,2131.8 1699.9,2131.9 1700.7,2132.0 1701.5,2132.1 1702.3,2132.1 1703.2,2132.2 1704.0,2132.2 1704.8,2132.3 1705.6,2132.3 1706.4,2132.3 1707.2,2132.4 1708.0,2132.4 1708.8,2132.4 1709.6,2132.4 1710.4,2132.4 1711.2,2132.4 1712.0,2132.4 1712.0,2132.8Z" fill="#DE71F9" stroke="none" stroke-width="0"/>
<line x1="1599.4" y1="2132.8" x2="1712.0" y2="2132.8" stroke="#777" stroke-width="1.1"/>
<path d="M1599.4,2176.0 1599.4,2175.7 1600.2,2175.7 1601.0,2175.7 1601.8,2175.7 1602.6,2175.7 1603.4,2175.7 1604.2,2175.6 1605.0,2175.6 1605.8,2175.6 1606.6,2175.6 1607.4,2175.6 1608.2,2175.6 1609.1,2175.5 1609.9,2175.5 1610.7,2175.5 1611.5,2175.5 1612.3,2175.5 1613.1,2175.5 1613.9,2175.5 1614.7,2175.4 1615.5,2175.4 1616.3,2175.4 1617.1,2175.3 1617.9,2175.4 1618.7,2175.4 1619.5,2175.3 1620.3,2175.3 1621.1,2175.2 1621.9,2175.2 1622.7,2175.3 1623.5,2175.3 1624.3,2175.2 1625.1,2175.2 1625.9,2175.2 1626.7,2175.2 1627.6,2175.1 1628.4,2175.1 1629.2,2175.1 1630.0,2175.1 1630.8,2175.1 1631.6,2175.1 1632.4,2175.1 1633.2,2175.1 1634.0,2175.1 1634.8,2175.0 1635.6,2175.0 1636.4,2175.0 1637.2,2175.0 1638.0,2175.0 1638.8,2175.0 1639.6,2175.0 1640.4,2174.9 1641.2,2174.9 1642.0,2175.0 1642.8,2175.0 1643.6,2175.0 1644.4,2175.0 1645.2,2174.9 1646.0,2174.9 1646.9,2174.9 1647.7,2174.9 1648.5,2174.9 1649.3,2174.8 1650.1,2174.9 1650.9,2174.8 1651.7,2174.8 1652.5,2174.8 1653.3,2174.8 1654.1,2174.8 1654.9,2174.8 1655.7,2174.8 1656.5,2174.8 1657.3,2174.7 1658.1,2174.7 1658.9,2174.8 1659.7,2174.9 1660.5,2174.8 1661.3,2174.8 1662.1,2174.7 1662.9,2174.7 1663.7,2174.8 1664.5,2174.8 1665.4,2174.8 1666.2,2174.7 1667.0,2174.6 1667.8,2174.5 1668.6,2174.5 1669.4,2174.4 1670.2,2174.4 1671.0,2174.3 1671.8,2174.2 1672.6,2174.2 1673.4,2174.2 1674.2,2174.1 1675.0,2174.0 1675.8,2174.0 1676.6,2173.8 1677.4,2173.7 1678.2,2173.8 1679.0,2173.7 1679.8,2173.7 1680.6,2173.6 1681.4,2173.5 1682.2,2173.5 1683.0,2173.6 1683.8,2173.6 1684.7,2173.6 1685.5,2173.7 1686.3,2173.7 1687.1,2173.9 1687.9,2173.9 1688.7,2174.1 1689.5,2174.1 1690.3,2174.1 1691.1,2174.1 1691.9,2174.2 1692.7,2174.4 1693.5,2174.5 1694.3,2174.6 1695.1,2174.6 1695.9,2174.7 1696.7,2174.8 1697.5,2175.0 1698.3,2175.1 1699.1,2175.1 1699.9,2175.3 1700.7,2175.3 1701.5,2175.4 1702.3,2175.4 1703.2,2175.4 1704.0,2175.4 1704.8,2175.5 1705.6,2175.5 1706.4,2175.6 1707.2,2175.6 1708.0,2175.6 1708.8,2175.6 1709.6,2175.6 1710.4,2175.6 1711.2,2175.7 1712.0,2175.7 1712.0,2176.0Z" fill="#F265E7" stroke="none" stroke-width="0"/>
<line x1="1599.4" y1="2176.0" x2="1712.0" y2="2176.0" stroke="#777" stroke-width="1.1"/>
<path d="M1599.4,2219.2 1599.4,2219.2 1600.2,2219.2 1601.0,2219.2 1601.8,2219.2 1602.6,2219.2 1603.4,2219.2 1604.2,2219.2 1605.0,2219.2 1605.8,2219.2 1606.6,2219.2 1607.4,2219.2 1608.2,2219.2 1609.1,2219.2 1609.9,2219.2 1610.7,2219.2 1611.5,2219.2 1612.3,2219.2 1613.1,2219.2 1613.9,2219.2 1614.7,2219.2 1615.5,2219.2 1616.3,2219.2 1617.1,2219.2 1617.9,2219.2 1618.7,2219.2 1619.5,2219.2 1620.3,2219.2 1621.1,2219.2 1621.9,2219.2 1622.7,2219.2 1623.5,2219.2 1624.3,2219.1 1625.1,2219.1 1625.9,2219.1 1626.7,2219.0 1627.6,2219.0 1628.4,2218.9 1629.2,2218.8 1630.0,2218.7 1630.8,2218.6 1631.6,2218.5 1632.4,2218.4 1633.2,2218.4 1634.0,2218.2 1634.8,2218.0 1635.6,2217.9 1636.4,2217.8 1637.2,2217.8 1638.0,2217.7 1638.8,2217.7 1639.6,2217.7 1640.4,2217.7 1641.2,2217.8 1642.0,2217.8 1642.8,2217.8 1643.6,2217.9 1644.4,2217.8 1645.2,2217.8 1646.0,2217.8 1646.9,2217.8 1647.7,2217.8 1648.5,2217.6 1649.3,2217.6 1650.1,2217.6 1650.9,2217.7 1651.7,2217.8 1652.5,2218.0 1653.3,2218.2 1654.1,2218.4 1654.9,2218.7 1655.7,2218.8 1656.5,2218.9 1657.3,2219.0 1658.1,2219.1 1658.9,2219.2 1659.7,2219.2 1660.5,2219.2 1661.3,2219.2 1662.1,2219.2 1662.9,2219.2 1663.7,2219.2 1664.5,2219.2 1665.4,2219.2 1666.2,2219.2 1667.0,2219.1 1667.8,2219.0 1668.6,2218.8 1669.4,2218.5 1670.2,2218.1 1671.0,2217.6 1671.8,2217.0 1672.6,2216.4 1673.4,2215.9 1674.2,2215.6 1675.0,2215.3 1675.8,2215.5 1676.6,2215.7 1677.4,2216.6 1678.2,2217.4 1679.0,2218.1 1679.8,2218.5 1680.6,2218.7 1681.4,2218.8 1682.2,2218.8 1683.0,2218.5 1683.8,2217.9 1684.7,2217.0 1685.5,2215.9 1686.3,2214.8 1687.1,2214.4 1687.9,2214.5 1688.7,2215.1 1689.5,2216.0 1690.3,2217.0 1691.1,2217.8 1691.9,2218.5 1692.7,2218.9 1693.5,2219.1 1694.3,2219.2 1695.1,2219.2 1695.9,2219.2 1696.7,2219.2 1697.5,2219.2 1698.3,2219.2 1699.1,2219.2 1699.9,2219.2 1700.7,2219.2 1701.5,2219.2 1702.3,2219.2 1703.2,2219.2 1704.0,2219.2 1704.8,2219.2 1705.6,2219.2 1706.4,2219.2 1707.2,2219.2 1708.0,2219.2 1708.8,2219.2 1709.6,2219.2 1710.4,2219.2 1711.2,2219.2 1712.0,2219.2 1712.0,2219.2Z" fill="#FE61CF" stroke="none" stroke-width="0"/>
<line x1="1599.4" y1="2219.2" x2="1712.0" y2="2219.2" stroke="#777" stroke-width="1.1"/>
<path d="M1599.4,2262.4 1599.4,2262.4 1600.2,2262.4 1601.0,2262.4 1601.8,2262.4 1602.6,2262.4 1603.4,2262.4 1604.2,2262.4 1605.0,2262.4 1605.8,2262.4 1606.6,2262.4 1607.4,2262.4 1608.2,2262.4 1609.1,2262.4 1609.9,2262.4 1610.7,2262.4 1611.5,2262.4 1612.3,2262.4 1613.1,2262.4 1613.9,2262.4 1614.7,2262.4 1615.5,2262.4 1616.3,2262.4 1617.1,2262.4 1617.9,2262.4 1618.7,2262.4 1619.5,2262.4 1620.3,2262.4 1621.1,2262.4 1621.9,2262.4 1622.7,2262.4 1623.5,2262.4 1624.3,2262.4 1625.1,2262.4 1625.9,2262.4 1626.7,2262.4 1627.6,2262.4 1628.4,2262.4 1629.2,2262.4 1630.0,2262.4 1630.8,2262.4 1631.6,2262.4 1632.4,2262.4 1633.2,2262.4 1634.0,2262.4 1634.8,2262.4 1635.6,2262.4 1636.4,2262.4 1637.2,2262.4 1638.0,2262.4 1638.8,2262.4 1639.6,2262.4 1640.4,2262.4 1641.2,2262.4 1642.0,2262.4 1642.8,2262.4 1643.6,2258.2 1644.4,2258.4 1645.2,2258.3 1646.0,2258.3 1646.9,2258.4 1647.7,2258.3 1648.5,2258.5 1649.3,2258.7 1650.1,2258.7 1650.9,2258.8 1651.7,2258.8 1652.5,2258.6 1653.3,2258.4 1654.1,2258.3 1654.9,2258.0 1655.7,2258.1 1656.5,2258.2 1657.3,2262.4 1658.1,2262.4 1658.9,2262.4 1659.7,2262.4 1660.5,2262.4 1661.3,2262.4 1662.1,2262.4 1662.9,2262.4 1663.7,2262.4 1664.5,2262.4 1665.4,2262.4 1666.2,2262.4 1667.0,2262.4 1667.8,2258.3 1668.6,2258.5 1669.4,2258.9 1670.2,2258.5 1671.0,2258.4 1671.8,2258.1 1672.6,2258.4 1673.4,2258.5 1674.2,2258.7 1675.0,2258.6 1675.8,2258.5 1676.6,2258.4 1677.4,2258.4 1678.2,2258.4 1679.0,2258.4 1679.8,2258.7 1680.6,2262.4 1681.4,2262.4 1682.2,2262.4 1683.0,2262.4 1683.8,2262.3 1684.7,2262.3 1685.5,2262.2 1686.3,2262.1 1687.1,2261.9 1687.9,2261.7 1688.7,2261.5 1689.5,2261.3 1690.3,2261.0 1691.1,2260.7 1691.9,2260.6 1692.7,2260.5 1693.5,2260.4 1694.3,2260.6 1695.1,2260.7 1695.9,2261.0 1696.7,2261.3 1697.5,2261.6 1698.3,2261.9 1699.1,2262.0 1699.9,2262.2 1700.7,2262.2 1701.5,2262.3 1702.3,2262.3 1703.2,2262.4 1704.0,2262.4 1704.8,2262.4 1705.6,2262.4 1706.4,2262.4 1707.2,2262.4 1708.0,2262.4 1708.8,2262.4 1709.6,2262.4 1710.4,2262.4 1711.2,2262.4 1712.0,2262.4 1712.0,2262.4Z" fill="#FF64B3" stroke="none" stroke-width="0"/>
<line x1="1599.4" y1="2262.4" x2="1712.0" y2="2262.4" stroke="#777" stroke-width="1.1"/>
<path d="M1599.4,2305.6 1599.4,2305.5 1600.2,2305.4 1601.0,2305.2 1601.8,2304.9 1602.6,2304.5 1603.4,2304.1 1604.2,2303.7 1605.0,2303.6 1605.8,2303.7 1606.6,2304.0 1607.4,2304.5 1608.2,2304.8 1609.1,2305.2 1609.9,2305.4 1610.7,2305.5 1611.5,2305.5 1612.3,2305.5 1613.1,2305.4 1613.9,2305.2 1614.7,2304.7 1615.5,2303.8 1616.3,2302.5 1617.1,2300.8 1617.9,2298.9 1618.7,2297.1 1619.5,2297.1 1620.3,2298.0 1621.1,2299.8 1621.9,2301.2 1622.7,2302.7 1623.5,2303.9 1624.3,2304.8 1625.1,2305.2 1625.9,2305.4 1626.7,2305.4 1627.6,2305.3 1628.4,2305.0 1629.2,2304.5 1630.0,2303.9 1630.8,2303.0 1631.6,2302.2 1632.4,2301.5 1633.2,2300.8 1634.0,2300.1 1634.8,2300.0 1635.6,2300.2 1636.4,2301.1 1637.2,2302.2 1638.0,2303.2 1638.8,2304.0 1639.6,2304.5 1640.4,2304.9 1641.2,2305.1 1642.0,2305.1 1642.8,2304.7 1643.6,2304.1 1644.4,2303.3 1645.2,2302.3 1646.0,2301.4 1646.9,2301.0 1647.7,2301.1 1648.5,2301.4 1649.3,2302.3 1650.1,2303.4 1650.9,2304.2 1651.7,2304.7 1652.5,2304.7 1653.3,2304.3 1654.1,2303.4 1654.9,2302.2 1655.7,2300.6 1656.5,2299.3 1657.3,2298.3 1658.1,2298.0 1658.9,2298.7 1659.7,2299.9 1660.5,2301.5 1661.3,2303.0 1662.1,2303.9 1662.9,2304.2 1663.7,2304.2 1664.5,2303.9 1665.4,2303.4 1666.2,2303.0 1667.0,2302.4 1667.8,2302.0 1668.6,2301.9 1669.4,2302.0 1670.2,2301.8 1671.0,2301.9 1671.8,2302.4 1672.6,2302.9 1673.4,2303.3 1674.2,2303.7 1675.0,2303.7 1675.8,2303.4 1676.6,2302.8 1677.4,2301.5 1678.2,2299.9 1679.0,2298.3 1679.8,2297.2 1680.6,2296.7 1681.4,2296.9 1682.2,2297.4 1683.0,2298.2 1683.8,2299.9 1684.7,2301.3 1685.5,2302.5 1686.3,2303.3 1687.1,2303.8 1687.9,2303.7 1688.7,2303.0 1689.5,2301.6 1690.3,2299.8 1691.1,2297.5 1691.9,2295.1 1692.7,2293.1 1693.5,2291.4 1694.3,2291.4 1695.1,2293.0 1695.9,2294.6 1696.7,2297.1 1697.5,2299.1 1698.3,2301.2 1699.1,2302.8 1699.9,2303.9 1700.7,2304.7 1701.5,2305.2 1702.3,2305.3 1703.2,2305.4 1704.0,2305.3 1704.8,2305.1 1705.6,2304.8 1706.4,2304.4 1707.2,2304.0 1708.0,2303.7 1708.8,2303.7 1709.6,2303.8 1710.4,2304.2 1711.2,2304.6 1712.0,2304.9 1712.0,2305.6Z" fill="#FF6C92" stroke="none" stroke-width="0"/>
<line x1="1599.4" y1="2305.6" x2="1712.0" y2="2305.6" stroke="#777" stroke-width="1.1"/>
<rect x="1665.20" y="1312.20" width="5.30" height="1009.40" fill="#808080" stroke="none" stroke-width="0" opacity="0.6" style="mix-blend-mode:saturation"/>
<rect x="1665.20" y="1312.20" width="5.30" height="1009.40" fill="#d2aad2" stroke="none" stroke-width="0" fill-opacity="0.25"/>
<rect x="1684.30" y="1312.20" width="5.40" height="1009.40" fill="#808080" stroke="none" stroke-width="0" opacity="0.6" style="mix-blend-mode:saturation"/>
<rect x="1684.30" y="1312.20" width="5.40" height="1009.40" fill="#d2aad2" stroke="none" stroke-width="0" fill-opacity="0.25"/>
<rect x="1696.40" y="1312.20" width="5.40" height="1009.40" fill="#808080" stroke="none" stroke-width="0" opacity="0.6" style="mix-blend-mode:saturation"/>
<rect x="1696.40" y="1312.20" width="5.40" height="1009.40" fill="#d2aad2" stroke="none" stroke-width="0" fill-opacity="0.25"/>
<path d="M1786.4,1327.3 1786.8,1331.0 1787.1,1334.1 1787.5,1336.5 1787.8,1338.0 1789.8,1338.2 1858.6,1338.2 1858.6,1338.4 1789.8,1338.4 1787.8,1338.6 1787.5,1340.1 1787.1,1342.5 1786.8,1345.6 1786.4,1349.3Z" fill="#F8766D" stroke="#1a1a1a" stroke-width="0.55" stroke-linejoin="round"/>
<path d="M1786.4,1370.9 1786.8,1373.3 1787.1,1375.5 1787.5,1377.4 1787.8,1379.0 1788.2,1380.4 1788.5,1381.4 1788.9,1381.8 1812.9,1381.8 1814.9,1381.6 1816.9,1381.2 1818.5,1381.2 1819.2,1381.4 1820.1,1381.6 1822.1,1381.8 1832.1,1381.8 1834.1,1381.6 1836.1,1381.3 1836.9,1381.4 1837.7,1381.5 1838.5,1381.7 1840.5,1381.8 1848.8,1381.8 1848.8,1382.0 1840.5,1382.0 1838.5,1382.2 1837.7,1382.4 1836.9,1382.5 1836.1,1382.5 1834.1,1382.3 1832.1,1382.0 1822.1,1382.0 1820.1,1382.3 1819.2,1382.5 1818.5,1382.7 1816.9,1382.7 1814.9,1382.3 1812.9,1382.0 1788.9,1382.0 1788.5,1382.5 1788.2,1383.5 1787.8,1384.8 1787.5,1386.5 1787.1,1388.4 1786.8,1390.6 1786.4,1392.9Z" fill="#EC823C" stroke="#1a1a1a" stroke-width="0.55" stroke-linejoin="round"/>
<path d="M1786.4,1414.6 1786.8,1415.9 1787.1,1417.1 1787.5,1418.3 1787.8,1419.4 1788.2,1420.4 1788.5,1421.4 1788.9,1422.3 1789.2,1423.1 1789.6,1423.8 1790.4,1425.0 1791.2,1425.5 1813.2,1425.5 1815.2,1425.1 1816.0,1424.9 1816.8,1424.7 1817.6,1424.6 1818.4,1424.6 1819.2,1424.8 1820.0,1425.1 1820.8,1425.3 1822.8,1425.5 1873.4,1425.5 1873.4,1425.7 1822.8,1425.7 1820.8,1425.9 1820.0,1426.1 1819.2,1426.3 1818.4,1426.5 1817.6,1426.6 1816.8,1426.5 1816.0,1426.3 1815.2,1426.1 1813.2,1425.7 1791.2,1425.7 1790.4,1426.1 1789.6,1427.4 1789.2,1428.1 1788.9,1428.9 1788.5,1429.8 1788.2,1430.7 1787.8,1431.8 1787.5,1432.9 1787.1,1434.1 1786.8,1435.3 1786.4,1436.6Z" fill="#DD8D00" stroke="#1a1a1a" stroke-width="0.55" stroke-linejoin="round"/>
<path d="M1786.4,1458.2 1786.8,1460.6 1787.1,1462.7 1787.5,1464.7 1787.8,1466.3 1788.2,1467.7 1788.5,1468.7 1788.9,1469.1 1835.9,1469.1 1835.9,1469.3 1788.9,1469.3 1788.5,1469.8 1788.2,1470.8 1787.8,1472.1 1787.5,1473.8 1787.1,1475.7 1786.8,1477.8 1786.4,1480.2Z" fill="#CA9700" stroke="#1a1a1a" stroke-width="0.55" stroke-linejoin="round"/>
<path d="M1786.4,1501.9 1786.8,1504.0 1787.1,1505.9 1787.5,1507.7 1787.8,1509.3 1788.2,1510.6 1788.5,1511.7 1788.9,1512.5 1790.9,1512.8 1812.9,1512.8 1814.9,1512.5 1816.9,1512.1 1818.5,1512.1 1819.2,1512.3 1820.1,1512.5 1822.1,1512.8 1832.1,1512.7 1834.1,1512.4 1834.9,1512.2 1835.7,1512.1 1836.5,1512.1 1837.2,1512.2 1838.1,1512.4 1838.9,1512.6 1840.9,1512.8 1848.8,1512.8 1848.8,1513.0 1840.9,1513.0 1838.9,1513.1 1838.1,1513.3 1837.2,1513.5 1836.5,1513.6 1835.7,1513.6 1834.9,1513.5 1834.1,1513.4 1832.1,1513.0 1822.1,1513.0 1820.1,1513.2 1819.2,1513.4 1818.5,1513.6 1816.9,1513.6 1814.9,1513.2 1812.9,1513.0 1790.9,1513.0 1788.9,1513.2 1788.5,1514.0 1788.2,1515.1 1787.8,1516.5 1787.5,1518.0 1787.1,1519.8 1786.8,1521.7 1786.4,1523.9Z" fill="#B3A000" stroke="#1a1a1a" stroke-width="0.55" stroke-linejoin="round"/>
<path d="M1786.4,1545.5 1786.8,1547.4 1787.1,1549.2 1787.5,1550.8 1787.8,1552.3 1788.2,1553.6 1788.5,1554.7 1788.9,1555.6 1789.2,1556.2 1791.2,1556.4 1813.2,1556.4 1815.2,1556.0 1816.0,1555.8 1816.8,1555.6 1818.4,1555.6 1819.2,1555.8 1820.0,1556.0 1820.8,1556.2 1822.8,1556.4 1835.9,1556.4 1835.9,1556.6 1822.8,1556.6 1820.8,1556.8 1820.0,1557.0 1819.2,1557.2 1818.4,1557.4 1816.8,1557.4 1816.0,1557.2 1815.2,1557.0 1813.2,1556.6 1791.2,1556.6 1789.2,1556.8 1788.9,1557.4 1788.5,1558.3 1788.2,1559.4 1787.8,1560.7 1787.5,1562.2 1787.1,1563.8 1786.8,1565.6 1786.4,1567.5Z" fill="#97A900" stroke="#1a1a1a" stroke-width="0.55" stroke-linejoin="round"/>
<path d="M1786.4,1589.1 1786.8,1591.3 1787.1,1593.2 1787.5,1595.0 1787.8,1596.5 1788.2,1597.9 1788.5,1599.0 1788.9,1599.8 1790.9,1600.0 1835.9,1600.0 1835.9,1600.2 1790.9,1600.2 1788.9,1600.5 1788.5,1601.3 1788.2,1602.4 1787.8,1603.7 1787.5,1605.3 1787.1,1607.1 1786.8,1609.0 1786.4,1611.1Z" fill="#71B000" stroke="#1a1a1a" stroke-width="0.55" stroke-linejoin="round"/>
<path d="M1786.4,1632.8 1786.8,1634.7 1787.1,1636.5 1787.5,1638.1 1787.8,1639.6 1788.2,1640.9 1788.5,1642.0 1788.9,1642.9 1789.2,1643.5 1791.2,1643.7 1835.9,1643.7 1835.9,1643.9 1791.2,1643.9 1789.2,1644.0 1788.9,1644.7 1788.5,1645.6 1788.2,1646.7 1787.8,1648.0 1787.5,1649.5 1787.1,1651.1 1786.8,1652.9 1786.4,1654.8Z" fill="#2FB600" stroke="#1a1a1a" stroke-width="0.55" stroke-linejoin="round"/>
<path d="M1786.4,1675.4 1786.8,1676.1 1787.1,1676.8 1787.5,1677.5 1787.8,1678.2 1788.2,1678.8 1788.5,1679.5 1788.9,1680.1 1789.2,1680.7 1789.6,1681.2 1790.4,1682.5 1791.2,1683.6 1792.0,1684.6 1792.8,1685.5 1793.6,1686.3 1794.4,1686.9 1795.2,1687.3 1809.2,1687.3 1811.2,1687.0 1812.0,1686.7 1812.8,1686.2 1813.6,1685.6 1814.4,1684.9 1815.2,1684.2 1816.0,1683.6 1816.8,1683.1 1817.6,1682.9 1818.4,1683.1 1819.2,1683.5 1820.0,1684.1 1820.8,1684.8 1821.6,1685.5 1822.4,1686.1 1823.2,1686.6 1824.0,1686.9 1824.8,1687.2 1826.8,1687.3 1866.7,1687.3 1866.7,1687.5 1826.8,1687.5 1824.8,1687.7 1824.0,1687.9 1823.2,1688.2 1822.4,1688.7 1821.6,1689.3 1820.8,1690.0 1820.0,1690.7 1819.2,1691.4 1818.4,1691.8 1817.6,1691.9 1816.8,1691.7 1816.0,1691.3 1815.2,1690.6 1814.4,1689.9 1813.6,1689.2 1812.8,1688.6 1812.0,1688.2 1811.2,1687.9 1809.2,1687.5 1795.2,1687.6 1794.4,1688.0 1793.6,1688.6 1792.8,1689.3 1792.0,1690.2 1791.2,1691.2 1790.4,1692.4 1789.6,1693.6 1789.2,1694.2 1788.9,1694.8 1788.5,1695.4 1788.2,1696.0 1787.8,1696.7 1787.5,1697.3 1787.1,1698.0 1786.8,1698.7 1786.4,1699.4Z" fill="#00BB4B" stroke="#1a1a1a" stroke-width="0.55" stroke-linejoin="round"/>
<path d="M1786.4,1719.1 1786.8,1719.8 1787.1,1720.5 1787.5,1721.2 1787.8,1721.8 1788.2,1722.5 1788.5,1723.1 1788.9,1723.7 1789.2,1724.3 1789.6,1724.9 1790.4,1726.1 1791.2,1727.2 1792.0,1728.3 1792.8,1729.1 1793.6,1729.9 1794.4,1730.5 1795.2,1730.9 1809.2,1731.0 1811.2,1730.8 1813.2,1730.1 1814.0,1729.6 1814.8,1729.1 1815.6,1728.7 1816.4,1728.3 1817.2,1728.1 1818.0,1728.1 1818.8,1728.3 1819.6,1728.6 1820.4,1729.1 1821.2,1729.6 1822.0,1730.0 1822.8,1730.4 1823.6,1730.6 1824.4,1730.8 1826.4,1731.0 1830.4,1731.0 1832.4,1730.8 1834.4,1730.0 1835.2,1729.7 1836.0,1729.6 1836.8,1729.7 1837.5,1729.9 1838.4,1730.3 1839.2,1730.6 1840.0,1730.8 1842.0,1731.0 1873.7,1731.0 1873.7,1731.2 1842.0,1731.2 1840.0,1731.3 1839.2,1731.5 1838.4,1731.8 1837.5,1732.2 1836.8,1732.5 1836.0,1732.6 1835.2,1732.4 1834.4,1732.1 1832.4,1731.3 1830.4,1731.2 1826.4,1731.2 1824.4,1731.3 1823.6,1731.5 1822.8,1731.7 1822.0,1732.1 1821.2,1732.5 1820.4,1733.0 1819.6,1733.5 1818.8,1733.8 1818.0,1734.0 1817.2,1734.0 1816.4,1733.8 1815.6,1733.4 1814.8,1733.0 1814.0,1732.5 1813.2,1732.1 1811.2,1731.4 1809.2,1731.2 1795.2,1731.2 1794.4,1731.6 1793.6,1732.2 1792.8,1733.0 1792.0,1733.9 1791.2,1734.9 1790.4,1736.0 1789.6,1737.3 1789.2,1737.8 1788.9,1738.4 1788.5,1739.0 1788.2,1739.7 1787.8,1740.3 1787.5,1741.0 1787.1,1741.6 1786.8,1742.3 1786.4,1743.1Z" fill="#00BF76" stroke="#1a1a1a" stroke-width="0.55" stroke-linejoin="round"/>
<path d="M1786.4,1762.7 1786.8,1763.4 1787.1,1764.1 1787.5,1764.8 1787.8,1765.5 1788.2,1766.1 1788.5,1766.7 1788.9,1767.3 1789.2,1767.9 1789.6,1768.5 1790.4,1769.7 1791.2,1770.9 1792.0,1771.9 1792.8,1772.8 1793.6,1773.5 1794.4,1774.2 1795.2,1774.6 1807.2,1774.6 1809.2,1774.4 1811.2,1773.8 1812.0,1773.3 1812.8,1772.8 1813.6,1772.1 1814.4,1771.5 1815.2,1770.8 1816.0,1770.2 1816.8,1769.8 1817.6,1769.7 1818.4,1769.8 1819.2,1770.2 1820.0,1770.7 1820.8,1771.4 1821.6,1772.1 1822.4,1772.7 1823.2,1773.3 1824.0,1773.7 1824.8,1774.1 1825.6,1774.3 1827.6,1774.6 1831.6,1774.6 1833.6,1774.1 1834.4,1773.8 1835.2,1773.6 1836.0,1773.5 1836.8,1773.6 1837.5,1773.8 1838.4,1774.1 1839.2,1774.4 1841.2,1774.6 1884.8,1774.6 1884.8,1774.8 1841.2,1774.8 1839.2,1775.0 1838.4,1775.3 1837.5,1775.6 1836.8,1775.8 1836.0,1775.9 1835.2,1775.8 1834.4,1775.6 1833.6,1775.3 1831.6,1774.8 1827.6,1774.8 1825.6,1775.1 1824.8,1775.3 1824.0,1775.7 1823.2,1776.1 1822.4,1776.7 1821.6,1777.3 1820.8,1778.0 1820.0,1778.7 1819.2,1779.2 1818.4,1779.6 1817.6,1779.7 1816.8,1779.6 1816.0,1779.2 1815.2,1778.6 1814.4,1777.9 1813.6,1777.3 1812.8,1776.6 1812.0,1776.1 1811.2,1775.6 1809.2,1775.0 1807.2,1774.8 1795.2,1774.8 1794.4,1775.2 1793.6,1775.9 1792.8,1776.6 1792.0,1777.5 1791.2,1778.5 1790.4,1779.7 1789.6,1780.9 1789.2,1781.5 1788.9,1782.1 1788.5,1782.7 1788.2,1783.3 1787.8,1783.9 1787.5,1784.6 1787.1,1785.3 1786.8,1786.0 1786.4,1786.7Z" fill="#00C098" stroke="#1a1a1a" stroke-width="0.55" stroke-linejoin="round"/>
<path d="M1786.4,1806.3 1786.8,1807.1 1787.1,1807.8 1787.5,1808.4 1787.8,1809.1 1788.2,1809.7 1788.5,1810.4 1788.9,1811.0 1789.2,1811.6 1789.6,1812.1 1790.4,1813.4 1791.2,1814.5 1792.0,1815.5 1792.8,1816.4 1793.6,1817.2 1794.4,1817.8 1795.2,1818.2 1807.2,1818.2 1809.2,1818.1 1811.2,1817.4 1812.0,1817.0 1812.8,1816.4 1813.6,1815.8 1814.4,1815.1 1815.2,1814.4 1816.0,1813.9 1816.8,1813.5 1817.6,1813.3 1818.4,1813.5 1819.2,1813.8 1820.0,1814.3 1820.8,1815.0 1821.6,1815.7 1822.4,1816.3 1823.2,1816.9 1824.0,1817.4 1824.8,1817.7 1825.6,1818.0 1827.6,1818.2 1831.6,1818.2 1833.6,1817.6 1834.4,1817.3 1835.2,1817.0 1836.0,1816.8 1836.8,1816.9 1837.5,1817.2 1838.4,1817.6 1839.2,1817.9 1840.0,1818.1 1842.0,1818.2 1844.0,1818.2 1846.0,1818.0 1848.0,1817.6 1848.8,1817.6 1849.5,1817.7 1850.4,1817.8 1851.2,1818.0 1853.2,1818.2 1893.7,1818.2 1893.7,1818.4 1853.2,1818.4 1851.2,1818.7 1850.4,1818.8 1849.5,1819.0 1848.8,1819.1 1848.0,1819.1 1846.0,1818.7 1844.0,1818.4 1842.0,1818.4 1840.0,1818.6 1839.2,1818.8 1838.4,1819.1 1837.5,1819.5 1836.8,1819.7 1836.0,1819.8 1835.2,1819.7 1834.4,1819.4 1833.6,1819.0 1831.6,1818.5 1827.6,1818.4 1825.6,1818.7 1824.8,1819.0 1824.0,1819.3 1823.2,1819.8 1822.4,1820.3 1821.6,1821.0 1820.8,1821.7 1820.0,1822.3 1819.2,1822.9 1818.4,1823.2 1817.6,1823.3 1816.8,1823.2 1816.0,1822.8 1815.2,1822.3 1814.4,1821.6 1813.6,1820.9 1812.8,1820.3 1812.0,1819.7 1811.2,1819.3 1809.2,1818.6 1807.2,1818.4 1795.2,1818.5 1794.4,1818.9 1793.6,1819.5 1792.8,1820.3 1792.0,1821.1 1791.2,1822.2 1790.4,1823.3 1789.6,1824.5 1789.2,1825.1 1788.9,1825.7 1788.5,1826.3 1788.2,1826.9 1787.8,1827.6 1787.5,1828.2 1787.1,1828.9 1786.8,1829.6 1786.4,1830.3Z" fill="#00C0B7" stroke="#1a1a1a" stroke-width="0.55" stroke-linejoin="round"/>
<path d="M1786.4,1850.0 1786.8,1850.7 1787.1,1851.4 1787.5,1852.1 1787.8,1852.7 1788.2,1853.4 1788.5,1854.0 1788.9,1854.6 1789.2,1855.2 1789.6,1855.8 1790.4,1857.0 1791.2,1858.2 1792.0,1859.2 1792.8,1860.1 1793.6,1860.8 1794.4,1861.4 1795.2,1861.8 1807.2,1861.9 1809.2,1861.7 1811.2,1861.2 1812.0,1860.8 1812.8,1860.3 1813.6,1859.7 1814.4,1859.1 1815.2,1858.5 1816.0,1858.0 1816.8,1857.6 1817.6,1857.5 1818.4,1857.6 1819.2,1857.9 1820.0,1858.4 1820.8,1859.0 1821.6,1859.6 1822.4,1860.2 1823.2,1860.7 1824.0,1861.1 1824.8,1861.4 1825.6,1861.6 1827.6,1861.9 1831.6,1861.9 1833.6,1861.3 1834.4,1860.9 1835.2,1860.6 1836.0,1860.5 1836.8,1860.6 1837.5,1860.9 1838.4,1861.2 1839.2,1861.5 1840.0,1861.8 1842.0,1861.9 1873.7,1861.9 1873.7,1862.1 1842.0,1862.1 1840.0,1862.2 1839.2,1862.4 1838.4,1862.7 1837.5,1863.1 1836.8,1863.4 1836.0,1863.5 1835.2,1863.4 1834.4,1863.0 1833.6,1862.7 1831.6,1862.1 1827.6,1862.1 1825.6,1862.3 1824.8,1862.5 1824.0,1862.8 1823.2,1863.3 1822.4,1863.8 1821.6,1864.4 1820.8,1865.0 1820.0,1865.6 1819.2,1866.1 1818.4,1866.4 1817.6,1866.5 1816.8,1866.3 1816.0,1866.0 1815.2,1865.5 1814.4,1864.9 1813.6,1864.3 1812.8,1863.7 1812.0,1863.2 1811.2,1862.8 1809.2,1862.2 1807.2,1862.1 1795.2,1862.1 1794.4,1862.5 1793.6,1863.1 1792.8,1863.9 1792.0,1864.8 1791.2,1865.8 1790.4,1866.9 1789.6,1868.2 1789.2,1868.7 1788.9,1869.3 1788.5,1869.9 1788.2,1870.6 1787.8,1871.2 1787.5,1871.9 1787.1,1872.6 1786.8,1873.3 1786.4,1874.0Z" fill="#00BDD1" stroke="#1a1a1a" stroke-width="0.55" stroke-linejoin="round"/>
<path d="M1786.4,1893.6 1786.8,1894.3 1787.1,1895.0 1787.5,1895.7 1787.8,1896.4 1788.2,1897.0 1788.5,1897.7 1788.9,1898.3 1789.2,1898.9 1789.6,1899.4 1790.4,1900.7 1791.2,1901.8 1792.0,1902.8 1792.8,1903.7 1793.6,1904.5 1794.4,1905.1 1795.2,1905.5 1807.2,1905.5 1809.2,1905.4 1811.2,1904.9 1812.0,1904.5 1812.8,1904.1 1813.6,1903.6 1814.4,1903.0 1815.2,1902.5 1816.0,1902.0 1816.8,1901.7 1817.6,1901.6 1818.4,1901.7 1819.2,1902.0 1820.0,1902.4 1820.8,1903.0 1821.6,1903.5 1822.4,1904.0 1823.2,1904.5 1824.0,1904.8 1824.8,1905.1 1825.6,1905.3 1827.6,1905.5 1831.6,1905.5 1833.6,1904.9 1834.4,1904.6 1835.2,1904.2 1836.0,1904.1 1836.8,1904.2 1837.5,1904.5 1838.4,1904.9 1839.2,1905.2 1840.0,1905.4 1842.0,1905.5 1866.7,1905.5 1866.7,1905.7 1842.0,1905.7 1840.0,1905.8 1839.2,1906.1 1838.4,1906.4 1837.5,1906.7 1836.8,1907.0 1836.0,1907.1 1835.2,1907.0 1834.4,1906.7 1833.6,1906.3 1831.6,1905.7 1827.6,1905.7 1825.6,1905.9 1824.8,1906.1 1824.0,1906.4 1823.2,1906.8 1822.4,1907.2 1821.6,1907.7 1820.8,1908.3 1820.0,1908.8 1819.2,1909.2 1818.4,1909.5 1817.6,1909.6 1816.8,1909.5 1816.0,1909.2 1815.2,1908.8 1814.4,1908.2 1813.6,1907.7 1812.8,1907.2 1812.0,1906.7 1811.2,1906.4 1809.2,1905.8 1807.2,1905.7 1795.2,1905.8 1794.4,1906.2 1793.6,1906.8 1792.8,1907.5 1792.0,1908.4 1791.2,1909.4 1790.4,1910.6 1789.6,1911.8 1789.2,1912.4 1788.9,1913.0 1788.5,1913.6 1788.2,1914.2 1787.8,1914.9 1787.5,1915.5 1787.1,1916.2 1786.8,1916.9 1786.4,1917.6Z" fill="#00B7E8" stroke="#1a1a1a" stroke-width="0.55" stroke-linejoin="round"/>
<path d="M1786.4,1937.3 1786.8,1938.0 1787.1,1938.7 1787.5,1939.4 1787.8,1940.0 1788.2,1940.7 1788.5,1941.3 1788.9,1941.9 1789.2,1942.5 1789.6,1943.1 1790.4,1944.3 1791.2,1945.4 1792.0,1946.5 1792.8,1947.3 1793.6,1948.1 1794.4,1948.7 1795.2,1949.1 1803.2,1949.2 1805.2,1949.1 1807.2,1948.8 1808.0,1948.6 1808.8,1948.4 1809.6,1948.2 1810.4,1947.9 1811.2,1947.5 1812.0,1947.1 1812.8,1946.8 1813.6,1946.4 1814.4,1946.0 1815.2,1945.7 1816.0,1945.5 1816.8,1945.3 1818.4,1945.3 1819.2,1945.4 1820.0,1945.7 1820.8,1946.0 1821.6,1946.3 1822.4,1946.7 1823.2,1947.1 1824.0,1947.5 1824.8,1947.8 1825.6,1948.1 1826.4,1948.4 1827.2,1948.6 1828.0,1948.8 1828.8,1948.9 1830.8,1949.1 1848.6,1949.2 1848.6,1949.4 1830.8,1949.4 1828.8,1949.6 1828.0,1949.7 1827.2,1949.9 1826.4,1950.1 1825.6,1950.4 1824.8,1950.7 1824.0,1951.0 1823.2,1951.4 1822.4,1951.8 1821.6,1952.2 1820.8,1952.5 1820.0,1952.8 1819.2,1953.1 1818.4,1953.2 1816.8,1953.2 1816.0,1953.0 1815.2,1952.8 1814.4,1952.5 1813.6,1952.1 1812.8,1951.8 1812.0,1951.4 1811.2,1951.0 1810.4,1950.7 1809.6,1950.4 1808.8,1950.1 1808.0,1949.9 1807.2,1949.7 1805.2,1949.4 1803.2,1949.4 1795.2,1949.4 1794.4,1949.8 1793.6,1950.4 1792.8,1951.2 1792.0,1952.1 1791.2,1953.1 1790.4,1954.2 1789.6,1955.5 1789.2,1956.0 1788.9,1956.6 1788.5,1957.2 1788.2,1957.9 1787.8,1958.5 1787.5,1959.2 1787.1,1959.8 1786.8,1960.5 1786.4,1961.3Z" fill="#00AEFA" stroke="#1a1a1a" stroke-width="0.55" stroke-linejoin="round"/>
<path d="M1786.4,1980.9 1786.8,1981.5 1787.1,1982.1 1787.5,1982.7 1787.8,1983.3 1788.2,1983.8 1788.5,1984.4 1788.9,1984.9 1789.2,1985.5 1789.6,1986.0 1790.4,1987.1 1791.2,1988.1 1792.0,1989.1 1792.8,1990.0 1793.6,1990.7 1794.4,1991.4 1795.2,1992.0 1796.0,1992.5 1796.8,1992.8 1800.8,1992.7 1802.8,1992.6 1804.8,1992.3 1805.6,1992.2 1806.4,1992.1 1807.2,1991.9 1808.0,1991.7 1808.8,1991.6 1809.6,1991.4 1810.4,1991.1 1811.2,1990.9 1812.0,1990.7 1812.8,1990.5 1813.6,1990.4 1814.4,1990.2 1815.2,1990.1 1816.0,1989.9 1817.6,1989.8 1820.8,1990.0 1821.6,1990.1 1822.4,1990.2 1823.2,1990.3 1824.0,1990.4 1824.8,1990.6 1825.6,1990.7 1826.4,1990.8 1827.2,1990.9 1828.0,1991.0 1828.8,1991.1 1829.6,1991.2 1830.4,1991.3 1831.2,1991.4 1832.0,1991.5 1832.8,1991.6 1833.5,1991.7 1834.4,1991.8 1835.2,1991.9 1836.0,1992.1 1836.8,1992.2 1837.5,1992.3 1838.4,1992.4 1839.2,1992.4 1840.0,1992.5 1842.0,1992.7 1844.0,1992.8 1848.6,1992.8 1848.6,1993.0 1844.0,1993.0 1842.0,1993.1 1840.0,1993.3 1839.2,1993.4 1838.4,1993.4 1837.5,1993.5 1836.8,1993.6 1836.0,1993.7 1835.2,1993.9 1834.4,1994.0 1833.5,1994.1 1832.8,1994.2 1832.0,1994.3 1831.2,1994.4 1830.4,1994.5 1829.6,1994.6 1828.8,1994.7 1828.0,1994.8 1827.2,1994.9 1826.4,1995.0 1825.6,1995.1 1824.8,1995.2 1824.0,1995.4 1823.2,1995.5 1822.4,1995.6 1821.6,1995.7 1820.8,1995.8 1817.6,1996.0 1816.0,1995.9 1815.2,1995.7 1814.4,1995.6 1813.6,1995.4 1812.8,1995.3 1812.0,1995.1 1811.2,1994.9 1810.4,1994.7 1809.6,1994.4 1808.8,1994.2 1808.0,1994.1 1807.2,1993.9 1806.4,1993.7 1805.6,1993.6 1804.8,1993.5 1802.8,1993.2 1800.8,1993.1 1796.8,1993.0 1796.0,1993.3 1795.2,1993.8 1794.4,1994.4 1793.6,1995.1 1792.8,1995.8 1792.0,1996.7 1791.2,1997.7 1790.4,1998.7 1789.6,1999.8 1789.2,2000.3 1788.9,2000.9 1788.5,2001.4 1788.2,2002.0 1787.8,2002.5 1787.5,2003.1 1787.1,2003.7 1786.8,2004.3 1786.4,2004.9Z" fill="#3DA1FF" stroke="#1a1a1a" stroke-width="0.55" stroke-linejoin="round"/>
<path d="M1786.4,2025.5 1786.8,2029.2 1787.1,2032.3 1787.5,2034.7 1787.8,2036.3 1789.8,2036.4 1813.8,2036.4 1815.8,2036.2 1817.8,2036.0 1818.6,2036.1 1819.4,2036.2 1821.4,2036.4 1831.4,2036.4 1833.4,2036.3 1835.4,2036.1 1837.0,2036.1 1837.8,2036.2 1839.8,2036.4 1866.7,2036.4 1866.7,2036.6 1839.8,2036.6 1837.8,2036.9 1837.0,2037.0 1835.4,2037.0 1833.4,2036.8 1831.4,2036.6 1821.4,2036.6 1819.4,2036.9 1818.6,2037.0 1817.8,2037.0 1815.8,2036.9 1813.8,2036.6 1789.8,2036.6 1787.8,2036.8 1787.5,2038.3 1787.1,2040.7 1786.8,2043.8 1786.4,2047.5Z" fill="#8F91FF" stroke="#1a1a1a" stroke-width="0.55" stroke-linejoin="round"/>
<path d="M1786.4,2068.2 1786.8,2069.0 1787.1,2069.9 1787.5,2070.7 1787.8,2071.5 1788.2,2072.2 1788.5,2072.9 1788.9,2073.6 1789.2,2074.3 1789.6,2075.0 1790.4,2076.3 1791.2,2077.6 1792.0,2078.6 1792.8,2079.4 1793.6,2080.0 1795.6,2080.1 1811.6,2080.1 1813.6,2079.9 1815.6,2079.3 1816.4,2079.1 1817.2,2079.0 1818.0,2079.0 1818.8,2079.1 1819.6,2079.3 1820.4,2079.5 1821.2,2079.7 1822.0,2079.9 1824.0,2080.1 1830.0,2080.1 1832.0,2079.9 1834.0,2079.3 1834.8,2079.1 1835.6,2079.0 1836.4,2079.0 1837.2,2079.1 1838.0,2079.3 1838.8,2079.5 1839.5,2079.7 1840.4,2079.9 1842.4,2080.1 1897.5,2080.1 1897.5,2080.3 1842.4,2080.3 1840.4,2080.4 1839.5,2080.6 1838.8,2080.8 1838.0,2081.1 1837.2,2081.3 1836.4,2081.4 1835.6,2081.4 1834.8,2081.2 1834.0,2081.0 1832.0,2080.5 1830.0,2080.3 1824.0,2080.3 1822.0,2080.4 1821.2,2080.6 1820.4,2080.8 1819.6,2081.1 1818.8,2081.3 1818.0,2081.4 1817.2,2081.4 1816.4,2081.2 1815.6,2081.0 1813.6,2080.5 1811.6,2080.3 1795.6,2080.3 1793.6,2080.4 1792.8,2081.0 1792.0,2081.8 1791.2,2082.8 1790.4,2084.0 1789.6,2085.4 1789.2,2086.0 1788.9,2086.7 1788.5,2087.4 1788.2,2088.1 1787.8,2088.9 1787.5,2089.7 1787.1,2090.5 1786.8,2091.3 1786.4,2092.2Z" fill="#BE80FF" stroke="#1a1a1a" stroke-width="0.55" stroke-linejoin="round"/>
<path d="M1786.4,2112.8 1786.8,2115.9 1787.1,2118.7 1787.5,2120.9 1787.8,2122.6 1788.2,2123.7 1848.6,2123.7 1848.6,2123.9 1788.2,2123.9 1787.8,2125.0 1787.5,2126.7 1787.1,2129.0 1786.8,2131.7 1786.4,2134.8Z" fill="#DE71F9" stroke="#1a1a1a" stroke-width="0.55" stroke-linejoin="round"/>
<path d="M1786.4,2156.5 1786.8,2159.6 1787.1,2162.3 1787.5,2164.6 1787.8,2166.3 1788.2,2167.3 1814.2,2167.3 1816.2,2167.0 1817.0,2166.9 1818.6,2166.9 1819.4,2167.1 1820.2,2167.2 1822.2,2167.4 1835.9,2167.4 1835.9,2167.6 1822.2,2167.6 1820.2,2167.7 1819.4,2167.9 1818.6,2168.0 1817.0,2168.0 1816.2,2167.9 1814.2,2167.6 1788.2,2167.6 1787.8,2168.6 1787.5,2170.4 1787.1,2172.6 1786.8,2175.3 1786.4,2178.5Z" fill="#F265E7" stroke="#1a1a1a" stroke-width="0.55" stroke-linejoin="round"/>
<path d="M1786.4,2200.1 1786.8,2202.5 1787.1,2204.6 1787.5,2206.5 1787.8,2208.2 1788.2,2209.5 1788.5,2210.6 1788.9,2211.0 1848.6,2211.0 1848.6,2211.2 1788.9,2211.2 1788.5,2211.6 1788.2,2212.7 1787.8,2214.0 1787.5,2215.7 1787.1,2217.6 1786.8,2219.7 1786.4,2222.1Z" fill="#FE61CF" stroke="#1a1a1a" stroke-width="0.55" stroke-linejoin="round"/>
<path d="M1786.4,2242.7 1786.8,2243.4 1787.1,2244.0 1787.5,2244.5 1787.8,2245.1 1788.2,2245.7 1788.5,2246.2 1788.9,2246.8 1789.2,2247.3 1789.6,2247.8 1790.4,2248.9 1791.2,2250.0 1792.0,2250.9 1792.8,2251.8 1793.6,2252.6 1794.4,2253.3 1795.2,2253.9 1796.0,2254.3 1796.8,2254.6 1806.8,2254.6 1808.8,2254.5 1810.8,2254.2 1811.6,2253.9 1812.4,2253.7 1813.2,2253.4 1814.0,2253.1 1814.8,2252.8 1815.6,2252.5 1816.4,2252.4 1817.2,2252.3 1818.0,2252.2 1818.8,2252.3 1819.6,2252.5 1820.4,2252.8 1821.2,2253.1 1822.0,2253.4 1822.8,2253.6 1823.6,2253.9 1824.4,2254.1 1825.2,2254.3 1826.0,2254.5 1828.0,2254.6 1848.6,2254.6 1848.6,2254.8 1828.0,2254.8 1826.0,2255.0 1825.2,2255.2 1824.4,2255.3 1823.6,2255.6 1822.8,2255.8 1822.0,2256.1 1821.2,2256.4 1820.4,2256.7 1819.6,2257.0 1818.8,2257.1 1818.0,2257.2 1817.2,2257.2 1816.4,2257.1 1815.6,2256.9 1814.8,2256.7 1814.0,2256.4 1813.2,2256.1 1812.4,2255.8 1811.6,2255.5 1810.8,2255.3 1808.8,2255.0 1806.8,2254.8 1796.8,2254.8 1796.0,2255.1 1795.2,2255.6 1794.4,2256.2 1793.6,2256.9 1792.8,2257.7 1792.0,2258.6 1791.2,2259.5 1790.4,2260.6 1789.6,2261.7 1789.2,2262.2 1788.9,2262.7 1788.5,2263.2 1788.2,2263.8 1787.8,2264.4 1787.5,2264.9 1787.1,2265.5 1786.8,2266.1 1786.4,2266.7Z" fill="#FF64B3" stroke="#1a1a1a" stroke-width="0.55" stroke-linejoin="round"/>
<path d="M1786.4,2286.4 1786.8,2286.9 1787.1,2287.4 1787.5,2288.0 1787.8,2288.5 1788.2,2289.0 1788.5,2289.5 1788.9,2289.9 1789.2,2290.4 1789.6,2290.9 1790.4,2291.9 1791.2,2292.8 1792.0,2293.7 1792.8,2294.6 1793.6,2295.3 1794.4,2296.1 1795.2,2296.7 1796.0,2297.2 1796.8,2297.7 1797.6,2298.1 1799.6,2298.3 1805.6,2298.2 1807.6,2298.0 1809.6,2297.6 1810.4,2297.3 1811.2,2297.1 1812.0,2296.8 1812.8,2296.5 1813.6,2296.2 1814.4,2296.0 1815.2,2295.7 1816.0,2295.5 1816.8,2295.4 1818.4,2295.4 1819.2,2295.5 1820.0,2295.7 1820.8,2295.9 1821.6,2296.2 1822.4,2296.5 1823.2,2296.8 1824.0,2297.0 1824.8,2297.3 1825.6,2297.5 1826.4,2297.7 1827.2,2297.9 1828.0,2298.0 1830.0,2298.2 1832.0,2298.2 1834.0,2297.9 1834.8,2297.7 1835.5,2297.6 1836.4,2297.6 1837.2,2297.7 1838.0,2297.9 1838.8,2298.1 1840.8,2298.3 1848.6,2298.3 1848.6,2298.5 1840.8,2298.5 1838.8,2298.7 1838.0,2298.9 1837.2,2299.1 1836.4,2299.2 1835.5,2299.2 1834.8,2299.0 1834.0,2298.9 1832.0,2298.5 1830.0,2298.5 1828.0,2298.7 1827.2,2298.9 1826.4,2299.0 1825.6,2299.2 1824.8,2299.5 1824.0,2299.7 1823.2,2300.0 1822.4,2300.3 1821.6,2300.6 1820.8,2300.8 1820.0,2301.1 1819.2,2301.2 1818.4,2301.3 1816.8,2301.3 1816.0,2301.2 1815.2,2301.0 1814.4,2300.8 1813.6,2300.5 1812.8,2300.3 1812.0,2300.0 1811.2,2299.7 1810.4,2299.4 1809.6,2299.2 1807.6,2298.8 1805.6,2298.5 1799.6,2298.5 1797.6,2298.7 1796.8,2299.1 1796.0,2299.5 1795.2,2300.1 1794.4,2300.7 1793.6,2301.4 1792.8,2302.2 1792.0,2303.0 1791.2,2303.9 1790.4,2304.9 1789.6,2305.9 1789.2,2306.3 1788.9,2306.8 1788.5,2307.3 1788.2,2307.8 1787.8,2308.3 1787.5,2308.8 1787.1,2309.3 1786.8,2309.8 1786.4,2310.4Z" fill="#FF6C92" stroke="#1a1a1a" stroke-width="0.55" stroke-linejoin="round"/>
<rect x="174.90" y="1310.50" width="208.60" height="1012.80" fill="none" stroke="#000" stroke-width="3.4"/>
<rect x="432.70" y="1310.50" width="99.30" height="1012.80" fill="none" stroke="#000" stroke-width="3.4"/>
<rect x="605.90" y="1310.50" width="62.20" height="1012.80" fill="none" stroke="#000" stroke-width="3.4"/>
<rect x="750.00" y="1310.50" width="125.40" height="1012.80" fill="none" stroke="#000" stroke-width="3.4"/>
<rect x="970.20" y="1310.50" width="104.30" height="1012.80" fill="none" stroke="#000" stroke-width="3.4"/>
<rect x="1136.80" y="1310.50" width="79.70" height="1012.80" fill="none" stroke="#000" stroke-width="3.4"/>
<rect x="1283.80" y="1310.50" width="101.60" height="1012.80" fill="none" stroke="#000" stroke-width="3.4"/>
<rect x="1416.70" y="1310.50" width="122.70" height="1012.80" fill="none" stroke="#000" stroke-width="3.4"/>
<rect x="1584.30" y="1310.50" width="141.60" height="1012.80" fill="none" stroke="#000" stroke-width="3.4"/>
<rect x="1769.60" y="1310.50" width="140.40" height="1012.80" fill="none" stroke="#000" stroke-width="3.4"/>
<text x="812.2" y="1239.5" font-size="22.1" text-anchor="middle" fill="#000">Normalized</text>
<text x="812.2" y="1264.6" font-size="22.1" text-anchor="middle" fill="#000">expression</text>
<line x1="762.7" y1="1299.5" x2="762.7" y2="1310.5" stroke="#000" stroke-width="3"/>
<text x="763.2" y="1292.0" font-size="21.5" text-anchor="middle" fill="#000">0</text>
<line x1="811.0" y1="1299.5" x2="811.0" y2="1310.5" stroke="#000" stroke-width="3"/>
<text x="811.5" y="1292.0" font-size="21.5" text-anchor="middle" fill="#000">2</text>
<line x1="859.4" y1="1299.5" x2="859.4" y2="1310.5" stroke="#000" stroke-width="3"/>
<text x="859.9" y="1292.0" font-size="21.5" text-anchor="middle" fill="#000">4</text>
<text x="1478.9" y="1241.0" font-size="22.1" text-anchor="middle" fill="#000">Normalized</text>
<text x="1478.9" y="1266.6" font-size="22.1" text-anchor="middle" fill="#000">expression</text>
<line x1="1430.3" y1="1299.5" x2="1430.3" y2="1310.5" stroke="#000" stroke-width="3"/>
<text x="1430.8" y="1294.2" font-size="21.5" text-anchor="middle" fill="#000">0</text>
<line x1="1478.2" y1="1299.5" x2="1478.2" y2="1310.5" stroke="#000" stroke-width="3"/>
<text x="1478.7" y="1294.2" font-size="21.5" text-anchor="middle" fill="#000">1</text>
<line x1="1526.2" y1="1299.5" x2="1526.2" y2="1310.5" stroke="#000" stroke-width="3"/>
<text x="1526.7" y="1294.2" font-size="21.5" text-anchor="middle" fill="#000">2</text>
<text x="1834.7" y="1238.8" font-size="22.1" text-anchor="middle" fill="#000">Normalized</text>
<text x="1834.7" y="1264.8" font-size="22.1" text-anchor="middle" fill="#000">expression</text>
<line x1="1785.6" y1="1299.5" x2="1785.6" y2="1310.5" stroke="#000" stroke-width="3"/>
<text x="1786.1" y="1291.5" font-size="21.5" text-anchor="middle" fill="#000">0</text>
<line x1="1834.0" y1="1299.5" x2="1834.0" y2="1310.5" stroke="#000" stroke-width="3"/>
<text x="1834.5" y="1291.5" font-size="21.5" text-anchor="middle" fill="#000">1</text>
<line x1="1882.0" y1="1299.5" x2="1882.0" y2="1310.5" stroke="#000" stroke-width="3"/>
<text x="1882.5" y="1291.5" font-size="21.5" text-anchor="middle" fill="#000">2</text>
<text x="281.8" y="1300.6" font-size="22.4" text-anchor="middle" fill="#ff2c90">rs7820838</text>
<text x="484.2" y="1298.0" font-size="22.4" text-anchor="middle" fill="#ff2c90">rs4236709</text>
<text x="637.0" y="1298.0" font-size="22.4" text-anchor="middle" fill="#ff2c90">rs2439312</text>
<text x="1023.2" y="1272.2" font-size="22.4" text-anchor="middle" fill="#ff2c90">rs12286604</text>
<text x="1023.2" y="1297.7" font-size="22.4" text-anchor="middle" fill="#ff2c90">rs11216819</text>
<text x="1177.6" y="1298.3" font-size="22.4" text-anchor="middle" fill="#ff2c90">rs3802866</text>
<text x="1336.3" y="1244.6" font-size="22.4" text-anchor="middle" fill="#ff2c90">rs1793156</text>
<text x="1336.3" y="1270.7" font-size="22.4" text-anchor="middle" fill="#ff2c90">rs1793155</text>
<text x="1336.3" y="1296.8" font-size="22.4" text-anchor="middle" fill="#ff2c90">rs3802863</text>
<text x="1654.6" y="1244.3" font-size="22.4" text-anchor="middle" fill="#ff2c90">rs12280557</text>
<text x="1654.6" y="1270.1" font-size="22.4" text-anchor="middle" fill="#ff2c90">rs17092740</text>
<text x="1654.6" y="1295.9" font-size="22.4" text-anchor="middle" fill="#ff2c90">rs7117544</text>
<polygon points="175.6,2333.6 385.6,2333.6 385.6,2494.4 231.0,2494.4" fill="#ebebeb" stroke="none" stroke-width="0"/>
<polygon points="432.0,2333.6 532.9,2333.6 680.0,2494.4 636.1,2494.4" fill="#ebebeb" stroke="none" stroke-width="0"/>
<polygon points="605.5,2333.6 669.5,2333.6 815.1,2494.4 793.1,2494.4" fill="#ebebeb" stroke="none" stroke-width="0"/>
<polygon points="969.6,2333.6 1075.3,2333.6 1249.0,2491.0 1230.8,2491.0" fill="#ebebeb" stroke="none" stroke-width="0"/>
<polygon points="1136.0,2333.6 1218.3,2333.6 1446.8,2488.5 1419.3,2488.5" fill="#ebebeb" stroke="none" stroke-width="0"/>
<polygon points="1283.4,2333.6 1387.0,2333.6 1518.5,2485.0 1492.0,2485.0" fill="#ebebeb" stroke="none" stroke-width="0"/>
<polygon points="1586.0,2333.0 1729.0,2333.0 1875.8,2489.3 1847.1,2489.3" fill="#ebebeb" stroke="none" stroke-width="0"/>
<text x="275.0" y="2345.2" font-size="15" text-anchor="middle" fill="#000">chr8</text>
<text x="275.0" y="2364.4" font-size="15" text-anchor="middle" fill="#000">32547586-32549359</text>
<text x="484.0" y="2345.2" font-size="15" text-anchor="middle" fill="#000">chr8</text>
<text x="484.0" y="2364.4" font-size="15" text-anchor="middle" fill="#000">32552186-32552663</text>
<text x="637.5" y="2345.2" font-size="15" text-anchor="middle" fill="#000">chr8</text>
<text x="637.5" y="2364.4" font-size="15" text-anchor="middle" fill="#000">32554688-32554982</text>
<text x="815.0" y="2345.2" font-size="15" text-anchor="middle" fill="#000" font-style="italic">NRG1</text>
<text x="815.0" y="2364.4" font-size="15" text-anchor="middle" fill="#000">expression</text>
<text x="1017.3" y="2345.2" font-size="15" text-anchor="middle" fill="#000">chr11</text>
<text x="1017.3" y="2364.4" font-size="15" text-anchor="middle" fill="#000">118213992-118214752</text>
<text x="1173.6" y="2345.2" font-size="15" text-anchor="middle" fill="#000">chr11</text>
<text x="1173.6" y="2364.4" font-size="15" text-anchor="middle" fill="#000">118224548-118225201</text>
<text x="1336.2" y="2345.2" font-size="15" text-anchor="middle" fill="#000">chr11</text>
<text x="1336.2" y="2364.4" font-size="15" text-anchor="middle" fill="#000">118227496-118228719</text>
<text x="1477.3" y="2345.2" font-size="15" text-anchor="middle" fill="#000" font-style="italic">JAML</text>
<text x="1477.3" y="2364.4" font-size="15" text-anchor="middle" fill="#000">expression</text>
<text x="1654.0" y="2345.2" font-size="15" text-anchor="middle" fill="#000">chr11</text>
<text x="1654.0" y="2364.4" font-size="15" text-anchor="middle" fill="#000">118245900-118247429</text>
<text x="1841.4" y="2345.2" font-size="15" text-anchor="middle" fill="#000" font-style="italic">MPZL3</text>
<text x="1841.4" y="2364.4" font-size="15" text-anchor="middle" fill="#000">expression</text>
<rect x="175.00" y="2446.00" width="699.20" height="72.00" fill="none" stroke="#000" stroke-width="3.4"/>
<rect x="969.90" y="2446.00" width="939.60" height="72.00" fill="none" stroke="#000" stroke-width="3.4"/>
<line x1="176.7" y1="2496.0" x2="872.5" y2="2496.0" stroke="#0d0d96" stroke-width="2.8"/>
<rect x="286.50" y="2489.80" width="55.40" height="13.40" fill="#0d0d96" stroke="none" stroke-width="0"/>
<line x1="203.8" y1="2477.3" x2="240.0" y2="2477.3" stroke="#0d0d96" stroke-width="2.6"/>
<polygon points="251.6,2477.3 236.0,2470.3 236.0,2484.3" fill="#0d0d96" stroke="none" stroke-width="0"/>
<text x="531.8" y="2480.5" font-size="30" text-anchor="middle" fill="#000" font-style="italic">NRG1</text>
<line x1="355.7" y1="2519.5" x2="355.7" y2="2528.8" stroke="#000" stroke-width="3"/>
<line x1="537.6" y1="2519.5" x2="537.6" y2="2528.8" stroke="#000" stroke-width="3"/>
<line x1="718.0" y1="2519.5" x2="718.0" y2="2528.8" stroke="#000" stroke-width="3"/>
<text x="214.7" y="2552.5" font-size="22.5" text-anchor="middle" fill="#000">chr8</text>
<text x="356.6" y="2552.5" font-size="22.5" text-anchor="middle" fill="#000">32549000</text>
<text x="534.7" y="2552.5" font-size="22.5" text-anchor="middle" fill="#000">32551000</text>
<text x="719.5" y="2552.5" font-size="22.5" text-anchor="middle" fill="#000">32553000</text>
<line x1="971.6" y1="2496.0" x2="1907.8" y2="2496.0" stroke="#0d0d96" stroke-width="2.8"/>
<rect x="978.70" y="2490.00" width="97.50" height="12.70" fill="#0d0d96" stroke="none" stroke-width="0"/>
<rect x="1080.70" y="2490.00" width="6.10" height="12.70" fill="#0d0d96" stroke="none" stroke-width="0"/>
<rect x="1171.30" y="2490.00" width="6.10" height="12.70" fill="#0d0d96" stroke="none" stroke-width="0"/>
<rect x="1209.00" y="2490.00" width="3.70" height="12.70" fill="#0d0d96" stroke="none" stroke-width="0"/>
<rect x="1216.30" y="2490.00" width="12.40" height="12.70" fill="#0d0d96" stroke="none" stroke-width="0"/>
<rect x="1482.00" y="2490.00" width="62.70" height="12.70" fill="#0d0d96" stroke="none" stroke-width="0"/>
<rect x="1255.50" y="2490.30" width="2.00" height="12.20" fill="#0d0d96" stroke="none" stroke-width="0"/>
<rect x="1430.20" y="2490.30" width="1.60" height="12.20" fill="#0d0d96" stroke="none" stroke-width="0"/>
<rect x="1611.20" y="2490.30" width="1.80" height="12.20" fill="#0d0d96" stroke="none" stroke-width="0"/>
<rect x="1650.40" y="2490.30" width="3.20" height="12.20" fill="#0d0d96" stroke="none" stroke-width="0"/>
<rect x="1680.40" y="2490.30" width="3.20" height="12.20" fill="#0d0d96" stroke="none" stroke-width="0"/>
<rect x="1741.00" y="2490.30" width="3.20" height="12.20" fill="#0d0d96" stroke="none" stroke-width="0"/>
<path d="M1447.3,2502.6 L1447.3,2477.7 L1416,2477.7" fill="none" stroke="#0d0d96" stroke-width="2.6"/>
<polygon points="1403.0,2477.7 1418.5,2470.7 1418.5,2484.7" fill="#0d0d96" stroke="none" stroke-width="0"/>
<line x1="1811.3" y1="2477.7" x2="1780.0" y2="2477.7" stroke="#0d0d96" stroke-width="2.6"/>
<polygon points="1766.4,2477.7 1781.9,2470.7 1781.9,2484.7" fill="#0d0d96" stroke="none" stroke-width="0"/>
<text x="1330.1" y="2480.3" font-size="30.3" text-anchor="middle" fill="#000" font-style="italic">JAML</text>
<text x="1595.5" y="2480.3" font-size="29.1" text-anchor="middle" fill="#000" font-style="italic">MPZL3</text>
<line x1="1163.2" y1="2519.5" x2="1163.2" y2="2528.8" stroke="#000" stroke-width="3"/>
<line x1="1353.5" y1="2519.5" x2="1353.5" y2="2528.8" stroke="#000" stroke-width="3"/>
<line x1="1543.3" y1="2519.5" x2="1543.3" y2="2528.8" stroke="#000" stroke-width="3"/>
<line x1="1734.2" y1="2519.5" x2="1734.2" y2="2528.8" stroke="#000" stroke-width="3"/>
<text x="1034.5" y="2552.5" font-size="22.5" text-anchor="middle" fill="#000">chr11</text>
<text x="1165.0" y="2552.5" font-size="22.5" text-anchor="middle" fill="#000">118210000</text>
<text x="1354.6" y="2552.5" font-size="22.5" text-anchor="middle" fill="#000">118220000</text>
<text x="1544.2" y="2552.5" font-size="22.5" text-anchor="middle" fill="#000">1182230000</text>
<text x="1734.4" y="2552.5" font-size="22.5" text-anchor="middle" fill="#000">1182240000</text>
<path d="M280.1,2371.8 C539.5,2470.9 588.3,2432.3 814.5,2372.9" fill="none" stroke="#16ad52" stroke-width="3.2"/>
<path d="M483.1,2371.8 C656.3,2447.2 641.2,2457.6 814.5,2372.9" fill="none" stroke="#16ad52" stroke-width="3.2"/>
<path d="M636.9,2371.8 C725.6,2461.1 745.8,2442.1 814.5,2372.9" fill="none" stroke="#16ad52" stroke-width="3.2"/>
<path d="M1012.7,2371.5 C1242.6,2466.3 1288.9,2436.7 1475.5,2372.1" fill="none" stroke="#16ad52" stroke-width="3.2"/>
<path d="M1167.6,2371.5 C1370.5,2466.9 1315.3,2438.7 1475.5,2372.1" fill="none" stroke="#16ad52" stroke-width="3.2"/>
<path d="M1325.5,2371.5 C1374.6,2402.3 1384.1,2490.8 1475.5,2372.1" fill="none" stroke="#16ad52" stroke-width="3.2"/>
<path d="M1651.4,2371.4 C1726.9,2470.0 1770.4,2431.9 1835.3,2372.4" fill="none" stroke="#16ad52" stroke-width="3.2"/></svg></body></html>
